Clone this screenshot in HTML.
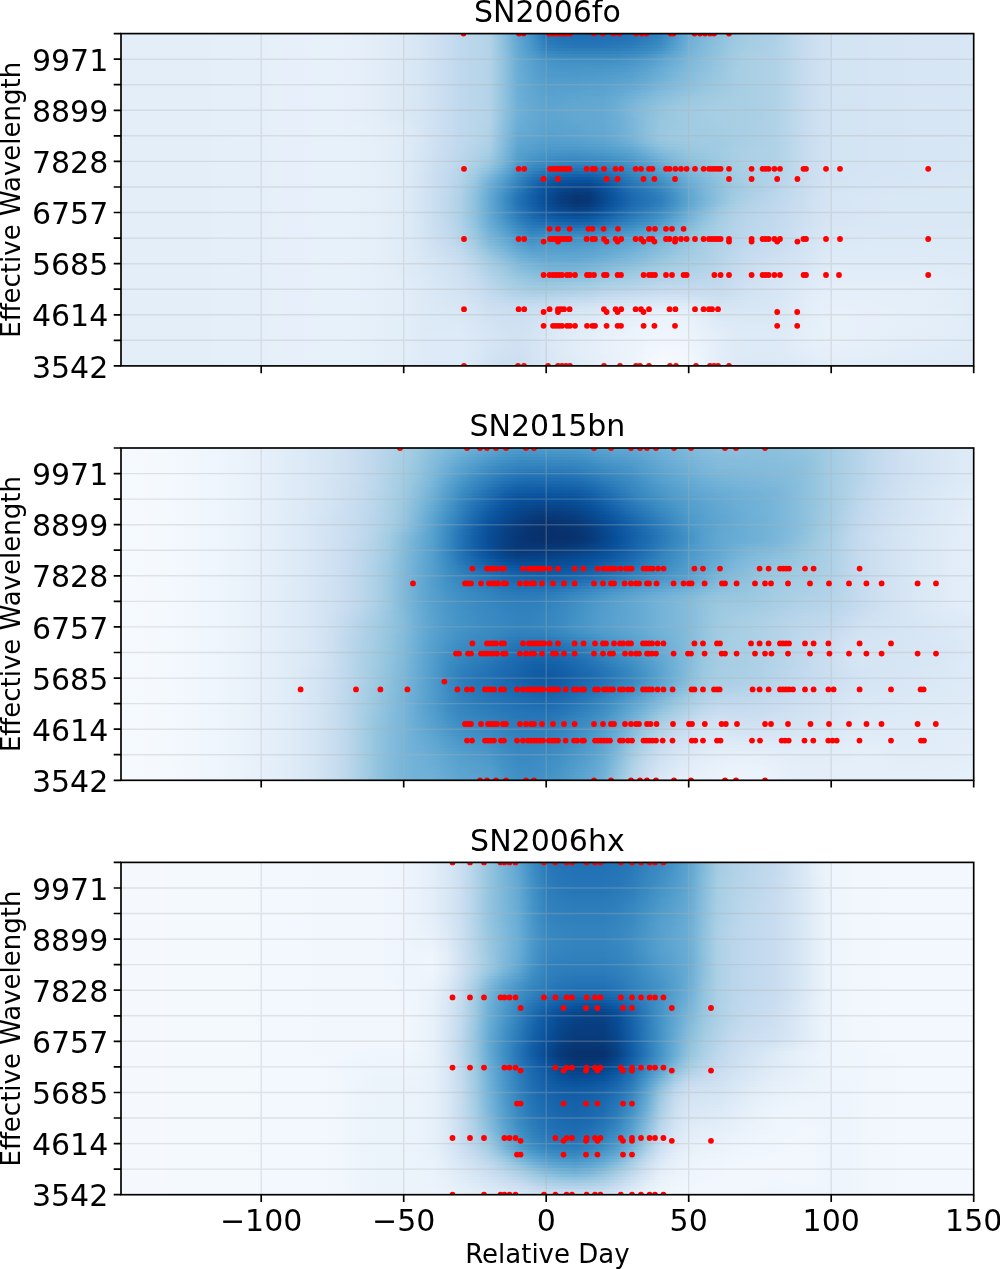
<!DOCTYPE html>
<html><head><meta charset="utf-8"><title>Light curve surfaces</title>
<style>
html,body{margin:0;padding:0;background:#fff}
body{width:1000px;height:1269px;position:relative;overflow:hidden;font-family:"DejaVu Sans","Liberation Sans",sans-serif}
.hm{position:absolute;left:121.0px;width:852.7px;overflow:hidden}
.hm i{display:block;height:3px;width:855.0px;margin-left:-2.3px}
svg{position:absolute;left:0;top:0}
text{font-family:"DejaVu Sans","Liberation Sans",sans-serif;fill:#000}
.t{font-size:30px}
.l{font-size:26px}
.g{stroke:#b0b0b0;stroke-opacity:.3;stroke-width:1.4;fill:none}
.s{stroke:#000;stroke-width:1.67;fill:none}
.d{fill:#f00}
</style></head><body>

<div class="hm" style="top:33px;height:333px">
<i style="background:linear-gradient(90deg,#e3eef9,#e3eef9,#e3eef9,#e3eef9,#e3eef9,#e3eef9,#e3eef9,#e4eff9,#e4eff9,#e5eff9,#e5eff9,#e6f0f9,#e7f0fa,#e7f0fa,#e7f1fa,#e7f1fa,#e7f0fa,#e5eff9,#e2edf8,#dfebf7,#dce9f6,#d6e6f4,#d0e1f2,#c9ddf0,#bfd8ed,#bad6eb,#b3d3e8,#8cc0dd,#61a7d2,#4493c7,#2676b8,#2070b4,#1f6eb3,#1f6eb3,#1f6eb3,#2070b4,#2373b6,#2a7ab9,#3484bf,#4d99ca,#6caed6,#7db8da,#8cc0dd,#9ac8e0,#a3cce3,#a8cee4,#add0e6,#b8d5ea,#c6dbef,#cde0f1,#d2e3f3,#d3e4f3,#d4e4f4,#d5e5f4,#d5e5f4,#d6e5f4,#d6e6f4,#d6e6f4,#d7e6f5,#d7e6f5,#d8e7f5)"></i>
<i style="background:linear-gradient(90deg,#e3eef9,#e3eef9,#e3eef9,#e3eef9,#e3eef9,#e3eef9,#e3eef9,#e4eff9,#e4eff9,#e5eff9,#e5eff9,#e6f0f9,#e7f0fa,#e7f0fa,#e7f1fa,#e7f1fa,#e7f0fa,#e5eff9,#e2edf8,#dfebf7,#dce9f6,#d6e6f4,#d0e1f2,#c9ddf0,#bfd8ed,#bad6eb,#b3d3e8,#8cc0dd,#61a7d2,#4493c7,#2777b8,#2272b6,#2070b4,#2070b4,#2070b4,#2171b5,#2575b7,#2c7cba,#3585bf,#4e9acb,#6caed6,#7db8da,#8cc0dd,#9ac8e0,#a4cce3,#a8cee4,#add0e6,#b9d6ea,#c6dbef,#cde0f1,#d2e3f3,#d3e4f3,#d4e4f4,#d5e5f4,#d5e5f4,#d6e5f4,#d6e6f4,#d6e6f4,#d7e6f5,#d7e6f5,#d8e7f5)"></i>
<i style="background:linear-gradient(90deg,#e3eef9,#e3eef9,#e3eef9,#e3eef9,#e3eef9,#e3eef9,#e3eef9,#e4eff9,#e4eff9,#e5eff9,#e5eff9,#e6f0f9,#e7f0fa,#e7f0fa,#e7f1fa,#e7f1fa,#e7f0fa,#e5eff9,#e2edf8,#dfebf7,#dce9f6,#d6e6f4,#d0e1f2,#c9ddf0,#bfd8ed,#bad6eb,#b3d3e8,#8cc0dd,#61a7d2,#4594c7,#2a7ab9,#2474b7,#2272b6,#2272b6,#2272b6,#2373b6,#2777b8,#2e7ebc,#3888c1,#519ccc,#6dafd7,#7fb9da,#8dc1dd,#9ac8e0,#a4cce3,#a9cfe5,#add0e6,#b9d6ea,#c6dbef,#cde0f1,#d2e3f3,#d3e4f3,#d4e4f4,#d5e5f4,#d5e5f4,#d6e5f4,#d6e6f4,#d6e6f4,#d7e6f5,#d7e6f5,#d8e7f5)"></i>
<i style="background:linear-gradient(90deg,#e3eef9,#e3eef9,#e3eef9,#e3eef9,#e3eef9,#e3eef9,#e3eef9,#e4eff9,#e4eff9,#e5eff9,#e5eff9,#e6f0f9,#e7f0fa,#e7f0fa,#e7f1fa,#e7f1fa,#e7f0fa,#e5eff9,#e2edf8,#dfebf7,#dce9f6,#d6e6f4,#d0e1f2,#c9ddf0,#bfd8ed,#bad6eb,#b3d3e8,#8dc1dd,#63a8d3,#4695c8,#2c7cba,#2676b8,#2474b7,#2474b7,#2474b7,#2676b8,#2a7ab9,#3181bd,#3a8ac2,#539ecd,#6fb0d7,#7fb9da,#8dc1dd,#9cc9e1,#a4cce3,#a9cfe5,#aed1e7,#b9d6ea,#c6dbef,#cde0f1,#d2e3f3,#d3e4f3,#d4e4f4,#d5e5f4,#d5e5f4,#d6e5f4,#d6e6f4,#d6e6f4,#d7e6f5,#d7e6f5,#d8e7f5)"></i>
<i style="background:linear-gradient(90deg,#e3eef9,#e3eef9,#e3eef9,#e3eef9,#e3eef9,#e3eef9,#e3eef9,#e4eff9,#e4eff9,#e5eff9,#e5eff9,#e6f0f9,#e7f0fa,#e7f0fa,#e7f1fa,#e7f1fa,#e7f0fa,#e5eff9,#e2edf8,#dfebf7,#dce9f6,#d6e6f4,#d0e1f2,#c9ddf0,#bfd8ed,#bad6eb,#b3d3e8,#8dc1dd,#63a8d3,#4997c9,#2f7fbc,#2a7ab9,#2777b8,#2777b8,#2777b8,#2a7ab9,#2d7dbb,#3484bf,#3e8ec4,#56a0ce,#71b1d7,#81badb,#8fc2de,#9cc9e1,#a5cde3,#a9cfe5,#aed1e7,#b9d6ea,#c6dbef,#cde0f1,#d2e3f3,#d3e4f3,#d4e4f4,#d5e5f4,#d5e5f4,#d6e5f4,#d6e6f4,#d6e6f4,#d7e6f5,#d7e6f5,#d8e7f5)"></i>
<i style="background:linear-gradient(90deg,#e3eef9,#e3eef9,#e3eef9,#e3eef9,#e3eef9,#e3eef9,#e3eef9,#e4eff9,#e4eff9,#e5eff9,#e5eff9,#e6f0f9,#e7f0fa,#e7f0fa,#e7f1fa,#e7f1fa,#e7f0fa,#e5eff9,#e2edf8,#dfebf7,#dce9f6,#d6e6f4,#d0e1f2,#c9ddf0,#bfd8ed,#bad6eb,#b3d3e8,#8dc1dd,#64a9d3,#4a98c9,#3383be,#2e7ebc,#2d7dbb,#2d7dbb,#2d7dbb,#2e7ebc,#3282be,#3888c1,#4292c6,#5aa2cf,#72b2d8,#82bbdb,#8fc2de,#9dcae1,#a6cee4,#aacfe5,#aed1e7,#b9d6ea,#c6dbef,#cde0f1,#d2e3f3,#d3e4f3,#d4e4f4,#d5e5f4,#d5e5f4,#d6e5f4,#d6e6f4,#d6e6f4,#d7e6f5,#d7e6f5,#d8e7f5)"></i>
<i style="background:linear-gradient(90deg,#e3eef9,#e3eef9,#e3eef9,#e3eef9,#e3eef9,#e3eef9,#e3eef9,#e4eff9,#e4eff9,#e5eff9,#e5eff9,#e6f0f9,#e7f0fa,#e7f0fa,#e7f1fa,#e7f1fa,#e7f0fa,#e5eff9,#e2edf8,#dfebf7,#dce9f6,#d6e6f4,#d0e1f2,#c9ddf0,#bfd8ed,#bad6eb,#b3d3e8,#8fc2de,#65aad4,#4e9acb,#3989c1,#3484bf,#3282be,#3282be,#3282be,#3484bf,#3787c0,#3e8ec4,#4a98c9,#5fa6d1,#75b4d8,#84bcdb,#91c3de,#9fcae1,#a8cee4,#abd0e6,#afd1e7,#b9d6ea,#c6dbef,#cde0f1,#d2e3f3,#d3e4f3,#d4e4f4,#d5e5f4,#d5e5f4,#d6e5f4,#d6e6f4,#d6e6f4,#d7e6f5,#d7e6f5,#d8e7f5)"></i>
<i style="background:linear-gradient(90deg,#e3eef9,#e3eef9,#e3eef9,#e3eef9,#e3eef9,#e3eef9,#e3eef9,#e4eff9,#e4eff9,#e5eff9,#e5eff9,#e6f0f9,#e7f0fa,#e7f0fa,#e7f1fa,#e7f1fa,#e7f0fa,#e5eff9,#e2edf8,#dfebf7,#dce9f6,#d6e6f4,#d0e1f2,#c9ddf0,#bfd8ed,#bad6eb,#b3d3e8,#8fc2de,#66abd4,#519ccc,#3e8ec4,#3a8ac2,#3888c1,#3888c1,#3888c1,#3a8ac2,#3d8dc4,#4594c7,#539ecd,#64a9d3,#79b5d9,#85bcdc,#92c4de,#a0cbe2,#a9cfe5,#add0e6,#afd1e7,#b9d6ea,#c6dbef,#cde0f1,#d2e3f3,#d3e4f3,#d4e4f4,#d5e5f4,#d5e5f4,#d6e5f4,#d6e6f4,#d6e6f4,#d7e6f5,#d7e6f5,#d8e7f5)"></i>
<i style="background:linear-gradient(90deg,#e3eef9,#e3eef9,#e3eef9,#e3eef9,#e3eef9,#e3eef9,#e3eef9,#e4eff9,#e4eff9,#e5eff9,#e5eff9,#e6f0f9,#e7f0fa,#e7f0fa,#e7f1fa,#e7f1fa,#e7f0fa,#e5eff9,#e2edf8,#dfebf7,#dce9f6,#d6e6f4,#d0e1f2,#c9ddf0,#bfd8ed,#bad6eb,#b3d3e8,#91c3de,#68acd5,#539ecd,#4292c6,#3e8ec4,#3d8dc4,#3d8dc4,#3d8dc4,#3e8ec4,#4292c6,#4b98ca,#5aa2cf,#69add5,#7ab6d9,#89bedc,#94c4df,#a1cbe2,#a9cfe5,#add0e6,#b0d2e7,#b9d6ea,#c6dbef,#cde0f1,#d2e3f3,#d3e4f3,#d4e4f4,#d5e5f4,#d5e5f4,#d6e5f4,#d6e6f4,#d6e6f4,#d7e6f5,#d7e6f5,#d8e7f5)"></i>
<i style="background:linear-gradient(90deg,#e3eef9,#e3eef9,#e3eef9,#e3eef9,#e3eef9,#e3eef9,#e3eef9,#e4eff9,#e4eff9,#e5eff9,#e5eff9,#e6f0f9,#e7f0fa,#e7f0fa,#e7f1fa,#e7f1fa,#e7f0fa,#e5eff9,#e2edf8,#dfebf7,#dce9f6,#d6e6f4,#d0e1f2,#c9ddf0,#bfd8ed,#bad6eb,#b3d3e8,#91c3de,#68acd5,#56a0ce,#4695c8,#4191c6,#4090c5,#4090c5,#4090c5,#4292c6,#4896c8,#519ccc,#5da5d1,#6caed6,#7db8da,#8abfdd,#95c5df,#a1cbe2,#a9cfe5,#add0e6,#b0d2e7,#b9d6ea,#c6dbef,#cde0f1,#d2e3f3,#d3e4f3,#d4e4f4,#d5e5f4,#d5e5f4,#d6e5f4,#d6e6f4,#d6e6f4,#d7e6f5,#d7e6f5,#d8e7f5)"></i>
<i style="background:linear-gradient(90deg,#e3eef9,#e3eef9,#e3eef9,#e3eef9,#e3eef9,#e3eef9,#e3eef9,#e4eff9,#e4eff9,#e5eff9,#e5eff9,#e6f0f9,#e7f0fa,#e7f0fa,#e7f1fa,#e7f1fa,#e7f0fa,#e5eff9,#e2edf8,#dfebf7,#dce9f6,#d6e6f4,#d0e1f2,#c9ddf0,#bfd8ed,#bad6eb,#b3d3e8,#91c3de,#69add5,#57a0ce,#4997c9,#4594c7,#4493c7,#4493c7,#4493c7,#4695c8,#4b98ca,#549fcd,#61a7d2,#6fb0d7,#7fb9da,#8abfdd,#95c5df,#a1cbe2,#a9cfe5,#add0e6,#b0d2e7,#b9d6ea,#c6dbef,#cde0f1,#d2e3f3,#d3e4f3,#d4e4f4,#d5e5f4,#d5e5f4,#d6e5f4,#d6e6f4,#d6e6f4,#d7e6f5,#d7e6f5,#d8e7f5)"></i>
<i style="background:linear-gradient(90deg,#e3eef9,#e3eef9,#e3eef9,#e3eef9,#e3eef9,#e3eef9,#e3eef9,#e4eff9,#e4eff9,#e5eff9,#e5eff9,#e6f0f9,#e7f0fa,#e7f0fa,#e7f1fa,#e7f1fa,#e7f0fa,#e5eff9,#e2edf8,#dfebf7,#dce9f6,#d6e6f4,#d0e1f2,#c9ddf0,#bfd8ed,#bad6eb,#b3d3e8,#91c3de,#69add5,#58a1cf,#4a98c9,#4896c8,#4695c8,#4896c8,#4896c8,#4a98c9,#4f9bcb,#58a1cf,#65aad4,#72b2d8,#81badb,#8cc0dd,#97c6df,#a1cbe2,#a9cfe5,#add0e6,#b0d2e7,#b9d6ea,#c6dbef,#cde0f1,#d2e3f3,#d3e4f3,#d4e4f4,#d5e5f4,#d5e5f4,#d6e5f4,#d6e6f4,#d6e6f4,#d7e6f5,#d7e6f5,#d8e7f5)"></i>
<i style="background:linear-gradient(90deg,#e3eef9,#e3eef9,#e3eef9,#e3eef9,#e3eef9,#e3eef9,#e3eef9,#e4eff9,#e4eff9,#e5eff9,#e5eff9,#e6f0f9,#e7f0fa,#e7f0fa,#e7f1fa,#e7f1fa,#e7f0fa,#e5eff9,#e2edf8,#dfebf7,#dce9f6,#d6e6f4,#d0e1f2,#c9ddf0,#bfd8ed,#bad6eb,#b3d3e8,#91c3de,#69add5,#5aa2cf,#4d99ca,#4a98c9,#4997c9,#4a98c9,#4b98ca,#4e9acb,#529dcc,#5ca4d0,#68acd5,#75b4d8,#82bbdb,#8dc1dd,#97c6df,#a3cce3,#a9cfe5,#add0e6,#b0d2e7,#b9d6ea,#c6dbef,#cde0f1,#d2e3f3,#d3e4f3,#d4e4f4,#d5e5f4,#d5e5f4,#d6e5f4,#d6e6f4,#d6e6f4,#d7e6f5,#d7e6f5,#d8e7f5)"></i>
<i style="background:linear-gradient(90deg,#e3eef9,#e3eef9,#e3eef9,#e3eef9,#e3eef9,#e3eef9,#e3eef9,#e4eff9,#e4eff9,#e5eff9,#e5eff9,#e6f0f9,#e7f0fa,#e7f0fa,#e7f1fa,#e7f1fa,#e7f0fa,#e5eff9,#e2edf8,#dfebf7,#dce9f6,#d6e6f4,#d0e1f2,#c9ddf0,#bfd8ed,#bad6eb,#b3d3e8,#91c3de,#6aaed6,#5aa2cf,#4e9acb,#4d99ca,#4b98ca,#4d99ca,#4e9acb,#519ccc,#56a0ce,#5fa6d1,#6aaed6,#79b5d9,#85bcdc,#8fc2de,#99c7e0,#a3cce3,#a9cfe5,#add0e6,#b0d2e7,#b9d6ea,#c6dbef,#cde0f1,#d2e3f3,#d3e4f3,#d4e4f4,#d5e5f4,#d5e5f4,#d6e5f4,#d6e6f4,#d6e6f4,#d7e6f5,#d7e6f5,#d8e7f5)"></i>
<i style="background:linear-gradient(90deg,#e3eef9,#e3eef9,#e3eef9,#e3eef9,#e3eef9,#e3eef9,#e3eef9,#e4eff9,#e4eff9,#e5eff9,#e5eff9,#e6f0f9,#e7f0fa,#e7f0fa,#e7f1fa,#e7f1fa,#e7f0fa,#e5eff9,#e2edf8,#dfebf7,#dce9f6,#d6e6f4,#d0e1f2,#c9ddf0,#bfd8ed,#bad6eb,#b3d3e8,#91c3de,#6aaed6,#5ba3d0,#4f9bcb,#4e9acb,#4e9acb,#4f9bcb,#519ccc,#549fcd,#58a1cf,#63a8d3,#6dafd7,#7ab6d9,#87bddc,#91c3de,#99c7e0,#a3cce3,#a9cfe5,#add0e6,#b0d2e7,#b9d6ea,#c6dbef,#cde0f1,#d2e3f3,#d3e4f3,#d4e4f4,#d5e5f4,#d5e5f4,#d6e5f4,#d6e6f4,#d6e6f4,#d7e6f5,#d7e6f5,#d8e7f5)"></i>
<i style="background:linear-gradient(90deg,#e3eef9,#e3eef9,#e3eef9,#e3eef9,#e3eef9,#e3eef9,#e3eef9,#e4eff9,#e4eff9,#e5eff9,#e5eff9,#e6f0f9,#e7f0fa,#e7f0fa,#e7f1fa,#e7f1fa,#e7f0fa,#e5eff9,#e2edf8,#dfebf7,#dce9f6,#d6e6f4,#d0e1f2,#c9ddf0,#bfd8ed,#bad6eb,#b3d3e8,#91c3de,#6aaed6,#5ca4d0,#529dcc,#519ccc,#519ccc,#529dcc,#539ecd,#57a0ce,#5ca4d0,#65aad4,#71b1d7,#7db8da,#89bedc,#92c4de,#9ac8e0,#a3cce3,#a9cfe5,#add0e6,#b0d2e7,#b9d6ea,#c6dbef,#cde0f1,#d2e3f3,#d3e4f3,#d4e4f4,#d5e5f4,#d5e5f4,#d6e5f4,#d6e6f4,#d6e6f4,#d7e6f5,#d7e6f5,#d8e7f5)"></i>
<i style="background:linear-gradient(90deg,#e3eef9,#e3eef9,#e3eef9,#e3eef9,#e3eef9,#e3eef9,#e3eef9,#e4eff9,#e4eff9,#e5eff9,#e5eff9,#e6f0f9,#e7f0fa,#e7f0fa,#e7f1fa,#e7f1fa,#e7f0fa,#e5eff9,#e2edf8,#dfebf7,#dce9f6,#d6e6f4,#d0e1f2,#c9ddf0,#bfd8ed,#bad6eb,#b3d3e8,#91c3de,#6aaed6,#5da5d1,#539ecd,#539ecd,#529dcc,#549fcd,#56a0ce,#5aa2cf,#5fa6d1,#68acd5,#75b4d8,#81badb,#8abfdd,#94c4df,#9cc9e1,#a4cce3,#a9cfe5,#add0e6,#b0d2e7,#b9d6ea,#c6dbef,#cde0f1,#d2e3f3,#d3e4f3,#d4e4f4,#d5e5f4,#d5e5f4,#d6e5f4,#d6e6f4,#d6e6f4,#d7e6f5,#d7e6f5,#d8e7f5)"></i>
<i style="background:linear-gradient(90deg,#e3eef9,#e3eef9,#e3eef9,#e3eef9,#e3eef9,#e3eef9,#e3eef9,#e4eff9,#e4eff9,#e5eff9,#e5eff9,#e6f0f9,#e7f0fa,#e7f0fa,#e7f1fa,#e7f1fa,#e7f0fa,#e5eff9,#e2edf8,#dfebf7,#dce9f6,#d6e6f4,#d0e1f2,#c9ddf0,#bfd8ed,#bad6eb,#b3d3e8,#91c3de,#6caed6,#5da5d1,#549fcd,#549fcd,#549fcd,#56a0ce,#58a1cf,#5ca4d0,#61a7d2,#6caed6,#79b5d9,#82bbdb,#8cc0dd,#95c5df,#9cc9e1,#a4cce3,#a9cfe5,#add0e6,#b0d2e7,#b9d6ea,#c6dbef,#cde0f1,#d2e3f3,#d3e4f3,#d4e4f4,#d5e5f4,#d5e5f4,#d6e5f4,#d6e6f4,#d6e6f4,#d7e6f5,#d7e6f5,#d8e7f5)"></i>
<i style="background:linear-gradient(90deg,#e3eef9,#e3eef9,#e3eef9,#e3eef9,#e3eef9,#e3eef9,#e3eef9,#e4eff9,#e4eff9,#e5eff9,#e5eff9,#e6f0f9,#e7f0fa,#e7f0fa,#e7f1fa,#e7f1fa,#e7f0fa,#e5eff9,#e2edf8,#dfebf7,#dce9f6,#d6e6f4,#d0e1f2,#c9ddf0,#bfd8ed,#bad6eb,#b3d3e8,#91c3de,#6caed6,#5fa6d1,#56a0ce,#56a0ce,#57a0ce,#58a1cf,#5aa2cf,#5fa6d1,#65aad4,#6fb0d7,#7cb7da,#85bcdc,#8fc2de,#97c6df,#9dcae1,#a4cce3,#a9cfe5,#add0e6,#b0d2e7,#b9d6ea,#c6dbef,#cde0f1,#d2e3f3,#d3e4f3,#d4e4f4,#d5e5f4,#d5e5f4,#d6e5f4,#d6e6f4,#d6e6f4,#d7e6f5,#d7e6f5,#d8e7f5)"></i>
<i style="background:linear-gradient(90deg,#e3eef9,#e3eef9,#e3eef9,#e3eef9,#e3eef9,#e3eef9,#e3eef9,#e4eff9,#e4eff9,#e5eff9,#e5eff9,#e6f0f9,#e7f0fa,#e7f0fa,#e7f1fa,#e7f1fa,#e7f0fa,#e5eff9,#e2edf8,#dfebf7,#dce9f6,#d6e6f4,#d0e1f2,#c9ddf0,#bfd8ed,#bad6eb,#b3d3e8,#91c3de,#6caed6,#60a7d2,#57a0ce,#58a1cf,#58a1cf,#5ba3d0,#5ca4d0,#61a7d2,#69add5,#74b3d8,#81badb,#8abfdd,#92c4de,#99c7e0,#9fcae1,#a5cde3,#a9cfe5,#add0e6,#b0d2e7,#b9d6ea,#c6dbef,#cde0f1,#d2e3f3,#d3e4f3,#d4e4f4,#d5e5f4,#d5e5f4,#d6e5f4,#d6e6f4,#d6e6f4,#d7e6f5,#d7e6f5,#d8e7f5)"></i>
<i style="background:linear-gradient(90deg,#e3eef9,#e3eef9,#e3eef9,#e3eef9,#e3eef9,#e3eef9,#e3eef9,#e4eff9,#e4eff9,#e5eff9,#e5eff9,#e6f0f9,#e7f0fa,#e7f0fa,#e7f1fa,#e7f1fa,#e7f0fa,#e5eff9,#e2edf8,#dfebf7,#dce9f6,#d6e6f4,#d0e1f2,#c9ddf0,#bfd8ed,#bad6eb,#b3d3e8,#91c3de,#6dafd7,#61a7d2,#58a1cf,#5aa2cf,#5ba3d0,#5ca4d0,#5da5d1,#64a9d3,#6dafd7,#79b5d9,#84bcdb,#8dc1dd,#95c5df,#9cc9e1,#a1cbe2,#a5cde3,#a9cfe5,#add0e6,#b0d2e7,#b9d6ea,#c6dbef,#cde0f1,#d2e3f3,#d3e4f3,#d4e4f4,#d5e5f4,#d5e5f4,#d6e5f4,#d6e6f4,#d6e6f4,#d7e6f5,#d7e6f5,#d8e7f5)"></i>
<i style="background:linear-gradient(90deg,#e3eef9,#e3eef9,#e3eef9,#e3eef9,#e3eef9,#e3eef9,#e3eef9,#e4eff9,#e4eff9,#e5eff9,#e5eff9,#e6f0f9,#e7f0fa,#e7f0fa,#e7f1fa,#e7f1fa,#e7f0fa,#e5eff9,#e2edf8,#dfebf7,#dce9f6,#d6e6f4,#d0e1f2,#c9ddf0,#bfd8ed,#bad6eb,#b3d3e8,#91c3de,#6dafd7,#63a8d3,#5ba3d0,#5ba3d0,#5ca4d0,#5fa6d1,#60a7d2,#66abd4,#71b1d7,#7db8da,#89bedc,#91c3de,#99c7e0,#9fcae1,#a3cce3,#a6cee4,#a9cfe5,#add0e6,#b0d2e7,#b9d6ea,#c6dbef,#cde0f1,#d2e3f3,#d3e4f3,#d4e4f4,#d5e5f4,#d5e5f4,#d6e5f4,#d6e6f4,#d6e6f4,#d7e6f5,#d7e6f5,#d8e7f5)"></i>
<i style="background:linear-gradient(90deg,#e3eef9,#e3eef9,#e3eef9,#e3eef9,#e3eef9,#e3eef9,#e3eef9,#e4eff9,#e4eff9,#e5eff9,#e5eff9,#e6f0f9,#e7f0fa,#e7f0fa,#e7f1fa,#e7f1fa,#e7f0fa,#e5eff9,#e2edf8,#dfebf7,#dce9f6,#d6e6f4,#d0e1f2,#c9ddf0,#bfd8ed,#bad6eb,#b3d3e8,#91c3de,#6dafd7,#63a8d3,#5ca4d0,#5ca4d0,#5fa6d1,#60a7d2,#61a7d2,#69add5,#75b4d8,#81badb,#8cc0dd,#94c4df,#9cc9e1,#a0cbe2,#a4cce3,#a6cee4,#a9cfe5,#add0e6,#b0d2e7,#b9d6ea,#c6dbef,#cde0f1,#d2e3f3,#d3e4f3,#d4e4f4,#d5e5f4,#d5e5f4,#d6e5f4,#d6e6f4,#d6e6f4,#d7e6f5,#d7e6f5,#d8e7f5)"></i>
<i style="background:linear-gradient(90deg,#e3eef9,#e3eef9,#e3eef9,#e3eef9,#e3eef9,#e3eef9,#e3eef9,#e4eff9,#e4eff9,#e5eff9,#e5eff9,#e6f0f9,#e7f0fa,#e7f0fa,#e7f1fa,#e7f1fa,#e7f0fa,#e5eff9,#e2edf8,#dfebf7,#dce9f6,#d6e6f4,#d0e1f2,#c9ddf0,#bfd8ed,#bad6eb,#b3d3e8,#91c3de,#6fb0d7,#64a9d3,#5ca4d0,#5da5d1,#60a7d2,#61a7d2,#63a8d3,#6aaed6,#79b5d9,#84bcdb,#8fc2de,#97c6df,#9dcae1,#a1cbe2,#a5cde3,#a8cee4,#a9cfe5,#add0e6,#b0d2e7,#b9d6ea,#c6dbef,#cde0f1,#d2e3f3,#d3e4f3,#d4e4f4,#d5e5f4,#d5e5f4,#d6e5f4,#d6e6f4,#d6e6f4,#d7e6f5,#d7e6f5,#d8e7f5)"></i>
<i style="background:linear-gradient(90deg,#e3eef9,#e3eef9,#e3eef9,#e3eef9,#e3eef9,#e3eef9,#e3eef9,#e4eff9,#e4eff9,#e5eff9,#e5eff9,#e6f0f9,#e7f0fa,#e7f0fa,#e7f1fa,#e7f1fa,#e7f0fa,#e5eff9,#e2edf8,#dfebf7,#dce9f6,#d6e6f4,#d0e1f2,#c9ddf0,#bfd8ed,#bad6eb,#b3d3e8,#91c3de,#6fb0d7,#64a9d3,#5da5d1,#5fa6d1,#60a7d2,#63a8d3,#64a9d3,#6caed6,#7ab6d9,#87bddc,#92c4de,#9ac8e0,#9fcae1,#a3cce3,#a6cee4,#a8cee4,#a9cfe5,#abd0e6,#b0d2e7,#b9d6ea,#c6dbef,#cde0f1,#d2e3f3,#d3e4f3,#d4e4f4,#d5e5f4,#d5e5f4,#d6e5f4,#d6e6f4,#d6e6f4,#d7e6f5,#d7e6f5,#d8e7f5)"></i>
<i style="background:linear-gradient(90deg,#e3eef9,#e3eef9,#e3eef9,#e3eef9,#e3eef9,#e3eef9,#e3eef9,#e4eff9,#e4eff9,#e5eff9,#e5eff9,#e6f0f9,#e7f0fa,#e7f0fa,#e7f1fa,#e7f1fa,#e7f0fa,#e5eff9,#e2edf8,#dfebf7,#dce9f6,#d6e6f4,#d0e1f2,#c9ddf0,#bfd8ed,#bad6eb,#b3d3e8,#91c3de,#6fb0d7,#64a9d3,#5da5d1,#5fa6d1,#61a7d2,#63a8d3,#64a9d3,#6dafd7,#7cb7da,#89bedc,#94c4df,#9ac8e0,#a0cbe2,#a4cce3,#a6cee4,#a8cee4,#a9cfe5,#abd0e6,#b0d2e7,#b9d6ea,#c6dbef,#cde0f1,#d2e3f3,#d3e4f3,#d4e4f4,#d5e5f4,#d5e5f4,#d6e5f4,#d6e6f4,#d6e6f4,#d7e6f5,#d7e6f5,#d8e7f5)"></i>
<i style="background:linear-gradient(90deg,#e3eef9,#e3eef9,#e3eef9,#e3eef9,#e3eef9,#e3eef9,#e3eef9,#e4eff9,#e4eff9,#e5eff9,#e5eff9,#e6f0f9,#e7f0fa,#e7f0fa,#e7f1fa,#e7f1fa,#e7f0fa,#e5eff9,#e2edf8,#dfebf7,#dce9f6,#d6e6f4,#d0e1f2,#c9ddf0,#bfd8ed,#bad6eb,#b3d3e8,#8fc2de,#6fb0d7,#64a9d3,#5da5d1,#5fa6d1,#61a7d2,#63a8d3,#64a9d3,#6dafd7,#7cb7da,#89bedc,#94c4df,#9cc9e1,#a0cbe2,#a4cce3,#a6cee4,#a8cee4,#a9cfe5,#abd0e6,#b0d2e7,#b9d6ea,#c6dbef,#cde0f1,#d2e3f3,#d3e4f3,#d4e4f4,#d5e5f4,#d5e5f4,#d6e5f4,#d6e6f4,#d6e6f4,#d7e6f5,#d7e6f5,#d8e7f5)"></i>
<i style="background:linear-gradient(90deg,#e3eef9,#e3eef9,#e3eef9,#e3eef9,#e3eef9,#e3eef9,#e3eef9,#e4eff9,#e4eff9,#e5eff9,#e5eff9,#e6f0f9,#e7f0fa,#e7f0fa,#e7f1fa,#e7f1fa,#e7f0fa,#e5eff9,#e3eef8,#dfecf7,#dce9f6,#d6e6f4,#d0e1f2,#c9ddf0,#bfd8ed,#bad6eb,#b3d3e8,#8fc2de,#6fb0d7,#64a9d3,#5da5d1,#5fa6d1,#61a7d2,#63a8d3,#64a9d3,#6caed6,#7cb7da,#8abfdd,#95c5df,#9cc9e1,#a0cbe2,#a4cce3,#a6cee4,#a8cee4,#a9cfe5,#abd0e6,#b0d2e7,#b9d6ea,#c6dbef,#cde0f1,#d2e3f3,#d3e4f3,#d4e4f4,#d5e5f4,#d5e5f4,#d6e5f4,#d6e6f4,#d6e6f4,#d7e6f5,#d7e6f5,#d8e7f5)"></i>
<i style="background:linear-gradient(90deg,#e3eef9,#e3eef9,#e3eef9,#e3eef9,#e3eef9,#e3eef9,#e3eef9,#e4eff9,#e4eff9,#e5eff9,#e5eff9,#e6f0f9,#e7f0fa,#e7f0fa,#e7f1fa,#e7f1fa,#e7f0fa,#e5eff9,#e3eef8,#dfecf7,#dceaf6,#d7e6f5,#d0e1f2,#c9ddf0,#bfd8ed,#bad6eb,#b3d3e8,#8fc2de,#6dafd7,#64a9d3,#5da5d1,#5fa6d1,#60a7d2,#63a8d3,#64a9d3,#6caed6,#7ab6d9,#8abfdd,#95c5df,#9cc9e1,#a0cbe2,#a3cce3,#a6cee4,#a8cee4,#a9cfe5,#abd0e6,#b0d2e7,#b9d6ea,#c6dbef,#cde0f1,#d2e3f3,#d3e4f3,#d4e4f4,#d5e5f4,#d5e5f4,#d6e5f4,#d6e6f4,#d6e6f4,#d7e6f5,#d7e6f5,#d8e7f5)"></i>
<i style="background:linear-gradient(90deg,#e3eef9,#e3eef9,#e3eef9,#e3eef9,#e3eef9,#e3eef9,#e3eef9,#e4eff9,#e4eff9,#e5eff9,#e5eff9,#e6f0f9,#e7f0fa,#e7f0fa,#e7f1fa,#e7f1fa,#e7f0fa,#e5eff9,#e3eef9,#e0ecf8,#ddeaf7,#d7e6f5,#d0e1f2,#c9ddf0,#bfd8ed,#bad6eb,#b3d3e8,#8dc1dd,#6caed6,#63a8d3,#5ca4d0,#5da5d1,#60a7d2,#61a7d2,#64a9d3,#6caed6,#7ab6d9,#8abfdd,#97c6df,#9cc9e1,#a0cbe2,#a3cce3,#a5cde3,#a8cee4,#a9cfe5,#add0e6,#b0d2e7,#b9d6ea,#c6dbef,#cde0f1,#d2e3f3,#d3e4f3,#d4e4f4,#d5e5f4,#d5e5f4,#d6e5f4,#d6e6f4,#d6e6f4,#d7e6f5,#d7e6f5,#d8e7f5)"></i>
<i style="background:linear-gradient(90deg,#e3eef9,#e3eef9,#e3eef9,#e3eef9,#e3eef9,#e3eef9,#e3eef9,#e4eff9,#e4eff9,#e5eff9,#e5eff9,#e6f0f9,#e7f0fa,#e7f0fa,#e7f1fa,#e7f1fa,#e7f0fa,#e6f0f9,#e3eef9,#e1edf8,#deebf7,#d8e7f5,#d0e1f2,#c9ddf0,#bfd8ed,#bad6eb,#b2d2e8,#8cc0dd,#6aaed6,#63a8d3,#5ba3d0,#5ca4d0,#5fa6d1,#61a7d2,#64a9d3,#6caed6,#7ab6d9,#8abfdd,#97c6df,#9cc9e1,#a0cbe2,#a3cce3,#a5cde3,#a8cee4,#a9cfe5,#add0e6,#b0d2e7,#b9d6ea,#c6dbef,#cde0f1,#d2e3f3,#d3e4f3,#d4e4f4,#d5e5f4,#d5e5f4,#d6e5f4,#d6e6f4,#d6e6f4,#d7e6f5,#d7e6f5,#d8e7f5)"></i>
<i style="background:linear-gradient(90deg,#e3eef9,#e3eef9,#e3eef9,#e3eef9,#e3eef9,#e3eef9,#e3eef9,#e4eff9,#e4eff9,#e5eff9,#e5eff9,#e6f0f9,#e7f0fa,#e7f0fa,#e7f1fa,#e7f1fa,#e7f0fa,#e6f0f9,#e3eef9,#e1edf8,#deebf7,#d8e7f5,#d0e1f2,#c9ddf0,#bfd8ed,#b9d6ea,#b2d2e8,#8cc0dd,#69add5,#61a7d2,#5ba3d0,#5ca4d0,#5da5d1,#60a7d2,#63a8d3,#6aaed6,#7ab6d9,#8abfdd,#97c6df,#9dcae1,#a0cbe2,#a3cce3,#a4cce3,#a6cee4,#a9cfe5,#add0e6,#b0d2e7,#b9d6ea,#c6dbef,#cde0f1,#d2e3f3,#d3e4f3,#d4e4f4,#d5e5f4,#d5e5f4,#d6e5f4,#d6e6f4,#d6e6f4,#d7e6f5,#d7e6f5,#d8e7f5)"></i>
<i style="background:linear-gradient(90deg,#e3eef9,#e3eef9,#e3eef9,#e3eef9,#e3eef9,#e3eef9,#e3eef9,#e4eff9,#e4eff9,#e5eff9,#e5eff9,#e6f0f9,#e7f0fa,#e7f0fa,#e7f1fa,#e7f1fa,#e7f1fa,#e6f0f9,#e4eff9,#e2edf8,#dfebf7,#d9e7f5,#d0e1f2,#c9ddf0,#bfd8ed,#b9d6ea,#b0d2e7,#8abfdd,#68acd5,#60a7d2,#5aa2cf,#5ba3d0,#5ca4d0,#60a7d2,#63a8d3,#6aaed6,#79b5d9,#8abfdd,#99c7e0,#9dcae1,#a0cbe2,#a1cbe2,#a4cce3,#a6cee4,#a9cfe5,#add0e6,#b0d2e7,#b9d6ea,#c6dbef,#cde0f1,#d2e3f3,#d3e4f3,#d4e4f4,#d5e5f4,#d5e5f4,#d6e5f4,#d6e6f4,#d6e6f4,#d7e6f5,#d7e6f5,#d8e7f5)"></i>
<i style="background:linear-gradient(90deg,#e3eef9,#e3eef9,#e3eef9,#e3eef9,#e3eef9,#e3eef9,#e3eef9,#e4eff9,#e4eff9,#e5eff9,#e5eff9,#e6f0f9,#e7f0fa,#e7f0fa,#e7f1fa,#e7f1fa,#e7f1fa,#e6f0f9,#e4eff9,#e2edf8,#dfecf7,#d9e7f5,#d0e1f2,#c9ddf0,#bfd8ed,#b9d6ea,#b0d2e7,#89bedc,#65aad4,#5fa6d1,#58a1cf,#5aa2cf,#5ba3d0,#5fa6d1,#61a7d2,#6aaed6,#79b5d9,#8abfdd,#99c7e0,#9dcae1,#a0cbe2,#a1cbe2,#a4cce3,#a6cee4,#a9cfe5,#add0e6,#b0d2e7,#b9d6ea,#c6dbef,#cde0f1,#d2e3f3,#d3e4f3,#d4e4f4,#d5e5f4,#d5e5f4,#d6e5f4,#d6e6f4,#d6e6f4,#d7e6f5,#d7e6f5,#d8e7f5)"></i>
<i style="background:linear-gradient(90deg,#e3eef9,#e3eef9,#e3eef9,#e3eef9,#e3eef9,#e3eef9,#e3eef9,#e4eff9,#e4eff9,#e5eff9,#e5eff9,#e6f0f9,#e7f0fa,#e7f0fa,#e7f1fa,#e7f1fa,#e7f1fa,#e6f0f9,#e4eff9,#e2edf8,#dfecf7,#d9e7f5,#d0e1f2,#c9ddf0,#bfd8ed,#b9d6ea,#afd1e7,#87bddc,#64a9d3,#5da5d1,#57a0ce,#58a1cf,#5aa2cf,#5da5d1,#61a7d2,#69add5,#77b5d9,#89bedc,#99c7e0,#9dcae1,#a0cbe2,#a1cbe2,#a3cce3,#a6cee4,#a9cfe5,#add0e6,#b0d2e7,#b9d6ea,#c6dbef,#cde0f1,#d2e3f3,#d3e4f3,#d4e4f4,#d5e5f4,#d5e5f4,#d6e5f4,#d6e6f4,#d6e6f4,#d7e6f5,#d7e6f5,#d8e7f5)"></i>
<i style="background:linear-gradient(90deg,#e3eef9,#e3eef9,#e3eef9,#e3eef9,#e3eef9,#e3eef9,#e3eef9,#e4eff9,#e4eff9,#e5eff9,#e5eff9,#e6f0f9,#e7f0fa,#e7f0fa,#e7f1fa,#e7f1fa,#e7f1fa,#e6f0f9,#e4eff9,#e2edf8,#dfecf7,#d9e7f5,#d0e1f2,#c9ddf0,#bfd8ed,#b8d5ea,#afd1e7,#85bcdc,#63a8d3,#5ca4d0,#56a0ce,#56a0ce,#58a1cf,#5ca4d0,#5fa6d1,#68acd5,#74b3d8,#87bddc,#97c6df,#9cc9e1,#9fcae1,#a1cbe2,#a3cce3,#a5cde3,#aacfe5,#add0e6,#b0d2e7,#b9d6ea,#c6dbef,#cde0f1,#d2e3f3,#d3e4f3,#d4e4f4,#d5e5f4,#d5e5f4,#d6e5f4,#d6e6f4,#d6e6f4,#d7e6f5,#d7e6f5,#d8e7f5)"></i>
<i style="background:linear-gradient(90deg,#e3eef9,#e3eef9,#e3eef9,#e3eef9,#e3eef9,#e3eef9,#e3eef9,#e4eff9,#e4eff9,#e5eff9,#e5eff9,#e6f0f9,#e7f0fa,#e7f0fa,#e7f1fa,#e7f1fa,#e7f1fa,#e6f0f9,#e4eff9,#e2edf8,#dfecf7,#d9e7f5,#d0e1f2,#c8dcf0,#bfd8ed,#b8d5ea,#add0e6,#85bcdc,#60a7d2,#5aa2cf,#539ecd,#539ecd,#549fcd,#58a1cf,#5ca4d0,#64a9d3,#71b1d7,#84bcdb,#94c4df,#9ac8e0,#9dcae1,#a0cbe2,#a1cbe2,#a5cde3,#aacfe5,#add0e6,#b0d2e7,#b9d6ea,#c6dbef,#cde0f1,#d2e3f3,#d3e4f3,#d4e4f4,#d5e5f4,#d5e5f4,#d6e5f4,#d6e6f4,#d6e6f4,#d7e6f5,#d7e6f5,#d8e7f5)"></i>
<i style="background:linear-gradient(90deg,#e3eef9,#e3eef9,#e3eef9,#e3eef9,#e3eef9,#e3eef9,#e3eef9,#e4eff9,#e4eff9,#e5eff9,#e5eff9,#e6f0f9,#e7f0fa,#e7f0fa,#e7f1fa,#e7f1fa,#e7f1fa,#e6f0f9,#e4eff9,#e2edf8,#dfecf7,#d9e7f5,#d0e1f2,#c8dcf0,#bed8ec,#b7d4ea,#abd0e6,#84bcdb,#5fa6d1,#57a0ce,#4f9bcb,#519ccc,#519ccc,#549fcd,#58a1cf,#60a7d2,#6aaed6,#7db8da,#8fc2de,#97c6df,#9cc9e1,#9fcae1,#a1cbe2,#a5cde3,#aacfe5,#add0e6,#b0d2e7,#b9d6ea,#c6dbef,#cde0f1,#d2e3f3,#d3e4f3,#d4e4f4,#d5e5f4,#d5e5f4,#d6e5f4,#d6e6f4,#d6e6f4,#d7e6f5,#d7e6f5,#d8e7f5)"></i>
<i style="background:linear-gradient(90deg,#e3eef9,#e3eef9,#e3eef9,#e3eef9,#e3eef9,#e3eef9,#e3eef9,#e4eff9,#e4eff9,#e5eff9,#e5eff9,#e6f0f9,#e7f0fa,#e7f0fa,#e7f1fa,#e7f1fa,#e7f1fa,#e6f0f9,#e4eff9,#e2edf8,#dfecf7,#d9e7f5,#cfe1f2,#c8dcf0,#bed8ec,#b4d3e9,#a9cfe5,#81badb,#5ca4d0,#549fcd,#4d99ca,#4d99ca,#4d99ca,#4f9bcb,#539ecd,#5aa2cf,#64a9d3,#75b4d8,#89bedc,#92c4de,#9ac8e0,#9dcae1,#a0cbe2,#a6cee4,#abd0e6,#aed1e7,#b0d2e7,#b9d6ea,#c6dbef,#cde0f1,#d2e3f3,#d3e4f3,#d4e4f4,#d5e5f4,#d5e5f4,#d6e5f4,#d6e6f4,#d6e6f4,#d7e6f5,#d7e6f5,#d8e7f5)"></i>
<i style="background:linear-gradient(90deg,#e3eef9,#e3eef9,#e3eef9,#e3eef9,#e3eef9,#e3eef9,#e3eef9,#e4eff9,#e4eff9,#e5eff9,#e5eff9,#e6f0f9,#e7f0fa,#e7f0fa,#e7f1fa,#e7f1fa,#e7f1fa,#e6f0f9,#e4eff9,#e2edf8,#dfecf7,#d8e7f5,#cfe1f2,#c7dcef,#bdd7ec,#b3d3e8,#a6cee4,#7fb9da,#5aa2cf,#519ccc,#4997c9,#4896c8,#4695c8,#4a98c9,#4e9acb,#549fcd,#5fa6d1,#6fb0d7,#82bbdb,#8dc1dd,#97c6df,#9cc9e1,#a0cbe2,#a6cee4,#abd0e6,#aed1e7,#b0d2e7,#b9d6ea,#c6dbef,#cde0f1,#d2e3f3,#d3e4f3,#d4e4f4,#d5e5f4,#d5e5f4,#d6e5f4,#d6e6f4,#d6e6f4,#d7e6f5,#d7e6f5,#d8e7f5)"></i>
<i style="background:linear-gradient(90deg,#e3eef9,#e3eef9,#e3eef9,#e3eef9,#e3eef9,#e3eef9,#e3eef9,#e4eff9,#e4eff9,#e5eff9,#e5eff9,#e6f0f9,#e7f0fa,#e7f0fa,#e7f1fa,#e7f1fa,#e7f1fa,#e6f0f9,#e4eff9,#e2edf8,#dfecf7,#d8e7f5,#cfe1f2,#c7dcef,#bcd7eb,#b2d2e8,#a4cce3,#7db8da,#57a0ce,#4d99ca,#4493c7,#4292c6,#4191c6,#4594c7,#4896c8,#4e9acb,#58a1cf,#68acd5,#7ab6d9,#89bedc,#94c4df,#99c7e0,#9fcae1,#a6cee4,#add0e6,#aed1e7,#b0d2e7,#b9d6ea,#c6dbef,#cde0f1,#d2e3f3,#d3e4f3,#d4e4f4,#d5e5f4,#d5e5f4,#d6e5f4,#d6e6f4,#d6e6f4,#d7e6f5,#d7e6f5,#d8e7f5)"></i>
<i style="background:linear-gradient(90deg,#e3eef9,#e3eef9,#e3eef9,#e3eef9,#e3eef9,#e3eef9,#e3eef9,#e4eff9,#e4eff9,#e5eff9,#e5eff9,#e6f0f9,#e7f0fa,#e7f0fa,#e7f1fa,#e7f1fa,#e7f1fa,#e6f0f9,#e4eff9,#e2edf8,#dfecf7,#d8e7f5,#cee0f2,#c7dbef,#bad6eb,#afd1e7,#a0cbe2,#7ab6d9,#549fcd,#4997c9,#4090c5,#3d8dc4,#3c8cc3,#3f8fc5,#4191c6,#4896c8,#529dcc,#61a7d2,#74b3d8,#84bcdb,#91c3de,#97c6df,#9dcae1,#a6cee4,#add0e6,#aed1e7,#b0d2e7,#b9d6ea,#c6dbef,#cde0f1,#d2e3f3,#d3e4f3,#d4e4f4,#d5e5f4,#d5e5f4,#d6e5f4,#d6e6f4,#d6e6f4,#d7e6f5,#d7e6f5,#d8e7f5)"></i>
<i style="background:linear-gradient(90deg,#e3eef9,#e3eef9,#e3eef9,#e3eef9,#e3eef9,#e3eef9,#e3eef9,#e4eff9,#e4eff9,#e5eff9,#e5eff9,#e6f0f9,#e7f0fa,#e7f0fa,#e7f1fa,#e7f1fa,#e7f1fa,#e6f0f9,#e4eff9,#e2edf8,#dfecf7,#d8e7f5,#cee0f2,#c7dbef,#b9d6ea,#add0e6,#9dcae1,#79b5d9,#529dcc,#4594c7,#3c8cc3,#3989c1,#3787c0,#3a8ac2,#3d8dc4,#4292c6,#4b98ca,#5ba3d0,#6dafd7,#7fb9da,#8dc1dd,#95c5df,#9cc9e1,#a6cee4,#add0e6,#aed1e7,#b0d2e7,#b9d6ea,#c6dbef,#cde0f1,#d2e3f3,#d3e4f3,#d4e4f4,#d5e5f4,#d5e5f4,#d6e5f4,#d6e6f4,#d6e6f4,#d7e6f5,#d7e6f5,#d8e7f5)"></i>
<i style="background:linear-gradient(90deg,#e3eef9,#e3eef9,#e3eef9,#e3eef9,#e3eef9,#e3eef9,#e3eef9,#e4eff9,#e4eff9,#e5eff9,#e5eff9,#e6f0f9,#e7f0fa,#e7f0fa,#e7f1fa,#e7f1fa,#e7f1fa,#e6f0f9,#e4eff9,#e2edf8,#dfecf7,#d8e7f5,#cee0f2,#c6dbef,#b9d6ea,#abd0e6,#99c7e0,#75b4d8,#4e9acb,#4090c5,#3888c1,#3484bf,#3282be,#3585bf,#3787c0,#3d8dc4,#4695c8,#56a0ce,#68acd5,#7ab6d9,#89bedc,#92c4de,#9cc9e1,#a5cde3,#add0e6,#aed1e7,#b0d2e7,#b9d6ea,#c7dbef,#cde0f1,#d2e3f3,#d3e4f3,#d4e4f4,#d5e5f4,#d5e5f4,#d6e5f4,#d6e6f4,#d6e6f4,#d7e6f5,#d7e6f5,#d8e7f5)"></i>
<i style="background:linear-gradient(90deg,#e3eef9,#e3eef9,#e3eef9,#e3eef9,#e3eef9,#e3eef9,#e3eef9,#e4eff9,#e4eff9,#e5eff9,#e5eff9,#e6f0f9,#e7f0fa,#e7f0fa,#e7f1fa,#e7f1fa,#e7f1fa,#e6f0f9,#e4eff9,#e2edf8,#dfecf7,#d8e7f5,#cde0f1,#c6dbef,#b8d5ea,#a9cfe5,#94c4df,#6fb0d7,#4a98c9,#3b8bc2,#3282be,#2d7dbb,#2b7bba,#2d7dbb,#3181bd,#3888c1,#4191c6,#519ccc,#61a7d2,#74b3d8,#85bcdc,#8fc2de,#99c7e0,#a4cce3,#abd0e6,#aed1e7,#b0d2e7,#b9d6ea,#c7dbef,#cde0f1,#d2e3f3,#d3e4f3,#d4e4f4,#d5e5f4,#d5e5f4,#d6e5f4,#d6e6f4,#d6e6f4,#d7e6f5,#d7e6f5,#d8e7f5)"></i>
<i style="background:linear-gradient(90deg,#e3eef9,#e3eef9,#e3eef9,#e3eef9,#e3eef9,#e3eef9,#e3eef9,#e4eff9,#e4eff9,#e5eff9,#e5eff9,#e6f0f9,#e7f0fa,#e7f0fa,#e7f1fa,#e7f1fa,#e7f1fa,#e6f0f9,#e4eff9,#e2edf8,#dfecf7,#d8e7f5,#cde0f1,#c4daee,#b7d4ea,#a5cde3,#8dc1dd,#69add5,#4594c7,#3686c0,#2b7bba,#2575b7,#2272b6,#2474b7,#2a7ab9,#3282be,#3c8cc3,#4a98c9,#5ba3d0,#6caed6,#7fb9da,#8cc0dd,#97c6df,#a3cce3,#abd0e6,#aed1e7,#b0d2e7,#bad6eb,#c7dbef,#cde0f1,#d2e3f3,#d3e4f3,#d4e4f4,#d5e5f4,#d6e5f4,#d6e5f4,#d6e6f4,#d7e6f5,#d7e6f5,#d8e7f5,#d8e7f5)"></i>
<i style="background:linear-gradient(90deg,#e3eef9,#e3eef9,#e3eef9,#e3eef9,#e3eef9,#e3eef9,#e3eef9,#e4eff9,#e4eff9,#e5eff9,#e5eff9,#e6f0f9,#e7f0fa,#e7f0fa,#e7f1fa,#e7f1fa,#e7f1fa,#e6f0f9,#e4eff9,#e2edf8,#dfecf7,#d8e7f5,#cddff1,#c4daee,#b5d4e9,#a3cce3,#87bddc,#64a9d3,#4090c5,#3080bd,#2272b6,#1d6cb1,#1c6ab0,#1c6bb0,#2171b5,#2c7cba,#3787c0,#4493c7,#539ecd,#66abd4,#7ab6d9,#89bedc,#94c4df,#a1cbe2,#aacfe5,#aed1e7,#b2d2e8,#bcd7eb,#c7dbef,#cde0f1,#d3e3f3,#d3e4f3,#d4e4f4,#d5e5f4,#d6e5f4,#d6e6f4,#d6e6f4,#d7e6f5,#d8e7f5,#d8e7f5,#d9e7f5)"></i>
<i style="background:linear-gradient(90deg,#e3eef9,#e3eef9,#e3eef9,#e3eef9,#e3eef9,#e3eef9,#e3eef9,#e4eff9,#e4eff9,#e5eff9,#e5eff9,#e6f0f9,#e7f0fa,#e7f0fa,#e7f1fa,#e7f1fa,#e7f1fa,#e6f0f9,#e4eff9,#e2edf8,#dfecf7,#d7e6f5,#cddff1,#c3daee,#b4d3e9,#9fcae1,#7fb9da,#5da5d1,#3c8cc3,#2a7ab9,#1c6bb0,#1764ab,#1561a9,#1561a9,#1b69af,#2575b7,#3383be,#3e8ec4,#4d99ca,#60a7d2,#74b3d8,#84bcdb,#92c4de,#a0cbe2,#a9cfe5,#aed1e7,#b3d3e8,#bcd7eb,#c7dbef,#cee0f2,#d3e3f3,#d4e4f4,#d5e5f4,#d6e5f4,#d6e5f4,#d6e6f4,#d7e6f5,#d7e6f5,#d8e7f5,#d9e7f5,#d9e7f5)"></i>
<i style="background:linear-gradient(90deg,#e3eef9,#e3eef9,#e3eef9,#e3eef9,#e3eef9,#e3eef9,#e3eef9,#e4eff9,#e4eff9,#e5eff9,#e5eff9,#e6f0f9,#e7f0fa,#e7f0fa,#e7f1fa,#e7f1fa,#e7f1fa,#e6f0f9,#e4eff9,#e2edf8,#dfecf7,#d7e6f5,#cddff1,#c2d9ee,#b3d3e8,#9cc9e1,#79b5d9,#57a0ce,#3888c1,#2373b6,#1663aa,#115ca5,#0e58a2,#0e58a2,#1562a9,#206fb4,#2e7ebc,#3989c1,#4695c8,#5aa2cf,#6fb0d7,#81badb,#8fc2de,#9dcae1,#a8cee4,#aed1e7,#b3d3e8,#bdd7ec,#c7dcef,#cee0f2,#d3e3f3,#d4e4f4,#d5e5f4,#d6e5f4,#d6e6f4,#d6e6f4,#d7e6f5,#d8e7f5,#d8e7f5,#d9e7f5,#d9e7f5)"></i>
<i style="background:linear-gradient(90deg,#e3eef9,#e3eef9,#e3eef9,#e3eef9,#e3eef9,#e3eef9,#e3eef9,#e4eff9,#e4eff9,#e5eff9,#e5eff9,#e6f0f9,#e7f0fa,#e7f0fa,#e7f1fa,#e7f1fa,#e7f1fa,#e6f0f9,#e4eff9,#e2edf8,#dfecf7,#d7e6f5,#ccdff1,#c2d9ee,#b2d2e8,#99c7e0,#72b2d8,#529dcc,#3484bf,#1e6db2,#115ca5,#0a549e,#08509b,#08509b,#105ba4,#1c6ab0,#2a7ab9,#3585bf,#4090c5,#549fcd,#6aaed6,#7db8da,#8dc1dd,#9dcae1,#a8cee4,#aed1e7,#b4d3e9,#bed8ec,#c7dcef,#cee0f2,#d3e4f3,#d4e4f4,#d6e5f4,#d6e5f4,#d6e6f4,#d7e6f5,#d8e7f5,#d8e7f5,#d9e7f5,#d9e7f5,#d9e8f5)"></i>
<i style="background:linear-gradient(90deg,#e3eef9,#e3eef9,#e3eef9,#e3eef9,#e3eef9,#e3eef9,#e3eef9,#e4eff9,#e4eff9,#e5eff9,#e5eff9,#e6f0f9,#e7f0fa,#e7f0fa,#e7f1fa,#e7f1fa,#e7f1fa,#e6f0f9,#e4eff9,#e2edf8,#dfecf7,#d7e6f5,#ccdff1,#c2d9ee,#b0d2e7,#95c5df,#6dafd7,#4d99ca,#3181bd,#1b69af,#0d57a1,#084e98,#084990,#084990,#0b559f,#1966ad,#2676b8,#3181bd,#3b8bc2,#4f9bcb,#66abd4,#7ab6d9,#8cc0dd,#9cc9e1,#a6cee4,#aed1e7,#b5d4e9,#bfd8ed,#c8dcf0,#cfe1f2,#d3e4f3,#d5e5f4,#d6e5f4,#d6e6f4,#d7e6f5,#d7e6f5,#d8e7f5,#d9e7f5,#d9e7f5,#d9e8f5,#d9e8f5)"></i>
<i style="background:linear-gradient(90deg,#e3eef9,#e3eef9,#e3eef9,#e3eef9,#e3eef9,#e3eef9,#e3eef9,#e4eff9,#e4eff9,#e5eff9,#e5eff9,#e6f0f9,#e7f0fa,#e7f0fa,#e7f1fa,#e7f1fa,#e7f1fa,#e6f0f9,#e4eff9,#e2edf8,#dfecf7,#d7e6f5,#ccdff1,#c1d9ed,#afd1e7,#92c4de,#6aaed6,#4997c9,#2e7ebc,#1966ad,#0a549e,#084990,#084488,#084488,#08519c,#1562a9,#2373b6,#2e7ebc,#3888c1,#4d99ca,#64a9d3,#79b5d9,#8cc0dd,#9cc9e1,#a6cee4,#afd1e7,#b7d4ea,#bfd8ed,#c8dcf0,#cfe1f2,#d4e4f4,#d5e5f4,#d6e5f4,#d6e6f4,#d7e6f5,#d8e7f5,#d8e7f5,#d9e7f5,#d9e7f5,#d9e8f5,#d9e8f5)"></i>
<i style="background:linear-gradient(90deg,#e3eef9,#e3eef9,#e3eef9,#e3eef9,#e3eef9,#e3eef9,#e3eef9,#e4eff9,#e4eff9,#e5eff9,#e5eff9,#e6f0f9,#e7f0fa,#e7f0fa,#e7f1fa,#e7f1fa,#e7f1fa,#e6f0f9,#e4eff9,#e2edf8,#dfecf7,#d7e6f5,#ccdff1,#c1d9ed,#afd1e7,#91c3de,#68acd5,#4695c8,#2b7bba,#1663aa,#08519c,#08458a,#083e81,#084082,#084e98,#135fa7,#206fb4,#2a7ab9,#3585bf,#4997c9,#61a7d2,#77b5d9,#8cc0dd,#9cc9e1,#a8cee4,#afd1e7,#b8d5ea,#c1d9ed,#c9ddf0,#d0e1f2,#d4e4f4,#d6e5f4,#d6e6f4,#d7e6f5,#d8e7f5,#d8e7f5,#d9e7f5,#d9e7f5,#d9e8f5,#d9e8f5,#d9e8f5)"></i>
<i style="background:linear-gradient(90deg,#e3eef9,#e3eef9,#e3eef9,#e3eef9,#e3eef9,#e3eef9,#e3eef9,#e4eff9,#e4eff9,#e5eff9,#e5eff9,#e6f0f9,#e7f0fa,#e7f0fa,#e7f1fa,#e7f1fa,#e7f1fa,#e6f0f9,#e4eff9,#e2edf8,#dfecf7,#d7e6f5,#ccdff1,#c1d9ed,#aed1e7,#8fc2de,#66abd4,#4493c7,#2777b8,#1561a9,#084f99,#084184,#083a7a,#083b7c,#084b93,#115ca5,#1d6cb1,#2676b8,#3282be,#4594c7,#60a7d2,#77b5d9,#8cc0dd,#9dcae1,#a9cfe5,#b2d2e8,#b9d6ea,#c2d9ee,#c9ddf0,#d0e1f2,#d5e5f4,#d6e6f4,#d7e6f5,#d8e7f5,#d9e7f5,#d9e7f5,#d9e7f5,#d9e8f5,#d9e8f5,#d9e8f5,#d9e8f5)"></i>
<i style="background:linear-gradient(90deg,#e3eef9,#e3eef9,#e3eef9,#e3eef9,#e3eef9,#e3eef9,#e3eef9,#e4eff9,#e4eff9,#e5eff9,#e5eff9,#e6f0f9,#e7f0fa,#e7f0fa,#e7f1fa,#e7f1fa,#e7f1fa,#e6f0f9,#e4eff9,#e2edf8,#dfecf7,#d7e6f5,#ccdff1,#bfd8ed,#add0e6,#8dc1dd,#65aad4,#4191c6,#2474b7,#135fa7,#084d96,#083e81,#083674,#083877,#084990,#0f5aa3,#1c6ab0,#2474b7,#2f7fbc,#4493c7,#5fa6d1,#75b4d8,#8cc0dd,#9fcae1,#aacfe5,#b3d3e8,#bcd7eb,#c3daee,#caddf0,#d0e2f2,#d6e5f4,#d6e6f4,#d8e7f5,#d9e7f5,#d9e7f5,#d9e8f5,#d9e8f5,#d9e8f5,#d9e8f5,#d9e8f5,#d9e8f5)"></i>
<i style="background:linear-gradient(90deg,#e3eef9,#e3eef9,#e3eef9,#e3eef9,#e3eef9,#e3eef9,#e3eef9,#e4eff9,#e4eff9,#e5eff9,#e5eff9,#e6f0f9,#e7f0fa,#e7f0fa,#e7f1fa,#e7f1fa,#e7f1fa,#e6f0f9,#e4eff9,#e2edf8,#dfecf7,#d7e6f5,#ccdff1,#bfd8ed,#add0e6,#8dc1dd,#64a9d3,#4090c5,#2373b6,#135fa7,#084d96,#083d7f,#083573,#083776,#08488e,#0e59a2,#1b69af,#2373b6,#2e7ebc,#4292c6,#5da5d1,#75b4d8,#8cc0dd,#a0cbe2,#add0e6,#b5d4e9,#bdd7ec,#c4daee,#cadef0,#d1e2f3,#d6e5f4,#d7e6f5,#d8e7f5,#d9e7f5,#d9e8f5,#d9e8f5,#d9e8f5,#d9e8f5,#d9e8f5,#d9e8f5,#d9e8f5)"></i>
<i style="background:linear-gradient(90deg,#e3eef9,#e3eef9,#e3eef9,#e3eef9,#e3eef9,#e3eef9,#e3eef9,#e4eff9,#e4eff9,#e5eff9,#e5eff9,#e6f0f9,#e7f0fa,#e7f0fa,#e7f1fa,#e7f1fa,#e7f1fa,#e6f0f9,#e4eff9,#e2edf8,#dfecf7,#d7e6f5,#ccdff1,#bfd8ed,#add0e6,#8dc1dd,#64a9d3,#4090c5,#2373b6,#135fa7,#084d96,#083e81,#083674,#083877,#084990,#0f5aa3,#1c6ab0,#2474b7,#2f7fbc,#4493c7,#5fa6d1,#77b5d9,#8dc1dd,#a1cbe2,#afd1e7,#b7d4ea,#bdd7ec,#c6dbef,#cadef0,#d1e2f3,#d6e5f4,#d7e6f5,#d8e7f5,#d9e7f5,#d9e8f5,#d9e8f5,#d9e8f5,#d9e8f5,#d9e8f5,#d9e8f5,#d9e8f5)"></i>
<i style="background:linear-gradient(90deg,#e3eef9,#e3eef9,#e3eef9,#e3eef9,#e3eef9,#e3eef9,#e3eef9,#e4eff9,#e4eff9,#e5eff9,#e5eff9,#e6f0f9,#e7f0fa,#e7f0fa,#e7f1fa,#e7f1fa,#e7f1fa,#e6f0f9,#e4eff9,#e2edf8,#dfecf7,#d7e6f5,#ccdff1,#bfd8ed,#add0e6,#8dc1dd,#64a9d3,#4191c6,#2474b7,#1561a9,#084f99,#084285,#083a7a,#083c7d,#084c95,#115ca5,#1d6cb1,#2676b8,#3282be,#4695c8,#61a7d2,#7ab6d9,#91c3de,#a5cde3,#b2d2e8,#b8d5ea,#bed8ec,#c6dbef,#cbdef1,#d1e2f3,#d6e5f4,#d7e6f5,#d8e7f5,#d9e7f5,#d9e8f5,#d9e8f5,#d9e8f5,#d9e8f5,#d9e8f5,#d9e8f5,#d9e8f5)"></i>
<i style="background:linear-gradient(90deg,#e3eef9,#e3eef9,#e3eef9,#e3eef9,#e3eef9,#e3eef9,#e3eef9,#e4eff9,#e4eff9,#e5eff9,#e5eff9,#e6f0f9,#e7f0fa,#e7f0fa,#e7f1fa,#e7f1fa,#e7f1fa,#e6f0f9,#e4eff9,#e2edf8,#dfecf7,#d7e6f5,#ccdff1,#bfd8ed,#add0e6,#8dc1dd,#64a9d3,#4292c6,#2676b8,#1663aa,#09529d,#08468b,#084082,#084285,#08509b,#1460a8,#206fb4,#2a7ab9,#3686c0,#4b98ca,#65aad4,#7fb9da,#97c6df,#a8cee4,#b4d3e9,#b9d6ea,#bfd8ed,#c7dbef,#cbdef1,#d1e2f3,#d6e5f4,#d7e6f5,#d8e7f5,#d9e7f5,#d9e8f5,#d9e8f5,#d9e8f5,#d9e8f5,#d9e8f5,#d9e8f5,#d9e8f5)"></i>
<i style="background:linear-gradient(90deg,#e3eef9,#e3eef9,#e3eef9,#e3eef9,#e3eef9,#e3eef9,#e3eef9,#e4eff9,#e4eff9,#e5eff9,#e5eff9,#e6f0f9,#e7f0fa,#e7f0fa,#e7f1fa,#e7f1fa,#e7f1fa,#e6f0f9,#e4eff9,#e2edf8,#dfecf7,#d7e6f5,#ccdff1,#bfd8ed,#add0e6,#8dc1dd,#64a9d3,#4292c6,#2979b9,#1865ac,#0c56a0,#084b93,#08468b,#08488e,#0b559f,#1764ab,#2272b6,#2e7ebc,#3a8ac2,#4f9bcb,#6aaed6,#84bcdb,#9ac8e0,#abd0e6,#b5d4e9,#bad6eb,#bfd8ed,#c7dbef,#ccdff1,#d2e3f3,#d6e5f4,#d7e6f5,#d8e7f5,#d9e7f5,#d9e8f5,#d9e8f5,#d9e8f5,#d9e8f5,#d9e8f5,#d9e8f5,#d9e8f5)"></i>
<i style="background:linear-gradient(90deg,#e3eef9,#e3eef9,#e3eef9,#e3eef9,#e3eef9,#e3eef9,#e3eef9,#e4eff9,#e4eff9,#e5eff9,#e5eff9,#e6f0f9,#e7f0fa,#e7f0fa,#e7f1fa,#e7f1fa,#e7f1fa,#e6f0f9,#e4eff9,#e2edf8,#dfecf7,#d7e6f5,#ccdff1,#bfd8ed,#add0e6,#8dc1dd,#65aad4,#4594c7,#2b7bba,#1a68ae,#0f5aa3,#08509b,#084c95,#084e98,#0f5aa3,#1a68ae,#2575b7,#3282be,#3e8ec4,#549fcd,#6dafd7,#89bedc,#9dcae1,#add0e6,#b7d4ea,#bcd7eb,#c1d9ed,#c7dcef,#cddff1,#d2e3f3,#d6e5f4,#d7e6f5,#d8e7f5,#d9e7f5,#d9e8f5,#d9e8f5,#d9e8f5,#d9e8f5,#d9e8f5,#d9e8f5,#d9e8f5)"></i>
<i style="background:linear-gradient(90deg,#e3eef9,#e3eef9,#e3eef9,#e3eef9,#e3eef9,#e3eef9,#e3eef9,#e4eff9,#e4eff9,#e5eff9,#e5eff9,#e6f0f9,#e7f0fa,#e7f0fa,#e7f1fa,#e7f1fa,#e7f1fa,#e6f0f9,#e4eff9,#e2edf8,#dfecf7,#d7e6f5,#ccdff1,#bfd8ed,#add0e6,#8dc1dd,#65aad4,#4695c8,#2d7dbb,#1c6bb0,#135fa7,#0d57a1,#0a539e,#0c56a0,#1561a9,#1f6eb3,#2b7bba,#3686c0,#4292c6,#5aa2cf,#72b2d8,#8cc0dd,#a0cbe2,#aed1e7,#b8d5ea,#bdd7ec,#c1d9ed,#c7dcef,#cddff1,#d2e3f3,#d6e5f4,#d7e6f5,#d8e7f5,#d9e7f5,#d9e8f5,#d9e8f5,#d9e8f5,#d9e8f5,#d9e8f5,#d9e8f5,#d9e8f5)"></i>
<i style="background:linear-gradient(90deg,#e3eef9,#e3eef9,#e3eef9,#e3eef9,#e3eef9,#e3eef9,#e3eef9,#e4eff9,#e4eff9,#e5eff9,#e5eff9,#e6f0f9,#e7f0fa,#e7f0fa,#e7f1fa,#e7f1fa,#e7f1fa,#e6f0f9,#e4eff9,#e2edf8,#dfecf7,#d7e6f5,#ccdff1,#c1d9ed,#aed1e7,#8fc2de,#68acd5,#4a98c9,#3181bd,#2070b4,#1966ad,#135fa7,#115ca5,#125ea6,#1b69af,#2474b7,#3181bd,#3c8cc3,#4a98c9,#5fa6d1,#77b5d9,#8fc2de,#a3cce3,#afd1e7,#b9d6ea,#bdd7ec,#c2d9ee,#c8dcf0,#cde0f1,#d3e3f3,#d6e6f4,#d7e6f5,#d9e7f5,#d9e8f5,#d9e8f5,#d9e8f5,#d9e8f5,#d9e8f5,#dae8f6,#dae8f6,#dae8f6)"></i>
<i style="background:linear-gradient(90deg,#e3eef9,#e3eef9,#e3eef9,#e3eef9,#e3eef9,#e3eef9,#e3eef9,#e4eff9,#e4eff9,#e5eff9,#e5eff9,#e6f0f9,#e7f0fa,#e7f0fa,#e7f1fa,#e7f1fa,#e7f1fa,#e6f0f9,#e4eff9,#e2edf8,#dfecf7,#d8e7f5,#cddff1,#c1d9ed,#afd1e7,#91c3de,#69add5,#4e9acb,#3585bf,#2474b7,#1f6eb3,#1a68ae,#1865ac,#1a68ae,#2171b5,#2c7cba,#3787c0,#4292c6,#519ccc,#65aad4,#7db8da,#94c4df,#a5cde3,#b0d2e7,#b9d6ea,#bed8ec,#c2d9ee,#c8dcf0,#cde0f1,#d3e3f3,#d6e6f4,#d8e7f5,#d9e7f5,#d9e8f5,#dae8f6,#dae8f6,#dae8f6,#dae8f6,#dae8f6,#dae8f6,#dae8f6)"></i>
<i style="background:linear-gradient(90deg,#e3eef9,#e3eef9,#e3eef9,#e3eef9,#e3eef9,#e3eef9,#e3eef9,#e4eff9,#e4eff9,#e5eff9,#e5eff9,#e6f0f9,#e7f0fa,#e7f0fa,#e7f1fa,#e7f1fa,#e7f1fa,#e6f0f9,#e4eff9,#e2edf8,#dfecf7,#d8e7f5,#cddff1,#c2d9ee,#b0d2e7,#92c4de,#6caed6,#529dcc,#3989c1,#2a7ab9,#2676b8,#2272b6,#206fb4,#2272b6,#2b7bba,#3484bf,#3e8ec4,#4a98c9,#58a1cf,#6aaed6,#82bbdb,#97c6df,#a6cee4,#b2d2e8,#bad6eb,#bed8ec,#c3daee,#c9ddf0,#cee0f2,#d3e4f3,#d7e6f5,#d9e7f5,#d9e8f5,#d9e8f5,#dae8f6,#dae8f6,#dae8f6,#dae8f6,#dae8f6,#dae8f6,#dae8f6)"></i>
<i style="background:linear-gradient(90deg,#e3eef9,#e3eef9,#e3eef9,#e3eef9,#e3eef9,#e3eef9,#e3eef9,#e4eff9,#e4eff9,#e5eff9,#e5eff9,#e6f0f9,#e7f0fa,#e7f0fa,#e7f1fa,#e7f1fa,#e7f1fa,#e6f0f9,#e4eff9,#e2edf8,#dfecf7,#d8e7f5,#cddff1,#c3daee,#b2d2e8,#95c5df,#71b1d7,#57a0ce,#3e8ec4,#2f7fbc,#2f7fbc,#2d7dbb,#2a7ab9,#2d7dbb,#3484bf,#3c8cc3,#4594c7,#529dcc,#60a7d2,#72b2d8,#87bddc,#9ac8e0,#a8cee4,#b3d3e8,#bad6eb,#bfd8ed,#c3daee,#caddf0,#cee0f2,#d4e4f4,#d8e7f5,#d9e7f5,#d9e8f5,#dae8f6,#dae8f6,#dae8f6,#dbe9f6,#dbe9f6,#dbe9f6,#dbe9f6,#dbe9f6)"></i>
<i style="background:linear-gradient(90deg,#e3eef9,#e3eef9,#e3eef9,#e3eef9,#e3eef9,#e3eef9,#e3eef9,#e4eff9,#e4eff9,#e5eff9,#e5eff9,#e6f0f9,#e7f0fa,#e7f0fa,#e7f1fa,#e7f1fa,#e7f1fa,#e6f0f9,#e4eff9,#e2edf8,#dfecf7,#d8e7f5,#cde0f1,#c3daee,#b3d3e8,#99c7e0,#74b3d8,#5ca4d0,#4292c6,#3484bf,#3787c0,#3585bf,#3383be,#3686c0,#3c8cc3,#4493c7,#4e9acb,#5aa2cf,#66abd4,#79b5d9,#8cc0dd,#9dcae1,#aacfe5,#b4d3e9,#bcd7eb,#bfd8ed,#c4daee,#caddf0,#cfe1f2,#d5e5f4,#d9e7f5,#d9e8f5,#dae8f6,#dae8f6,#dbe9f6,#dbe9f6,#dbe9f6,#dbe9f6,#dbe9f6,#dbe9f6,#dbe9f6)"></i>
<i style="background:linear-gradient(90deg,#e3eef9,#e3eef9,#e3eef9,#e3eef9,#e3eef9,#e3eef9,#e3eef9,#e4eff9,#e4eff9,#e5eff9,#e5eff9,#e6f0f9,#e7f0fa,#e7f0fa,#e7f1fa,#e7f1fa,#e7f1fa,#e6f0f9,#e4eff9,#e2edf8,#dfecf7,#d8e7f5,#cde0f1,#c4daee,#b5d4e9,#9ac8e0,#79b5d9,#60a7d2,#4997c9,#3a8ac2,#3e8ec4,#3c8cc3,#3b8bc2,#3d8dc4,#4493c7,#4b98ca,#549fcd,#60a7d2,#6dafd7,#7fb9da,#91c3de,#a0cbe2,#abd0e6,#b4d3e9,#bcd7eb,#c1d9ed,#c6dbef,#cadef0,#d0e1f2,#d5e5f4,#d9e7f5,#dae8f6,#dae8f6,#dbe9f6,#dbe9f6,#dbe9f6,#dbe9f6,#dbe9f6,#dbe9f6,#dbe9f6,#dbe9f6)"></i>
<i style="background:linear-gradient(90deg,#e3eef9,#e3eef9,#e3eef9,#e3eef9,#e3eef9,#e3eef9,#e3eef9,#e4eff9,#e4eff9,#e5eff9,#e5eff9,#e6f0f9,#e7f0fa,#e7f0fa,#e7f1fa,#e7f1fa,#e7f1fa,#e6f0f9,#e4eff9,#e2edf8,#dfecf7,#d8e7f5,#cee0f2,#c6dbef,#b7d4ea,#9dcae1,#7cb7da,#65aad4,#4e9acb,#3e8ec4,#4493c7,#4292c6,#4191c6,#4493c7,#4b98ca,#529dcc,#5ba3d0,#66abd4,#74b3d8,#84bcdb,#94c4df,#a3cce3,#add0e6,#b5d4e9,#bdd7ec,#c2d9ee,#c7dbef,#cbdef1,#d0e1f2,#d6e5f4,#d9e8f5,#dae8f6,#dbe9f6,#dbe9f6,#dce9f6,#dce9f6,#dce9f6,#dce9f6,#dce9f6,#dce9f6,#dce9f6)"></i>
<i style="background:linear-gradient(90deg,#e3eef9,#e3eef9,#e3eef9,#e3eef9,#e3eef9,#e3eef9,#e3eef9,#e4eff9,#e4eff9,#e5eff9,#e5eff9,#e6f0f9,#e7f0fa,#e7f0fa,#e7f1fa,#e7f1fa,#e7f1fa,#e6f0f9,#e4eff9,#e2edf8,#dfecf7,#d8e7f5,#cfe1f2,#c7dbef,#b8d5ea,#a0cbe2,#81badb,#69add5,#539ecd,#4493c7,#4a98c9,#4997c9,#4896c8,#4a98c9,#519ccc,#58a1cf,#60a7d2,#6caed6,#7ab6d9,#89bedc,#97c6df,#a4cce3,#aed1e7,#b7d4ea,#bed8ec,#c3daee,#c7dcef,#ccdff1,#d0e2f2,#d6e6f4,#dae8f6,#dbe9f6,#dbe9f6,#dce9f6,#dce9f6,#dce9f6,#dce9f6,#dce9f6,#dce9f6,#dce9f6,#dce9f6)"></i>
<i style="background:linear-gradient(90deg,#e3eef9,#e3eef9,#e3eef9,#e3eef9,#e3eef9,#e3eef9,#e3eef9,#e4eff9,#e4eff9,#e5eff9,#e5eff9,#e6f0f9,#e7f0fa,#e7f0fa,#e7f1fa,#e7f1fa,#e7f1fa,#e6f0f9,#e4eff9,#e2edf8,#dfecf7,#d9e7f5,#d0e1f2,#c8dcf0,#bad6eb,#a4cce3,#85bcdc,#6fb0d7,#58a1cf,#4a98c9,#4f9bcb,#4e9acb,#4d99ca,#519ccc,#57a0ce,#5da5d1,#65aad4,#71b1d7,#7fb9da,#8dc1dd,#9ac8e0,#a6cee4,#afd1e7,#b8d5ea,#bfd8ed,#c4daee,#c8dcf0,#cddff1,#d1e2f3,#d7e6f5,#dbe9f6,#dce9f6,#dce9f6,#dce9f6,#dceaf6,#dceaf6,#dceaf6,#dceaf6,#dceaf6,#dce9f6,#dce9f6)"></i>
<i style="background:linear-gradient(90deg,#e3eef9,#e3eef9,#e3eef9,#e3eef9,#e3eef9,#e3eef9,#e3eef9,#e4eff9,#e4eff9,#e5eff9,#e5eff9,#e6f0f9,#e7f0fa,#e7f0fa,#e7f1fa,#e7f1fa,#e7f1fa,#e6f0f9,#e4eff9,#e2edf8,#dfecf7,#d9e7f5,#d0e2f2,#caddf0,#bed8ec,#a8cee4,#8abfdd,#75b4d8,#5fa6d1,#519ccc,#539ecd,#539ecd,#529dcc,#56a0ce,#5ba3d0,#63a8d3,#6aaed6,#75b4d8,#84bcdb,#91c3de,#9dcae1,#a8cee4,#b0d2e7,#b9d6ea,#c1d9ed,#c6dbef,#caddf0,#cde0f1,#d2e3f3,#d8e7f5,#dce9f6,#dce9f6,#dceaf6,#dceaf6,#dceaf6,#dceaf6,#dceaf6,#dceaf6,#dceaf6,#dceaf6,#dceaf6)"></i>
<i style="background:linear-gradient(90deg,#e3eef9,#e3eef9,#e3eef9,#e3eef9,#e3eef9,#e3eef9,#e3eef9,#e4eff9,#e4eff9,#e5eff9,#e5eff9,#e6f0f9,#e7f0fa,#e7f0fa,#e7f1fa,#e7f1fa,#e7f1fa,#e6f0f9,#e4eff9,#e2edf8,#dfecf7,#d9e8f5,#d1e2f3,#cadef0,#c1d9ed,#abd0e6,#91c3de,#7ab6d9,#64a9d3,#57a0ce,#58a1cf,#57a0ce,#57a0ce,#5aa2cf,#60a7d2,#66abd4,#6fb0d7,#7cb7da,#89bedc,#94c4df,#a0cbe2,#a9cfe5,#b2d2e8,#bad6eb,#c2d9ee,#c7dcef,#cadef0,#cee0f2,#d3e3f3,#d9e7f5,#dceaf6,#dceaf6,#ddeaf7,#ddeaf7,#ddeaf7,#ddeaf7,#ddeaf7,#ddeaf7,#ddeaf7,#dceaf6,#dceaf6)"></i>
<i style="background:linear-gradient(90deg,#e3eef9,#e3eef9,#e3eef9,#e3eef9,#e3eef9,#e3eef9,#e3eef9,#e4eff9,#e4eff9,#e5eff9,#e5eff9,#e6f0f9,#e7f0fa,#e7f0fa,#e7f1fa,#e7f1fa,#e7f1fa,#e6f0f9,#e4eff9,#e2edf8,#dfecf7,#dae8f6,#d3e3f3,#ccdff1,#c4daee,#afd1e7,#97c6df,#81badb,#6aaed6,#5da5d1,#5ca4d0,#5ba3d0,#5ba3d0,#5fa6d1,#64a9d3,#6caed6,#75b4d8,#81badb,#8cc0dd,#97c6df,#a1cbe2,#aacfe5,#b3d3e8,#bcd7eb,#c4daee,#c9ddf0,#ccdff1,#d0e1f2,#d3e4f3,#d9e8f5,#ddeaf7,#ddeaf7,#ddeaf7,#ddeaf7,#deebf7,#deebf7,#deebf7,#ddeaf7,#ddeaf7,#ddeaf7,#dceaf6)"></i>
<i style="background:linear-gradient(90deg,#e3eef9,#e3eef9,#e3eef9,#e3eef9,#e3eef9,#e3eef9,#e3eef9,#e4eff9,#e4eff9,#e5eff9,#e5eff9,#e6f0f9,#e7f0fa,#e7f0fa,#e7f1fa,#e7f1fa,#e7f1fa,#e6f0f9,#e4eff9,#e2edf8,#dfecf7,#dae8f6,#d3e4f3,#cde0f1,#c7dbef,#b3d3e8,#9cc9e1,#87bddc,#71b1d7,#64a9d3,#60a7d2,#60a7d2,#5fa6d1,#63a8d3,#69add5,#71b1d7,#7ab6d9,#85bcdc,#91c3de,#9cc9e1,#a4cce3,#abd0e6,#b3d3e8,#bdd7ec,#c6dbef,#caddf0,#cde0f1,#d0e2f2,#d4e4f4,#d9e8f5,#deebf7,#deebf7,#deebf7,#deebf7,#deebf7,#deebf7,#deebf7,#deebf7,#deebf7,#ddeaf7,#ddeaf7)"></i>
<i style="background:linear-gradient(90deg,#e3eef9,#e3eef9,#e3eef9,#e3eef9,#e3eef9,#e3eef9,#e3eef9,#e4eff9,#e4eff9,#e5eff9,#e5eff9,#e6f0f9,#e7f0fa,#e7f0fa,#e7f1fa,#e7f1fa,#e7f1fa,#e6f0f9,#e4eff9,#e2edf8,#dfecf7,#dbe9f6,#d5e5f4,#cfe1f2,#c8dcf0,#b7d4ea,#a1cbe2,#8dc1dd,#77b5d9,#6aaed6,#64a9d3,#64a9d3,#64a9d3,#68acd5,#6fb0d7,#77b5d9,#7fb9da,#8abfdd,#95c5df,#9fcae1,#a6cee4,#add0e6,#b4d3e9,#bed8ec,#c7dbef,#cbdef1,#cee0f2,#d1e2f3,#d5e5f4,#dae8f6,#dfebf7,#dfebf7,#dfebf7,#dfebf7,#dfebf7,#dfebf7,#dfebf7,#deebf7,#deebf7,#ddeaf7,#ddeaf7)"></i>
<i style="background:linear-gradient(90deg,#e3eef9,#e3eef9,#e3eef9,#e3eef9,#e3eef9,#e3eef9,#e3eef9,#e4eff9,#e4eff9,#e5eff9,#e5eff9,#e6f0f9,#e7f0fa,#e7f0fa,#e7f1fa,#e7f1fa,#e7f0fa,#e6f0f9,#e4eff9,#e2edf8,#dfecf7,#dbe9f6,#d6e5f4,#d0e2f2,#caddf0,#b9d6ea,#a5cde3,#92c4de,#7db8da,#71b1d7,#69add5,#69add5,#69add5,#6caed6,#75b4d8,#7db8da,#85bcdc,#8fc2de,#9ac8e0,#a1cbe2,#a9cfe5,#afd1e7,#b5d4e9,#bfd8ed,#c8dcf0,#ccdff1,#d0e1f2,#d3e3f3,#d6e5f4,#dbe9f6,#dfebf7,#dfecf7,#dfecf7,#dfecf7,#dfecf7,#dfecf7,#dfebf7,#dfebf7,#deebf7,#deebf7,#ddeaf7)"></i>
<i style="background:linear-gradient(90deg,#e3eef9,#e3eef9,#e3eef9,#e3eef9,#e3eef9,#e3eef9,#e3eef9,#e4eff9,#e4eff9,#e5eff9,#e5eff9,#e6f0f9,#e7f0fa,#e7f0fa,#e7f1fa,#e7f1fa,#e7f0fa,#e6f0f9,#e4eff9,#e2edf8,#dfecf7,#dce9f6,#d6e5f4,#d1e2f3,#cbdef1,#bcd7eb,#a9cfe5,#97c6df,#84bcdb,#77b5d9,#6fb0d7,#6fb0d7,#6fb0d7,#74b3d8,#7cb7da,#84bcdb,#8cc0dd,#95c5df,#9fcae1,#a5cde3,#abd0e6,#b0d2e7,#b7d4ea,#c1d9ed,#c9ddf0,#cddff1,#d0e2f2,#d3e4f3,#d6e6f4,#dce9f6,#dfecf7,#dfecf7,#dfecf7,#dfecf7,#dfecf7,#dfecf7,#dfecf7,#dfecf7,#dfebf7,#deebf7,#ddeaf7)"></i>
<i style="background:linear-gradient(90deg,#e3eef9,#e3eef9,#e3eef9,#e3eef9,#e3eef9,#e3eef9,#e3eef9,#e4eff9,#e4eff9,#e5eff9,#e5eff9,#e6f0f9,#e7f0fa,#e7f0fa,#e7f1fa,#e7f1fa,#e7f0fa,#e6f0f9,#e4eff9,#e2edf8,#dfecf7,#dce9f6,#d6e6f4,#d2e3f3,#ccdff1,#bed8ec,#abd0e6,#9cc9e1,#89bedc,#7db8da,#75b4d8,#75b4d8,#75b4d8,#7ab6d9,#82bbdb,#8abfdd,#92c4de,#9cc9e1,#a3cce3,#a9cfe5,#aed1e7,#b3d3e8,#b9d6ea,#c2d9ee,#caddf0,#cde0f1,#d1e2f3,#d4e4f4,#d7e6f5,#dceaf6,#e0ecf8,#e0ecf8,#e0ecf8,#e0ecf8,#e0ecf8,#e0ecf8,#e0ecf8,#dfecf7,#dfebf7,#dfebf7,#deebf7)"></i>
<i style="background:linear-gradient(90deg,#e3eef9,#e3eef9,#e3eef9,#e3eef9,#e3eef9,#e3eef9,#e3eef9,#e4eff9,#e4eff9,#e5eff9,#e5eff9,#e6f0f9,#e7f0fa,#e7f0fa,#e7f1fa,#e7f1fa,#e7f1fa,#e6f0f9,#e4eff9,#e2edf8,#dfecf7,#dce9f6,#d7e6f5,#d3e3f3,#cddff1,#c1d9ed,#afd1e7,#a0cbe2,#8dc1dd,#84bcdb,#7cb7da,#7cb7da,#7db8da,#81badb,#8abfdd,#91c3de,#99c7e0,#a0cbe2,#a8cee4,#add0e6,#b0d2e7,#b5d4e9,#bad6eb,#c3daee,#cadef0,#cee0f2,#d2e3f3,#d5e5f4,#d8e7f5,#ddeaf7,#e1edf8,#e1edf8,#e0ecf8,#e0ecf8,#e0ecf8,#e0ecf8,#e0ecf8,#e0ecf8,#dfecf7,#dfebf7,#deebf7)"></i>
<i style="background:linear-gradient(90deg,#e3eef9,#e3eef9,#e3eef9,#e3eef9,#e3eef9,#e3eef9,#e3eef9,#e4eff9,#e4eff9,#e5eff9,#e5eff9,#e6f0f9,#e7f0fa,#e7f0fa,#e7f1fa,#e7f1fa,#e7f1fa,#e6f0f9,#e4eff9,#e3eef8,#e0ecf8,#dceaf6,#d8e7f5,#d3e4f3,#cde0f1,#c3daee,#b2d2e8,#a3cce3,#94c4df,#8abfdd,#82bbdb,#82bbdb,#84bcdb,#89bedc,#92c4de,#99c7e0,#9fcae1,#a5cde3,#abd0e6,#b0d2e7,#b4d3e9,#b8d5ea,#bcd7eb,#c4daee,#cbdef1,#cfe1f2,#d3e3f3,#d6e5f4,#d9e7f5,#deebf7,#e1edf8,#e1edf8,#e1edf8,#e1edf8,#e1edf8,#e1edf8,#e1edf8,#e0ecf8,#e0ecf8,#dfecf7,#dfebf7)"></i>
<i style="background:linear-gradient(90deg,#e3eef9,#e3eef9,#e3eef9,#e3eef9,#e3eef9,#e3eef9,#e3eef9,#e4eff9,#e4eff9,#e5eff9,#e5eff9,#e6f0f9,#e7f0fa,#e7f0fa,#e7f1fa,#e7f1fa,#e7f1fa,#e6f0f9,#e4eff9,#e3eef8,#e0ecf8,#dceaf6,#d8e7f5,#d3e4f3,#cee0f2,#c6dbef,#b5d4e9,#a6cee4,#99c7e0,#8fc2de,#89bedc,#8abfdd,#8cc0dd,#91c3de,#9ac8e0,#9fcae1,#a4cce3,#aacfe5,#b0d2e7,#b4d3e9,#b7d4ea,#bad6eb,#bed8ec,#c7dbef,#ccdff1,#d0e1f2,#d3e4f3,#d6e6f4,#dae8f6,#dfebf7,#e2edf8,#e2edf8,#e2edf8,#e2edf8,#e2edf8,#e2edf8,#e2edf8,#e1edf8,#e0ecf8,#dfecf7,#dfebf7)"></i>
<i style="background:linear-gradient(90deg,#e3eef9,#e3eef9,#e3eef9,#e3eef9,#e3eef9,#e3eef9,#e3eef9,#e4eff9,#e4eff9,#e5eff9,#e5eff9,#e6f0f9,#e7f0fa,#e7f0fa,#e7f1fa,#e7f1fa,#e7f1fa,#e6f0f9,#e5eff9,#e3eef8,#e1edf8,#ddeaf7,#d9e7f5,#d4e4f4,#d0e1f2,#c7dcef,#b8d5ea,#a9cfe5,#9dcae1,#95c5df,#8fc2de,#91c3de,#94c4df,#97c6df,#a0cbe2,#a5cde3,#a9cfe5,#afd1e7,#b4d3e9,#b8d5ea,#bad6eb,#bdd7ec,#bfd8ed,#c7dcef,#cde0f1,#d0e2f2,#d4e4f4,#d7e6f5,#dbe9f6,#dfecf7,#e2edf8,#e2edf8,#e2edf8,#e2edf8,#e2edf8,#e2edf8,#e2edf8,#e2edf8,#e1edf8,#e0ecf8,#dfebf7)"></i>
<i style="background:linear-gradient(90deg,#e3eef9,#e3eef9,#e3eef9,#e3eef9,#e3eef9,#e3eef9,#e3eef9,#e4eff9,#e4eff9,#e5eff9,#e5eff9,#e6f0f9,#e7f0fa,#e7f0fa,#e7f1fa,#e7f1fa,#e7f1fa,#e6f0f9,#e5eff9,#e3eef9,#e1edf8,#ddeaf7,#d9e7f5,#d5e5f4,#d0e2f2,#c8dcf0,#bad6eb,#add0e6,#a1cbe2,#9ac8e0,#97c6df,#99c7e0,#9cc9e1,#9fcae1,#a6cee4,#abd0e6,#aed1e7,#b4d3e9,#b9d6ea,#bcd7eb,#bed8ec,#bfd8ed,#c2d9ee,#c8dcf0,#cee0f2,#d1e2f3,#d5e5f4,#d8e7f5,#dce9f6,#e0ecf8,#e3eef8,#e3eef8,#e3eef8,#e3eef8,#e3eef8,#e3eef8,#e3eef8,#e2edf8,#e1edf8,#e0ecf8,#dfecf7)"></i>
<i style="background:linear-gradient(90deg,#e3eef9,#e3eef9,#e3eef9,#e3eef9,#e3eef9,#e3eef9,#e3eef9,#e4eff9,#e4eff9,#e5eff9,#e5eff9,#e6f0f9,#e7f0fa,#e7f0fa,#e7f1fa,#e7f1fa,#e7f1fa,#e7f0fa,#e5eff9,#e3eef9,#e1edf8,#deebf7,#d9e8f5,#d6e5f4,#d1e2f3,#caddf0,#bdd7ec,#b0d2e7,#a5cde3,#a0cbe2,#9dcae1,#9fcae1,#a3cce3,#a5cde3,#aed1e7,#b0d2e7,#b4d3e9,#b9d6ea,#bed8ec,#c1d9ed,#c2d9ee,#c3daee,#c4daee,#c9ddf0,#cfe1f2,#d2e3f3,#d5e5f4,#d9e7f5,#dceaf6,#e0ecf8,#e3eef8,#e3eef8,#e3eef8,#e3eef8,#e3eef8,#e3eef9,#e3eef8,#e3eef8,#e1edf8,#e0ecf8,#dfecf7)"></i>
<i style="background:linear-gradient(90deg,#e3eef9,#e3eef9,#e3eef9,#e3eef9,#e3eef9,#e3eef9,#e3eef9,#e4eff9,#e4eff9,#e5eff9,#e5eff9,#e6f0f9,#e7f0fa,#e7f0fa,#e7f1fa,#e7f1fa,#e7f1fa,#e7f0fa,#e5eff9,#e3eef9,#e1edf8,#deebf7,#d9e8f5,#d6e5f4,#d2e3f3,#cbdef1,#c1d9ed,#b3d3e8,#aacfe5,#a5cde3,#a4cce3,#a5cde3,#a9cfe5,#abd0e6,#b4d3e9,#b7d4ea,#bad6eb,#bfd8ed,#c3daee,#c6dbef,#c7dbef,#c7dbef,#c7dbef,#cadef0,#d0e1f2,#d3e3f3,#d6e5f4,#d9e8f5,#ddeaf7,#e1edf8,#e3eef9,#e3eef9,#e3eef9,#e3eef9,#e3eef9,#e3eef9,#e3eef9,#e3eef8,#e2edf8,#e0ecf8,#dfecf7)"></i>
<i style="background:linear-gradient(90deg,#e3eef9,#e3eef9,#e3eef9,#e3eef9,#e3eef9,#e3eef9,#e3eef9,#e4eff9,#e4eff9,#e5eff9,#e5eff9,#e6f0f9,#e7f0fa,#e7f0fa,#e7f1fa,#e7f1fa,#e7f1fa,#e7f0fa,#e5eff9,#e3eef9,#e1edf8,#deebf7,#dae8f6,#d6e6f4,#d3e3f3,#ccdff1,#c3daee,#b8d5ea,#afd1e7,#aacfe5,#aacfe5,#add0e6,#afd1e7,#b3d3e8,#bad6eb,#bed8ec,#c1d9ed,#c6dbef,#c9ddf0,#caddf0,#caddf0,#c9ddf0,#c8dcf0,#ccdff1,#d1e2f3,#d3e4f3,#d6e6f4,#dae8f6,#deebf7,#e2edf8,#e4eff9,#e4eff9,#e4eff9,#e4eff9,#e3eef9,#e3eef9,#e3eef9,#e3eef8,#e2edf8,#e0ecf8,#dfecf7)"></i>
<i style="background:linear-gradient(90deg,#e3eef9,#e3eef9,#e3eef9,#e3eef9,#e3eef9,#e3eef9,#e3eef9,#e4eff9,#e4eff9,#e5eff9,#e5eff9,#e6f0f9,#e7f0fa,#e7f0fa,#e7f1fa,#e7f1fa,#e7f1fa,#e7f0fa,#e5eff9,#e3eef9,#e1edf8,#deebf7,#dae8f6,#d7e6f5,#d4e4f4,#cde0f1,#c6dbef,#bcd7eb,#b4d3e9,#b0d2e7,#b2d2e8,#b4d3e9,#b8d5ea,#bad6eb,#c2d9ee,#c6dbef,#c8dcf0,#cbdef1,#cde0f1,#cee0f2,#cee0f2,#ccdff1,#cadef0,#cde0f1,#d2e3f3,#d4e4f4,#d6e6f4,#dae8f6,#dfebf7,#e3eef8,#e4eff9,#e4eff9,#e4eff9,#e4eff9,#e4eff9,#e4eff9,#e3eef9,#e3eef8,#e2edf8,#e0ecf8,#dfecf7)"></i>
<i style="background:linear-gradient(90deg,#e3eef9,#e3eef9,#e3eef9,#e3eef9,#e3eef9,#e3eef9,#e3eef9,#e4eff9,#e4eff9,#e5eff9,#e5eff9,#e6f0f9,#e7f0fa,#e7f0fa,#e7f1fa,#e7f1fa,#e7f1fa,#e7f0fa,#e5eff9,#e3eef9,#e1edf8,#deebf7,#dae8f6,#d8e7f5,#d5e5f4,#cfe1f2,#c8dcf0,#c1d9ed,#b9d6ea,#b8d5ea,#b9d6ea,#bcd7eb,#c1d9ed,#c3daee,#c9ddf0,#cbdef1,#cde0f1,#d0e2f2,#d3e3f3,#d3e3f3,#d3e3f3,#d0e1f2,#cddff1,#d0e1f2,#d3e4f3,#d6e5f4,#d7e6f5,#dbe9f6,#dfebf7,#e3eef8,#e5eff9,#e5eff9,#e5eff9,#e5eff9,#e5eff9,#e4eff9,#e4eff9,#e3eef9,#e2edf8,#e1edf8,#dfecf7)"></i>
<i style="background:linear-gradient(90deg,#e3eef9,#e3eef9,#e3eef9,#e3eef9,#e3eef9,#e3eef9,#e3eef9,#e4eff9,#e4eff9,#e5eff9,#e5eff9,#e6f0f9,#e7f0fa,#e7f0fa,#e7f1fa,#e7f1fa,#e7f1fa,#e6f0f9,#e5eff9,#e3eef9,#e1edf8,#deebf7,#dae8f6,#d9e7f5,#d6e5f4,#d0e2f2,#caddf0,#c4daee,#bfd8ed,#bed8ec,#c1d9ed,#c4daee,#c8dcf0,#caddf0,#cde0f1,#d0e1f2,#d2e3f3,#d6e5f4,#d8e7f5,#d8e7f5,#d7e6f5,#d3e4f3,#d0e1f2,#d2e3f3,#d5e5f4,#d6e6f4,#d8e7f5,#dbe9f6,#dfecf7,#e3eef9,#e6f0f9,#e6f0f9,#e6f0f9,#e5eff9,#e5eff9,#e5eff9,#e4eff9,#e3eef9,#e2edf8,#e1edf8,#dfecf7)"></i>
<i style="background:linear-gradient(90deg,#e3eef9,#e3eef9,#e3eef9,#e3eef9,#e3eef9,#e3eef9,#e3eef9,#e4eff9,#e4eff9,#e5eff9,#e5eff9,#e6f0f9,#e7f0fa,#e7f0fa,#e7f1fa,#e7f1fa,#e7f1fa,#e6f0f9,#e5eff9,#e3eef9,#e1edf8,#deebf7,#dbe9f6,#d9e7f5,#d6e6f4,#d1e2f3,#cbdef1,#c8dcf0,#c4daee,#c4daee,#c7dcef,#cadef0,#cddff1,#cfe1f2,#d2e3f3,#d5e5f4,#d7e6f5,#dbe9f6,#ddeaf7,#ddeaf7,#dceaf6,#d7e6f5,#d2e3f3,#d3e4f3,#d6e6f4,#d7e6f5,#d8e7f5,#dce9f6,#e0ecf8,#e4eff9,#e7f0fa,#e7f0fa,#e6f0f9,#e6f0f9,#e5eff9,#e5eff9,#e4eff9,#e3eef9,#e2edf8,#e1edf8,#dfecf7)"></i>
<i style="background:linear-gradient(90deg,#e3eef9,#e3eef9,#e3eef9,#e3eef9,#e3eef9,#e3eef9,#e3eef9,#e4eff9,#e4eff9,#e5eff9,#e5eff9,#e6f0f9,#e7f0fa,#e7f0fa,#e7f1fa,#e7f1fa,#e7f1fa,#e6f0f9,#e5eff9,#e3eef9,#e1edf8,#deebf7,#dbe9f6,#d9e8f5,#d8e7f5,#d3e3f3,#cddff1,#cadef0,#c8dcf0,#c9ddf0,#cbdef1,#cee0f2,#d1e2f3,#d3e4f3,#d6e6f4,#d9e8f5,#dce9f6,#dfecf7,#e2edf8,#e2edf8,#e0ecf8,#dae8f6,#d5e5f4,#d6e5f4,#d7e6f5,#d8e7f5,#d9e7f5,#dce9f6,#e0ecf8,#e4eff9,#e7f0fa,#e7f0fa,#e7f0fa,#e6f0f9,#e6f0f9,#e5eff9,#e4eff9,#e3eef9,#e2edf8,#e1edf8,#dfecf7)"></i>
<i style="background:linear-gradient(90deg,#e3eef9,#e3eef9,#e3eef9,#e3eef9,#e3eef9,#e3eef9,#e3eef9,#e4eff9,#e4eff9,#e5eff9,#e5eff9,#e6f0f9,#e7f0fa,#e7f0fa,#e7f1fa,#e7f1fa,#e7f1fa,#e6f0f9,#e5eff9,#e3eef9,#e1edf8,#deebf7,#dbe9f6,#dae8f6,#d9e7f5,#d3e4f3,#cee0f2,#ccdff1,#cadef0,#cbdef1,#cfe1f2,#d2e3f3,#d5e5f4,#d7e6f5,#d9e8f5,#dceaf6,#dfecf7,#e3eef9,#e6f0f9,#e6f0f9,#e4eff9,#ddeaf7,#d7e6f5,#d7e6f5,#d9e7f5,#d9e7f5,#d9e7f5,#dceaf6,#e1edf8,#e5eff9,#e7f1fa,#e7f1fa,#e7f0fa,#e7f0fa,#e6f0f9,#e5eff9,#e4eff9,#e3eef9,#e3eef8,#e1edf8,#dfecf7)"></i>
<i style="background:linear-gradient(90deg,#e3eef9,#e3eef9,#e3eef9,#e3eef9,#e3eef9,#e3eef9,#e3eef9,#e4eff9,#e4eff9,#e5eff9,#e5eff9,#e6f0f9,#e7f0fa,#e7f0fa,#e7f1fa,#e7f1fa,#e7f1fa,#e6f0f9,#e5eff9,#e3eef9,#e1edf8,#deebf7,#dce9f6,#dae8f6,#d9e8f5,#d5e5f4,#d0e1f2,#cde0f1,#ccdff1,#cde0f1,#d1e2f3,#d5e5f4,#d8e7f5,#d9e8f5,#dceaf6,#dfecf7,#e3eef8,#e7f0fa,#e9f2fa,#e8f1fa,#e7f0fa,#dfecf7,#d9e7f5,#d9e7f5,#d9e8f5,#d9e8f5,#d9e8f5,#dceaf6,#e1edf8,#e5eff9,#e7f1fa,#e7f1fa,#e7f0fa,#e7f0fa,#e6f0f9,#e5eff9,#e4eff9,#e3eef9,#e3eef8,#e1edf8,#dfecf7)"></i>
<i style="background:linear-gradient(90deg,#e3eef9,#e3eef9,#e3eef9,#e3eef9,#e3eef9,#e3eef9,#e3eef9,#e4eff9,#e4eff9,#e5eff9,#e5eff9,#e6f0f9,#e7f0fa,#e7f0fa,#e7f1fa,#e7f1fa,#e7f1fa,#e6f0f9,#e5eff9,#e3eef9,#e1edf8,#deebf7,#dce9f6,#dbe9f6,#dae8f6,#d6e5f4,#d0e2f2,#cee0f2,#cddff1,#cfe1f2,#d3e3f3,#d6e6f4,#d9e8f5,#dce9f6,#dfebf7,#e1edf8,#e4eff9,#e8f1fa,#eaf2fb,#eaf2fb,#e8f1fa,#e1edf8,#dae8f6,#dae8f6,#dae8f6,#dae8f6,#d9e8f5,#dceaf6,#e2edf8,#e5eff9,#e7f1fa,#e7f1fa,#e7f0fa,#e7f0fa,#e6f0f9,#e5eff9,#e4eff9,#e3eef9,#e3eef8,#e1edf8,#dfecf7)"></i>
<i style="background:linear-gradient(90deg,#e3eef9,#e3eef9,#e3eef9,#e3eef9,#e3eef9,#e3eef9,#e3eef9,#e4eff9,#e4eff9,#e5eff9,#e5eff9,#e6f0f9,#e7f0fa,#e7f0fa,#e7f1fa,#e7f1fa,#e7f1fa,#e6f0f9,#e5eff9,#e3eef9,#e1edf8,#dfebf7,#dce9f6,#dbe9f6,#dae8f6,#d6e6f4,#d1e2f3,#cfe1f2,#cde0f1,#d0e1f2,#d4e4f4,#d8e7f5,#dbe9f6,#ddeaf7,#e0ecf8,#e3eef8,#e6f0f9,#e9f2fa,#ebf3fb,#eaf3fb,#e9f2fa,#e3eef8,#dce9f6,#dbe9f6,#dae8f6,#dae8f6,#dae8f6,#ddeaf7,#e2edf8,#e6f0f9,#e7f1fa,#e7f1fa,#e7f0fa,#e7f0fa,#e6f0f9,#e5eff9,#e4eff9,#e3eef9,#e2edf8,#e1edf8,#dfecf7)"></i>
<i style="background:linear-gradient(90deg,#e3eef9,#e3eef9,#e3eef9,#e3eef9,#e3eef9,#e3eef9,#e3eef9,#e4eff9,#e4eff9,#e5eff9,#e5eff9,#e6f0f9,#e7f0fa,#e7f0fa,#e7f1fa,#e7f1fa,#e7f1fa,#e6f0f9,#e5eff9,#e3eef9,#e1edf8,#dfebf7,#dceaf6,#dce9f6,#dbe9f6,#d7e6f5,#d3e3f3,#d0e1f2,#cee0f2,#d0e2f2,#d6e5f4,#d9e8f5,#dceaf6,#dfebf7,#e2edf8,#e4eff9,#e7f1fa,#eaf2fb,#ecf4fb,#ebf3fb,#eaf2fb,#e3eef9,#ddeaf7,#dce9f6,#dbe9f6,#dbe9f6,#dbe9f6,#deebf7,#e2edf8,#e6f0f9,#e7f1fa,#e7f1fa,#e7f0fa,#e7f0fa,#e6f0f9,#e5eff9,#e4eff9,#e3eef9,#e2edf8,#e1edf8,#dfecf7)"></i>
<i style="background:linear-gradient(90deg,#e3eef9,#e3eef9,#e3eef9,#e3eef9,#e3eef9,#e3eef9,#e3eef9,#e4eff9,#e4eff9,#e5eff9,#e5eff9,#e6f0f9,#e7f0fa,#e7f0fa,#e7f1fa,#e7f1fa,#e7f1fa,#e6f0f9,#e5eff9,#e3eef9,#e1edf8,#dfebf7,#dceaf6,#dceaf6,#dce9f6,#d8e7f5,#d3e4f3,#d0e2f2,#cee0f2,#d1e2f3,#d6e6f4,#dbe9f6,#deebf7,#dfecf7,#e3eef9,#e6f0f9,#e8f1fa,#ebf3fb,#ecf4fb,#ecf4fb,#eaf3fb,#e5eff9,#dfebf7,#dceaf6,#dce9f6,#dce9f6,#dce9f6,#deebf7,#e3eef8,#e6f0f9,#e7f1fa,#e7f1fa,#e7f0fa,#e7f0fa,#e6f0f9,#e5eff9,#e4eff9,#e3eef9,#e2edf8,#e1edf8,#dfecf7)"></i>
<i style="background:linear-gradient(90deg,#e3eef9,#e3eef9,#e3eef9,#e3eef9,#e3eef9,#e3eef9,#e3eef9,#e4eff9,#e4eff9,#e5eff9,#e5eff9,#e6f0f9,#e7f0fa,#e7f0fa,#e7f1fa,#e7f1fa,#e7f1fa,#e6f0f9,#e5eff9,#e3eef8,#e1edf8,#dfebf7,#dceaf6,#dceaf6,#dceaf6,#d9e7f5,#d4e4f4,#d1e2f3,#cfe1f2,#d2e3f3,#d7e6f5,#dce9f6,#dfebf7,#e1edf8,#e5eff9,#e7f1fa,#eaf2fb,#ecf4fb,#edf4fc,#ecf4fb,#ebf3fb,#e6f0f9,#e0ecf8,#deebf7,#dceaf6,#dceaf6,#dceaf6,#dfebf7,#e3eef8,#e6f0f9,#e7f1fa,#e7f1fa,#e7f0fa,#e6f0f9,#e5eff9,#e4eff9,#e3eef9,#e3eef8,#e2edf8,#e0ecf8,#dfecf7)"></i>
<i style="background:linear-gradient(90deg,#e3eef9,#e3eef9,#e3eef9,#e3eef9,#e3eef9,#e3eef9,#e3eef9,#e4eff9,#e4eff9,#e5eff9,#e5eff9,#e6f0f9,#e7f0fa,#e7f0fa,#e7f1fa,#e7f1fa,#e7f1fa,#e6f0f9,#e5eff9,#e3eef8,#e1edf8,#dfebf7,#ddeaf7,#ddeaf7,#dceaf6,#d9e8f5,#d5e5f4,#d1e2f3,#d0e1f2,#d3e3f3,#d9e7f5,#dceaf6,#e0ecf8,#e2edf8,#e6f0f9,#e8f1fa,#eaf3fb,#ecf4fb,#eef5fc,#edf4fc,#ebf3fb,#e7f1fa,#e2edf8,#dfebf7,#dceaf6,#dceaf6,#dceaf6,#dfecf7,#e3eef8,#e6f0f9,#e7f1fa,#e7f1fa,#e7f0fa,#e6f0f9,#e5eff9,#e4eff9,#e3eef9,#e3eef8,#e2edf8,#e0ecf8,#dfecf7)"></i>
<i style="background:linear-gradient(90deg,#e3eef9,#e3eef9,#e3eef9,#e3eef9,#e3eef9,#e3eef9,#e3eef9,#e4eff9,#e4eff9,#e5eff9,#e5eff9,#e6f0f9,#e7f0fa,#e7f0fa,#e7f1fa,#e7f1fa,#e7f1fa,#e6f0f9,#e5eff9,#e3eef8,#e1edf8,#dfebf7,#ddeaf7,#ddeaf7,#ddeaf7,#dae8f6,#d5e5f4,#d2e3f3,#d0e1f2,#d3e4f3,#d9e7f5,#ddeaf7,#e1edf8,#e3eef8,#e7f0fa,#e9f2fa,#eaf3fb,#edf4fc,#eef5fc,#eef5fc,#ecf4fb,#e8f1fa,#e3eef8,#dfebf7,#ddeaf7,#ddeaf7,#ddeaf7,#dfecf7,#e3eef9,#e6f0f9,#e7f1fa,#e7f1fa,#e7f0fa,#e6f0f9,#e5eff9,#e4eff9,#e3eef9,#e3eef8,#e1edf8,#e0ecf8,#dfecf7)"></i>
<i style="background:linear-gradient(90deg,#e3eef9,#e3eef9,#e3eef9,#e3eef9,#e3eef9,#e3eef9,#e3eef9,#e4eff9,#e4eff9,#e5eff9,#e5eff9,#e6f0f9,#e7f0fa,#e7f0fa,#e7f1fa,#e7f1fa,#e7f1fa,#e6f0f9,#e4eff9,#e3eef8,#e1edf8,#dfebf7,#ddeaf7,#ddeaf7,#ddeaf7,#dae8f6,#d6e5f4,#d2e3f3,#d0e1f2,#d3e4f3,#d9e8f5,#deebf7,#e1edf8,#e3eef9,#e7f1fa,#eaf2fb,#ebf3fb,#eef5fc,#eef5fc,#eef5fc,#edf4fc,#e8f1fa,#e3eef9,#dfecf7,#ddeaf7,#ddeaf7,#ddeaf7,#dfecf7,#e3eef9,#e6f0f9,#e7f1fa,#e7f1fa,#e7f0fa,#e6f0f9,#e4eff9,#e3eef9,#e3eef8,#e2edf8,#e1edf8,#e0ecf8,#dfecf7)"></i>
<i style="background:linear-gradient(90deg,#e3eef9,#e3eef9,#e3eef9,#e3eef9,#e3eef9,#e3eef9,#e3eef9,#e4eff9,#e4eff9,#e5eff9,#e5eff9,#e6f0f9,#e7f0fa,#e7f0fa,#e7f1fa,#e7f1fa,#e7f1fa,#e6f0f9,#e4eff9,#e3eef8,#e1edf8,#dfebf7,#ddeaf7,#ddeaf7,#ddeaf7,#dae8f6,#d6e5f4,#d2e3f3,#d0e1f2,#d3e4f3,#d9e8f5,#deebf7,#e1edf8,#e3eef9,#e7f1fa,#eaf2fb,#ebf3fb,#eef5fc,#eff6fc,#eff6fc,#eef5fc,#e9f2fa,#e3eef9,#dfecf7,#ddeaf7,#ddeaf7,#ddeaf7,#dfecf7,#e3eef9,#e6f0f9,#e7f1fa,#e7f1fa,#e7f0fa,#e5eff9,#e4eff9,#e3eef9,#e3eef8,#e2edf8,#e1edf8,#e0ecf8,#dfecf7)"></i>
<i style="background:linear-gradient(90deg,#e3eef9,#e3eef9,#e3eef9,#e3eef9,#e3eef9,#e3eef9,#e3eef9,#e4eff9,#e4eff9,#e5eff9,#e5eff9,#e6f0f9,#e7f0fa,#e7f0fa,#e7f1fa,#e7f1fa,#e7f1fa,#e6f0f9,#e4eff9,#e3eef8,#e1edf8,#dfebf7,#ddeaf7,#ddeaf7,#ddeaf7,#dae8f6,#d6e5f4,#d2e3f3,#d0e1f2,#d3e4f3,#d9e8f5,#deebf7,#e1edf8,#e3eef9,#e7f1fa,#eaf2fb,#ebf3fb,#eef5fc,#f0f6fd,#f0f6fd,#eef5fc,#e9f2fa,#e3eef9,#dfecf7,#ddeaf7,#ddeaf7,#ddeaf7,#dfecf7,#e3eef9,#e6f0f9,#e7f1fa,#e7f0fa,#e6f0f9,#e5eff9,#e4eff9,#e3eef8,#e2edf8,#e1edf8,#e1edf8,#e0ecf8,#dfecf7)"></i>
<i style="background:linear-gradient(90deg,#e3eef9,#e3eef9,#e3eef9,#e3eef9,#e3eef9,#e3eef9,#e3eef9,#e4eff9,#e4eff9,#e5eff9,#e5eff9,#e6f0f9,#e7f0fa,#e7f0fa,#e7f1fa,#e7f1fa,#e7f1fa,#e6f0f9,#e4eff9,#e3eef8,#e1edf8,#dfebf7,#ddeaf7,#ddeaf7,#ddeaf7,#dae8f6,#d6e5f4,#d1e2f3,#d0e1f2,#d3e4f3,#d9e8f5,#deebf7,#e1edf8,#e3eef9,#e7f1fa,#eaf2fb,#ebf3fb,#eff6fc,#f1f7fd,#f1f7fd,#eff6fc,#eaf2fb,#e3eef9,#dfecf7,#ddeaf7,#ddeaf7,#ddeaf7,#dfecf7,#e3eef8,#e6f0f9,#e7f0fa,#e7f0fa,#e6f0f9,#e5eff9,#e3eef9,#e3eef8,#e2edf8,#e1edf8,#e0ecf8,#dfecf7,#dfecf7)"></i>
<i style="background:linear-gradient(90deg,#e3eef9,#e3eef9,#e3eef9,#e3eef9,#e3eef9,#e3eef9,#e3eef9,#e4eff9,#e4eff9,#e5eff9,#e5eff9,#e6f0f9,#e7f0fa,#e7f0fa,#e7f1fa,#e7f1fa,#e7f1fa,#e6f0f9,#e4eff9,#e3eef8,#e1edf8,#dfebf7,#ddeaf7,#ddeaf7,#ddeaf7,#dae8f6,#d5e5f4,#d1e2f3,#cfe1f2,#d3e4f3,#d9e8f5,#ddeaf7,#e1edf8,#e3eef9,#e7f1fa,#eaf2fb,#ebf3fb,#eff6fc,#f2f8fd,#f2f7fd,#eff6fc,#eaf2fb,#e3eef9,#dfecf7,#ddeaf7,#ddeaf7,#ddeaf7,#dfebf7,#e3eef8,#e5eff9,#e7f0fa,#e6f0f9,#e5eff9,#e4eff9,#e3eef9,#e2edf8,#e2edf8,#e1edf8,#e0ecf8,#dfecf7,#dfebf7)"></i>
<i style="background:linear-gradient(90deg,#e3eef9,#e3eef9,#e3eef9,#e3eef9,#e3eef9,#e3eef9,#e3eef9,#e4eff9,#e4eff9,#e5eff9,#e5eff9,#e6f0f9,#e7f0fa,#e7f0fa,#e7f1fa,#e7f1fa,#e7f1fa,#e6f0f9,#e4eff9,#e3eef8,#e1edf8,#dfebf7,#ddeaf7,#ddeaf7,#ddeaf7,#dae8f6,#d4e4f4,#d0e2f2,#cee0f2,#d3e3f3,#d9e7f5,#ddeaf7,#e1edf8,#e3eef9,#e7f1fa,#e9f2fa,#ebf3fb,#f0f6fd,#f3f8fe,#f2f8fd,#f0f6fd,#eaf3fb,#e3eef9,#dfecf7,#ddeaf7,#dceaf6,#dceaf6,#dfebf7,#e2edf8,#e4eff9,#e6f0f9,#e5eff9,#e4eff9,#e3eef9,#e3eef8,#e2edf8,#e1edf8,#e0ecf8,#dfecf7,#dfecf7,#dfebf7)"></i>
<i style="background:linear-gradient(90deg,#e3eef9,#e3eef9,#e3eef9,#e3eef9,#e3eef9,#e3eef9,#e3eef9,#e4eff9,#e4eff9,#e5eff9,#e5eff9,#e6f0f9,#e7f0fa,#e7f0fa,#e7f1fa,#e7f1fa,#e7f1fa,#e6f0f9,#e4eff9,#e3eef8,#e1edf8,#dfebf7,#ddeaf7,#ddeaf7,#ddeaf7,#d9e8f5,#d3e4f3,#d0e1f2,#cde0f1,#d3e3f3,#d9e7f5,#dceaf6,#e0ecf8,#e3eef8,#e7f0fa,#e9f2fa,#ebf3fb,#f1f7fd,#f4f9fe,#f3f8fe,#f1f7fd,#eaf3fb,#e3eef9,#dfecf7,#ddeaf7,#dceaf6,#dce9f6,#deebf7,#e1edf8,#e3eef9,#e5eff9,#e4eff9,#e4eff9,#e3eef8,#e2edf8,#e1edf8,#e0ecf8,#e0ecf8,#dfecf7,#dfebf7,#dfebf7)"></i>
<i style="background:linear-gradient(90deg,#e3eef9,#e3eef9,#e3eef9,#e3eef9,#e3eef9,#e3eef9,#e3eef9,#e4eff9,#e4eff9,#e5eff9,#e5eff9,#e6f0f9,#e7f0fa,#e7f0fa,#e7f1fa,#e7f1fa,#e7f1fa,#e6f0f9,#e4eff9,#e3eef8,#e1edf8,#dfebf7,#ddeaf7,#ddeaf7,#ddeaf7,#d9e8f5,#d3e3f3,#cfe1f2,#cddff1,#d2e3f3,#d8e7f5,#dceaf6,#dfecf7,#e3eef8,#e7f0fa,#e9f2fa,#ebf3fb,#f1f7fd,#f5f9fe,#f4f9fe,#f2f7fd,#ebf3fb,#e3eef9,#dfebf7,#dceaf6,#dce9f6,#dce9f6,#ddeaf7,#e0ecf8,#e3eef8,#e4eff9,#e3eef9,#e3eef9,#e2edf8,#e1edf8,#e1edf8,#e0ecf8,#dfecf7,#dfecf7,#dfebf7,#deebf7)"></i>
<i style="background:linear-gradient(90deg,#e3eef9,#e3eef9,#e3eef9,#e3eef9,#e3eef9,#e3eef9,#e3eef9,#e4eff9,#e4eff9,#e5eff9,#e5eff9,#e6f0f9,#e7f0fa,#e7f0fa,#e7f1fa,#e7f1fa,#e7f1fa,#e6f0f9,#e4eff9,#e3eef8,#e1edf8,#dfebf7,#ddeaf7,#ddeaf7,#ddeaf7,#d9e7f5,#d2e3f3,#cde0f1,#ccdff1,#d1e2f3,#d7e6f5,#dbe9f6,#dfebf7,#e2edf8,#e7f0fa,#e9f2fa,#ebf3fb,#f2f7fd,#f6faff,#f5f9fe,#f2f8fd,#ebf3fb,#e3eef9,#dfebf7,#dceaf6,#dbe9f6,#dbe9f6,#dceaf6,#dfebf7,#e1edf8,#e3eef8,#e3eef8,#e2edf8,#e2edf8,#e1edf8,#e0ecf8,#dfecf7,#dfecf7,#dfebf7,#deebf7,#deebf7)"></i>
<i style="background:linear-gradient(90deg,#e3eef9,#e3eef9,#e3eef9,#e3eef9,#e3eef9,#e3eef9,#e3eef9,#e4eff9,#e4eff9,#e5eff9,#e5eff9,#e6f0f9,#e7f0fa,#e7f0fa,#e7f1fa,#e7f1fa,#e7f1fa,#e6f0f9,#e4eff9,#e3eef8,#e1edf8,#dfebf7,#ddeaf7,#ddeaf7,#ddeaf7,#d8e7f5,#d0e2f2,#cddff1,#cadef0,#d0e2f2,#d6e6f4,#dae8f6,#deebf7,#e2edf8,#e6f0f9,#e8f1fa,#ebf3fb,#f2f8fd,#f7fbff,#f5fafe,#f3f8fe,#ecf4fb,#e3eef9,#dfebf7,#dce9f6,#dae8f6,#dae8f6,#dce9f6,#deebf7,#e0ecf8,#e2edf8,#e2edf8,#e1edf8,#e1edf8,#e0ecf8,#dfecf7,#dfecf7,#dfebf7,#deebf7,#deebf7,#ddeaf7)"></i>
</div>
<div class="hm" style="top:448px;height:333px">
<i style="background:linear-gradient(90deg,#f5fafe,#f5fafe,#f5f9fe,#f4f9fe,#f2f8fd,#f2f7fd,#f0f6fd,#eef5fc,#ecf4fb,#e9f2fa,#e7f0fa,#e3eef9,#dfecf7,#dce9f6,#d8e7f5,#d3e4f3,#cee0f2,#c7dcef,#bdd7ec,#b3d3e8,#a9cfe5,#9cc9e1,#8cc0dd,#7fb9da,#75b4d8,#69add5,#5fa6d1,#549fcd,#4e9acb,#4e9acb,#4e9acb,#4e9acb,#4e9acb,#539ecd,#5ba3d0,#5fa6d1,#63a8d3,#69add5,#72b2d8,#79b5d9,#7fb9da,#87bddc,#8cc0dd,#8cc0dd,#8cc0dd,#8cc0dd,#8cc0dd,#8dc1dd,#94c4df,#9ac8e0,#a3cce3,#add0e6,#b7d4ea,#c1d9ed,#c9ddf0,#cee0f2,#d2e3f3,#d6e5f4,#d9e7f5,#dce9f6,#ddeaf7)"></i>
<i style="background:linear-gradient(90deg,#f5fafe,#f5fafe,#f5f9fe,#f4f9fe,#f2f8fd,#f2f7fd,#f0f6fd,#eef5fc,#ecf4fb,#e9f2fa,#e7f0fa,#e3eef9,#dfecf7,#dce9f6,#d8e7f5,#d3e4f3,#cee0f2,#c7dcef,#bdd7ec,#b3d3e8,#a9cfe5,#9ac8e0,#8abfdd,#7db8da,#6fb0d7,#64a9d3,#5aa2cf,#4f9bcb,#4997c9,#4896c8,#4896c8,#4896c8,#4997c9,#4e9acb,#56a0ce,#5aa2cf,#5da5d1,#65aad4,#6dafd7,#75b4d8,#7cb7da,#84bcdb,#8abfdd,#8abfdd,#8abfdd,#8abfdd,#8abfdd,#8dc1dd,#92c4de,#9ac8e0,#a3cce3,#add0e6,#b7d4ea,#c1d9ed,#c9ddf0,#cee0f2,#d2e3f3,#d6e5f4,#d9e7f5,#dce9f6,#ddeaf7)"></i>
<i style="background:linear-gradient(90deg,#f5fafe,#f5fafe,#f5f9fe,#f4f9fe,#f2f8fd,#f2f7fd,#f0f6fd,#eef5fc,#ecf4fb,#e9f2fa,#e7f0fa,#e3eef9,#dfecf7,#dce9f6,#d8e7f5,#d3e4f3,#cee0f2,#c7dcef,#bdd7ec,#b3d3e8,#a8cee4,#9ac8e0,#89bedc,#7ab6d9,#6aaed6,#5fa6d1,#549fcd,#4a98c9,#4493c7,#4292c6,#4292c6,#4292c6,#4493c7,#4997c9,#519ccc,#56a0ce,#5aa2cf,#63a8d3,#6aaed6,#72b2d8,#7ab6d9,#82bbdb,#87bddc,#89bedc,#89bedc,#89bedc,#8abfdd,#8cc0dd,#91c3de,#99c7e0,#a3cce3,#add0e6,#b7d4ea,#c1d9ed,#c9ddf0,#cee0f2,#d2e3f3,#d6e5f4,#d9e7f5,#dce9f6,#ddeaf7)"></i>
<i style="background:linear-gradient(90deg,#f5fafe,#f5fafe,#f5f9fe,#f4f9fe,#f2f8fd,#f2f7fd,#f0f6fd,#eef5fc,#ecf4fb,#e9f2fa,#e7f0fa,#e3eef9,#dfecf7,#dce9f6,#d8e7f5,#d3e4f3,#cee0f2,#c7dcef,#bdd7ec,#b2d2e8,#a6cee4,#99c7e0,#87bddc,#77b5d9,#66abd4,#5ba3d0,#4f9bcb,#4594c7,#3f8fc5,#3e8ec4,#3d8dc4,#3e8ec4,#3f8fc5,#4493c7,#4d99ca,#519ccc,#56a0ce,#5fa6d1,#68acd5,#71b1d7,#77b5d9,#81badb,#85bcdc,#87bddc,#87bddc,#89bedc,#89bedc,#8cc0dd,#8fc2de,#99c7e0,#a3cce3,#add0e6,#b7d4ea,#c1d9ed,#c9ddf0,#cee0f2,#d2e3f3,#d6e5f4,#d9e7f5,#dce9f6,#ddeaf7)"></i>
<i style="background:linear-gradient(90deg,#f5fafe,#f5fafe,#f5f9fe,#f4f9fe,#f2f8fd,#f2f7fd,#f0f6fd,#eef5fc,#ecf4fb,#e9f2fa,#e7f0fa,#e3eef9,#dfecf7,#dce9f6,#d8e7f5,#d3e4f3,#cee0f2,#c7dcef,#bdd7ec,#b2d2e8,#a6cee4,#97c6df,#85bcdc,#74b3d8,#63a8d3,#56a0ce,#4a98c9,#4090c5,#3a8ac2,#3989c1,#3989c1,#3989c1,#3a8ac2,#3f8fc5,#4896c8,#4d99ca,#529dcc,#5ba3d0,#65aad4,#6dafd7,#75b4d8,#7db8da,#84bcdb,#85bcdc,#85bcdc,#87bddc,#89bedc,#8abfdd,#8dc1dd,#97c6df,#a3cce3,#add0e6,#b7d4ea,#c1d9ed,#c9ddf0,#cee0f2,#d2e3f3,#d6e5f4,#d9e7f5,#dce9f6,#ddeaf7)"></i>
<i style="background:linear-gradient(90deg,#f5fafe,#f5fafe,#f5f9fe,#f4f9fe,#f2f8fd,#f2f7fd,#f0f6fd,#eef5fc,#ecf4fb,#e9f2fa,#e7f0fa,#e3eef9,#dfecf7,#dce9f6,#d8e7f5,#d3e4f3,#cee0f2,#c7dcef,#bdd7ec,#b2d2e8,#a5cde3,#97c6df,#85bcdc,#71b1d7,#5fa6d1,#519ccc,#4594c7,#3b8bc2,#3686c0,#3585bf,#3484bf,#3585bf,#3686c0,#3b8bc2,#4292c6,#4896c8,#4e9acb,#58a1cf,#63a8d3,#6aaed6,#72b2d8,#7cb7da,#82bbdb,#84bcdb,#84bcdb,#85bcdc,#87bddc,#89bedc,#8dc1dd,#97c6df,#a3cce3,#add0e6,#b7d4ea,#c1d9ed,#c9ddf0,#cee0f2,#d2e3f3,#d6e5f4,#d9e7f5,#dce9f6,#ddeaf7)"></i>
<i style="background:linear-gradient(90deg,#f5fafe,#f5fafe,#f5f9fe,#f4f9fe,#f2f8fd,#f2f7fd,#f0f6fd,#eef5fc,#ecf4fb,#e9f2fa,#e7f0fa,#e3eef9,#dfecf7,#dce9f6,#d8e7f5,#d3e4f3,#cee0f2,#c7dcef,#bdd7ec,#b0d2e7,#a5cde3,#95c5df,#82bbdb,#6dafd7,#5ba3d0,#4d99ca,#4090c5,#3787c0,#3282be,#3080bd,#3080bd,#3080bd,#3282be,#3787c0,#3e8ec4,#4493c7,#4a98c9,#56a0ce,#60a7d2,#68acd5,#71b1d7,#7ab6d9,#81badb,#82bbdb,#82bbdb,#84bcdb,#85bcdc,#89bedc,#8cc0dd,#97c6df,#a3cce3,#add0e6,#b7d4ea,#c1d9ed,#c9ddf0,#cee0f2,#d2e3f3,#d6e5f4,#d9e7f5,#dce9f6,#ddeaf7)"></i>
<i style="background:linear-gradient(90deg,#f5fafe,#f5fafe,#f5f9fe,#f4f9fe,#f2f8fd,#f2f7fd,#f0f6fd,#eef5fc,#ecf4fb,#e9f2fa,#e7f0fa,#e3eef9,#dfecf7,#dce9f6,#d8e7f5,#d3e4f3,#cee0f2,#c7dcef,#bdd7ec,#b0d2e7,#a4cce3,#94c4df,#81badb,#6aaed6,#58a1cf,#4997c9,#3c8cc3,#3383be,#2e7ebc,#2c7cba,#2b7bba,#2c7cba,#2e7ebc,#3383be,#3a8ac2,#4090c5,#4896c8,#529dcc,#5da5d1,#65aad4,#6dafd7,#77b5d9,#7db8da,#7fb9da,#81badb,#82bbdb,#85bcdc,#87bddc,#8cc0dd,#97c6df,#a3cce3,#add0e6,#b7d4ea,#c1d9ed,#c9ddf0,#cee0f2,#d2e3f3,#d6e5f4,#d9e7f5,#dce9f6,#ddeaf7)"></i>
<i style="background:linear-gradient(90deg,#f5fafe,#f5fafe,#f5f9fe,#f4f9fe,#f2f8fd,#f2f7fd,#f0f6fd,#eef5fc,#ecf4fb,#e9f2fa,#e7f0fa,#e3eef9,#dfecf7,#dce9f6,#d8e7f5,#d3e4f3,#cee0f2,#c7dcef,#bdd7ec,#b0d2e7,#a3cce3,#92c4de,#7fb9da,#68acd5,#549fcd,#4493c7,#3989c1,#2f7fbc,#2979b9,#2676b8,#2676b8,#2676b8,#2979b9,#2f7fbc,#3686c0,#3c8cc3,#4493c7,#4f9bcb,#5ba3d0,#64a9d3,#6caed6,#75b4d8,#7cb7da,#7db8da,#7fb9da,#81badb,#84bcdb,#87bddc,#8cc0dd,#97c6df,#a3cce3,#add0e6,#b7d4ea,#c1d9ed,#c9ddf0,#cee0f2,#d2e3f3,#d6e5f4,#d9e7f5,#dce9f6,#ddeaf7)"></i>
<i style="background:linear-gradient(90deg,#f5fafe,#f5fafe,#f5f9fe,#f4f9fe,#f2f8fd,#f2f7fd,#f0f6fd,#eef5fc,#ecf4fb,#e9f2fa,#e7f0fa,#e3eef9,#dfecf7,#dce9f6,#d8e7f5,#d3e4f3,#cee0f2,#c7dcef,#bdd7ec,#b0d2e7,#a3cce3,#92c4de,#7db8da,#65aad4,#519ccc,#4090c5,#3585bf,#2b7bba,#2474b7,#2272b6,#2171b5,#2272b6,#2474b7,#2a7ab9,#3282be,#3989c1,#4090c5,#4d99ca,#58a1cf,#61a7d2,#69add5,#72b2d8,#79b5d9,#7cb7da,#7db8da,#7fb9da,#82bbdb,#85bcdc,#8cc0dd,#97c6df,#a3cce3,#add0e6,#b7d4ea,#c1d9ed,#c9ddf0,#cee0f2,#d2e3f3,#d6e5f4,#d9e7f5,#dce9f6,#ddeaf7)"></i>
<i style="background:linear-gradient(90deg,#f5fafe,#f5fafe,#f5f9fe,#f4f9fe,#f2f8fd,#f2f7fd,#f0f6fd,#eef5fc,#ecf4fb,#e9f2fa,#e7f0fa,#e3eef9,#dfecf7,#dce9f6,#d8e7f5,#d3e3f3,#cde0f1,#c7dcef,#bdd7ec,#afd1e7,#a1cbe2,#91c3de,#7cb7da,#63a8d3,#4d99ca,#3c8cc3,#3181bd,#2676b8,#206fb4,#1e6db2,#1d6cb1,#1e6db2,#206fb4,#2575b7,#2e7ebc,#3686c0,#3e8ec4,#4997c9,#56a0ce,#5fa6d1,#66abd4,#6fb0d7,#75b4d8,#79b5d9,#7cb7da,#7db8da,#81badb,#85bcdc,#8cc0dd,#97c6df,#a3cce3,#add0e6,#b7d4ea,#c1d9ed,#caddf0,#cee0f2,#d3e3f3,#d6e6f4,#d9e8f5,#dce9f6,#deebf7)"></i>
<i style="background:linear-gradient(90deg,#f5fafe,#f5fafe,#f5f9fe,#f4f9fe,#f2f8fd,#f2f7fd,#f0f6fd,#eef5fc,#ecf4fb,#e9f2fa,#e7f0fa,#e3eef9,#dfecf7,#dce9f6,#d8e7f5,#d3e3f3,#cde0f1,#c7dcef,#bcd7eb,#afd1e7,#a1cbe2,#8fc2de,#79b5d9,#60a7d2,#4997c9,#3989c1,#2d7dbb,#2171b5,#1c6ab0,#1a68ae,#1a68ae,#1a68ae,#1c6ab0,#2070b4,#2a7ab9,#3282be,#3b8bc2,#4695c8,#539ecd,#5ca4d0,#64a9d3,#6caed6,#72b2d8,#77b5d9,#79b5d9,#7cb7da,#7fb9da,#84bcdb,#8cc0dd,#97c6df,#a3cce3,#aed1e7,#b8d5ea,#c2d9ee,#caddf0,#cfe1f2,#d3e3f3,#d6e6f4,#dae8f6,#dceaf6,#deebf7)"></i>
<i style="background:linear-gradient(90deg,#f5fafe,#f5fafe,#f5f9fe,#f4f9fe,#f2f8fd,#f2f7fd,#f0f6fd,#eef5fc,#ecf4fb,#e9f2fa,#e7f0fa,#e3eef9,#dfecf7,#dce9f6,#d8e7f5,#d3e3f3,#cde0f1,#c7dbef,#bcd7eb,#aed1e7,#a0cbe2,#8dc1dd,#77b5d9,#5ca4d0,#4594c7,#3686c0,#2a7ab9,#1d6cb1,#1865ac,#1764ab,#1663aa,#1764ab,#1966ad,#1d6cb1,#2575b7,#2f7fbc,#3989c1,#4493c7,#4f9bcb,#5aa2cf,#61a7d2,#69add5,#6fb0d7,#74b3d8,#77b5d9,#7ab6d9,#7db8da,#82bbdb,#8cc0dd,#97c6df,#a3cce3,#aed1e7,#b8d5ea,#c3daee,#cadef0,#d0e1f2,#d3e4f3,#d7e6f5,#dae8f6,#ddeaf7,#dfebf7)"></i>
<i style="background:linear-gradient(90deg,#f5fafe,#f5fafe,#f5f9fe,#f4f9fe,#f2f8fd,#f2f7fd,#f0f6fd,#eef5fc,#ecf4fb,#e9f2fa,#e7f0fa,#e3eef9,#dfecf7,#dce9f6,#d8e7f5,#d3e3f3,#cde0f1,#c7dbef,#bcd7eb,#aed1e7,#9fcae1,#8cc0dd,#74b3d8,#5aa2cf,#4191c6,#3383be,#2575b7,#1a68ae,#1460a8,#135fa7,#125ea6,#135fa7,#1561a9,#1967ad,#2171b5,#2c7cba,#3787c0,#4191c6,#4d99ca,#57a0ce,#5fa6d1,#66abd4,#6caed6,#71b1d7,#75b4d8,#77b5d9,#7ab6d9,#82bbdb,#8cc0dd,#97c6df,#a3cce3,#aed1e7,#b9d6ea,#c4daee,#cbdef1,#d0e1f2,#d4e4f4,#d8e7f5,#dbe9f6,#deebf7,#dfecf7)"></i>
<i style="background:linear-gradient(90deg,#f5fafe,#f5fafe,#f5f9fe,#f4f9fe,#f2f8fd,#f2f7fd,#f0f6fd,#eef5fc,#ecf4fb,#e9f2fa,#e7f0fa,#e3eef9,#dfecf7,#dce9f6,#d8e7f5,#d3e3f3,#cddff1,#c7dbef,#bad6eb,#aed1e7,#9fcae1,#8abfdd,#72b2d8,#57a0ce,#3f8fc5,#2f7fbc,#2171b5,#1764ab,#115ca5,#0f5aa3,#0f5aa3,#0f5aa3,#115ca5,#1663aa,#1e6db2,#2979b9,#3585bf,#3f8fc5,#4a98c9,#549fcd,#5ca4d0,#64a9d3,#69add5,#6dafd7,#72b2d8,#75b4d8,#79b5d9,#81badb,#8cc0dd,#97c6df,#a3cce3,#afd1e7,#bad6eb,#c6dbef,#ccdff1,#d0e2f2,#d5e5f4,#d9e7f5,#dce9f6,#deebf7,#e0ecf8)"></i>
<i style="background:linear-gradient(90deg,#f5fafe,#f5fafe,#f5f9fe,#f4f9fe,#f2f8fd,#f2f7fd,#f0f6fd,#eef5fc,#ecf4fb,#e9f2fa,#e7f0fa,#e3eef9,#dfecf7,#dce9f6,#d8e7f5,#d3e3f3,#cddff1,#c6dbef,#bad6eb,#add0e6,#9dcae1,#89bedc,#6fb0d7,#549fcd,#3c8cc3,#2c7cba,#1f6eb3,#1460a8,#0d57a1,#0c56a0,#0b559f,#0c56a0,#0e58a2,#135fa7,#1b69af,#2575b7,#3282be,#3d8dc4,#4896c8,#529dcc,#5ba3d0,#61a7d2,#66abd4,#6caed6,#71b1d7,#74b3d8,#79b5d9,#81badb,#8cc0dd,#97c6df,#a3cce3,#afd1e7,#bcd7eb,#c6dbef,#ccdff1,#d1e2f3,#d5e5f4,#d9e7f5,#dceaf6,#dfebf7,#e0ecf8)"></i>
<i style="background:linear-gradient(90deg,#f5fafe,#f5fafe,#f5f9fe,#f4f9fe,#f2f8fd,#f2f7fd,#f0f6fd,#eef5fc,#ecf4fb,#e9f2fa,#e7f0fa,#e3eef9,#dfecf7,#dce9f6,#d8e7f5,#d2e3f3,#ccdff1,#c6dbef,#b9d6ea,#add0e6,#9dcae1,#87bddc,#6caed6,#529dcc,#3a8ac2,#2a7ab9,#1c6bb0,#115ca5,#0a549e,#09529d,#08519c,#09529d,#0a549e,#105ba4,#1966ad,#2272b6,#3080bd,#3b8bc2,#4594c7,#4f9bcb,#58a1cf,#5fa6d1,#65aad4,#6aaed6,#6fb0d7,#74b3d8,#77b5d9,#81badb,#8cc0dd,#97c6df,#a3cce3,#afd1e7,#bcd7eb,#c7dbef,#cddff1,#d2e3f3,#d6e5f4,#d9e8f5,#dceaf6,#dfecf7,#e1edf8)"></i>
<i style="background:linear-gradient(90deg,#f5fafe,#f5fafe,#f5f9fe,#f4f9fe,#f2f8fd,#f2f7fd,#f0f6fd,#eef5fc,#ecf4fb,#e9f2fa,#e7f0fa,#e3eef9,#dfecf7,#dce9f6,#d8e7f5,#d2e3f3,#ccdff1,#c6dbef,#b9d6ea,#abd0e6,#9cc9e1,#84bcdb,#6aaed6,#4f9bcb,#3888c1,#2676b8,#1967ad,#0e59a2,#08509b,#084e98,#084d96,#084e98,#08509b,#0d57a1,#1562a9,#206fb4,#2d7dbb,#3888c1,#4292c6,#4d99ca,#56a0ce,#5da5d1,#64a9d3,#69add5,#6fb0d7,#72b2d8,#77b5d9,#81badb,#8cc0dd,#97c6df,#a3cce3,#b0d2e7,#bdd7ec,#c7dcef,#cde0f1,#d2e3f3,#d6e5f4,#d9e8f5,#ddeaf7,#dfecf7,#e2edf8)"></i>
<i style="background:linear-gradient(90deg,#f5fafe,#f5fafe,#f5f9fe,#f4f9fe,#f2f8fd,#f2f7fd,#f0f6fd,#eef5fc,#ecf4fb,#e9f2fa,#e7f0fa,#e3eef9,#dfecf7,#dce9f6,#d7e6f5,#d2e3f3,#ccdff1,#c4daee,#b9d6ea,#abd0e6,#9ac8e0,#82bbdb,#68acd5,#4d99ca,#3585bf,#2373b6,#1764ab,#0c56a0,#084d96,#084b93,#084990,#084a91,#084d96,#0a549e,#135fa7,#1d6cb1,#2a7ab9,#3585bf,#3f8fc5,#4a98c9,#549fcd,#5ca4d0,#63a8d3,#69add5,#6dafd7,#72b2d8,#77b5d9,#81badb,#8cc0dd,#97c6df,#a3cce3,#b0d2e7,#bed8ec,#c7dcef,#cde0f1,#d2e3f3,#d6e6f4,#dae8f6,#ddeaf7,#dfecf7,#e2edf8)"></i>
<i style="background:linear-gradient(90deg,#f5fafe,#f5fafe,#f5f9fe,#f4f9fe,#f2f8fd,#f2f7fd,#f0f6fd,#eef5fc,#ecf4fb,#e9f2fa,#e7f0fa,#e3eef9,#dfecf7,#dce9f6,#d7e6f5,#d2e3f3,#cbdef1,#c4daee,#b9d6ea,#abd0e6,#9ac8e0,#81badb,#65aad4,#4a98c9,#3383be,#2171b5,#1561a9,#0a549e,#084b93,#08478d,#08458a,#08468b,#084990,#08509b,#105ba4,#1a68ae,#2676b8,#3282be,#3d8dc4,#4997c9,#539ecd,#5ba3d0,#61a7d2,#68acd5,#6dafd7,#72b2d8,#77b5d9,#81badb,#8cc0dd,#97c6df,#a4cce3,#b2d2e8,#bed8ec,#c8dcf0,#cde0f1,#d3e3f3,#d6e6f4,#dae8f6,#ddeaf7,#e0ecf8,#e2edf8)"></i>
<i style="background:linear-gradient(90deg,#f5fafe,#f5fafe,#f5f9fe,#f4f9fe,#f2f8fd,#f2f7fd,#f0f6fd,#eef5fc,#ecf4fb,#e9f2fa,#e7f0fa,#e3eef9,#dfecf7,#dce9f6,#d7e6f5,#d1e2f3,#cbdef1,#c4daee,#b8d5ea,#aacfe5,#99c7e0,#7fb9da,#64a9d3,#4997c9,#3282be,#1f6eb3,#125ea6,#08519c,#08488e,#084387,#084184,#084285,#08468b,#084d96,#0e58a2,#1865ac,#2272b6,#2f7fbc,#3a8ac2,#4695c8,#529dcc,#5aa2cf,#60a7d2,#66abd4,#6dafd7,#72b2d8,#77b5d9,#81badb,#8cc0dd,#97c6df,#a4cce3,#b2d2e8,#bfd8ed,#c8dcf0,#cee0f2,#d3e3f3,#d6e6f4,#dae8f6,#ddeaf7,#e0ecf8,#e3eef8)"></i>
<i style="background:linear-gradient(90deg,#f5fafe,#f5fafe,#f5f9fe,#f4f9fe,#f2f8fd,#f2f7fd,#f0f6fd,#eef5fc,#ecf4fb,#e9f2fa,#e7f0fa,#e3eef9,#dfecf7,#dbe9f6,#d6e6f4,#d1e2f3,#cbdef1,#c3daee,#b8d5ea,#aacfe5,#99c7e0,#7db8da,#61a7d2,#4695c8,#3080bd,#1c6bb0,#105ba4,#084e98,#08458a,#084082,#083c7d,#083e81,#084285,#084a91,#0a549e,#1561a9,#206fb4,#2c7cba,#3787c0,#4493c7,#519ccc,#58a1cf,#60a7d2,#66abd4,#6caed6,#72b2d8,#77b5d9,#81badb,#8cc0dd,#99c7e0,#a4cce3,#b3d3e8,#bfd8ed,#c9ddf0,#cee0f2,#d3e3f3,#d6e6f4,#dae8f6,#deebf7,#e0ecf8,#e3eef8)"></i>
<i style="background:linear-gradient(90deg,#f5fafe,#f5fafe,#f5f9fe,#f4f9fe,#f2f8fd,#f2f7fd,#f0f6fd,#eef5fc,#ecf4fb,#e9f2fa,#e7f0fa,#e3eef9,#dfecf7,#dbe9f6,#d6e6f4,#d0e2f2,#cadef0,#c3daee,#b8d5ea,#aacfe5,#97c6df,#7cb7da,#5fa6d1,#4493c7,#2e7ebc,#1b69af,#0e58a2,#084c95,#084387,#083c7d,#083979,#083b7c,#083e81,#08478d,#08519c,#125ea6,#1c6bb0,#2979b9,#3585bf,#4191c6,#4e9acb,#57a0ce,#5fa6d1,#65aad4,#6caed6,#71b1d7,#77b5d9,#81badb,#8cc0dd,#99c7e0,#a5cde3,#b3d3e8,#c1d9ed,#c9ddf0,#cee0f2,#d3e3f3,#d7e6f5,#dbe9f6,#deebf7,#e1edf8,#e3eef8)"></i>
<i style="background:linear-gradient(90deg,#f5fafe,#f5fafe,#f5f9fe,#f4f9fe,#f2f8fd,#f2f7fd,#f0f6fd,#eef5fc,#ecf4fb,#e9f2fa,#e7f0fa,#e3eef9,#dfecf7,#dbe9f6,#d6e5f4,#d0e2f2,#cadef0,#c3daee,#b7d4ea,#a9cfe5,#97c6df,#7ab6d9,#5da5d1,#4292c6,#2c7cba,#1967ad,#0c56a0,#084a91,#084184,#083979,#083674,#083877,#083c7d,#084488,#084f99,#105ba4,#1a68ae,#2575b7,#3282be,#3f8fc5,#4d99ca,#57a0ce,#5fa6d1,#65aad4,#6caed6,#71b1d7,#77b5d9,#81badb,#8cc0dd,#99c7e0,#a5cde3,#b4d3e9,#c2d9ee,#caddf0,#cfe1f2,#d3e4f3,#d7e6f5,#dbe9f6,#deebf7,#e1edf8,#e3eef9)"></i>
<i style="background:linear-gradient(90deg,#f5fafe,#f5fafe,#f5f9fe,#f4f9fe,#f2f8fd,#f2f7fd,#f0f6fd,#eef5fc,#ecf4fb,#e9f2fa,#e7f0fa,#e3eef9,#dfecf7,#dbe9f6,#d6e5f4,#d0e2f2,#cadef0,#c2d9ee,#b7d4ea,#a9cfe5,#95c5df,#79b5d9,#5ca4d0,#4090c5,#2b7bba,#1865ac,#0a549e,#08488e,#083e81,#083776,#083471,#083573,#083979,#084285,#084c95,#0e58a2,#1966ad,#2373b6,#3080bd,#3e8ec4,#4b98ca,#56a0ce,#5da5d1,#65aad4,#6caed6,#71b1d7,#77b5d9,#81badb,#8cc0dd,#99c7e0,#a5cde3,#b4d3e9,#c2d9ee,#caddf0,#cfe1f2,#d3e4f3,#d7e6f5,#dbe9f6,#deebf7,#e1edf8,#e3eef9)"></i>
<i style="background:linear-gradient(90deg,#f5fafe,#f5fafe,#f5f9fe,#f4f9fe,#f2f8fd,#f2f7fd,#f0f6fd,#eef5fc,#ecf4fb,#e9f2fa,#e7f0fa,#e3eef9,#dfecf7,#dbe9f6,#d6e5f4,#d0e2f2,#cadef0,#c2d9ee,#b7d4ea,#a8cee4,#94c4df,#77b5d9,#5ba3d0,#3f8fc5,#2979b9,#1663aa,#09529d,#08468b,#083c7d,#083674,#08326e,#083471,#083776,#084082,#084a91,#0c56a0,#1764ab,#2171b5,#2e7ebc,#3c8cc3,#4a98c9,#549fcd,#5da5d1,#65aad4,#6caed6,#71b1d7,#77b5d9,#81badb,#8cc0dd,#99c7e0,#a6cee4,#b5d4e9,#c3daee,#cadef0,#d0e1f2,#d3e4f3,#d7e6f5,#dbe9f6,#deebf7,#e1edf8,#e3eef9)"></i>
<i style="background:linear-gradient(90deg,#f5fafe,#f5fafe,#f5f9fe,#f4f9fe,#f2f8fd,#f2f7fd,#f0f6fd,#eef5fc,#ecf4fb,#e9f2fa,#e7f0fa,#e3eef9,#dfecf7,#dbe9f6,#d6e5f4,#d0e2f2,#cadef0,#c2d9ee,#b5d4e9,#a6cee4,#92c4de,#75b4d8,#5aa2cf,#3e8ec4,#2777b8,#1562a9,#08509b,#084488,#083b7c,#083471,#08316d,#083370,#083674,#083d7f,#084990,#0b559f,#1562a9,#206fb4,#2d7dbb,#3a8ac2,#4997c9,#549fcd,#5fa6d1,#65aad4,#6aaed6,#71b1d7,#77b5d9,#81badb,#8cc0dd,#9ac8e0,#a6cee4,#b5d4e9,#c4daee,#cbdef1,#d0e1f2,#d4e4f4,#d8e7f5,#dce9f6,#dfebf7,#e1edf8,#e3eef9)"></i>
<i style="background:linear-gradient(90deg,#f5fafe,#f5fafe,#f5f9fe,#f4f9fe,#f2f8fd,#f2f7fd,#f0f6fd,#eef5fc,#ecf4fb,#e9f2fa,#e7f0fa,#e3eef9,#dfecf7,#dbe9f6,#d6e5f4,#d0e2f2,#cadef0,#c2d9ee,#b5d4e9,#a5cde3,#8fc2de,#74b3d8,#58a1cf,#3d8dc4,#2575b7,#1460a8,#084f99,#084387,#083979,#083370,#08306b,#08316d,#083471,#083b7c,#08478d,#0a539e,#1561a9,#1e6db2,#2b7bba,#3989c1,#4695c8,#549fcd,#5fa6d1,#65aad4,#6aaed6,#71b1d7,#77b5d9,#81badb,#8dc1dd,#9ac8e0,#a8cee4,#b7d4ea,#c4daee,#cbdef1,#d0e2f2,#d5e5f4,#d9e7f5,#dce9f6,#dfebf7,#e1edf8,#e3eef9)"></i>
<i style="background:linear-gradient(90deg,#f5fafe,#f5fafe,#f5f9fe,#f4f9fe,#f2f8fd,#f2f7fd,#f0f6fd,#eef5fc,#ecf4fb,#e9f2fa,#e7f0fa,#e3eef9,#dfecf7,#dbe9f6,#d6e5f4,#d0e2f2,#cadef0,#c2d9ee,#b4d3e9,#a3cce3,#8abfdd,#71b1d7,#58a1cf,#3c8cc3,#2474b7,#135fa7,#084d96,#084184,#083877,#08326e,#08306b,#08316d,#083370,#083a7a,#08468b,#09529d,#135fa7,#1d6cb1,#2a7ab9,#3787c0,#4594c7,#549fcd,#60a7d2,#66abd4,#6aaed6,#71b1d7,#77b5d9,#82bbdb,#8dc1dd,#9cc9e1,#a9cfe5,#b8d5ea,#c6dbef,#ccdff1,#d1e2f3,#d6e5f4,#d9e7f5,#dceaf6,#dfecf7,#e2edf8,#e3eef9)"></i>
<i style="background:linear-gradient(90deg,#f5fafe,#f5fafe,#f5f9fe,#f4f9fe,#f2f8fd,#f2f7fd,#f0f6fd,#eef5fc,#ecf4fb,#e9f2fa,#e7f0fa,#e3eef9,#dfecf7,#dbe9f6,#d6e5f4,#d0e2f2,#cadef0,#c1d9ed,#b3d3e8,#a1cbe2,#89bedc,#6fb0d7,#57a0ce,#3c8cc3,#2373b6,#125ea6,#084d96,#084184,#083776,#08326e,#08306b,#08306b,#08326e,#083979,#08458a,#08519c,#135fa7,#1c6bb0,#2979b9,#3686c0,#4493c7,#549fcd,#61a7d2,#66abd4,#6aaed6,#71b1d7,#77b5d9,#82bbdb,#8fc2de,#9dcae1,#a9cfe5,#b8d5ea,#c6dbef,#cddff1,#d1e2f3,#d6e5f4,#d9e8f5,#dceaf6,#dfecf7,#e2edf8,#e3eef9)"></i>
<i style="background:linear-gradient(90deg,#f5fafe,#f5fafe,#f5f9fe,#f4f9fe,#f2f8fd,#f2f7fd,#f0f6fd,#eef5fc,#ecf4fb,#e9f2fa,#e7f0fa,#e3eef9,#dfecf7,#dbe9f6,#d6e5f4,#d0e2f2,#caddf0,#c1d9ed,#b3d3e8,#a0cbe2,#87bddc,#6dafd7,#57a0ce,#3b8bc2,#2373b6,#125ea6,#084d96,#084184,#083776,#08326e,#08306b,#08316d,#083370,#083979,#08458a,#08519c,#135fa7,#1d6cb1,#2979b9,#3686c0,#4493c7,#549fcd,#61a7d2,#66abd4,#6caed6,#71b1d7,#79b5d9,#84bcdb,#91c3de,#9fcae1,#aacfe5,#b9d6ea,#c6dbef,#cddff1,#d1e2f3,#d6e5f4,#d9e8f5,#dceaf6,#dfecf7,#e2edf8,#e3eef9)"></i>
<i style="background:linear-gradient(90deg,#f5fafe,#f5fafe,#f5f9fe,#f4f9fe,#f2f8fd,#f2f7fd,#f0f6fd,#eef5fc,#ecf4fb,#e9f2fa,#e7f0fa,#e3eef9,#dfecf7,#dbe9f6,#d6e5f4,#d0e1f2,#caddf0,#bfd8ed,#b2d2e8,#a0cbe2,#85bcdc,#6caed6,#56a0ce,#3b8bc2,#2373b6,#125ea6,#084d96,#084184,#083877,#083471,#08326e,#083370,#083573,#083c7d,#08478d,#09529d,#1460a8,#1d6cb1,#2a7ab9,#3787c0,#4594c7,#549fcd,#61a7d2,#68acd5,#6dafd7,#74b3d8,#7ab6d9,#85bcdc,#92c4de,#a0cbe2,#abd0e6,#b9d6ea,#c6dbef,#cddff1,#d1e2f3,#d6e5f4,#d9e8f5,#dceaf6,#dfecf7,#e2edf8,#e3eef9)"></i>
<i style="background:linear-gradient(90deg,#f5fafe,#f5fafe,#f5f9fe,#f4f9fe,#f2f8fd,#f2f7fd,#f0f6fd,#eef5fc,#ecf4fb,#e9f2fa,#e7f0fa,#e3eef9,#dfecf7,#dbe9f6,#d6e5f4,#d0e1f2,#c9ddf0,#bed8ec,#b0d2e7,#9fcae1,#85bcdc,#6caed6,#549fcd,#3a8ac2,#2373b6,#135fa7,#084e98,#084184,#083877,#083674,#083573,#083674,#083979,#084082,#084990,#0a549e,#1561a9,#1f6eb3,#2c7cba,#3989c1,#4896c8,#56a0ce,#61a7d2,#6aaed6,#72b2d8,#77b5d9,#7db8da,#89bedc,#95c5df,#a1cbe2,#abd0e6,#b9d6ea,#c6dbef,#ccdff1,#d1e2f3,#d6e5f4,#d9e8f5,#dceaf6,#dfecf7,#e2edf8,#e3eef9)"></i>
<i style="background:linear-gradient(90deg,#f5fafe,#f5fafe,#f5f9fe,#f4f9fe,#f2f8fd,#f2f7fd,#f0f6fd,#eef5fc,#ecf4fb,#e9f2fa,#e7f0fa,#e3eef9,#dfecf7,#dbe9f6,#d6e5f4,#d0e1f2,#c8dcf0,#bed8ec,#b0d2e7,#9dcae1,#84bcdb,#6aaed6,#549fcd,#3a8ac2,#2373b6,#135fa7,#084f99,#084184,#083979,#083877,#083877,#083979,#083d7f,#084387,#084b93,#0c56a0,#1663aa,#206fb4,#2d7dbb,#3b8bc2,#4997c9,#56a0ce,#61a7d2,#6caed6,#75b4d8,#7cb7da,#82bbdb,#8cc0dd,#97c6df,#a1cbe2,#add0e6,#b9d6ea,#c6dbef,#ccdff1,#d1e2f3,#d6e5f4,#d9e8f5,#dceaf6,#dfecf7,#e2edf8,#e3eef9)"></i>
<i style="background:linear-gradient(90deg,#f5fafe,#f5fafe,#f5f9fe,#f4f9fe,#f2f8fd,#f2f7fd,#f0f6fd,#eef5fc,#ecf4fb,#e9f2fa,#e7f0fa,#e3eef9,#dfecf7,#dbe9f6,#d6e5f4,#d0e1f2,#c8dcf0,#bdd7ec,#afd1e7,#9dcae1,#84bcdb,#6aaed6,#549fcd,#3a8ac2,#2373b6,#1460a8,#08509b,#084285,#083a7a,#083b7c,#083b7c,#083d7f,#084184,#08468b,#084e98,#0e58a2,#1764ab,#2171b5,#2f7fbc,#3c8cc3,#4a98c9,#57a0ce,#61a7d2,#6dafd7,#79b5d9,#7fb9da,#85bcdc,#8dc1dd,#99c7e0,#a3cce3,#add0e6,#b9d6ea,#c6dbef,#ccdff1,#d1e2f3,#d6e5f4,#d9e8f5,#dceaf6,#dfecf7,#e2edf8,#e3eef9)"></i>
<i style="background:linear-gradient(90deg,#f5fafe,#f5fafe,#f5f9fe,#f4f9fe,#f2f8fd,#f2f7fd,#f0f6fd,#eef5fc,#ecf4fb,#e9f2fa,#e7f0fa,#e3eef9,#dfecf7,#dbe9f6,#d6e5f4,#d0e1f2,#c8dcf0,#bdd7ec,#afd1e7,#9cc9e1,#82bbdb,#6aaed6,#549fcd,#3a8ac2,#2474b7,#1561a9,#09529d,#08458a,#083d7f,#083d7f,#084082,#084285,#08458a,#084a91,#08519c,#105ba4,#1967ad,#2373b6,#3181bd,#3e8ec4,#4b98ca,#57a0ce,#63a8d3,#6fb0d7,#7ab6d9,#82bbdb,#89bedc,#91c3de,#9ac8e0,#a4cce3,#aed1e7,#bad6eb,#c6dbef,#ccdff1,#d1e2f3,#d6e5f4,#d9e8f5,#dceaf6,#dfecf7,#e2edf8,#e3eef9)"></i>
<i style="background:linear-gradient(90deg,#f5fafe,#f5fafe,#f5f9fe,#f4f9fe,#f2f8fd,#f2f7fd,#f0f6fd,#eef5fc,#ecf4fb,#e9f2fa,#e7f0fa,#e3eef9,#dfecf7,#dbe9f6,#d6e5f4,#d0e1f2,#c8dcf0,#bdd7ec,#afd1e7,#9cc9e1,#82bbdb,#69add5,#549fcd,#3b8bc2,#2575b7,#1764ab,#0b559f,#084990,#084285,#084387,#084387,#08468b,#084990,#084e98,#0a549e,#125ea6,#1b69af,#2575b7,#3383be,#3f8fc5,#4e9acb,#5aa2cf,#64a9d3,#71b1d7,#7db8da,#85bcdc,#8cc0dd,#92c4de,#9cc9e1,#a4cce3,#aed1e7,#bad6eb,#c6dbef,#ccdff1,#d1e2f3,#d6e5f4,#d9e8f5,#dceaf6,#dfecf7,#e2edf8,#e3eef9)"></i>
<i style="background:linear-gradient(90deg,#f5fafe,#f5fafe,#f5f9fe,#f4f9fe,#f2f8fd,#f2f7fd,#f0f6fd,#eef5fc,#ecf4fb,#e9f2fa,#e7f0fa,#e3eef9,#dfecf7,#dbe9f6,#d6e5f4,#d0e1f2,#c8dcf0,#bdd7ec,#aed1e7,#9cc9e1,#81badb,#69add5,#549fcd,#3c8cc3,#2777b8,#1967ad,#0f5aa3,#084e98,#08478d,#08478d,#08488e,#084a91,#084d96,#09529d,#0e59a2,#1562a9,#1d6cb1,#2979b9,#3585bf,#4191c6,#4f9bcb,#5ba3d0,#66abd4,#74b3d8,#81badb,#87bddc,#8fc2de,#95c5df,#9dcae1,#a5cde3,#aed1e7,#bad6eb,#c6dbef,#ccdff1,#d1e2f3,#d6e5f4,#d9e8f5,#dceaf6,#dfecf7,#e2edf8,#e3eef9)"></i>
<i style="background:linear-gradient(90deg,#f5fafe,#f5fafe,#f5f9fe,#f4f9fe,#f2f8fd,#f2f7fd,#f0f6fd,#eef5fc,#ecf4fb,#e9f2fa,#e7f0fa,#e3eef9,#dfecf7,#dbe9f6,#d6e5f4,#d0e1f2,#c8dcf0,#bdd7ec,#aed1e7,#9ac8e0,#81badb,#69add5,#549fcd,#3d8dc4,#2a7ab9,#1c6bb0,#125ea6,#0a549e,#084d96,#084d96,#084c95,#084e98,#08519c,#0c56a0,#125da6,#1966ad,#2070b4,#2c7cba,#3787c0,#4292c6,#519ccc,#5ca4d0,#69add5,#77b5d9,#82bbdb,#8abfdd,#91c3de,#97c6df,#9fcae1,#a5cde3,#aed1e7,#bad6eb,#c6dbef,#ccdff1,#d1e2f3,#d6e5f4,#d9e8f5,#dceaf6,#dfecf7,#e2edf8,#e3eef9)"></i>
<i style="background:linear-gradient(90deg,#f5fafe,#f5fafe,#f5f9fe,#f4f9fe,#f2f8fd,#f2f7fd,#f0f6fd,#eef5fc,#ecf4fb,#e9f2fa,#e7f0fa,#e3eef9,#dfecf7,#dbe9f6,#d6e5f4,#d0e1f2,#c8dcf0,#bdd7ec,#add0e6,#9ac8e0,#81badb,#68acd5,#549fcd,#3e8ec4,#2d7dbb,#1f6eb3,#1663aa,#0f5aa3,#0a539e,#09529d,#08519c,#09529d,#0c56a0,#105ba4,#1562a9,#1c6ab0,#2474b7,#2f7fbc,#3a8ac2,#4594c7,#529dcc,#5fa6d1,#6caed6,#7ab6d9,#85bcdc,#8dc1dd,#94c4df,#9ac8e0,#9fcae1,#a6cee4,#afd1e7,#bad6eb,#c6dbef,#ccdff1,#d1e2f3,#d6e5f4,#d9e8f5,#dceaf6,#dfecf7,#e2edf8,#e3eef9)"></i>
<i style="background:linear-gradient(90deg,#f5fafe,#f5fafe,#f5f9fe,#f4f9fe,#f2f8fd,#f2f7fd,#f0f6fd,#eef5fc,#ecf4fb,#e9f2fa,#e7f0fa,#e3eef9,#dfecf7,#dbe9f6,#d6e5f4,#d0e1f2,#c8dcf0,#bcd7eb,#add0e6,#99c7e0,#81badb,#68acd5,#549fcd,#3f8fc5,#2f7fbc,#2272b6,#1a68ae,#135fa7,#0e59a2,#0d57a1,#0b559f,#0d57a1,#0f5aa3,#135fa7,#1966ad,#1f6eb3,#2979b9,#3282be,#3d8dc4,#4896c8,#539ecd,#61a7d2,#6fb0d7,#7cb7da,#87bddc,#91c3de,#97c6df,#9cc9e1,#a0cbe2,#a6cee4,#afd1e7,#bad6eb,#c6dbef,#ccdff1,#d1e2f3,#d6e5f4,#d9e8f5,#dceaf6,#dfecf7,#e2edf8,#e3eef9)"></i>
<i style="background:linear-gradient(90deg,#f5fafe,#f5fafe,#f5f9fe,#f4f9fe,#f2f8fd,#f2f7fd,#f0f6fd,#eef5fc,#ecf4fb,#e9f2fa,#e7f0fa,#e3eef9,#dfecf7,#dbe9f6,#d6e5f4,#d0e1f2,#c8dcf0,#bcd7eb,#add0e6,#99c7e0,#7fb9da,#68acd5,#549fcd,#4090c5,#3181bd,#2676b8,#1e6db2,#1865ac,#135fa7,#105ba4,#0f5aa3,#105ba4,#135fa7,#1764ab,#1c6bb0,#2373b6,#2d7dbb,#3686c0,#3f8fc5,#4a98c9,#549fcd,#64a9d3,#74b3d8,#7fb9da,#89bedc,#92c4de,#9ac8e0,#9dcae1,#a1cbe2,#a8cee4,#afd1e7,#bad6eb,#c6dbef,#ccdff1,#d1e2f3,#d6e5f4,#d9e8f5,#dceaf6,#dfecf7,#e2edf8,#e3eef9)"></i>
<i style="background:linear-gradient(90deg,#f5fafe,#f5fafe,#f5f9fe,#f4f9fe,#f2f8fd,#f2f7fd,#f0f6fd,#eef5fc,#ecf4fb,#e9f2fa,#e7f0fa,#e3eef9,#dfecf7,#dbe9f6,#d6e5f4,#d0e1f2,#c8dcf0,#bcd7eb,#add0e6,#99c7e0,#7fb9da,#68acd5,#549fcd,#4090c5,#3383be,#2979b9,#2070b4,#1b69af,#1663aa,#1460a8,#125ea6,#1460a8,#1663aa,#1b69af,#2070b4,#2777b8,#3080bd,#3989c1,#4292c6,#4d99ca,#57a0ce,#66abd4,#77b5d9,#82bbdb,#8cc0dd,#95c5df,#9cc9e1,#a0cbe2,#a3cce3,#a9cfe5,#b0d2e7,#bad6eb,#c6dbef,#ccdff1,#d1e2f3,#d6e5f4,#d9e8f5,#dceaf6,#dfecf7,#e2edf8,#e3eef9)"></i>
<i style="background:linear-gradient(90deg,#f5fafe,#f5fafe,#f5f9fe,#f4f9fe,#f2f8fd,#f2f7fd,#f0f6fd,#eef5fc,#ecf4fb,#e9f2fa,#e7f0fa,#e3eef9,#dfecf7,#dbe9f6,#d6e5f4,#d0e1f2,#c8dcf0,#bcd7eb,#add0e6,#99c7e0,#7fb9da,#68acd5,#549fcd,#4191c6,#3585bf,#2c7cba,#2373b6,#1d6cb1,#1967ad,#1764ab,#1562a9,#1764ab,#1a68ae,#1f6eb3,#2575b7,#2d7dbb,#3585bf,#3e8ec4,#4896c8,#519ccc,#5aa2cf,#69add5,#7ab6d9,#85bcdc,#8dc1dd,#97c6df,#9dcae1,#a1cbe2,#a4cce3,#a9cfe5,#b0d2e7,#bad6eb,#c6dbef,#ccdff1,#d1e2f3,#d6e5f4,#d9e8f5,#dceaf6,#dfecf7,#e2edf8,#e3eef9)"></i>
<i style="background:linear-gradient(90deg,#f5fafe,#f5fafe,#f5f9fe,#f4f9fe,#f2f8fd,#f2f7fd,#f0f6fd,#eef5fc,#ecf4fb,#e9f2fa,#e7f0fa,#e3eef9,#dfecf7,#dbe9f6,#d6e5f4,#d0e1f2,#c8dcf0,#bcd7eb,#add0e6,#99c7e0,#7fb9da,#68acd5,#549fcd,#4292c6,#3787c0,#2e7ebc,#2676b8,#2070b4,#1c6bb0,#1a68ae,#1967ad,#1b69af,#1f6eb3,#2474b7,#2c7cba,#3383be,#3b8bc2,#4493c7,#4e9acb,#56a0ce,#5fa6d1,#6dafd7,#7fb9da,#89bedc,#8fc2de,#99c7e0,#9fcae1,#a3cce3,#a5cde3,#aacfe5,#b0d2e7,#bcd7eb,#c6dbef,#ccdff1,#d1e2f3,#d6e5f4,#d9e8f5,#dceaf6,#dfecf7,#e2edf8,#e3eef9)"></i>
<i style="background:linear-gradient(90deg,#f5fafe,#f5fafe,#f5f9fe,#f4f9fe,#f2f8fd,#f2f7fd,#f0f6fd,#eef5fc,#ecf4fb,#e9f2fa,#e7f0fa,#e3eef9,#dfecf7,#dbe9f6,#d6e5f4,#d0e1f2,#c8dcf0,#bcd7eb,#add0e6,#99c7e0,#7fb9da,#68acd5,#549fcd,#4493c7,#3989c1,#3181bd,#2a7ab9,#2373b6,#206fb4,#1e6db2,#1d6cb1,#206fb4,#2474b7,#2b7bba,#3383be,#3a8ac2,#4191c6,#4b98ca,#549fcd,#5ca4d0,#65aad4,#74b3d8,#84bcdb,#8cc0dd,#92c4de,#9ac8e0,#a0cbe2,#a4cce3,#a8cee4,#abd0e6,#b2d2e8,#bcd7eb,#c6dbef,#ccdff1,#d1e2f3,#d6e5f4,#d9e8f5,#dceaf6,#dfecf7,#e2edf8,#e3eef9)"></i>
<i style="background:linear-gradient(90deg,#f5fafe,#f5fafe,#f5f9fe,#f4f9fe,#f2f8fd,#f2f7fd,#f0f6fd,#eef5fc,#ecf4fb,#e9f2fa,#e7f0fa,#e3eef9,#dfecf7,#dbe9f6,#d6e5f4,#d0e1f2,#c8dcf0,#bcd7eb,#add0e6,#99c7e0,#7fb9da,#68acd5,#549fcd,#4594c7,#3a8ac2,#3383be,#2d7dbb,#2676b8,#2272b6,#2171b5,#2171b5,#2474b7,#2b7bba,#3282be,#3989c1,#4090c5,#4997c9,#539ecd,#5ca4d0,#64a9d3,#6caed6,#7ab6d9,#89bedc,#8dc1dd,#94c4df,#9cc9e1,#a1cbe2,#a5cde3,#a9cfe5,#add0e6,#b2d2e8,#bcd7eb,#c6dbef,#ccdff1,#d1e2f3,#d6e5f4,#d9e8f5,#dceaf6,#dfecf7,#e2edf8,#e3eef9)"></i>
<i style="background:linear-gradient(90deg,#f5fafe,#f5fafe,#f5f9fe,#f4f9fe,#f2f8fd,#f2f7fd,#f0f6fd,#eef5fc,#ecf4fb,#e9f2fa,#e7f0fa,#e3eef9,#dfecf7,#dbe9f6,#d6e5f4,#d0e1f2,#c8dcf0,#bcd7eb,#add0e6,#99c7e0,#7fb9da,#68acd5,#56a0ce,#4695c8,#3c8cc3,#3585bf,#3080bd,#2a7ab9,#2575b7,#2575b7,#2575b7,#2a7ab9,#3080bd,#3888c1,#4090c5,#4997c9,#519ccc,#5ba3d0,#63a8d3,#6aaed6,#74b3d8,#81badb,#8cc0dd,#91c3de,#95c5df,#9cc9e1,#a3cce3,#a6cee4,#aacfe5,#aed1e7,#b3d3e8,#bcd7eb,#c6dbef,#ccdff1,#d1e2f3,#d6e5f4,#d9e8f5,#dceaf6,#dfecf7,#e2edf8,#e3eef9)"></i>
<i style="background:linear-gradient(90deg,#f5fafe,#f5fafe,#f5f9fe,#f4f9fe,#f2f8fd,#f2f7fd,#f0f6fd,#eef5fc,#ecf4fb,#e9f2fa,#e7f0fa,#e3eef9,#dfecf7,#dbe9f6,#d6e5f4,#d0e1f2,#c8dcf0,#bcd7eb,#add0e6,#99c7e0,#7fb9da,#68acd5,#56a0ce,#4896c8,#3e8ec4,#3787c0,#3282be,#2c7cba,#2979b9,#2a7ab9,#2a7ab9,#2f7fbc,#3686c0,#3d8dc4,#4695c8,#4f9bcb,#58a1cf,#61a7d2,#69add5,#72b2d8,#7ab6d9,#87bddc,#91c3de,#94c4df,#97c6df,#9dcae1,#a4cce3,#a8cee4,#abd0e6,#afd1e7,#b4d3e9,#bcd7eb,#c6dbef,#ccdff1,#d1e2f3,#d6e5f4,#d9e8f5,#dceaf6,#dfecf7,#e2edf8,#e3eef9)"></i>
<i style="background:linear-gradient(90deg,#f5fafe,#f5fafe,#f5f9fe,#f4f9fe,#f2f8fd,#f2f7fd,#f0f6fd,#eef5fc,#ecf4fb,#e9f2fa,#e7f0fa,#e3eef9,#dfecf7,#dbe9f6,#d6e5f4,#d0e1f2,#c8dcf0,#bcd7eb,#add0e6,#99c7e0,#7fb9da,#68acd5,#57a0ce,#4997c9,#3f8fc5,#3989c1,#3484bf,#2f7fbc,#2c7cba,#2c7cba,#2e7ebc,#3282be,#3a8ac2,#4191c6,#4b98ca,#549fcd,#5da5d1,#66abd4,#6fb0d7,#77b5d9,#7fb9da,#8cc0dd,#94c4df,#97c6df,#99c7e0,#9fcae1,#a4cce3,#a9cfe5,#aed1e7,#b0d2e7,#b4d3e9,#bdd7ec,#c6dbef,#ccdff1,#d1e2f3,#d6e5f4,#d9e8f5,#dceaf6,#dfecf7,#e2edf8,#e3eef9)"></i>
<i style="background:linear-gradient(90deg,#f5fafe,#f5fafe,#f5f9fe,#f4f9fe,#f2f8fd,#f2f7fd,#f0f6fd,#eef5fc,#ecf4fb,#e9f2fa,#e7f0fa,#e3eef9,#dfecf7,#dbe9f6,#d6e5f4,#d0e1f2,#c8dcf0,#bcd7eb,#add0e6,#99c7e0,#7fb9da,#68acd5,#57a0ce,#4a98c9,#4090c5,#3a8ac2,#3585bf,#3080bd,#2e7ebc,#2e7ebc,#3080bd,#3585bf,#3d8dc4,#4594c7,#4f9bcb,#58a1cf,#60a7d2,#69add5,#72b2d8,#7ab6d9,#82bbdb,#8fc2de,#97c6df,#99c7e0,#9ac8e0,#a0cbe2,#a5cde3,#aacfe5,#afd1e7,#b2d2e8,#b5d4e9,#bdd7ec,#c6dbef,#ccdff1,#d1e2f3,#d6e5f4,#d9e8f5,#dceaf6,#dfecf7,#e2edf8,#e3eef9)"></i>
<i style="background:linear-gradient(90deg,#f5fafe,#f5fafe,#f5f9fe,#f4f9fe,#f2f8fd,#f2f7fd,#f0f6fd,#eef5fc,#ecf4fb,#e9f2fa,#e7f0fa,#e3eef9,#dfecf7,#dbe9f6,#d6e5f4,#d0e1f2,#c8dcf0,#bcd7eb,#add0e6,#99c7e0,#7fb9da,#68acd5,#57a0ce,#4a98c9,#4090c5,#3b8bc2,#3686c0,#3181bd,#2f7fbc,#2f7fbc,#3181bd,#3686c0,#3e8ec4,#4896c8,#519ccc,#5aa2cf,#61a7d2,#69add5,#74b3d8,#7cb7da,#84bcdb,#8fc2de,#99c7e0,#9ac8e0,#9dcae1,#a1cbe2,#a6cee4,#abd0e6,#b0d2e7,#b3d3e8,#b7d4ea,#bed8ec,#c7dbef,#ccdff1,#d1e2f3,#d6e5f4,#d9e8f5,#dceaf6,#dfecf7,#e2edf8,#e3eef9)"></i>
<i style="background:linear-gradient(90deg,#f5fafe,#f5fafe,#f5f9fe,#f4f9fe,#f2f8fd,#f2f7fd,#f0f6fd,#eef5fc,#ecf4fb,#e9f2fa,#e7f0fa,#e3eef9,#dfecf7,#dbe9f6,#d6e5f4,#d0e1f2,#c8dcf0,#bcd7eb,#add0e6,#99c7e0,#7fb9da,#69add5,#58a1cf,#4b98ca,#4191c6,#3c8cc3,#3787c0,#3282be,#3080bd,#3080bd,#3282be,#3787c0,#3f8fc5,#4896c8,#529dcc,#5aa2cf,#61a7d2,#69add5,#74b3d8,#7cb7da,#84bcdb,#91c3de,#9ac8e0,#9dcae1,#9fcae1,#a3cce3,#a9cfe5,#aed1e7,#b2d2e8,#b5d4e9,#b8d5ea,#bed8ec,#c7dbef,#ccdff1,#d1e2f3,#d6e5f4,#d9e8f5,#dceaf6,#dfebf7,#e1edf8,#e3eef8)"></i>
<i style="background:linear-gradient(90deg,#f5fafe,#f5fafe,#f5f9fe,#f4f9fe,#f2f8fd,#f2f7fd,#f0f6fd,#eef5fc,#ecf4fb,#e9f2fa,#e7f0fa,#e3eef9,#dfecf7,#dbe9f6,#d6e5f4,#cfe1f2,#c7dcef,#bad6eb,#abd0e6,#99c7e0,#81badb,#69add5,#58a1cf,#4b98ca,#4191c6,#3c8cc3,#3888c1,#3383be,#3181bd,#3181bd,#3383be,#3888c1,#4090c5,#4997c9,#529dcc,#5aa2cf,#61a7d2,#69add5,#74b3d8,#7cb7da,#84bcdb,#91c3de,#9cc9e1,#9fcae1,#a1cbe2,#a5cde3,#aacfe5,#afd1e7,#b4d3e9,#b7d4ea,#b9d6ea,#bfd8ed,#c7dcef,#cddff1,#d2e3f3,#d6e5f4,#d9e7f5,#dce9f6,#dfebf7,#e0ecf8,#e2edf8)"></i>
<i style="background:linear-gradient(90deg,#f5fafe,#f5fafe,#f5f9fe,#f4f9fe,#f2f8fd,#f2f7fd,#f0f6fd,#eef5fc,#ecf4fb,#e9f2fa,#e7f0fa,#e3eef9,#dfecf7,#dbe9f6,#d6e5f4,#cfe1f2,#c7dbef,#b9d6ea,#aacfe5,#97c6df,#81badb,#6aaed6,#58a1cf,#4b98ca,#4292c6,#3d8dc4,#3989c1,#3484bf,#3181bd,#3282be,#3484bf,#3989c1,#4191c6,#4a98c9,#539ecd,#5aa2cf,#61a7d2,#69add5,#74b3d8,#7cb7da,#84bcdb,#91c3de,#9cc9e1,#a0cbe2,#a3cce3,#a8cee4,#add0e6,#b2d2e8,#b5d4e9,#b8d5ea,#bad6eb,#c2d9ee,#c9ddf0,#cde0f1,#d2e3f3,#d6e5f4,#d9e7f5,#dce9f6,#deebf7,#dfecf7,#e1edf8)"></i>
<i style="background:linear-gradient(90deg,#f5fafe,#f5fafe,#f5f9fe,#f4f9fe,#f2f8fd,#f2f7fd,#f0f6fd,#eef5fc,#ecf4fb,#e9f2fa,#e7f0fa,#e3eef9,#dfecf7,#dbe9f6,#d6e5f4,#cee0f2,#c6dbef,#b8d5ea,#a9cfe5,#97c6df,#82bbdb,#6aaed6,#5aa2cf,#4d99ca,#4292c6,#3d8dc4,#3a8ac2,#3585bf,#3282be,#3383be,#3585bf,#3a8ac2,#4191c6,#4a98c9,#539ecd,#5aa2cf,#61a7d2,#69add5,#74b3d8,#7cb7da,#84bcdb,#91c3de,#9dcae1,#a1cbe2,#a5cde3,#a9cfe5,#aed1e7,#b3d3e8,#b8d5ea,#b9d6ea,#bdd7ec,#c4daee,#cadef0,#cfe1f2,#d3e3f3,#d6e5f4,#d9e7f5,#dbe9f6,#ddeaf7,#dfebf7,#e0ecf8)"></i>
<i style="background:linear-gradient(90deg,#f5fafe,#f5fafe,#f5f9fe,#f4f9fe,#f2f8fd,#f2f7fd,#f0f6fd,#eef5fc,#ecf4fb,#e9f2fa,#e7f0fa,#e3eef9,#dfecf7,#dbe9f6,#d6e5f4,#cee0f2,#c4daee,#b7d4ea,#a8cee4,#97c6df,#82bbdb,#6caed6,#5aa2cf,#4d99ca,#4292c6,#3e8ec4,#3a8ac2,#3585bf,#3383be,#3383be,#3585bf,#3a8ac2,#4292c6,#4b98ca,#539ecd,#5ba3d0,#61a7d2,#69add5,#74b3d8,#7cb7da,#84bcdb,#92c4de,#9dcae1,#a3cce3,#a6cee4,#abd0e6,#b0d2e7,#b5d4e9,#b9d6ea,#bcd7eb,#bed8ec,#c6dbef,#ccdff1,#d0e1f2,#d3e3f3,#d6e5f4,#d8e7f5,#dae8f6,#dceaf6,#deebf7,#dfecf7)"></i>
<i style="background:linear-gradient(90deg,#f5fafe,#f5fafe,#f5f9fe,#f4f9fe,#f2f8fd,#f2f7fd,#f0f6fd,#eef5fc,#ecf4fb,#e9f2fa,#e7f0fa,#e3eef9,#dfecf7,#dbe9f6,#d6e5f4,#cde0f1,#c3daee,#b5d4e9,#a6cee4,#97c6df,#82bbdb,#6caed6,#5aa2cf,#4d99ca,#4493c7,#3e8ec4,#3b8bc2,#3686c0,#3383be,#3484bf,#3686c0,#3b8bc2,#4292c6,#4b98ca,#539ecd,#5ba3d0,#61a7d2,#69add5,#74b3d8,#7cb7da,#84bcdb,#92c4de,#9fcae1,#a4cce3,#a8cee4,#add0e6,#b2d2e8,#b7d4ea,#bad6eb,#bdd7ec,#bfd8ed,#c7dcef,#cde0f1,#d0e2f2,#d3e4f3,#d6e5f4,#d8e7f5,#d9e8f5,#dce9f6,#ddeaf7,#deebf7)"></i>
<i style="background:linear-gradient(90deg,#f5fafe,#f5fafe,#f5f9fe,#f4f9fe,#f2f8fd,#f2f7fd,#f0f6fd,#eef5fc,#ecf4fb,#e9f2fa,#e7f0fa,#e3eef9,#dfecf7,#dbe9f6,#d6e5f4,#cde0f1,#c2d9ee,#b4d3e9,#a5cde3,#95c5df,#84bcdb,#6caed6,#5ba3d0,#4d99ca,#4493c7,#3e8ec4,#3b8bc2,#3686c0,#3383be,#3484bf,#3686c0,#3b8bc2,#4493c7,#4b98ca,#549fcd,#5ba3d0,#61a7d2,#69add5,#74b3d8,#7cb7da,#84bcdb,#92c4de,#9fcae1,#a5cde3,#a9cfe5,#aed1e7,#b3d3e8,#b8d5ea,#bcd7eb,#bed8ec,#c2d9ee,#c9ddf0,#cfe1f2,#d2e3f3,#d3e4f3,#d6e5f4,#d7e6f5,#d9e8f5,#dbe9f6,#dceaf6,#deebf7)"></i>
<i style="background:linear-gradient(90deg,#f5fafe,#f5fafe,#f5f9fe,#f4f9fe,#f2f8fd,#f2f7fd,#f0f6fd,#eef5fc,#ecf4fb,#e9f2fa,#e7f0fa,#e3eef9,#dfecf7,#dbe9f6,#d6e5f4,#cde0f1,#c2d9ee,#b3d3e8,#a5cde3,#95c5df,#84bcdb,#6caed6,#5ba3d0,#4d99ca,#4493c7,#3f8fc5,#3b8bc2,#3686c0,#3383be,#3484bf,#3686c0,#3b8bc2,#4493c7,#4b98ca,#549fcd,#5ba3d0,#61a7d2,#69add5,#74b3d8,#7cb7da,#84bcdb,#92c4de,#a0cbe2,#a5cde3,#a9cfe5,#aed1e7,#b3d3e8,#b8d5ea,#bdd7ec,#bfd8ed,#c3daee,#caddf0,#d0e1f2,#d2e3f3,#d4e4f4,#d6e5f4,#d7e6f5,#d9e7f5,#dbe9f6,#dce9f6,#ddeaf7)"></i>
<i style="background:linear-gradient(90deg,#f5fafe,#f5fafe,#f5f9fe,#f4f9fe,#f2f8fd,#f2f7fd,#f0f6fd,#eef5fc,#ecf4fb,#e9f2fa,#e7f0fa,#e3eef9,#dfecf7,#dbe9f6,#d6e5f4,#cde0f1,#c1d9ed,#b3d3e8,#a4cce3,#95c5df,#84bcdb,#6caed6,#5ba3d0,#4d99ca,#4493c7,#3e8ec4,#3b8bc2,#3686c0,#3383be,#3484bf,#3585bf,#3b8bc2,#4292c6,#4b98ca,#539ecd,#5aa2cf,#60a7d2,#69add5,#72b2d8,#7ab6d9,#84bcdb,#92c4de,#a0cbe2,#a5cde3,#a9cfe5,#aed1e7,#b3d3e8,#b8d5ea,#bdd7ec,#c1d9ed,#c4daee,#cbdef1,#d0e2f2,#d3e3f3,#d4e4f4,#d6e5f4,#d7e6f5,#d9e7f5,#dae8f6,#dce9f6,#ddeaf7)"></i>
<i style="background:linear-gradient(90deg,#f5fafe,#f5fafe,#f5f9fe,#f4f9fe,#f2f8fd,#f2f7fd,#f0f6fd,#eef5fc,#ecf4fb,#e9f2fa,#e7f0fa,#e3eef9,#dfecf7,#dbe9f6,#d6e5f4,#cddff1,#c1d9ed,#b2d2e8,#a4cce3,#95c5df,#84bcdb,#6caed6,#5aa2cf,#4d99ca,#4292c6,#3e8ec4,#3a8ac2,#3585bf,#3181bd,#3282be,#3383be,#3888c1,#4090c5,#4997c9,#519ccc,#58a1cf,#5fa6d1,#68acd5,#72b2d8,#7ab6d9,#84bcdb,#94c4df,#a0cbe2,#a5cde3,#a9cfe5,#aed1e7,#b3d3e8,#b8d5ea,#bed8ec,#c2d9ee,#c7dbef,#ccdff1,#d2e3f3,#d3e4f3,#d4e4f4,#d6e5f4,#d7e6f5,#d9e7f5,#dae8f6,#dce9f6,#ddeaf7)"></i>
<i style="background:linear-gradient(90deg,#f5fafe,#f5fafe,#f5f9fe,#f4f9fe,#f2f8fd,#f2f7fd,#f0f6fd,#eef5fc,#ecf4fb,#e9f2fa,#e7f0fa,#e3eef9,#dfecf7,#dbe9f6,#d6e5f4,#cddff1,#bfd8ed,#b2d2e8,#a4cce3,#94c4df,#82bbdb,#6caed6,#5aa2cf,#4b98ca,#4191c6,#3c8cc3,#3989c1,#3383be,#2f7fbc,#2f7fbc,#3080bd,#3585bf,#3c8cc3,#4493c7,#4d99ca,#549fcd,#5ca4d0,#65aad4,#71b1d7,#7ab6d9,#84bcdb,#94c4df,#a1cbe2,#a5cde3,#a9cfe5,#aed1e7,#b3d3e8,#b8d5ea,#bed8ec,#c3daee,#c7dcef,#cde0f1,#d3e3f3,#d4e4f4,#d5e5f4,#d6e5f4,#d7e6f5,#d9e7f5,#dae8f6,#dce9f6,#ddeaf7)"></i>
<i style="background:linear-gradient(90deg,#f5fafe,#f5fafe,#f5f9fe,#f4f9fe,#f2f8fd,#f2f7fd,#f0f6fd,#eef5fc,#ecf4fb,#e9f2fa,#e7f0fa,#e3eef9,#dfecf7,#dbe9f6,#d6e5f4,#cddff1,#bfd8ed,#b0d2e7,#a3cce3,#94c4df,#82bbdb,#6aaed6,#58a1cf,#4a98c9,#4090c5,#3b8bc2,#3787c0,#3080bd,#2c7cba,#2c7cba,#2c7cba,#3080bd,#3888c1,#3f8fc5,#4997c9,#519ccc,#5aa2cf,#64a9d3,#6dafd7,#79b5d9,#84bcdb,#94c4df,#a1cbe2,#a6cee4,#a9cfe5,#aed1e7,#b3d3e8,#b9d6ea,#bed8ec,#c4daee,#c9ddf0,#cfe1f2,#d3e4f3,#d4e4f4,#d5e5f4,#d6e5f4,#d6e6f4,#d8e7f5,#d9e8f5,#dce9f6,#ddeaf7)"></i>
<i style="background:linear-gradient(90deg,#f5fafe,#f5fafe,#f5f9fe,#f4f9fe,#f2f8fd,#f2f7fd,#f0f6fd,#eef5fc,#ecf4fb,#e9f2fa,#e7f0fa,#e3eef9,#dfecf7,#dbe9f6,#d6e5f4,#cddff1,#bfd8ed,#b0d2e7,#a3cce3,#94c4df,#82bbdb,#6aaed6,#57a0ce,#4997c9,#3e8ec4,#3989c1,#3585bf,#2e7ebc,#2979b9,#2777b8,#2777b8,#2c7cba,#3383be,#3b8bc2,#4493c7,#4d99ca,#56a0ce,#60a7d2,#6caed6,#77b5d9,#84bcdb,#95c5df,#a1cbe2,#a6cee4,#a9cfe5,#aed1e7,#b3d3e8,#b9d6ea,#bed8ec,#c6dbef,#caddf0,#d0e1f2,#d4e4f4,#d5e5f4,#d5e5f4,#d6e5f4,#d6e6f4,#d8e7f5,#d9e8f5,#dbe9f6,#ddeaf7)"></i>
<i style="background:linear-gradient(90deg,#f5fafe,#f5fafe,#f5f9fe,#f4f9fe,#f2f8fd,#f2f7fd,#f0f6fd,#eef5fc,#ecf4fb,#e9f2fa,#e7f0fa,#e3eef9,#dfecf7,#dbe9f6,#d6e5f4,#cddff1,#bed8ec,#b0d2e7,#a3cce3,#92c4de,#81badb,#69add5,#56a0ce,#4695c8,#3c8cc3,#3888c1,#3383be,#2c7cba,#2575b7,#2373b6,#2272b6,#2676b8,#2e7ebc,#3686c0,#3f8fc5,#4997c9,#539ecd,#5da5d1,#69add5,#75b4d8,#84bcdb,#95c5df,#a3cce3,#a6cee4,#a9cfe5,#aed1e7,#b3d3e8,#b9d6ea,#bfd8ed,#c6dbef,#cadef0,#d1e2f3,#d5e5f4,#d5e5f4,#d6e5f4,#d6e5f4,#d6e6f4,#d8e7f5,#d9e8f5,#dbe9f6,#ddeaf7)"></i>
<i style="background:linear-gradient(90deg,#f5fafe,#f5fafe,#f5f9fe,#f4f9fe,#f2f8fd,#f2f7fd,#f0f6fd,#eef5fc,#ecf4fb,#e9f2fa,#e7f0fa,#e3eef9,#dfecf7,#dbe9f6,#d6e5f4,#cddff1,#bed8ec,#b0d2e7,#a3cce3,#92c4de,#81badb,#69add5,#56a0ce,#4594c7,#3b8bc2,#3686c0,#3181bd,#2979b9,#2272b6,#206fb4,#1f6eb3,#2272b6,#2a7ab9,#3282be,#3b8bc2,#4493c7,#4f9bcb,#5ba3d0,#68acd5,#75b4d8,#84bcdb,#95c5df,#a3cce3,#a6cee4,#a9cfe5,#aed1e7,#b3d3e8,#b9d6ea,#bfd8ed,#c7dbef,#cbdef1,#d2e3f3,#d6e5f4,#d6e5f4,#d6e5f4,#d6e5f4,#d6e6f4,#d7e6f5,#d9e7f5,#dbe9f6,#ddeaf7)"></i>
<i style="background:linear-gradient(90deg,#f5fafe,#f5fafe,#f5f9fe,#f4f9fe,#f2f8fd,#f2f7fd,#f0f6fd,#eef5fc,#ecf4fb,#e9f2fa,#e7f0fa,#e3eef9,#dfecf7,#dbe9f6,#d6e5f4,#ccdff1,#bed8ec,#afd1e7,#a1cbe2,#92c4de,#81badb,#68acd5,#549fcd,#4493c7,#3989c1,#3484bf,#2f7fbc,#2676b8,#206fb4,#1d6cb1,#1c6bb0,#1f6eb3,#2575b7,#2e7ebc,#3888c1,#4090c5,#4b98ca,#58a1cf,#65aad4,#74b3d8,#84bcdb,#95c5df,#a3cce3,#a6cee4,#a9cfe5,#aed1e7,#b3d3e8,#b9d6ea,#bfd8ed,#c7dbef,#ccdff1,#d2e3f3,#d6e5f4,#d6e5f4,#d6e5f4,#d6e5f4,#d6e6f4,#d7e6f5,#d9e7f5,#dbe9f6,#ddeaf7)"></i>
<i style="background:linear-gradient(90deg,#f5fafe,#f5fafe,#f5f9fe,#f4f9fe,#f2f8fd,#f2f7fd,#f0f6fd,#eef5fc,#ecf4fb,#e9f2fa,#e7f0fa,#e3eef9,#dfecf7,#dbe9f6,#d6e5f4,#ccdff1,#bed8ec,#afd1e7,#a1cbe2,#91c3de,#7fb9da,#68acd5,#539ecd,#4292c6,#3888c1,#3383be,#2e7ebc,#2575b7,#1e6db2,#1c6ab0,#1a68ae,#1d6cb1,#2272b6,#2c7cba,#3585bf,#3e8ec4,#4997c9,#56a0ce,#64a9d3,#72b2d8,#84bcdb,#97c6df,#a3cce3,#a6cee4,#a9cfe5,#aed1e7,#b3d3e8,#b9d6ea,#bfd8ed,#c7dcef,#ccdff1,#d2e3f3,#d6e5f4,#d6e5f4,#d6e5f4,#d6e5f4,#d6e6f4,#d7e6f5,#d9e7f5,#dbe9f6,#ddeaf7)"></i>
<i style="background:linear-gradient(90deg,#f5fafe,#f5fafe,#f5f9fe,#f4f9fe,#f2f8fd,#f2f7fd,#f0f6fd,#eef5fc,#ecf4fb,#e9f2fa,#e7f0fa,#e3eef9,#dfecf7,#dbe9f6,#d6e5f4,#ccdff1,#bed8ec,#afd1e7,#a1cbe2,#91c3de,#7fb9da,#68acd5,#539ecd,#4191c6,#3787c0,#3181bd,#2c7cba,#2373b6,#1d6cb1,#1a68ae,#1966ad,#1b69af,#2070b4,#2979b9,#3282be,#3b8bc2,#4695c8,#549fcd,#63a8d3,#72b2d8,#84bcdb,#97c6df,#a4cce3,#a6cee4,#aacfe5,#aed1e7,#b3d3e8,#b9d6ea,#c1d9ed,#c7dcef,#ccdff1,#d2e3f3,#d6e5f4,#d6e5f4,#d6e5f4,#d6e5f4,#d6e6f4,#d7e6f5,#d9e7f5,#dbe9f6,#ddeaf7)"></i>
<i style="background:linear-gradient(90deg,#f5fafe,#f5fafe,#f5f9fe,#f4f9fe,#f2f8fd,#f2f7fd,#f0f6fd,#eef5fc,#ecf4fb,#e9f2fa,#e7f0fa,#e3eef9,#dfecf7,#dbe9f6,#d6e5f4,#ccdff1,#bed8ec,#afd1e7,#a0cbe2,#91c3de,#7fb9da,#66abd4,#539ecd,#4090c5,#3585bf,#2f7fbc,#2a7ab9,#2171b5,#1c6ab0,#1865ac,#1663aa,#1967ad,#1e6db2,#2575b7,#3080bd,#3989c1,#4493c7,#529dcc,#61a7d2,#72b2d8,#84bcdb,#97c6df,#a4cce3,#a8cee4,#aacfe5,#aed1e7,#b3d3e8,#b9d6ea,#c1d9ed,#c7dcef,#ccdff1,#d2e3f3,#d6e5f4,#d6e5f4,#d6e5f4,#d6e5f4,#d6e6f4,#d8e7f5,#d9e8f5,#dbe9f6,#ddeaf7)"></i>
<i style="background:linear-gradient(90deg,#f5fafe,#f5fafe,#f5f9fe,#f4f9fe,#f2f8fd,#f2f7fd,#f0f6fd,#eef5fc,#ecf4fb,#e9f2fa,#e7f0fa,#e3eef9,#dfecf7,#dbe9f6,#d5e5f4,#ccdff1,#bed8ec,#afd1e7,#a0cbe2,#91c3de,#7db8da,#66abd4,#529dcc,#3f8fc5,#3484bf,#2d7dbb,#2777b8,#206fb4,#1a68ae,#1663aa,#1561a9,#1764ab,#1c6bb0,#2373b6,#2d7dbb,#3686c0,#4090c5,#4f9bcb,#5fa6d1,#71b1d7,#84bcdb,#99c7e0,#a4cce3,#a8cee4,#aacfe5,#aed1e7,#b4d3e9,#bad6eb,#c1d9ed,#c7dcef,#ccdff1,#d1e2f3,#d5e5f4,#d6e5f4,#d6e5f4,#d6e6f4,#d7e6f5,#d8e7f5,#d9e8f5,#dce9f6,#ddeaf7)"></i>
<i style="background:linear-gradient(90deg,#f5fafe,#f5fafe,#f5f9fe,#f4f9fe,#f2f8fd,#f2f7fd,#f0f6fd,#eef5fc,#ecf4fb,#e9f2fa,#e7f0fa,#e3eef9,#dfecf7,#dbe9f6,#d5e5f4,#ccdff1,#bed8ec,#afd1e7,#a0cbe2,#8fc2de,#7db8da,#66abd4,#529dcc,#3e8ec4,#3282be,#2c7cba,#2575b7,#1f6eb3,#1967ad,#1561a9,#125ea6,#1562a9,#1b69af,#2070b4,#2a7ab9,#3484bf,#3e8ec4,#4d99ca,#5da5d1,#71b1d7,#85bcdc,#99c7e0,#a4cce3,#a8cee4,#aacfe5,#afd1e7,#b4d3e9,#bad6eb,#c1d9ed,#c7dcef,#ccdff1,#d1e2f3,#d5e5f4,#d6e5f4,#d6e5f4,#d6e6f4,#d7e6f5,#d9e7f5,#dae8f6,#dce9f6,#ddeaf7)"></i>
<i style="background:linear-gradient(90deg,#f5fafe,#f5fafe,#f5f9fe,#f4f9fe,#f2f8fd,#f2f7fd,#f0f6fd,#eef5fc,#ecf4fb,#e9f2fa,#e7f0fa,#e3eef9,#dfecf7,#dae8f6,#d4e4f4,#cbdef1,#bed8ec,#afd1e7,#9fcae1,#8fc2de,#7db8da,#66abd4,#529dcc,#3d8dc4,#3181bd,#2a7ab9,#2373b6,#1d6cb1,#1966ad,#1460a8,#125da6,#1460a8,#1967ad,#1f6eb3,#2777b8,#3181bd,#3c8cc3,#4b98ca,#5ca4d0,#71b1d7,#85bcdc,#99c7e0,#a5cde3,#a8cee4,#abd0e6,#afd1e7,#b4d3e9,#bad6eb,#c2d9ee,#c7dcef,#ccdff1,#d1e2f3,#d4e4f4,#d6e5f4,#d6e5f4,#d6e6f4,#d8e7f5,#d9e7f5,#dae8f6,#dce9f6,#ddeaf7)"></i>
<i style="background:linear-gradient(90deg,#f5fafe,#f5fafe,#f5f9fe,#f4f9fe,#f2f8fd,#f2f7fd,#f0f6fd,#eef5fc,#ecf4fb,#e9f2fa,#e7f0fa,#e3eef9,#dfecf7,#dae8f6,#d4e4f4,#cbdef1,#bed8ec,#aed1e7,#9fcae1,#8fc2de,#7cb7da,#65aad4,#519ccc,#3d8dc4,#2f7fbc,#2979b9,#2272b6,#1c6bb0,#1865ac,#125ea6,#105ba4,#135fa7,#1865ac,#1d6cb1,#2575b7,#2f7fbc,#3a8ac2,#4997c9,#5ca4d0,#6fb0d7,#85bcdc,#9ac8e0,#a5cde3,#a9cfe5,#abd0e6,#afd1e7,#b5d4e9,#bcd7eb,#c2d9ee,#c8dcf0,#ccdff1,#d0e2f2,#d4e4f4,#d5e5f4,#d6e5f4,#d7e6f5,#d8e7f5,#d9e8f5,#dae8f6,#dce9f6,#ddeaf7)"></i>
<i style="background:linear-gradient(90deg,#f5fafe,#f5fafe,#f5f9fe,#f4f9fe,#f2f8fd,#f2f7fd,#f0f6fd,#eef5fc,#ecf4fb,#e9f2fa,#e7f0fa,#e3eef9,#dfecf7,#dae8f6,#d4e4f4,#cbdef1,#bed8ec,#aed1e7,#9fcae1,#8dc1dd,#7cb7da,#65aad4,#519ccc,#3c8cc3,#2f7fbc,#2777b8,#2171b5,#1c6ab0,#1764ab,#125ea6,#0f5aa3,#125ea6,#1764ab,#1c6bb0,#2474b7,#2e7ebc,#3989c1,#4896c8,#5ba3d0,#6fb0d7,#87bddc,#9ac8e0,#a5cde3,#a9cfe5,#abd0e6,#b0d2e7,#b5d4e9,#bcd7eb,#c2d9ee,#c8dcf0,#ccdff1,#d0e2f2,#d4e4f4,#d5e5f4,#d6e6f4,#d7e6f5,#d9e7f5,#d9e8f5,#dbe9f6,#dceaf6,#ddeaf7)"></i>
<i style="background:linear-gradient(90deg,#f5fafe,#f5fafe,#f5f9fe,#f4f9fe,#f2f8fd,#f2f7fd,#f0f6fd,#eef5fc,#ecf4fb,#e9f2fa,#e7f0fa,#e3eef9,#dfecf7,#dae8f6,#d3e4f3,#cbdef1,#bed8ec,#aed1e7,#9fcae1,#8dc1dd,#7cb7da,#65aad4,#519ccc,#3c8cc3,#2e7ebc,#2676b8,#2171b5,#1c6ab0,#1764ab,#125da6,#0e59a2,#125da6,#1764ab,#1c6bb0,#2373b6,#2e7ebc,#3989c1,#4896c8,#5ba3d0,#71b1d7,#87bddc,#9cc9e1,#a6cee4,#aacfe5,#add0e6,#b0d2e7,#b7d4ea,#bdd7ec,#c3daee,#c8dcf0,#ccdff1,#d0e2f2,#d3e4f3,#d6e5f4,#d6e6f4,#d7e6f5,#d9e7f5,#dae8f6,#dbe9f6,#dceaf6,#ddeaf7)"></i>
<i style="background:linear-gradient(90deg,#f5fafe,#f5fafe,#f5f9fe,#f4f9fe,#f2f8fd,#f2f7fd,#f0f6fd,#eef5fc,#ecf4fb,#e9f2fa,#e7f0fa,#e3eef9,#dfecf7,#dae8f6,#d3e4f3,#cbdef1,#bed8ec,#aed1e7,#9dcae1,#8dc1dd,#7ab6d9,#65aad4,#519ccc,#3c8cc3,#2e7ebc,#2676b8,#2171b5,#1c6ab0,#1764ab,#125da6,#0f5aa3,#125da6,#1764ab,#1c6bb0,#2373b6,#2e7ebc,#3989c1,#4896c8,#5ba3d0,#71b1d7,#89bedc,#9cc9e1,#a8cee4,#aacfe5,#aed1e7,#b2d2e8,#b7d4ea,#bdd7ec,#c4daee,#c8dcf0,#ccdff1,#d0e2f2,#d4e4f4,#d6e5f4,#d6e6f4,#d8e7f5,#d9e7f5,#dae8f6,#dce9f6,#dceaf6,#ddeaf7)"></i>
<i style="background:linear-gradient(90deg,#f5fafe,#f5fafe,#f5f9fe,#f4f9fe,#f2f8fd,#f2f7fd,#f0f6fd,#eef5fc,#ecf4fb,#e9f2fa,#e7f0fa,#e3eef9,#dfecf7,#dae8f6,#d3e4f3,#cbdef1,#bed8ec,#aed1e7,#9dcae1,#8cc0dd,#7ab6d9,#65aad4,#519ccc,#3c8cc3,#2f7fbc,#2777b8,#2171b5,#1c6bb0,#1865ac,#125ea6,#105ba4,#125ea6,#1865ac,#1d6cb1,#2575b7,#3080bd,#3b8bc2,#4a98c9,#5da5d1,#74b3d8,#8cc0dd,#9fcae1,#a9cfe5,#add0e6,#afd1e7,#b3d3e8,#b9d6ea,#bed8ec,#c6dbef,#c9ddf0,#cddff1,#d1e2f3,#d4e4f4,#d6e5f4,#d7e6f5,#d8e7f5,#d9e8f5,#dae8f6,#dce9f6,#dceaf6,#ddeaf7)"></i>
<i style="background:linear-gradient(90deg,#f5fafe,#f5fafe,#f5f9fe,#f4f9fe,#f2f8fd,#f2f7fd,#f0f6fd,#eef5fc,#ecf4fb,#e9f2fa,#e7f0fa,#e3eef9,#dfecf7,#dae8f6,#d3e4f3,#cbdef1,#bdd7ec,#add0e6,#9dcae1,#8cc0dd,#7ab6d9,#64a9d3,#519ccc,#3d8dc4,#2f7fbc,#2777b8,#2272b6,#1d6cb1,#1966ad,#1460a8,#125da6,#1460a8,#1967ad,#1f6eb3,#2777b8,#3282be,#3e8ec4,#4e9acb,#61a7d2,#79b5d9,#8fc2de,#a1cbe2,#abd0e6,#afd1e7,#b2d2e8,#b5d4e9,#bad6eb,#c1d9ed,#c7dbef,#cadef0,#cde0f1,#d2e3f3,#d5e5f4,#d6e6f4,#d8e7f5,#d9e7f5,#d9e8f5,#dbe9f6,#dce9f6,#ddeaf7,#deebf7)"></i>
<i style="background:linear-gradient(90deg,#f5fafe,#f5fafe,#f5f9fe,#f4f9fe,#f2f8fd,#f2f7fd,#f0f6fd,#eef5fc,#ecf4fb,#e9f2fa,#e7f0fa,#e3eef9,#dfecf7,#dae8f6,#d3e4f3,#cbdef1,#bdd7ec,#add0e6,#9cc9e1,#8cc0dd,#79b5d9,#64a9d3,#519ccc,#3d8dc4,#3080bd,#2979b9,#2373b6,#1e6db2,#1a68ae,#1562a9,#135fa7,#1663aa,#1b69af,#2070b4,#2a7ab9,#3585bf,#4191c6,#539ecd,#65aad4,#7db8da,#94c4df,#a5cde3,#afd1e7,#b2d2e8,#b4d3e9,#b8d5ea,#bdd7ec,#c3daee,#c8dcf0,#cbdef1,#cfe1f2,#d3e3f3,#d6e5f4,#d7e6f5,#d8e7f5,#d9e8f5,#dae8f6,#dbe9f6,#dceaf6,#ddeaf7,#deebf7)"></i>
<i style="background:linear-gradient(90deg,#f5fafe,#f5fafe,#f5f9fe,#f4f9fe,#f2f8fd,#f2f7fd,#f0f6fd,#eef5fc,#ecf4fb,#e9f2fa,#e7f0fa,#e3eef9,#dfecf7,#dae8f6,#d3e4f3,#cadef0,#bdd7ec,#add0e6,#9cc9e1,#8abfdd,#79b5d9,#64a9d3,#519ccc,#3d8dc4,#3080bd,#2a7ab9,#2474b7,#1f6eb3,#1c6ab0,#1865ac,#1562a9,#1865ac,#1d6cb1,#2373b6,#2d7dbb,#3989c1,#4896c8,#58a1cf,#6aaed6,#82bbdb,#99c7e0,#a9cfe5,#b2d2e8,#b5d4e9,#b8d5ea,#bcd7eb,#bfd8ed,#c6dbef,#c9ddf0,#cddff1,#d0e1f2,#d3e4f3,#d6e6f4,#d8e7f5,#d9e7f5,#d9e8f5,#dbe9f6,#dce9f6,#dceaf6,#ddeaf7,#deebf7)"></i>
<i style="background:linear-gradient(90deg,#f5fafe,#f5fafe,#f5f9fe,#f4f9fe,#f2f8fd,#f2f7fd,#f0f6fd,#eef5fc,#ecf4fb,#e9f2fa,#e7f0fa,#e3eef9,#dfecf7,#dae8f6,#d3e4f3,#cadef0,#bcd7eb,#abd0e6,#9cc9e1,#8abfdd,#79b5d9,#64a9d3,#519ccc,#3e8ec4,#3181bd,#2b7bba,#2575b7,#2070b4,#1d6cb1,#1967ad,#1764ab,#1a68ae,#206fb4,#2676b8,#3181bd,#3d8dc4,#4d99ca,#5fa6d1,#72b2d8,#89bedc,#9fcae1,#add0e6,#b5d4e9,#b9d6ea,#bad6eb,#bed8ec,#c2d9ee,#c7dcef,#cadef0,#cee0f2,#d1e2f3,#d5e5f4,#d7e6f5,#d9e7f5,#d9e8f5,#dae8f6,#dbe9f6,#dce9f6,#dceaf6,#deebf7,#dfebf7)"></i>
<i style="background:linear-gradient(90deg,#f5fafe,#f5fafe,#f5f9fe,#f4f9fe,#f2f8fd,#f2f7fd,#f0f6fd,#eef5fc,#ecf4fb,#e9f2fa,#e7f0fa,#e3eef9,#dfecf7,#dae8f6,#d3e4f3,#cadef0,#bcd7eb,#abd0e6,#9ac8e0,#8abfdd,#77b5d9,#64a9d3,#519ccc,#3e8ec4,#3282be,#2c7cba,#2676b8,#2272b6,#1f6eb3,#1b69af,#1967ad,#1c6bb0,#2171b5,#2a7ab9,#3484bf,#4090c5,#529dcc,#64a9d3,#79b5d9,#8fc2de,#a3cce3,#b0d2e7,#b9d6ea,#bcd7eb,#bed8ec,#c1d9ed,#c6dbef,#c9ddf0,#ccdff1,#cfe1f2,#d2e3f3,#d6e5f4,#d9e7f5,#d9e8f5,#dae8f6,#dbe9f6,#dce9f6,#dceaf6,#ddeaf7,#deebf7,#dfebf7)"></i>
<i style="background:linear-gradient(90deg,#f5fafe,#f5fafe,#f5f9fe,#f4f9fe,#f2f8fd,#f2f7fd,#f0f6fd,#eef5fc,#ecf4fb,#e9f2fa,#e7f0fa,#e3eef9,#dfecf7,#dae8f6,#d3e4f3,#cadef0,#bcd7eb,#abd0e6,#9ac8e0,#89bedc,#77b5d9,#63a8d3,#519ccc,#3e8ec4,#3383be,#2d7dbb,#2777b8,#2373b6,#206fb4,#1d6cb1,#1c6ab0,#1e6db2,#2474b7,#2d7dbb,#3787c0,#4594c7,#57a0ce,#69add5,#7fb9da,#95c5df,#a6cee4,#b4d3e9,#bdd7ec,#bfd8ed,#c1d9ed,#c4daee,#c7dcef,#cadef0,#cde0f1,#d0e2f2,#d3e4f3,#d6e6f4,#d9e8f5,#dae8f6,#dae8f6,#dbe9f6,#dce9f6,#dceaf6,#ddeaf7,#deebf7,#dfecf7)"></i>
<i style="background:linear-gradient(90deg,#f5fafe,#f5fafe,#f5f9fe,#f4f9fe,#f2f8fd,#f2f7fd,#f0f6fd,#eef5fc,#ecf4fb,#e9f2fa,#e7f0fa,#e3eef9,#dfecf7,#dae8f6,#d3e4f3,#cadef0,#bcd7eb,#aacfe5,#9ac8e0,#89bedc,#77b5d9,#63a8d3,#519ccc,#3f8fc5,#3484bf,#2e7ebc,#2a7ab9,#2474b7,#2171b5,#1f6eb3,#1d6cb1,#2070b4,#2676b8,#2f7fbc,#3989c1,#4997c9,#5ca4d0,#6fb0d7,#85bcdc,#9ac8e0,#aacfe5,#b8d5ea,#c1d9ed,#c2d9ee,#c4daee,#c7dbef,#c9ddf0,#cbdef1,#cee0f2,#d1e2f3,#d4e4f4,#d7e6f5,#d9e8f5,#dae8f6,#dbe9f6,#dce9f6,#dceaf6,#ddeaf7,#deebf7,#dfebf7,#dfecf7)"></i>
<i style="background:linear-gradient(90deg,#f5fafe,#f5fafe,#f5f9fe,#f4f9fe,#f2f8fd,#f2f7fd,#f0f6fd,#eef5fc,#ecf4fb,#e9f2fa,#e7f0fa,#e3eef9,#dfecf7,#dae8f6,#d3e4f3,#cadef0,#bcd7eb,#aacfe5,#9ac8e0,#89bedc,#77b5d9,#63a8d3,#519ccc,#4090c5,#3585bf,#2f7fbc,#2b7bba,#2676b8,#2272b6,#2070b4,#1f6eb3,#2272b6,#2a7ab9,#3282be,#3c8cc3,#4b98ca,#60a7d2,#74b3d8,#8abfdd,#a0cbe2,#aed1e7,#bcd7eb,#c4daee,#c6dbef,#c7dbef,#c8dcf0,#caddf0,#cddff1,#cfe1f2,#d2e3f3,#d5e5f4,#d8e7f5,#dae8f6,#dbe9f6,#dce9f6,#dce9f6,#dceaf6,#ddeaf7,#deebf7,#dfebf7,#dfecf7)"></i>
<i style="background:linear-gradient(90deg,#f5fafe,#f5fafe,#f5f9fe,#f4f9fe,#f2f8fd,#f2f7fd,#f0f6fd,#eef5fc,#ecf4fb,#e9f2fa,#e7f0fa,#e3eef9,#dfecf7,#dae8f6,#d3e4f3,#cadef0,#bcd7eb,#aacfe5,#99c7e0,#89bedc,#77b5d9,#64a9d3,#529dcc,#4090c5,#3686c0,#3181bd,#2d7dbb,#2777b8,#2474b7,#2272b6,#2070b4,#2474b7,#2c7cba,#3484bf,#3e8ec4,#4f9bcb,#64a9d3,#7ab6d9,#91c3de,#a4cce3,#b3d3e8,#c1d9ed,#c7dcef,#c7dcef,#c8dcf0,#c9ddf0,#cbdef1,#cde0f1,#d0e2f2,#d3e3f3,#d6e5f4,#d9e7f5,#dbe9f6,#dce9f6,#dce9f6,#dceaf6,#ddeaf7,#deebf7,#dfebf7,#dfecf7,#dfecf7)"></i>
<i style="background:linear-gradient(90deg,#f5fafe,#f5fafe,#f5f9fe,#f4f9fe,#f2f8fd,#f2f7fd,#f0f6fd,#eef5fc,#ecf4fb,#e9f2fa,#e7f0fa,#e3eef9,#dfecf7,#dae8f6,#d3e4f3,#cadef0,#bcd7eb,#aacfe5,#99c7e0,#87bddc,#77b5d9,#64a9d3,#539ecd,#4292c6,#3787c0,#3282be,#2e7ebc,#2a7ab9,#2676b8,#2474b7,#2373b6,#2676b8,#2f7fbc,#3787c0,#4191c6,#539ecd,#68acd5,#7fb9da,#97c6df,#a9cfe5,#b7d4ea,#c4daee,#caddf0,#caddf0,#caddf0,#cadef0,#cddff1,#cfe1f2,#d1e2f3,#d3e4f3,#d6e5f4,#d9e7f5,#dbe9f6,#dce9f6,#dceaf6,#ddeaf7,#deebf7,#deebf7,#dfebf7,#dfecf7,#e0ecf8)"></i>
<i style="background:linear-gradient(90deg,#f5fafe,#f5fafe,#f5f9fe,#f4f9fe,#f2f8fd,#f2f7fd,#f0f6fd,#eef5fc,#ecf4fb,#e9f2fa,#e7f0fa,#e3eef9,#dfecf7,#dae8f6,#d3e4f3,#cadef0,#bcd7eb,#a9cfe5,#97c6df,#87bddc,#77b5d9,#65aad4,#549fcd,#4493c7,#3989c1,#3484bf,#3080bd,#2c7cba,#2777b8,#2676b8,#2575b7,#2a7ab9,#3181bd,#3989c1,#4493c7,#57a0ce,#6caed6,#85bcdc,#9dcae1,#add0e6,#bcd7eb,#c8dcf0,#cddff1,#ccdff1,#cbdef1,#ccdff1,#cee0f2,#d0e1f2,#d2e3f3,#d4e4f4,#d6e6f4,#d9e8f5,#dce9f6,#dceaf6,#ddeaf7,#ddeaf7,#deebf7,#dfebf7,#dfecf7,#dfecf7,#e0ecf8)"></i>
<i style="background:linear-gradient(90deg,#f5fafe,#f5fafe,#f5f9fe,#f4f9fe,#f2f8fd,#f2f7fd,#f0f6fd,#eef5fc,#ecf4fb,#e9f2fa,#e7f0fa,#e3eef9,#dfecf7,#dae8f6,#d3e4f3,#cadef0,#bcd7eb,#a9cfe5,#97c6df,#87bddc,#77b5d9,#65aad4,#56a0ce,#4594c7,#3b8bc2,#3686c0,#3282be,#2d7dbb,#2a7ab9,#2777b8,#2777b8,#2c7cba,#3484bf,#3c8cc3,#4896c8,#5aa2cf,#71b1d7,#8abfdd,#a1cbe2,#b2d2e8,#bfd8ed,#cadef0,#cfe1f2,#cde0f1,#cddff1,#cde0f1,#cfe1f2,#d0e2f2,#d3e3f3,#d5e5f4,#d7e6f5,#dae8f6,#dce9f6,#dceaf6,#ddeaf7,#deebf7,#dfebf7,#dfecf7,#dfecf7,#e0ecf8,#e0ecf8)"></i>
<i style="background:linear-gradient(90deg,#f5fafe,#f5fafe,#f5f9fe,#f4f9fe,#f2f8fd,#f2f7fd,#f0f6fd,#eef5fc,#ecf4fb,#e9f2fa,#e7f0fa,#e3eef9,#dfecf7,#dae8f6,#d3e4f3,#cadef0,#bcd7eb,#a9cfe5,#97c6df,#87bddc,#77b5d9,#66abd4,#57a0ce,#4896c8,#3c8cc3,#3888c1,#3484bf,#2f7fbc,#2b7bba,#2a7ab9,#2a7ab9,#2e7ebc,#3686c0,#3e8ec4,#4a98c9,#5da5d1,#75b4d8,#8fc2de,#a6cee4,#b7d4ea,#c4daee,#cddff1,#d1e2f3,#d0e1f2,#cee0f2,#cfe1f2,#d0e2f2,#d2e3f3,#d3e4f3,#d6e5f4,#d8e7f5,#dae8f6,#dceaf6,#ddeaf7,#deebf7,#dfebf7,#dfebf7,#dfecf7,#e0ecf8,#e0ecf8,#e1edf8)"></i>
<i style="background:linear-gradient(90deg,#f5fafe,#f5fafe,#f5f9fe,#f4f9fe,#f2f8fd,#f2f7fd,#f0f6fd,#eef5fc,#ecf4fb,#e9f2fa,#e7f0fa,#e3eef9,#dfecf7,#dae8f6,#d3e4f3,#cadef0,#bcd7eb,#a9cfe5,#95c5df,#87bddc,#77b5d9,#66abd4,#58a1cf,#4a98c9,#3e8ec4,#3a8ac2,#3686c0,#3080bd,#2d7dbb,#2c7cba,#2c7cba,#3080bd,#3989c1,#4090c5,#4d99ca,#60a7d2,#7ab6d9,#95c5df,#aacfe5,#bad6eb,#c7dcef,#cfe1f2,#d3e4f3,#d1e2f3,#d0e1f2,#d0e2f2,#d2e3f3,#d3e4f3,#d4e4f4,#d6e6f4,#d9e7f5,#dbe9f6,#dceaf6,#deebf7,#deebf7,#dfebf7,#dfecf7,#e0ecf8,#e0ecf8,#e1edf8,#e1edf8)"></i>
<i style="background:linear-gradient(90deg,#f5fafe,#f5fafe,#f5f9fe,#f4f9fe,#f2f8fd,#f2f7fd,#f0f6fd,#eef5fc,#ecf4fb,#e9f2fa,#e7f0fa,#e3eef9,#dfecf7,#dae8f6,#d3e4f3,#cadef0,#bcd7eb,#a9cfe5,#95c5df,#85bcdc,#77b5d9,#68acd5,#5aa2cf,#4b98ca,#4090c5,#3c8cc3,#3888c1,#3282be,#2e7ebc,#2e7ebc,#2e7ebc,#3282be,#3b8bc2,#4493c7,#519ccc,#64a9d3,#7fb9da,#9ac8e0,#afd1e7,#bed8ec,#caddf0,#d1e2f3,#d5e5f4,#d3e4f3,#d1e2f3,#d2e3f3,#d3e4f3,#d4e4f4,#d6e5f4,#d7e6f5,#d9e8f5,#dce9f6,#ddeaf7,#deebf7,#dfebf7,#dfecf7,#dfecf7,#e0ecf8,#e0ecf8,#e1edf8,#e1edf8)"></i>
<i style="background:linear-gradient(90deg,#f5fafe,#f5fafe,#f5f9fe,#f4f9fe,#f2f8fd,#f2f7fd,#f0f6fd,#eef5fc,#ecf4fb,#e9f2fa,#e7f0fa,#e3eef9,#dfecf7,#dae8f6,#d3e4f3,#cadef0,#bcd7eb,#a9cfe5,#95c5df,#85bcdc,#77b5d9,#68acd5,#5ca4d0,#4d99ca,#4292c6,#3d8dc4,#3a8ac2,#3484bf,#2f7fbc,#2f7fbc,#3080bd,#3484bf,#3c8cc3,#4594c7,#539ecd,#66abd4,#84bcdb,#9fcae1,#b3d3e8,#c3daee,#ccdff1,#d3e4f3,#d7e6f5,#d5e5f4,#d3e4f3,#d4e4f4,#d5e5f4,#d6e5f4,#d6e6f4,#d8e7f5,#dae8f6,#dceaf6,#deebf7,#dfebf7,#dfecf7,#dfecf7,#e0ecf8,#e0ecf8,#e1edf8,#e1edf8,#e2edf8)"></i>
<i style="background:linear-gradient(90deg,#f5fafe,#f5fafe,#f5f9fe,#f4f9fe,#f2f8fd,#f2f7fd,#f0f6fd,#eef5fc,#ecf4fb,#e9f2fa,#e7f0fa,#e3eef9,#dfecf7,#dae8f6,#d3e4f3,#cadef0,#bcd7eb,#a9cfe5,#95c5df,#85bcdc,#77b5d9,#69add5,#5da5d1,#4f9bcb,#4493c7,#3f8fc5,#3c8cc3,#3585bf,#3181bd,#3181bd,#3181bd,#3686c0,#3e8ec4,#4896c8,#56a0ce,#6aaed6,#87bddc,#a3cce3,#b7d4ea,#c7dbef,#cee0f2,#d5e5f4,#d9e7f5,#d7e6f5,#d6e5f4,#d6e6f4,#d7e6f5,#d7e6f5,#d8e7f5,#d9e8f5,#dbe9f6,#ddeaf7,#dfebf7,#dfecf7,#dfecf7,#dfecf7,#e0ecf8,#e0ecf8,#e1edf8,#e1edf8,#e2edf8)"></i>
<i style="background:linear-gradient(90deg,#f5fafe,#f5fafe,#f5f9fe,#f4f9fe,#f2f8fd,#f2f7fd,#f0f6fd,#eef5fc,#ecf4fb,#e9f2fa,#e7f0fa,#e3eef9,#dfecf7,#dae8f6,#d3e4f3,#cadef0,#bcd7eb,#a9cfe5,#95c5df,#85bcdc,#77b5d9,#6aaed6,#5fa6d1,#529dcc,#4695c8,#4191c6,#3e8ec4,#3787c0,#3282be,#3282be,#3383be,#3888c1,#4090c5,#4a98c9,#58a1cf,#6dafd7,#8cc0dd,#a6cee4,#bcd7eb,#c9ddf0,#d0e2f2,#d7e6f5,#dbe9f6,#d9e8f5,#d8e7f5,#d9e7f5,#d9e7f5,#d9e8f5,#d9e8f5,#dbe9f6,#dceaf6,#dfebf7,#e0ecf8,#e0ecf8,#e0ecf8,#e0ecf8,#e0ecf8,#e0ecf8,#e1edf8,#e1edf8,#e2edf8)"></i>
<i style="background:linear-gradient(90deg,#f5fafe,#f5fafe,#f5f9fe,#f4f9fe,#f2f8fd,#f2f7fd,#f0f6fd,#eef5fc,#ecf4fb,#e9f2fa,#e7f0fa,#e3eef9,#dfecf7,#dae8f6,#d3e4f3,#cadef0,#bcd7eb,#a9cfe5,#95c5df,#85bcdc,#77b5d9,#6aaed6,#60a7d2,#549fcd,#4997c9,#4493c7,#4090c5,#3888c1,#3383be,#3484bf,#3585bf,#3989c1,#4191c6,#4d99ca,#5aa2cf,#72b2d8,#91c3de,#abd0e6,#bfd8ed,#cbdef1,#d3e3f3,#d9e7f5,#dceaf6,#dce9f6,#dbe9f6,#dbe9f6,#dbe9f6,#dbe9f6,#dce9f6,#dceaf6,#ddeaf7,#dfecf7,#e1edf8,#e1edf8,#e0ecf8,#e0ecf8,#e0ecf8,#e0ecf8,#e1edf8,#e1edf8,#e2edf8)"></i>
<i style="background:linear-gradient(90deg,#f5fafe,#f5fafe,#f5f9fe,#f4f9fe,#f2f8fd,#f2f7fd,#f0f6fd,#eef5fc,#ecf4fb,#e9f2fa,#e7f0fa,#e3eef9,#dfecf7,#dae8f6,#d3e4f3,#cadef0,#bcd7eb,#a9cfe5,#95c5df,#85bcdc,#77b5d9,#6caed6,#63a8d3,#56a0ce,#4b98ca,#4695c8,#4292c6,#3a8ac2,#3484bf,#3585bf,#3686c0,#3b8bc2,#4493c7,#4e9acb,#5ca4d0,#75b4d8,#95c5df,#afd1e7,#c3daee,#cde0f1,#d4e4f4,#dbe9f6,#deebf7,#deebf7,#ddeaf7,#ddeaf7,#ddeaf7,#ddeaf7,#ddeaf7,#ddeaf7,#dfebf7,#e1edf8,#e3eef8,#e2edf8,#e1edf8,#e0ecf8,#e0ecf8,#e0ecf8,#e1edf8,#e2edf8,#e3eef8)"></i>
<i style="background:linear-gradient(90deg,#f5fafe,#f5fafe,#f5f9fe,#f4f9fe,#f2f8fd,#f2f7fd,#f0f6fd,#eef5fc,#ecf4fb,#e9f2fa,#e7f0fa,#e3eef9,#dfecf7,#dae8f6,#d3e4f3,#cadef0,#bcd7eb,#a9cfe5,#95c5df,#85bcdc,#77b5d9,#6dafd7,#64a9d3,#58a1cf,#4e9acb,#4997c9,#4493c7,#3b8bc2,#3686c0,#3686c0,#3888c1,#3c8cc3,#4594c7,#519ccc,#5fa6d1,#79b5d9,#9ac8e0,#b3d3e8,#c7dbef,#d0e1f2,#d6e6f4,#dceaf6,#dfecf7,#dfecf7,#e0ecf8,#dfecf7,#dfebf7,#dfebf7,#dfebf7,#dfebf7,#dfecf7,#e2edf8,#e3eef9,#e3eef8,#e1edf8,#e0ecf8,#e0ecf8,#e1edf8,#e1edf8,#e2edf8,#e3eef8)"></i>
<i style="background:linear-gradient(90deg,#f5fafe,#f5fafe,#f5f9fe,#f4f9fe,#f2f8fd,#f2f7fd,#f0f6fd,#eef5fc,#ecf4fb,#e9f2fa,#e7f0fa,#e3eef9,#dfecf7,#dae8f6,#d3e4f3,#cadef0,#bcd7eb,#a9cfe5,#95c5df,#85bcdc,#77b5d9,#6dafd7,#65aad4,#5ba3d0,#519ccc,#4b98ca,#4695c8,#3d8dc4,#3787c0,#3787c0,#3989c1,#3e8ec4,#4896c8,#529dcc,#61a7d2,#7cb7da,#9dcae1,#b5d4e9,#c9ddf0,#d2e3f3,#d9e7f5,#deebf7,#e1edf8,#e2edf8,#e2edf8,#e2edf8,#e1edf8,#e0ecf8,#e0ecf8,#e0ecf8,#e0ecf8,#e3eef8,#e5eff9,#e3eef9,#e2edf8,#e1edf8,#e1edf8,#e1edf8,#e1edf8,#e2edf8,#e3eef8)"></i>
<i style="background:linear-gradient(90deg,#f5fafe,#f5fafe,#f5f9fe,#f4f9fe,#f2f8fd,#f2f7fd,#f0f6fd,#eef5fc,#ecf4fb,#e9f2fa,#e7f0fa,#e3eef9,#dfecf7,#dae8f6,#d3e4f3,#cadef0,#bcd7eb,#a9cfe5,#95c5df,#85bcdc,#77b5d9,#6fb0d7,#66abd4,#5ca4d0,#539ecd,#4e9acb,#4997c9,#3e8ec4,#3888c1,#3888c1,#3a8ac2,#3f8fc5,#4997c9,#549fcd,#63a8d3,#7fb9da,#a1cbe2,#b9d6ea,#cadef0,#d3e4f3,#dae8f6,#dfecf7,#e3eef8,#e3eef9,#e4eff9,#e3eef9,#e3eef8,#e2edf8,#e1edf8,#e1edf8,#e1edf8,#e3eef9,#e5eff9,#e4eff9,#e2edf8,#e1edf8,#e1edf8,#e1edf8,#e2edf8,#e2edf8,#e3eef9)"></i>
<i style="background:linear-gradient(90deg,#f5fafe,#f5fafe,#f5f9fe,#f4f9fe,#f2f8fd,#f2f7fd,#f0f6fd,#eef5fc,#ecf4fb,#e9f2fa,#e7f0fa,#e3eef9,#dfecf7,#dae8f6,#d3e4f3,#cadef0,#bcd7eb,#a9cfe5,#95c5df,#85bcdc,#77b5d9,#6fb0d7,#68acd5,#5da5d1,#549fcd,#4f9bcb,#4a98c9,#3f8fc5,#3989c1,#3a8ac2,#3b8bc2,#4090c5,#4a98c9,#56a0ce,#65aad4,#82bbdb,#a4cce3,#bcd7eb,#cddff1,#d6e5f4,#dce9f6,#e0ecf8,#e3eef9,#e5eff9,#e6f0f9,#e5eff9,#e3eef9,#e3eef8,#e1edf8,#e1edf8,#e1edf8,#e3eef9,#e5eff9,#e4eff9,#e3eef8,#e1edf8,#e1edf8,#e2edf8,#e2edf8,#e3eef8,#e3eef9)"></i>
<i style="background:linear-gradient(90deg,#f5fafe,#f5fafe,#f5f9fe,#f4f9fe,#f2f8fd,#f2f7fd,#f0f6fd,#eef5fc,#ecf4fb,#e9f2fa,#e7f0fa,#e3eef9,#dfecf7,#dae8f6,#d3e4f3,#cadef0,#bcd7eb,#a9cfe5,#95c5df,#84bcdb,#77b5d9,#6fb0d7,#69add5,#5fa6d1,#56a0ce,#519ccc,#4d99ca,#4090c5,#3a8ac2,#3b8bc2,#3c8cc3,#4292c6,#4d99ca,#57a0ce,#66abd4,#85bcdc,#a6cee4,#bfd8ed,#cee0f2,#d7e6f5,#ddeaf7,#e2edf8,#e5eff9,#e7f0fa,#e7f1fa,#e6f0f9,#e5eff9,#e3eef8,#e2edf8,#e2edf8,#e2edf8,#e3eef9,#e5eff9,#e4eff9,#e3eef8,#e2edf8,#e2edf8,#e2edf8,#e2edf8,#e3eef8,#e3eef9)"></i>
<i style="background:linear-gradient(90deg,#f5fafe,#f5fafe,#f5f9fe,#f4f9fe,#f2f8fd,#f2f7fd,#f0f6fd,#eef5fc,#ecf4fb,#e9f2fa,#e7f0fa,#e3eef9,#dfecf7,#dae8f6,#d3e4f3,#cadef0,#bcd7eb,#a9cfe5,#95c5df,#84bcdb,#77b5d9,#71b1d7,#6aaed6,#60a7d2,#57a0ce,#539ecd,#4e9acb,#4292c6,#3b8bc2,#3c8cc3,#3e8ec4,#4493c7,#4e9acb,#5aa2cf,#69add5,#87bddc,#a9cfe5,#c2d9ee,#d0e2f2,#d9e7f5,#dfebf7,#e3eef9,#e6f0f9,#e7f1fa,#e8f1fa,#e7f1fa,#e6f0f9,#e3eef9,#e2edf8,#e2edf8,#e2edf8,#e3eef9,#e5eff9,#e4eff9,#e3eef8,#e2edf8,#e2edf8,#e3eef8,#e3eef8,#e3eef9,#e4eff9)"></i>
<i style="background:linear-gradient(90deg,#f5fafe,#f5fafe,#f5f9fe,#f4f9fe,#f2f8fd,#f2f7fd,#f0f6fd,#eef5fc,#ecf4fb,#e9f2fa,#e7f0fa,#e3eef9,#dfecf7,#dae8f6,#d3e4f3,#cadef0,#bcd7eb,#a9cfe5,#95c5df,#84bcdb,#77b5d9,#71b1d7,#6aaed6,#61a7d2,#58a1cf,#549fcd,#4f9bcb,#4493c7,#3c8cc3,#3d8dc4,#3f8fc5,#4594c7,#4f9bcb,#5ba3d0,#6aaed6,#8abfdd,#abd0e6,#c4daee,#d2e3f3,#dae8f6,#e0ecf8,#e4eff9,#e7f1fa,#e9f2fa,#eaf2fb,#e8f1fa,#e7f0fa,#e4eff9,#e3eef8,#e3eef8,#e3eef8,#e4eff9,#e5eff9,#e5eff9,#e3eef9,#e3eef8,#e3eef8,#e3eef8,#e3eef8,#e3eef9,#e4eff9)"></i>
<i style="background:linear-gradient(90deg,#f5fafe,#f5fafe,#f5f9fe,#f4f9fe,#f2f8fd,#f2f7fd,#f0f6fd,#eef5fc,#ecf4fb,#e9f2fa,#e7f0fa,#e3eef9,#dfecf7,#dae8f6,#d3e4f3,#cadef0,#bcd7eb,#a9cfe5,#95c5df,#84bcdb,#77b5d9,#71b1d7,#6caed6,#63a8d3,#5aa2cf,#56a0ce,#529dcc,#4594c7,#3d8dc4,#3d8dc4,#3f8fc5,#4695c8,#519ccc,#5ca4d0,#6caed6,#8cc0dd,#aed1e7,#c7dbef,#d3e4f3,#dce9f6,#e2edf8,#e6f0f9,#e8f1fa,#eaf2fb,#eaf3fb,#eaf2fb,#e7f1fa,#e4eff9,#e3eef8,#e3eef8,#e3eef8,#e4eff9,#e5eff9,#e5eff9,#e3eef9,#e3eef9,#e3eef9,#e3eef9,#e3eef9,#e4eff9,#e5eff9)"></i>
<i style="background:linear-gradient(90deg,#f5fafe,#f5fafe,#f5f9fe,#f4f9fe,#f2f8fd,#f2f7fd,#f0f6fd,#eef5fc,#ecf4fb,#e9f2fa,#e7f0fa,#e3eef9,#dfecf7,#dae8f6,#d3e4f3,#cadef0,#bcd7eb,#a9cfe5,#95c5df,#84bcdb,#77b5d9,#72b2d8,#6dafd7,#64a9d3,#5ba3d0,#57a0ce,#539ecd,#4695c8,#3e8ec4,#3e8ec4,#4090c5,#4896c8,#539ecd,#5da5d1,#6dafd7,#8fc2de,#b0d2e7,#c8dcf0,#d5e5f4,#ddeaf7,#e3eef9,#e7f0fa,#e9f2fa,#eaf3fb,#ebf3fb,#eaf3fb,#e8f1fa,#e5eff9,#e3eef8,#e3eef8,#e3eef8,#e4eff9,#e5eff9,#e5eff9,#e4eff9,#e3eef9,#e3eef9,#e3eef9,#e4eff9,#e5eff9,#e6f0f9)"></i>
<i style="background:linear-gradient(90deg,#f5fafe,#f5fafe,#f5f9fe,#f4f9fe,#f2f8fd,#f2f7fd,#f0f6fd,#eef5fc,#ecf4fb,#e9f2fa,#e7f0fa,#e3eef9,#dfecf7,#dae8f6,#d3e4f3,#cadef0,#bcd7eb,#a9cfe5,#95c5df,#84bcdb,#77b5d9,#72b2d8,#6dafd7,#65aad4,#5ca4d0,#58a1cf,#549fcd,#4896c8,#3e8ec4,#3f8fc5,#4191c6,#4997c9,#549fcd,#60a7d2,#6fb0d7,#91c3de,#b2d2e8,#caddf0,#d6e6f4,#dfebf7,#e5eff9,#e8f1fa,#eaf2fb,#ebf3fb,#ecf4fb,#ebf3fb,#e9f2fa,#e5eff9,#e3eef9,#e3eef9,#e3eef9,#e4eff9,#e5eff9,#e5eff9,#e4eff9,#e4eff9,#e4eff9,#e4eff9,#e5eff9,#e5eff9,#e6f0f9)"></i>
<i style="background:linear-gradient(90deg,#f5fafe,#f5fafe,#f5f9fe,#f4f9fe,#f2f8fd,#f2f7fd,#f0f6fd,#eef5fc,#ecf4fb,#e9f2fa,#e7f0fa,#e3eef9,#dfecf7,#dae8f6,#d3e4f3,#cadef0,#bcd7eb,#a9cfe5,#95c5df,#84bcdb,#77b5d9,#72b2d8,#6fb0d7,#65aad4,#5da5d1,#5aa2cf,#56a0ce,#4997c9,#3f8fc5,#4090c5,#4292c6,#4a98c9,#56a0ce,#61a7d2,#71b1d7,#94c4df,#b4d3e9,#cbdef1,#d8e7f5,#e0ecf8,#e6f0f9,#e9f2fa,#eaf3fb,#ecf4fb,#edf4fc,#ebf3fb,#e9f2fa,#e6f0f9,#e3eef9,#e3eef9,#e3eef9,#e4eff9,#e5eff9,#e5eff9,#e5eff9,#e5eff9,#e5eff9,#e5eff9,#e5eff9,#e6f0f9,#e7f0fa)"></i>
<i style="background:linear-gradient(90deg,#f5fafe,#f5fafe,#f5f9fe,#f4f9fe,#f2f8fd,#f2f7fd,#f0f6fd,#eef5fc,#ecf4fb,#e9f2fa,#e7f0fa,#e3eef9,#dfecf7,#dae8f6,#d3e4f3,#cadef0,#bcd7eb,#a9cfe5,#95c5df,#84bcdb,#77b5d9,#72b2d8,#6fb0d7,#66abd4,#5da5d1,#5ba3d0,#57a0ce,#4a98c9,#4090c5,#4191c6,#4493c7,#4b98ca,#57a0ce,#63a8d3,#72b2d8,#95c5df,#b5d4e9,#cddff1,#d9e8f5,#e2edf8,#e7f1fa,#eaf2fb,#ebf3fb,#edf4fc,#eef5fc,#ecf4fb,#eaf2fb,#e6f0f9,#e3eef9,#e3eef9,#e3eef9,#e4eff9,#e5eff9,#e5eff9,#e5eff9,#e5eff9,#e5eff9,#e6f0f9,#e6f0f9,#e7f0fa,#e7f1fa)"></i>
</div>
<div class="hm" style="top:862px;height:333px">
<i style="background:linear-gradient(90deg,#f5f9fe,#f5f9fe,#f5f9fe,#f5f9fe,#f4f9fe,#f4f9fe,#f4f9fe,#f4f9fe,#f4f9fe,#f4f9fe,#f3f8fe,#f3f8fe,#f2f8fd,#f2f8fd,#f2f7fd,#f2f7fd,#f2f7fd,#f2f7fd,#f2f7fd,#f0f6fd,#eef5fc,#eaf2fb,#e3eef9,#d9e8f5,#ccdff1,#b4d3e9,#94c4df,#77b5d9,#5fa6d1,#3d8dc4,#2979b9,#2373b6,#2171b5,#2171b5,#2171b5,#2373b6,#2979b9,#3181bd,#3989c1,#4695c8,#5ba3d0,#81badb,#a3cce3,#afd1e7,#b7d4ea,#bdd7ec,#c3daee,#cee0f2,#d9e8f5,#e6f0f9,#eef5fc,#eff6fc,#f1f7fd,#f2f7fd,#f2f8fd,#f2f8fd,#f3f8fe,#f3f8fe,#f3f8fe,#f3f8fe,#f3f8fe)"></i>
<i style="background:linear-gradient(90deg,#f5f9fe,#f5f9fe,#f5f9fe,#f5f9fe,#f4f9fe,#f4f9fe,#f4f9fe,#f4f9fe,#f4f9fe,#f4f9fe,#f3f8fe,#f3f8fe,#f2f8fd,#f2f8fd,#f2f7fd,#f2f7fd,#f2f7fd,#f2f7fd,#f2f7fd,#f0f6fd,#eef5fc,#eaf2fb,#e3eef9,#d9e8f5,#ccdff1,#b3d3e8,#94c4df,#79b5d9,#5fa6d1,#3e8ec4,#2a7ab9,#2373b6,#2171b5,#2171b5,#2171b5,#2474b7,#2a7ab9,#3282be,#3a8ac2,#4896c8,#5ca4d0,#81badb,#a4cce3,#afd1e7,#b7d4ea,#bdd7ec,#c3daee,#cee0f2,#d9e8f5,#e6f0f9,#eef5fc,#eff6fc,#f1f7fd,#f2f7fd,#f2f8fd,#f2f8fd,#f3f8fe,#f3f8fe,#f3f8fe,#f3f8fe,#f3f8fe)"></i>
<i style="background:linear-gradient(90deg,#f5f9fe,#f5f9fe,#f5f9fe,#f5f9fe,#f4f9fe,#f4f9fe,#f4f9fe,#f4f9fe,#f4f9fe,#f4f9fe,#f3f8fe,#f3f8fe,#f2f8fd,#f2f8fd,#f2f7fd,#f2f7fd,#f2f7fd,#f2f7fd,#f2f7fd,#f0f6fd,#eef5fc,#eaf2fb,#e3eef9,#d9e8f5,#ccdff1,#b3d3e8,#94c4df,#79b5d9,#60a7d2,#3f8fc5,#2b7bba,#2474b7,#2272b6,#2272b6,#2272b6,#2474b7,#2a7ab9,#3383be,#3b8bc2,#4997c9,#5ca4d0,#81badb,#a4cce3,#afd1e7,#b7d4ea,#bdd7ec,#c4daee,#cee0f2,#d9e8f5,#e6f0f9,#eef5fc,#eff6fc,#f1f7fd,#f2f7fd,#f2f8fd,#f2f8fd,#f3f8fe,#f3f8fe,#f3f8fe,#f3f8fe,#f3f8fe)"></i>
<i style="background:linear-gradient(90deg,#f5f9fe,#f5f9fe,#f5f9fe,#f5f9fe,#f4f9fe,#f4f9fe,#f4f9fe,#f4f9fe,#f4f9fe,#f4f9fe,#f3f8fe,#f3f8fe,#f2f8fd,#f2f8fd,#f2f7fd,#f2f7fd,#f2f7fd,#f2f7fd,#f2f7fd,#f0f6fd,#eef5fc,#eaf2fb,#e3eef9,#d9e8f5,#ccdff1,#b3d3e8,#94c4df,#79b5d9,#61a7d2,#3f8fc5,#2b7bba,#2575b7,#2272b6,#2272b6,#2272b6,#2575b7,#2b7bba,#3484bf,#3d8dc4,#4a98c9,#5da5d1,#82bbdb,#a4cce3,#afd1e7,#b8d5ea,#bed8ec,#c4daee,#cee0f2,#d9e8f5,#e6f0f9,#eef5fc,#eff6fc,#f1f7fd,#f2f7fd,#f2f8fd,#f2f8fd,#f3f8fe,#f3f8fe,#f3f8fe,#f3f8fe,#f3f8fe)"></i>
<i style="background:linear-gradient(90deg,#f5f9fe,#f5f9fe,#f5f9fe,#f5f9fe,#f4f9fe,#f4f9fe,#f4f9fe,#f4f9fe,#f4f9fe,#f4f9fe,#f3f8fe,#f3f8fe,#f2f8fd,#f2f8fd,#f2f7fd,#f2f7fd,#f2f7fd,#f2f7fd,#f2f7fd,#f0f6fd,#eef5fc,#eaf2fb,#e3eef9,#d9e8f5,#ccdff1,#b3d3e8,#94c4df,#7ab6d9,#61a7d2,#4090c5,#2c7cba,#2575b7,#2373b6,#2373b6,#2373b6,#2575b7,#2b7bba,#3484bf,#3e8ec4,#4b98ca,#5da5d1,#82bbdb,#a5cde3,#b0d2e7,#b8d5ea,#bed8ec,#c4daee,#cee0f2,#d9e8f5,#e6f0f9,#eef5fc,#eff6fc,#f1f7fd,#f2f7fd,#f2f8fd,#f2f8fd,#f3f8fe,#f3f8fe,#f3f8fe,#f3f8fe,#f3f8fe)"></i>
<i style="background:linear-gradient(90deg,#f5f9fe,#f5f9fe,#f5f9fe,#f5f9fe,#f4f9fe,#f4f9fe,#f4f9fe,#f4f9fe,#f4f9fe,#f4f9fe,#f3f8fe,#f3f8fe,#f2f8fd,#f2f8fd,#f2f7fd,#f2f7fd,#f2f7fd,#f2f7fd,#f2f7fd,#f0f6fd,#eef5fc,#eaf2fb,#e3eef9,#d9e8f5,#ccdff1,#b3d3e8,#94c4df,#7ab6d9,#63a8d3,#4191c6,#2c7cba,#2676b8,#2373b6,#2373b6,#2373b6,#2676b8,#2c7cba,#3585bf,#3f8fc5,#4d99ca,#5fa6d1,#84bcdb,#a5cde3,#b0d2e7,#b8d5ea,#bed8ec,#c6dbef,#cee0f2,#d9e8f5,#e5eff9,#eef5fc,#eff6fc,#f1f7fd,#f2f7fd,#f2f8fd,#f2f8fd,#f3f8fe,#f3f8fe,#f3f8fe,#f3f8fe,#f3f8fe)"></i>
<i style="background:linear-gradient(90deg,#f5f9fe,#f5f9fe,#f5f9fe,#f5f9fe,#f4f9fe,#f4f9fe,#f4f9fe,#f4f9fe,#f4f9fe,#f4f9fe,#f3f8fe,#f3f8fe,#f2f8fd,#f2f8fd,#f2f7fd,#f2f7fd,#f2f7fd,#f2f7fd,#f2f7fd,#f0f6fd,#eef5fc,#eaf2fb,#e3eef9,#d9e8f5,#ccdff1,#b3d3e8,#94c4df,#7ab6d9,#63a8d3,#4191c6,#2d7dbb,#2676b8,#2474b7,#2474b7,#2474b7,#2676b8,#2d7dbb,#3686c0,#4090c5,#4e9acb,#60a7d2,#84bcdb,#a5cde3,#b0d2e7,#b9d6ea,#bed8ec,#c6dbef,#cfe1f2,#d9e8f5,#e5eff9,#eef5fc,#eff6fc,#f1f7fd,#f2f7fd,#f2f8fd,#f2f8fd,#f3f8fe,#f3f8fe,#f3f8fe,#f3f8fe,#f3f8fe)"></i>
<i style="background:linear-gradient(90deg,#f5f9fe,#f5f9fe,#f5f9fe,#f5f9fe,#f4f9fe,#f4f9fe,#f4f9fe,#f4f9fe,#f4f9fe,#f4f9fe,#f3f8fe,#f3f8fe,#f2f8fd,#f2f8fd,#f2f7fd,#f2f7fd,#f2f7fd,#f2f7fd,#f2f7fd,#f0f6fd,#eef5fc,#eaf2fb,#e3eef9,#d9e8f5,#ccdff1,#b3d3e8,#94c4df,#7ab6d9,#64a9d3,#4292c6,#2e7ebc,#2777b8,#2575b7,#2575b7,#2575b7,#2777b8,#2d7dbb,#3787c0,#4191c6,#4f9bcb,#60a7d2,#84bcdb,#a6cee4,#b2d2e8,#b9d6ea,#bfd8ed,#c6dbef,#cfe1f2,#d9e8f5,#e5eff9,#eef5fc,#eff6fc,#f1f7fd,#f2f7fd,#f2f8fd,#f2f8fd,#f3f8fe,#f3f8fe,#f3f8fe,#f3f8fe,#f3f8fe)"></i>
<i style="background:linear-gradient(90deg,#f5f9fe,#f5f9fe,#f5f9fe,#f5f9fe,#f4f9fe,#f4f9fe,#f4f9fe,#f4f9fe,#f4f9fe,#f4f9fe,#f3f8fe,#f3f8fe,#f2f8fd,#f2f8fd,#f2f7fd,#f2f7fd,#f2f7fd,#f2f7fd,#f2f7fd,#f0f6fd,#eef5fc,#eaf2fb,#e3eef9,#d9e8f5,#ccdff1,#b3d3e8,#94c4df,#7cb7da,#64a9d3,#4292c6,#2e7ebc,#2979b9,#2676b8,#2676b8,#2676b8,#2979b9,#2e7ebc,#3888c1,#4493c7,#519ccc,#61a7d2,#85bcdc,#a6cee4,#b2d2e8,#b9d6ea,#bfd8ed,#c6dbef,#cfe1f2,#d9e8f5,#e5eff9,#eef5fc,#eff6fc,#f1f7fd,#f2f7fd,#f2f8fd,#f2f8fd,#f3f8fe,#f3f8fe,#f3f8fe,#f3f8fe,#f3f8fe)"></i>
<i style="background:linear-gradient(90deg,#f5f9fe,#f5f9fe,#f5f9fe,#f5f9fe,#f4f9fe,#f4f9fe,#f4f9fe,#f4f9fe,#f4f9fe,#f4f9fe,#f3f8fe,#f3f8fe,#f2f8fd,#f2f8fd,#f2f7fd,#f2f7fd,#f2f7fd,#f2f7fd,#f2f7fd,#f0f6fd,#eef5fc,#eaf2fb,#e3eef9,#d9e8f5,#ccdff1,#b3d3e8,#94c4df,#7cb7da,#65aad4,#4493c7,#2f7fbc,#2979b9,#2676b8,#2676b8,#2676b8,#2a7ab9,#2f7fbc,#3989c1,#4594c7,#529dcc,#61a7d2,#85bcdc,#a6cee4,#b2d2e8,#bad6eb,#bfd8ed,#c7dbef,#cfe1f2,#d9e8f5,#e5eff9,#eef5fc,#eff6fc,#f1f7fd,#f2f7fd,#f2f8fd,#f2f8fd,#f3f8fe,#f3f8fe,#f3f8fe,#f3f8fe,#f3f8fe)"></i>
<i style="background:linear-gradient(90deg,#f5f9fe,#f5f9fe,#f5f9fe,#f5f9fe,#f4f9fe,#f4f9fe,#f4f9fe,#f4f9fe,#f4f9fe,#f4f9fe,#f3f8fe,#f3f8fe,#f2f8fd,#f2f8fd,#f2f7fd,#f2f7fd,#f2f7fd,#f2f7fd,#f2f7fd,#f0f6fd,#eef5fc,#eaf2fb,#e3eef9,#d9e8f5,#ccdff1,#b3d3e8,#94c4df,#7cb7da,#65aad4,#4493c7,#2f7fbc,#2a7ab9,#2777b8,#2777b8,#2777b8,#2b7bba,#3080bd,#3b8bc2,#4695c8,#539ecd,#63a8d3,#87bddc,#a6cee4,#b2d2e8,#bad6eb,#c1d9ed,#c7dbef,#cfe1f2,#d9e8f5,#e5eff9,#eef5fc,#eff6fc,#f1f7fd,#f2f7fd,#f2f8fd,#f2f8fd,#f3f8fe,#f3f8fe,#f3f8fe,#f3f8fe,#f3f8fe)"></i>
<i style="background:linear-gradient(90deg,#f5f9fe,#f5f9fe,#f5f9fe,#f5f9fe,#f4f9fe,#f4f9fe,#f4f9fe,#f4f9fe,#f4f9fe,#f4f9fe,#f3f8fe,#f3f8fe,#f2f8fd,#f2f8fd,#f2f7fd,#f2f7fd,#f2f7fd,#f2f7fd,#f2f7fd,#f0f6fd,#eef5fc,#eaf2fb,#e3eef9,#d9e8f5,#ccdff1,#b3d3e8,#94c4df,#7cb7da,#65aad4,#4594c7,#3080bd,#2b7bba,#2979b9,#2979b9,#2979b9,#2c7cba,#3181bd,#3c8cc3,#4896c8,#549fcd,#64a9d3,#87bddc,#a8cee4,#b3d3e8,#bad6eb,#c1d9ed,#c7dcef,#d0e1f2,#d9e8f5,#e5eff9,#eef5fc,#eff6fc,#f1f7fd,#f2f7fd,#f2f8fd,#f2f8fd,#f3f8fe,#f3f8fe,#f3f8fe,#f3f8fe,#f3f8fe)"></i>
<i style="background:linear-gradient(90deg,#f5f9fe,#f5f9fe,#f5f9fe,#f5f9fe,#f4f9fe,#f4f9fe,#f4f9fe,#f4f9fe,#f4f9fe,#f4f9fe,#f3f8fe,#f3f8fe,#f2f8fd,#f2f8fd,#f2f7fd,#f2f7fd,#f2f7fd,#f2f7fd,#f2f7fd,#f0f6fd,#eef5fc,#eaf2fb,#e3eef9,#d9e8f5,#ccdff1,#b3d3e8,#94c4df,#7cb7da,#66abd4,#4594c7,#3181bd,#2c7cba,#2a7ab9,#2a7ab9,#2a7ab9,#2d7dbb,#3383be,#3d8dc4,#4a98c9,#56a0ce,#64a9d3,#87bddc,#a8cee4,#b3d3e8,#bad6eb,#c1d9ed,#c7dcef,#d0e1f2,#d9e8f5,#e5eff9,#eef5fc,#eff6fc,#f1f7fd,#f2f7fd,#f2f8fd,#f2f8fd,#f3f8fe,#f3f8fe,#f3f8fe,#f3f8fe,#f3f8fe)"></i>
<i style="background:linear-gradient(90deg,#f5f9fe,#f5f9fe,#f5f9fe,#f5f9fe,#f4f9fe,#f4f9fe,#f4f9fe,#f4f9fe,#f4f9fe,#f4f9fe,#f3f8fe,#f3f8fe,#f2f8fd,#f2f8fd,#f2f7fd,#f2f7fd,#f2f7fd,#f2f7fd,#f2f7fd,#f0f6fd,#eef5fc,#eaf2fb,#e3eef9,#d9e8f5,#ccdff1,#b3d3e8,#94c4df,#7cb7da,#66abd4,#4695c8,#3181bd,#2d7dbb,#2b7bba,#2b7bba,#2b7bba,#2e7ebc,#3484bf,#3f8fc5,#4b98ca,#57a0ce,#65aad4,#89bedc,#a8cee4,#b3d3e8,#bcd7eb,#c2d9ee,#c7dcef,#d0e1f2,#d9e8f5,#e5eff9,#eef5fc,#eff6fc,#f1f7fd,#f2f7fd,#f2f8fd,#f2f8fd,#f3f8fe,#f3f8fe,#f3f8fe,#f3f8fe,#f3f8fe)"></i>
<i style="background:linear-gradient(90deg,#f5f9fe,#f5f9fe,#f5f9fe,#f5f9fe,#f4f9fe,#f4f9fe,#f4f9fe,#f4f9fe,#f4f9fe,#f4f9fe,#f3f8fe,#f3f8fe,#f2f8fd,#f2f8fd,#f2f7fd,#f2f7fd,#f2f7fd,#f2f7fd,#f2f7fd,#f0f6fd,#eef5fc,#eaf2fb,#e3eef9,#d9e8f5,#ccdff1,#b3d3e8,#94c4df,#7db8da,#66abd4,#4695c8,#3282be,#2e7ebc,#2c7cba,#2c7cba,#2c7cba,#2f7fbc,#3686c0,#4090c5,#4d99ca,#58a1cf,#66abd4,#89bedc,#a9cfe5,#b4d3e9,#bcd7eb,#c2d9ee,#c8dcf0,#d0e1f2,#d9e8f5,#e5eff9,#eef5fc,#eff6fc,#f1f7fd,#f2f7fd,#f2f8fd,#f2f8fd,#f3f8fe,#f3f8fe,#f3f8fe,#f3f8fe,#f3f8fe)"></i>
<i style="background:linear-gradient(90deg,#f5f9fe,#f5f9fe,#f5f9fe,#f5f9fe,#f4f9fe,#f4f9fe,#f4f9fe,#f4f9fe,#f4f9fe,#f4f9fe,#f3f8fe,#f3f8fe,#f2f8fd,#f2f8fd,#f2f7fd,#f2f7fd,#f2f7fd,#f2f7fd,#f2f7fd,#f0f6fd,#eef5fc,#eaf2fb,#e3eef9,#d9e8f5,#ccdff1,#b3d3e8,#94c4df,#7db8da,#66abd4,#4695c8,#3282be,#2e7ebc,#2d7dbb,#2d7dbb,#2d7dbb,#3080bd,#3787c0,#4191c6,#4e9acb,#5aa2cf,#66abd4,#89bedc,#a9cfe5,#b4d3e9,#bcd7eb,#c2d9ee,#c8dcf0,#d0e1f2,#d9e8f5,#e5eff9,#eef5fc,#eff6fc,#f1f7fd,#f2f7fd,#f2f8fd,#f2f8fd,#f3f8fe,#f3f8fe,#f3f8fe,#f3f8fe,#f3f8fe)"></i>
<i style="background:linear-gradient(90deg,#f5f9fe,#f5f9fe,#f5f9fe,#f5f9fe,#f4f9fe,#f4f9fe,#f4f9fe,#f4f9fe,#f4f9fe,#f4f9fe,#f3f8fe,#f3f8fe,#f2f8fd,#f2f8fd,#f2f7fd,#f2f7fd,#f2f7fd,#f2f7fd,#f2f7fd,#f0f6fd,#eef5fc,#eaf2fb,#e3eef9,#d9e8f5,#ccdff1,#b3d3e8,#94c4df,#7db8da,#68acd5,#4896c8,#3383be,#2f7fbc,#2e7ebc,#2e7ebc,#2e7ebc,#3181bd,#3888c1,#4292c6,#4f9bcb,#5ba3d0,#68acd5,#8abfdd,#a9cfe5,#b4d3e9,#bdd7ec,#c3daee,#c8dcf0,#d0e1f2,#d9e8f5,#e5eff9,#eef5fc,#eff6fc,#f1f7fd,#f2f7fd,#f2f8fd,#f2f8fd,#f3f8fe,#f3f8fe,#f3f8fe,#f3f8fe,#f3f8fe)"></i>
<i style="background:linear-gradient(90deg,#f5f9fe,#f5f9fe,#f5f9fe,#f5f9fe,#f4f9fe,#f4f9fe,#f4f9fe,#f4f9fe,#f4f9fe,#f4f9fe,#f3f8fe,#f3f8fe,#f2f8fd,#f2f8fd,#f2f7fd,#f2f7fd,#f2f7fd,#f2f7fd,#f2f7fd,#f0f6fd,#eef5fc,#eaf2fb,#e3eef9,#d9e8f5,#ccdff1,#b3d3e8,#94c4df,#7db8da,#68acd5,#4896c8,#3484bf,#3080bd,#2f7fbc,#2f7fbc,#2f7fbc,#3282be,#3989c1,#4493c7,#519ccc,#5ba3d0,#68acd5,#8abfdd,#aacfe5,#b5d4e9,#bdd7ec,#c3daee,#c8dcf0,#d0e1f2,#d9e8f5,#e5eff9,#eef5fc,#eff6fc,#f1f7fd,#f2f7fd,#f2f8fd,#f2f8fd,#f3f8fe,#f3f8fe,#f3f8fe,#f3f8fe,#f3f8fe)"></i>
<i style="background:linear-gradient(90deg,#f5f9fe,#f5f9fe,#f5f9fe,#f5f9fe,#f4f9fe,#f4f9fe,#f4f9fe,#f4f9fe,#f4f9fe,#f4f9fe,#f3f8fe,#f3f8fe,#f2f8fd,#f2f8fd,#f2f7fd,#f2f7fd,#f2f7fd,#f2f7fd,#f2f7fd,#f0f6fd,#eef5fc,#eaf2fb,#e3eef9,#d9e8f5,#ccdff1,#b3d3e8,#94c4df,#7db8da,#68acd5,#4997c9,#3484bf,#3181bd,#2f7fbc,#2f7fbc,#2f7fbc,#3383be,#3a8ac2,#4594c7,#529dcc,#5ca4d0,#68acd5,#8abfdd,#aacfe5,#b5d4e9,#bdd7ec,#c3daee,#c8dcf0,#d0e1f2,#d9e8f5,#e5eff9,#eef5fc,#eff6fc,#f1f7fd,#f2f7fd,#f2f8fd,#f2f8fd,#f3f8fe,#f3f8fe,#f3f8fe,#f3f8fe,#f3f8fe)"></i>
<i style="background:linear-gradient(90deg,#f5f9fe,#f5f9fe,#f5f9fe,#f5f9fe,#f4f9fe,#f4f9fe,#f4f9fe,#f4f9fe,#f4f9fe,#f4f9fe,#f3f8fe,#f3f8fe,#f2f8fd,#f2f8fd,#f2f7fd,#f2f7fd,#f2f7fd,#f2f7fd,#f2f7fd,#f0f6fd,#eef5fc,#eaf2fb,#e4eff9,#dae8f6,#cddff1,#b3d3e8,#94c4df,#7db8da,#69add5,#4997c9,#3585bf,#3181bd,#3080bd,#3080bd,#3080bd,#3484bf,#3a8ac2,#4695c8,#539ecd,#5da5d1,#69add5,#8cc0dd,#aacfe5,#b5d4e9,#bed8ec,#c3daee,#c8dcf0,#d0e1f2,#d9e8f5,#e5eff9,#eef5fc,#eff6fc,#f1f7fd,#f2f7fd,#f2f8fd,#f2f8fd,#f3f8fe,#f3f8fe,#f3f8fe,#f3f8fe,#f3f8fe)"></i>
<i style="background:linear-gradient(90deg,#f5f9fe,#f5f9fe,#f5f9fe,#f5f9fe,#f4f9fe,#f4f9fe,#f4f9fe,#f4f9fe,#f4f9fe,#f4f9fe,#f3f8fe,#f3f8fe,#f2f8fd,#f2f8fd,#f2f7fd,#f2f7fd,#f2f7fd,#f2f7fd,#f2f7fd,#f0f6fd,#eef5fc,#eaf2fb,#e5eff9,#dae8f6,#cddff1,#b3d3e8,#95c5df,#7fb9da,#69add5,#4a98c9,#3686c0,#3282be,#3181bd,#3181bd,#3181bd,#3484bf,#3b8bc2,#4896c8,#549fcd,#5da5d1,#69add5,#8cc0dd,#abd0e6,#b7d4ea,#bed8ec,#c3daee,#c8dcf0,#d0e1f2,#d9e8f5,#e5eff9,#eef5fc,#eff6fc,#f1f7fd,#f2f7fd,#f2f8fd,#f2f8fd,#f3f8fe,#f3f8fe,#f3f8fe,#f3f8fe,#f3f8fe)"></i>
<i style="background:linear-gradient(90deg,#f5f9fe,#f5f9fe,#f5f9fe,#f5f9fe,#f4f9fe,#f4f9fe,#f4f9fe,#f4f9fe,#f4f9fe,#f4f9fe,#f3f8fe,#f3f8fe,#f2f8fd,#f2f8fd,#f2f7fd,#f2f7fd,#f2f7fd,#f2f7fd,#f2f7fd,#f0f6fd,#eef5fc,#eaf3fb,#e6f0f9,#dbe9f6,#cddff1,#b4d3e9,#95c5df,#7fb9da,#6aaed6,#4b98ca,#3787c0,#3383be,#3282be,#3282be,#3282be,#3585bf,#3c8cc3,#4896c8,#549fcd,#5fa6d1,#6aaed6,#8cc0dd,#abd0e6,#b7d4ea,#bed8ec,#c4daee,#c8dcf0,#d0e1f2,#d9e8f5,#e5eff9,#eef5fc,#eff6fc,#f1f7fd,#f2f7fd,#f2f8fd,#f2f8fd,#f3f8fe,#f3f8fe,#f3f8fe,#f3f8fe,#f3f8fe)"></i>
<i style="background:linear-gradient(90deg,#f5f9fe,#f5f9fe,#f5f9fe,#f5f9fe,#f4f9fe,#f4f9fe,#f4f9fe,#f4f9fe,#f4f9fe,#f4f9fe,#f3f8fe,#f3f8fe,#f2f8fd,#f2f8fd,#f2f7fd,#f2f7fd,#f2f7fd,#f2f7fd,#f2f7fd,#f0f6fd,#eef5fc,#eaf3fb,#e7f0fa,#dce9f6,#cde0f1,#b4d3e9,#95c5df,#81badb,#6aaed6,#4b98ca,#3787c0,#3484bf,#3282be,#3282be,#3282be,#3686c0,#3d8dc4,#4997c9,#56a0ce,#5fa6d1,#6aaed6,#8dc1dd,#abd0e6,#b8d5ea,#bfd8ed,#c4daee,#c8dcf0,#d0e1f2,#d9e8f5,#e5eff9,#eef5fc,#eff6fc,#f1f7fd,#f2f7fd,#f2f8fd,#f2f8fd,#f3f8fe,#f3f8fe,#f3f8fe,#f3f8fe,#f3f8fe)"></i>
<i style="background:linear-gradient(90deg,#f5f9fe,#f5f9fe,#f5f9fe,#f5f9fe,#f4f9fe,#f4f9fe,#f4f9fe,#f4f9fe,#f4f9fe,#f4f9fe,#f3f8fe,#f3f8fe,#f2f8fd,#f2f8fd,#f2f7fd,#f2f7fd,#f2f7fd,#f2f7fd,#f2f7fd,#f0f6fd,#eef5fc,#ebf3fb,#e7f1fa,#dceaf6,#cde0f1,#b4d3e9,#97c6df,#81badb,#6aaed6,#4d99ca,#3888c1,#3484bf,#3383be,#3383be,#3383be,#3686c0,#3d8dc4,#4997c9,#57a0ce,#60a7d2,#6aaed6,#8dc1dd,#add0e6,#b8d5ea,#bfd8ed,#c4daee,#c8dcf0,#d0e1f2,#d9e8f5,#e5eff9,#eef5fc,#eff6fc,#f1f7fd,#f2f7fd,#f2f8fd,#f2f8fd,#f3f8fe,#f3f8fe,#f3f8fe,#f3f8fe,#f3f8fe)"></i>
<i style="background:linear-gradient(90deg,#f5f9fe,#f5f9fe,#f5f9fe,#f5f9fe,#f4f9fe,#f4f9fe,#f4f9fe,#f4f9fe,#f4f9fe,#f4f9fe,#f3f8fe,#f3f8fe,#f2f8fd,#f2f8fd,#f2f7fd,#f2f7fd,#f2f7fd,#f2f7fd,#f2f7fd,#f0f6fd,#eef5fc,#ebf3fb,#e8f1fa,#ddeaf7,#cde0f1,#b5d4e9,#97c6df,#81badb,#6aaed6,#4d99ca,#3888c1,#3585bf,#3383be,#3383be,#3383be,#3787c0,#3e8ec4,#4a98c9,#57a0ce,#60a7d2,#6aaed6,#8dc1dd,#add0e6,#b8d5ea,#bfd8ed,#c4daee,#c8dcf0,#d0e1f2,#d9e8f5,#e5eff9,#eef5fc,#eff6fc,#f1f7fd,#f2f7fd,#f2f8fd,#f2f8fd,#f3f8fe,#f3f8fe,#f3f8fe,#f3f8fe,#f3f8fe)"></i>
<i style="background:linear-gradient(90deg,#f5f9fe,#f5f9fe,#f5f9fe,#f5f9fe,#f4f9fe,#f4f9fe,#f4f9fe,#f4f9fe,#f4f9fe,#f4f9fe,#f3f8fe,#f3f8fe,#f2f8fd,#f2f8fd,#f2f7fd,#f2f7fd,#f2f7fd,#f2f7fd,#f2f7fd,#f0f6fd,#eef5fc,#ecf4fb,#e9f2fa,#deebf7,#cee0f2,#b5d4e9,#99c7e0,#81badb,#6aaed6,#4d99ca,#3989c1,#3585bf,#3383be,#3383be,#3383be,#3787c0,#3e8ec4,#4a98c9,#57a0ce,#60a7d2,#6aaed6,#8dc1dd,#add0e6,#b8d5ea,#bfd8ed,#c4daee,#c8dcf0,#d0e1f2,#d9e8f5,#e5eff9,#eef5fc,#eff6fc,#f1f7fd,#f2f7fd,#f2f8fd,#f2f8fd,#f3f8fe,#f3f8fe,#f3f8fe,#f3f8fe,#f3f8fe)"></i>
<i style="background:linear-gradient(90deg,#f5f9fe,#f5f9fe,#f5f9fe,#f5f9fe,#f4f9fe,#f4f9fe,#f4f9fe,#f4f9fe,#f4f9fe,#f4f9fe,#f3f8fe,#f3f8fe,#f2f8fd,#f2f8fd,#f2f7fd,#f2f7fd,#f2f7fd,#f2f7fd,#f2f7fd,#f0f6fd,#eef5fc,#ecf4fb,#eaf2fb,#dfebf7,#cee0f2,#b5d4e9,#99c7e0,#81badb,#6aaed6,#4d99ca,#3888c1,#3585bf,#3383be,#3383be,#3383be,#3787c0,#3e8ec4,#4a98c9,#57a0ce,#60a7d2,#6aaed6,#8dc1dd,#add0e6,#b8d5ea,#bfd8ed,#c4daee,#c8dcf0,#d0e1f2,#d9e8f5,#e5eff9,#eef5fc,#eff6fc,#f1f7fd,#f2f7fd,#f2f8fd,#f2f8fd,#f3f8fe,#f3f8fe,#f3f8fe,#f3f8fe,#f3f8fe)"></i>
<i style="background:linear-gradient(90deg,#f5f9fe,#f5f9fe,#f5f9fe,#f5f9fe,#f4f9fe,#f4f9fe,#f4f9fe,#f4f9fe,#f4f9fe,#f4f9fe,#f3f8fe,#f3f8fe,#f2f8fd,#f2f8fd,#f2f7fd,#f2f7fd,#f2f7fd,#f2f7fd,#f2f7fd,#f0f6fd,#eef5fc,#ecf4fb,#eaf3fb,#dfecf7,#cee0f2,#b7d4ea,#99c7e0,#82bbdb,#6aaed6,#4d99ca,#3888c1,#3585bf,#3383be,#3383be,#3383be,#3686c0,#3d8dc4,#4a98c9,#57a0ce,#60a7d2,#6aaed6,#8dc1dd,#add0e6,#b8d5ea,#bfd8ed,#c4daee,#c8dcf0,#d0e1f2,#d9e8f5,#e5eff9,#eef5fc,#eff6fc,#f1f7fd,#f2f7fd,#f2f8fd,#f2f8fd,#f3f8fe,#f3f8fe,#f3f8fe,#f3f8fe,#f3f8fe)"></i>
<i style="background:linear-gradient(90deg,#f5f9fe,#f5f9fe,#f5f9fe,#f5f9fe,#f4f9fe,#f4f9fe,#f4f9fe,#f4f9fe,#f4f9fe,#f4f9fe,#f3f8fe,#f3f8fe,#f2f8fd,#f2f8fd,#f2f7fd,#f2f7fd,#f2f7fd,#f2f7fd,#f2f7fd,#f0f6fd,#eef5fc,#edf4fc,#ecf4fb,#e0ecf8,#cfe1f2,#b7d4ea,#9ac8e0,#82bbdb,#6aaed6,#4b98ca,#3888c1,#3484bf,#3383be,#3383be,#3383be,#3686c0,#3d8dc4,#4997c9,#56a0ce,#5fa6d1,#6aaed6,#8dc1dd,#add0e6,#b8d5ea,#bfd8ed,#c4daee,#c8dcf0,#d0e1f2,#d9e8f5,#e5eff9,#eef5fc,#eff6fc,#f1f7fd,#f2f7fd,#f2f8fd,#f2f8fd,#f3f8fe,#f3f8fe,#f3f8fe,#f3f8fe,#f3f8fe)"></i>
<i style="background:linear-gradient(90deg,#f5f9fe,#f5f9fe,#f5f9fe,#f5f9fe,#f4f9fe,#f4f9fe,#f4f9fe,#f4f9fe,#f4f9fe,#f4f9fe,#f3f8fe,#f3f8fe,#f2f8fd,#f2f8fd,#f2f7fd,#f2f7fd,#f2f7fd,#f2f7fd,#f2f7fd,#eff6fc,#eef5fc,#edf4fc,#edf4fc,#e2edf8,#cfe1f2,#b7d4ea,#9ac8e0,#81badb,#69add5,#4a98c9,#3787c0,#3484bf,#3282be,#3282be,#3282be,#3585bf,#3c8cc3,#4997c9,#56a0ce,#5fa6d1,#69add5,#8dc1dd,#add0e6,#b8d5ea,#bfd8ed,#c4daee,#c8dcf0,#d0e1f2,#d9e8f5,#e5eff9,#eef5fc,#eff6fc,#f1f7fd,#f2f7fd,#f2f8fd,#f2f8fd,#f3f8fe,#f3f8fe,#f3f8fe,#f3f8fe,#f3f8fe)"></i>
<i style="background:linear-gradient(90deg,#f5f9fe,#f5f9fe,#f5f9fe,#f5f9fe,#f4f9fe,#f4f9fe,#f4f9fe,#f4f9fe,#f4f9fe,#f4f9fe,#f3f8fe,#f3f8fe,#f2f8fd,#f2f8fd,#f2f7fd,#f2f7fd,#f2f7fd,#f2f7fd,#f2f7fd,#eff6fc,#eef5fc,#eef5fc,#eef5fc,#e3eef8,#d0e1f2,#b8d5ea,#9ac8e0,#81badb,#69add5,#4a98c9,#3686c0,#3383be,#3181bd,#3181bd,#3181bd,#3585bf,#3c8cc3,#4896c8,#549fcd,#5da5d1,#69add5,#8dc1dd,#add0e6,#b8d5ea,#bfd8ed,#c4daee,#c8dcf0,#d0e1f2,#d9e8f5,#e5eff9,#eef5fc,#eff6fc,#f1f7fd,#f2f7fd,#f2f8fd,#f2f8fd,#f3f8fe,#f3f8fe,#f3f8fe,#f3f8fe,#f3f8fe)"></i>
<i style="background:linear-gradient(90deg,#f5f9fe,#f5f9fe,#f5f9fe,#f5f9fe,#f4f9fe,#f4f9fe,#f4f9fe,#f4f9fe,#f4f9fe,#f4f9fe,#f3f8fe,#f3f8fe,#f2f8fd,#f2f8fd,#f2f7fd,#f2f7fd,#f2f7fd,#f2f7fd,#f2f7fd,#eff6fc,#eef5fc,#eef5fc,#eef5fc,#e3eef8,#d0e1f2,#b8d5ea,#9cc9e1,#81badb,#68acd5,#4997c9,#3686c0,#3282be,#3181bd,#3181bd,#3181bd,#3484bf,#3b8bc2,#4695c8,#539ecd,#5da5d1,#69add5,#8cc0dd,#add0e6,#b8d5ea,#bfd8ed,#c4daee,#c8dcf0,#d0e1f2,#d9e8f5,#e5eff9,#eef5fc,#eff6fc,#f1f7fd,#f2f7fd,#f2f8fd,#f2f8fd,#f3f8fe,#f3f8fe,#f3f8fe,#f3f8fe,#f3f8fe)"></i>
<i style="background:linear-gradient(90deg,#f5f9fe,#f5f9fe,#f5f9fe,#f5f9fe,#f4f9fe,#f4f9fe,#f4f9fe,#f4f9fe,#f4f9fe,#f4f9fe,#f3f8fe,#f3f8fe,#f2f8fd,#f2f8fd,#f2f7fd,#f2f7fd,#f2f7fd,#f2f7fd,#f2f7fd,#eff6fc,#eef5fc,#eef5fc,#eff6fc,#e3eef9,#d0e1f2,#b9d6ea,#9cc9e1,#81badb,#66abd4,#4896c8,#3585bf,#3181bd,#3080bd,#3080bd,#3080bd,#3383be,#3a8ac2,#4594c7,#529dcc,#5ca4d0,#68acd5,#8cc0dd,#add0e6,#b8d5ea,#bfd8ed,#c4daee,#c8dcf0,#d0e1f2,#d9e8f5,#e5eff9,#eef5fc,#eff6fc,#f1f7fd,#f2f7fd,#f2f8fd,#f2f8fd,#f3f8fe,#f3f8fe,#f3f8fe,#f3f8fe,#f3f8fe)"></i>
<i style="background:linear-gradient(90deg,#f5f9fe,#f5f9fe,#f5f9fe,#f5f9fe,#f4f9fe,#f4f9fe,#f4f9fe,#f4f9fe,#f4f9fe,#f4f9fe,#f3f8fe,#f3f8fe,#f2f8fd,#f2f8fd,#f2f7fd,#f2f7fd,#f2f7fd,#f2f7fd,#f2f7fd,#eff6fc,#eef5fc,#eef5fc,#eff6fc,#e3eef9,#d0e1f2,#b9d6ea,#9cc9e1,#7fb9da,#65aad4,#4695c8,#3484bf,#3080bd,#2f7fbc,#2f7fbc,#2f7fbc,#3282be,#3989c1,#4493c7,#529dcc,#5ca4d0,#68acd5,#8cc0dd,#add0e6,#b8d5ea,#bfd8ed,#c4daee,#c8dcf0,#d0e1f2,#d9e8f5,#e5eff9,#eef5fc,#eff6fc,#f1f7fd,#f2f7fd,#f2f8fd,#f2f8fd,#f3f8fe,#f3f8fe,#f3f8fe,#f3f8fe,#f3f8fe)"></i>
<i style="background:linear-gradient(90deg,#f5f9fe,#f5f9fe,#f5f9fe,#f5f9fe,#f4f9fe,#f4f9fe,#f4f9fe,#f4f9fe,#f4f9fe,#f4f9fe,#f3f8fe,#f3f8fe,#f2f8fd,#f2f8fd,#f2f7fd,#f2f7fd,#f2f7fd,#f2f7fd,#f2f7fd,#eff6fc,#eef5fc,#eef5fc,#eff6fc,#e3eef9,#d0e1f2,#b9d6ea,#9cc9e1,#7fb9da,#64a9d3,#4594c7,#3383be,#2f7fbc,#2e7ebc,#2e7ebc,#2e7ebc,#3181bd,#3888c1,#4493c7,#519ccc,#5ba3d0,#68acd5,#8cc0dd,#add0e6,#b8d5ea,#bfd8ed,#c4daee,#c8dcf0,#d0e1f2,#d9e8f5,#e5eff9,#eef5fc,#eff6fc,#f1f7fd,#f2f7fd,#f2f8fd,#f2f8fd,#f3f8fe,#f3f8fe,#f3f8fe,#f3f8fe,#f3f8fe)"></i>
<i style="background:linear-gradient(90deg,#f5f9fe,#f5f9fe,#f5f9fe,#f5f9fe,#f4f9fe,#f4f9fe,#f4f9fe,#f4f9fe,#f4f9fe,#f4f9fe,#f3f8fe,#f3f8fe,#f2f8fd,#f2f8fd,#f2f7fd,#f2f7fd,#f2f7fd,#f2f7fd,#f2f7fd,#eff6fc,#eef5fc,#eef5fc,#eff6fc,#e3eef9,#d0e1f2,#b8d5ea,#9ac8e0,#7cb7da,#61a7d2,#4493c7,#3282be,#2e7ebc,#2d7dbb,#2d7dbb,#2d7dbb,#3080bd,#3787c0,#4292c6,#4f9bcb,#5aa2cf,#68acd5,#8dc1dd,#add0e6,#b8d5ea,#bfd8ed,#c4daee,#c8dcf0,#d0e1f2,#d9e8f5,#e5eff9,#eef5fc,#eff6fc,#f1f7fd,#f2f7fd,#f2f8fd,#f2f8fd,#f3f8fe,#f3f8fe,#f3f8fe,#f3f8fe,#f3f8fe)"></i>
<i style="background:linear-gradient(90deg,#f5f9fe,#f5f9fe,#f5f9fe,#f5f9fe,#f4f9fe,#f4f9fe,#f4f9fe,#f4f9fe,#f4f9fe,#f4f9fe,#f3f8fe,#f3f8fe,#f2f8fd,#f2f8fd,#f2f7fd,#f2f7fd,#f2f7fd,#f2f7fd,#f2f7fd,#eff6fc,#eef5fc,#eef5fc,#eef5fc,#e3eef8,#cfe1f2,#b5d4e9,#97c6df,#79b5d9,#5fa6d1,#4191c6,#3181bd,#2d7dbb,#2c7cba,#2c7cba,#2c7cba,#2f7fbc,#3787c0,#4191c6,#4d99ca,#5aa2cf,#68acd5,#8dc1dd,#add0e6,#b8d5ea,#bfd8ed,#c4daee,#c8dcf0,#d0e1f2,#d9e8f5,#e5eff9,#eef5fc,#eff6fc,#f1f7fd,#f2f7fd,#f2f8fd,#f2f8fd,#f3f8fe,#f3f8fe,#f3f8fe,#f3f8fe,#f3f8fe)"></i>
<i style="background:linear-gradient(90deg,#f5f9fe,#f5f9fe,#f5f9fe,#f5f9fe,#f4f9fe,#f4f9fe,#f4f9fe,#f4f9fe,#f4f9fe,#f4f9fe,#f3f8fe,#f3f8fe,#f2f8fd,#f2f8fd,#f2f7fd,#f2f7fd,#f2f7fd,#f2f7fd,#f2f7fd,#f0f6fd,#eef5fc,#eef5fc,#eef5fc,#e2edf8,#cee0f2,#b3d3e8,#92c4de,#72b2d8,#5aa2cf,#3f8fc5,#3080bd,#2c7cba,#2a7ab9,#2a7ab9,#2a7ab9,#2e7ebc,#3585bf,#3f8fc5,#4b98ca,#58a1cf,#68acd5,#8dc1dd,#add0e6,#b8d5ea,#bfd8ed,#c4daee,#c8dcf0,#d0e1f2,#d9e8f5,#e5eff9,#eef5fc,#eff6fc,#f1f7fd,#f2f7fd,#f2f8fd,#f2f8fd,#f3f8fe,#f3f8fe,#f3f8fe,#f3f8fe,#f3f8fe)"></i>
<i style="background:linear-gradient(90deg,#f5f9fe,#f5f9fe,#f5f9fe,#f5f9fe,#f4f9fe,#f4f9fe,#f4f9fe,#f4f9fe,#f4f9fe,#f4f9fe,#f3f8fe,#f3f8fe,#f2f8fd,#f2f8fd,#f2f7fd,#f2f7fd,#f2f7fd,#f2f7fd,#f2f7fd,#f0f6fd,#eef5fc,#eef5fc,#edf4fc,#e0ecf8,#cddff1,#b0d2e7,#8cc0dd,#6caed6,#56a0ce,#3d8dc4,#2f7fbc,#2a7ab9,#2777b8,#2777b8,#2777b8,#2d7dbb,#3484bf,#3e8ec4,#4997c9,#57a0ce,#69add5,#8dc1dd,#add0e6,#b8d5ea,#bfd8ed,#c4daee,#c8dcf0,#d0e1f2,#d9e8f5,#e5eff9,#eef5fc,#eff6fc,#f1f7fd,#f2f7fd,#f2f8fd,#f2f8fd,#f3f8fe,#f3f8fe,#f3f8fe,#f3f8fe,#f3f8fe)"></i>
<i style="background:linear-gradient(90deg,#f5f9fe,#f5f9fe,#f5f9fe,#f5f9fe,#f4f9fe,#f4f9fe,#f4f9fe,#f4f9fe,#f4f9fe,#f4f9fe,#f3f8fe,#f3f8fe,#f2f8fd,#f2f8fd,#f2f7fd,#f2f7fd,#f2f7fd,#f2f7fd,#f2f7fd,#f0f6fd,#eef5fc,#eef5fc,#ecf4fb,#dfecf7,#cbdef1,#add0e6,#85bcdc,#66abd4,#519ccc,#3b8bc2,#2e7ebc,#2979b9,#2575b7,#2575b7,#2676b8,#2b7bba,#3383be,#3d8dc4,#4695c8,#56a0ce,#69add5,#8fc2de,#add0e6,#b8d5ea,#bfd8ed,#c4daee,#c8dcf0,#d0e1f2,#d9e8f5,#e5eff9,#eef5fc,#eff6fc,#f1f7fd,#f2f7fd,#f2f8fd,#f2f8fd,#f3f8fe,#f3f8fe,#f3f8fe,#f3f8fe,#f3f8fe)"></i>
<i style="background:linear-gradient(90deg,#f5f9fe,#f5f9fe,#f5f9fe,#f5f9fe,#f4f9fe,#f4f9fe,#f4f9fe,#f4f9fe,#f4f9fe,#f4f9fe,#f3f8fe,#f3f8fe,#f2f8fd,#f2f8fd,#f2f7fd,#f2f7fd,#f2f7fd,#f2f7fd,#f2f7fd,#f1f7fd,#eef5fc,#eef5fc,#eaf3fb,#deebf7,#cadef0,#a9cfe5,#81badb,#63a8d3,#4b98ca,#3989c1,#2d7dbb,#2676b8,#2373b6,#2373b6,#2373b6,#2979b9,#3282be,#3c8cc3,#4594c7,#56a0ce,#69add5,#8fc2de,#add0e6,#b8d5ea,#bfd8ed,#c4daee,#c8dcf0,#d0e1f2,#d9e8f5,#e5eff9,#eef5fc,#eff6fc,#f1f7fd,#f2f7fd,#f2f8fd,#f2f8fd,#f3f8fe,#f3f8fe,#f3f8fe,#f3f8fe,#f3f8fe)"></i>
<i style="background:linear-gradient(90deg,#f5f9fe,#f5f9fe,#f5f9fe,#f5f9fe,#f4f9fe,#f4f9fe,#f4f9fe,#f4f9fe,#f4f9fe,#f4f9fe,#f3f8fe,#f3f8fe,#f2f8fd,#f2f8fd,#f2f7fd,#f2f7fd,#f2f7fd,#f2f7fd,#f2f7fd,#f1f7fd,#eff6fc,#eef5fc,#eaf2fb,#ddeaf7,#c9ddf0,#a6cee4,#7cb7da,#5da5d1,#4896c8,#3686c0,#2b7bba,#2474b7,#2171b5,#2171b5,#2171b5,#2676b8,#3080bd,#3a8ac2,#4493c7,#549fcd,#6aaed6,#91c3de,#add0e6,#b8d5ea,#bfd8ed,#c4daee,#c8dcf0,#d0e1f2,#d9e8f5,#e5eff9,#eef5fc,#eff6fc,#f1f7fd,#f2f7fd,#f2f8fd,#f2f8fd,#f3f8fe,#f3f8fe,#f3f8fe,#f3f8fe,#f3f8fe)"></i>
<i style="background:linear-gradient(90deg,#f5f9fe,#f5f9fe,#f5f9fe,#f5f9fe,#f4f9fe,#f4f9fe,#f4f9fe,#f4f9fe,#f4f9fe,#f4f9fe,#f3f8fe,#f3f8fe,#f2f8fd,#f2f8fd,#f2f7fd,#f2f7fd,#f2f7fd,#f2f7fd,#f2f7fd,#f1f7fd,#eff6fc,#eef5fc,#eaf2fb,#dceaf6,#c8dcf0,#a4cce3,#79b5d9,#5aa2cf,#4493c7,#3484bf,#2a7ab9,#2272b6,#206fb4,#206fb4,#206fb4,#2474b7,#2f7fbc,#3989c1,#4493c7,#56a0ce,#6aaed6,#91c3de,#add0e6,#b8d5ea,#bfd8ed,#c4daee,#c8dcf0,#d0e1f2,#d9e8f5,#e5eff9,#eef5fc,#eff6fc,#f1f7fd,#f2f7fd,#f2f8fd,#f2f8fd,#f3f8fe,#f3f8fe,#f3f8fe,#f3f8fe,#f3f8fe)"></i>
<i style="background:linear-gradient(90deg,#f5f9fe,#f5f9fe,#f5f9fe,#f5f9fe,#f4f9fe,#f4f9fe,#f4f9fe,#f4f9fe,#f4f9fe,#f4f9fe,#f3f8fe,#f3f8fe,#f2f8fd,#f2f8fd,#f2f7fd,#f2f7fd,#f2f7fd,#f2f7fd,#f2f7fd,#f1f7fd,#f0f6fd,#eef5fc,#e9f2fa,#dce9f6,#c7dcef,#a3cce3,#75b4d8,#58a1cf,#4191c6,#3282be,#2676b8,#206fb4,#1c6bb0,#1c6bb0,#1c6bb0,#2171b5,#2d7dbb,#3787c0,#4493c7,#56a0ce,#6caed6,#91c3de,#add0e6,#b8d5ea,#bfd8ed,#c4daee,#c8dcf0,#d0e1f2,#d9e8f5,#e5eff9,#eef5fc,#eff6fc,#f1f7fd,#f2f7fd,#f2f8fd,#f2f8fd,#f3f8fe,#f3f8fe,#f3f8fe,#f3f8fe,#f3f8fe)"></i>
<i style="background:linear-gradient(90deg,#f5f9fe,#f5f9fe,#f5f9fe,#f5f9fe,#f4f9fe,#f4f9fe,#f4f9fe,#f4f9fe,#f4f9fe,#f4f9fe,#f3f8fe,#f3f8fe,#f2f8fd,#f2f8fd,#f2f7fd,#f2f7fd,#f2f7fd,#f2f7fd,#f2f7fd,#f1f7fd,#f0f6fd,#eef5fc,#e9f2fa,#dbe9f6,#c7dcef,#a3cce3,#74b3d8,#56a0ce,#3f8fc5,#3080bd,#2373b6,#1c6bb0,#1967ad,#1967ad,#1967ad,#1e6db2,#2a7ab9,#3686c0,#4493c7,#57a0ce,#6dafd7,#92c4de,#add0e6,#b8d5ea,#c1d9ed,#c4daee,#c8dcf0,#d0e1f2,#dae8f6,#e5eff9,#eef5fc,#eff6fc,#f1f7fd,#f2f7fd,#f2f8fd,#f2f8fd,#f3f8fe,#f3f8fe,#f3f8fe,#f3f8fe,#f3f8fe)"></i>
<i style="background:linear-gradient(90deg,#f5f9fe,#f5f9fe,#f5f9fe,#f5f9fe,#f4f9fe,#f4f9fe,#f4f9fe,#f4f9fe,#f4f9fe,#f4f9fe,#f3f8fe,#f3f8fe,#f2f8fd,#f2f8fd,#f2f7fd,#f2f7fd,#f2f7fd,#f2f7fd,#f2f7fd,#f1f7fd,#f0f6fd,#eef5fc,#e8f1fa,#dbe9f6,#c7dbef,#a1cbe2,#72b2d8,#549fcd,#3d8dc4,#2d7dbb,#206fb4,#1966ad,#1562a9,#1561a9,#1561a9,#1a68ae,#2575b7,#3484bf,#4493c7,#58a1cf,#6fb0d7,#92c4de,#add0e6,#b8d5ea,#c1d9ed,#c6dbef,#c9ddf0,#d0e2f2,#dae8f6,#e6f0f9,#eef5fc,#eff6fc,#f1f7fd,#f2f7fd,#f2f8fd,#f2f8fd,#f3f8fe,#f3f8fe,#f3f8fe,#f3f8fe,#f3f8fe)"></i>
<i style="background:linear-gradient(90deg,#f5f9fe,#f5f9fe,#f5f9fe,#f5f9fe,#f4f9fe,#f4f9fe,#f4f9fe,#f4f9fe,#f4f9fe,#f4f9fe,#f3f8fe,#f3f8fe,#f2f8fd,#f2f8fd,#f2f7fd,#f2f7fd,#f2f7fd,#f2f7fd,#f2f7fd,#f2f7fd,#f1f7fd,#eef5fc,#e8f1fa,#dae8f6,#c6dbef,#a0cbe2,#71b1d7,#529dcc,#3b8bc2,#2a7ab9,#1c6bb0,#1561a9,#115ca5,#105ba4,#0f5aa3,#1663aa,#2272b6,#3282be,#4493c7,#5aa2cf,#71b1d7,#94c4df,#add0e6,#b8d5ea,#c1d9ed,#c6dbef,#caddf0,#d1e2f3,#dbe9f6,#e6f0f9,#eef5fc,#eff6fc,#f1f7fd,#f2f7fd,#f2f8fd,#f2f8fd,#f3f8fe,#f3f8fe,#f3f8fe,#f3f8fe,#f3f8fe)"></i>
<i style="background:linear-gradient(90deg,#f5f9fe,#f5f9fe,#f5f9fe,#f5f9fe,#f4f9fe,#f4f9fe,#f4f9fe,#f4f9fe,#f4f9fe,#f4f9fe,#f3f8fe,#f3f8fe,#f2f8fd,#f2f8fd,#f2f7fd,#f2f7fd,#f2f7fd,#f2f7fd,#f2f7fd,#f2f7fd,#f1f7fd,#eef5fc,#e8f1fa,#d9e8f5,#c6dbef,#9fcae1,#6fb0d7,#519ccc,#3989c1,#2676b8,#1967ad,#115ca5,#0c56a0,#0a549e,#0a549e,#125da6,#1f6eb3,#3080bd,#4493c7,#5ba3d0,#74b3d8,#95c5df,#add0e6,#b9d6ea,#c1d9ed,#c7dbef,#caddf0,#d2e3f3,#dce9f6,#e6f0f9,#eef5fc,#eff6fc,#f1f7fd,#f2f7fd,#f2f8fd,#f2f8fd,#f3f8fe,#f3f8fe,#f3f8fe,#f3f8fe,#f3f8fe)"></i>
<i style="background:linear-gradient(90deg,#f5f9fe,#f5f9fe,#f5f9fe,#f5f9fe,#f4f9fe,#f4f9fe,#f4f9fe,#f4f9fe,#f4f9fe,#f4f9fe,#f3f8fe,#f3f8fe,#f2f8fd,#f2f8fd,#f2f7fd,#f2f7fd,#f2f7fd,#f2f7fd,#f2f7fd,#f2f7fd,#f1f7fd,#eef5fc,#e7f1fa,#d9e8f5,#c4daee,#9fcae1,#6dafd7,#4f9bcb,#3888c1,#2373b6,#1562a9,#0d57a1,#08509b,#084e98,#084d96,#0e58a2,#1c6ab0,#2f7fbc,#4493c7,#5ca4d0,#75b4d8,#95c5df,#add0e6,#b9d6ea,#c2d9ee,#c7dbef,#cadef0,#d3e3f3,#dce9f6,#e7f0fa,#eef5fc,#eff6fc,#f1f7fd,#f2f7fd,#f2f8fd,#f2f8fd,#f3f8fe,#f3f8fe,#f3f8fe,#f3f8fe,#f3f8fe)"></i>
<i style="background:linear-gradient(90deg,#f5f9fe,#f5f9fe,#f5f9fe,#f5f9fe,#f4f9fe,#f4f9fe,#f4f9fe,#f4f9fe,#f4f9fe,#f4f9fe,#f3f8fe,#f3f8fe,#f2f8fd,#f2f8fd,#f2f7fd,#f2f7fd,#f2f7fd,#f2f7fd,#f2f7fd,#f2f7fd,#f2f7fd,#eef5fc,#e7f1fa,#d9e8f5,#c4daee,#9dcae1,#6dafd7,#4e9acb,#3686c0,#2070b4,#125ea6,#09529d,#084b93,#084990,#08488e,#0a539e,#1967ad,#2d7dbb,#4493c7,#5da5d1,#77b5d9,#97c6df,#add0e6,#b9d6ea,#c2d9ee,#c7dcef,#cbdef1,#d3e3f3,#dceaf6,#e7f0fa,#eef5fc,#eff6fc,#f1f7fd,#f2f7fd,#f2f8fd,#f2f8fd,#f3f8fe,#f3f8fe,#f3f8fe,#f3f8fe,#f3f8fe)"></i>
<i style="background:linear-gradient(90deg,#f5f9fe,#f5f9fe,#f5f9fe,#f5f9fe,#f4f9fe,#f4f9fe,#f4f9fe,#f4f9fe,#f4f9fe,#f4f9fe,#f3f8fe,#f3f8fe,#f2f8fd,#f2f8fd,#f2f7fd,#f2f7fd,#f2f7fd,#f2f7fd,#f2f7fd,#f2f7fd,#f2f7fd,#eef5fc,#e7f1fa,#d9e7f5,#c3daee,#9dcae1,#6caed6,#4d99ca,#3585bf,#1e6db2,#105ba4,#084e98,#08478d,#08458a,#084488,#08509b,#1865ac,#2c7cba,#4493c7,#5fa6d1,#7ab6d9,#99c7e0,#add0e6,#b9d6ea,#c3daee,#c7dcef,#ccdff1,#d3e4f3,#ddeaf7,#e7f0fa,#eef5fc,#eff6fc,#f1f7fd,#f2f7fd,#f2f8fd,#f2f8fd,#f3f8fe,#f3f8fe,#f3f8fe,#f3f8fe,#f3f8fe)"></i>
<i style="background:linear-gradient(90deg,#f5f9fe,#f5f9fe,#f5f9fe,#f5f9fe,#f4f9fe,#f4f9fe,#f4f9fe,#f4f9fe,#f4f9fe,#f4f9fe,#f3f8fe,#f3f8fe,#f2f8fd,#f2f8fd,#f2f7fd,#f2f7fd,#f2f7fd,#f2f7fd,#f2f7fd,#f2f7fd,#f2f7fd,#eef5fc,#e7f1fa,#d9e7f5,#c3daee,#9cc9e1,#6aaed6,#4b98ca,#3383be,#1d6cb1,#0e59a2,#084c95,#08458a,#084387,#084285,#084e98,#1663aa,#2c7cba,#4493c7,#5fa6d1,#7cb7da,#99c7e0,#add0e6,#b9d6ea,#c3daee,#c8dcf0,#ccdff1,#d4e4f4,#ddeaf7,#e7f1fa,#eef5fc,#eff6fc,#f1f7fd,#f2f7fd,#f2f8fd,#f2f8fd,#f3f8fe,#f3f8fe,#f3f8fe,#f3f8fe,#f3f8fe)"></i>
<i style="background:linear-gradient(90deg,#f5f9fe,#f5f9fe,#f5f9fe,#f5f9fe,#f4f9fe,#f4f9fe,#f4f9fe,#f4f9fe,#f4f9fe,#f4f9fe,#f3f8fe,#f3f8fe,#f2f8fd,#f2f8fd,#f2f7fd,#f2f7fd,#f2f7fd,#f2f7fd,#f2f7fd,#f2f7fd,#f2f7fd,#eef5fc,#e7f1fa,#d9e7f5,#c2d9ee,#9cc9e1,#6aaed6,#4a98c9,#3282be,#1c6ab0,#0d57a1,#084a91,#084387,#084184,#084184,#084d96,#1663aa,#2b7bba,#4493c7,#60a7d2,#7db8da,#9ac8e0,#add0e6,#bad6eb,#c4daee,#c9ddf0,#cddff1,#d4e4f4,#deebf7,#e7f1fa,#eef5fc,#eff6fc,#f1f7fd,#f2f7fd,#f2f8fd,#f2f8fd,#f3f8fe,#f3f8fe,#f3f8fe,#f3f8fe,#f3f8fe)"></i>
<i style="background:linear-gradient(90deg,#f5f9fe,#f5f9fe,#f5f9fe,#f5f9fe,#f4f9fe,#f4f9fe,#f4f9fe,#f4f9fe,#f4f9fe,#f4f9fe,#f3f8fe,#f3f8fe,#f2f8fd,#f2f8fd,#f2f7fd,#f2f7fd,#f2f7fd,#f2f7fd,#f2f7fd,#f2f7fd,#f2f7fd,#eef5fc,#e7f1fa,#d9e7f5,#c2d9ee,#9ac8e0,#69add5,#4997c9,#3080bd,#1b69af,#0c56a0,#084990,#084285,#084082,#084082,#084c95,#1562a9,#2b7bba,#4493c7,#61a7d2,#7fb9da,#9cc9e1,#aed1e7,#bcd7eb,#c6dbef,#caddf0,#cde0f1,#d5e5f4,#deebf7,#e7f1fa,#eef5fc,#eff6fc,#f1f7fd,#f2f7fd,#f2f8fd,#f2f8fd,#f3f8fe,#f3f8fe,#f3f8fe,#f3f8fe,#f3f8fe)"></i>
<i style="background:linear-gradient(90deg,#f5f9fe,#f5f9fe,#f5f9fe,#f5f9fe,#f4f9fe,#f4f9fe,#f4f9fe,#f4f9fe,#f4f9fe,#f4f9fe,#f3f8fe,#f3f8fe,#f2f8fd,#f2f8fd,#f2f7fd,#f2f7fd,#f2f7fd,#f2f7fd,#f2f7fd,#f2f7fd,#f2f7fd,#eef5fc,#e7f1fa,#d9e7f5,#c2d9ee,#99c7e0,#68acd5,#4896c8,#2f7fbc,#1967ad,#0b559f,#08488e,#084082,#083e81,#083e81,#084b93,#1561a9,#2b7bba,#4493c7,#61a7d2,#82bbdb,#9dcae1,#afd1e7,#bdd7ec,#c7dbef,#cadef0,#cde0f1,#d5e5f4,#deebf7,#e7f1fa,#eef5fc,#eff6fc,#f1f7fd,#f2f7fd,#f2f8fd,#f2f8fd,#f3f8fe,#f3f8fe,#f3f8fe,#f3f8fe,#f3f8fe)"></i>
<i style="background:linear-gradient(90deg,#f5f9fe,#f5f9fe,#f5f9fe,#f5f9fe,#f4f9fe,#f4f9fe,#f4f9fe,#f4f9fe,#f4f9fe,#f4f9fe,#f3f8fe,#f3f8fe,#f2f8fd,#f2f8fd,#f2f7fd,#f2f7fd,#f2f7fd,#f2f7fd,#f2f7fd,#f2f7fd,#f2f7fd,#eef5fc,#e7f1fa,#d8e7f5,#c1d9ed,#99c7e0,#66abd4,#4695c8,#2e7ebc,#1966ad,#0a549e,#08468b,#083e81,#083e81,#083d7f,#084a91,#1561a9,#2a7ab9,#4493c7,#63a8d3,#84bcdb,#9fcae1,#b0d2e7,#bed8ec,#c7dcef,#cbdef1,#cee0f2,#d6e5f4,#deebf7,#e7f1fa,#eef5fc,#eff6fc,#f1f7fd,#f2f7fd,#f2f8fd,#f2f8fd,#f3f8fe,#f3f8fe,#f3f8fe,#f3f8fe,#f3f8fe)"></i>
<i style="background:linear-gradient(90deg,#f5f9fe,#f5f9fe,#f5f9fe,#f5f9fe,#f4f9fe,#f4f9fe,#f4f9fe,#f4f9fe,#f4f9fe,#f4f9fe,#f3f8fe,#f3f8fe,#f2f8fd,#f2f8fd,#f2f7fd,#f2f7fd,#f2f7fd,#f2f7fd,#f2f7fd,#f2f7fd,#f2f7fd,#eef5fc,#e7f1fa,#d8e7f5,#c1d9ed,#97c6df,#66abd4,#4594c7,#2c7cba,#1865ac,#0a539e,#08458a,#083d7f,#083d7f,#083d7f,#084a91,#1460a8,#2a7ab9,#4493c7,#64a9d3,#85bcdc,#a0cbe2,#b2d2e8,#bfd8ed,#c9ddf0,#ccdff1,#cfe1f2,#d6e5f4,#dfebf7,#e7f1fa,#eef5fc,#eff6fc,#f1f7fd,#f2f7fd,#f2f8fd,#f2f8fd,#f3f8fe,#f3f8fe,#f3f8fe,#f3f8fe,#f3f8fe)"></i>
<i style="background:linear-gradient(90deg,#f5f9fe,#f5f9fe,#f5f9fe,#f5f9fe,#f4f9fe,#f4f9fe,#f4f9fe,#f4f9fe,#f4f9fe,#f4f9fe,#f3f8fe,#f3f8fe,#f2f8fd,#f2f8fd,#f2f7fd,#f2f7fd,#f2f7fd,#f2f7fd,#f2f7fd,#f2f7fd,#f2f7fd,#eef5fc,#e7f1fa,#d8e7f5,#c1d9ed,#97c6df,#65aad4,#4493c7,#2b7bba,#1764ab,#09529d,#084488,#083c7d,#083c7d,#083c7d,#084990,#1460a8,#2a7ab9,#4493c7,#64a9d3,#87bddc,#a1cbe2,#b3d3e8,#c2d9ee,#caddf0,#cddff1,#d0e1f2,#d6e6f4,#dfebf7,#e7f1fa,#eef5fc,#eff6fc,#f1f7fd,#f2f7fd,#f2f8fd,#f2f8fd,#f3f8fe,#f3f8fe,#f3f8fe,#f3f8fe,#f3f8fe)"></i>
<i style="background:linear-gradient(90deg,#f5f9fe,#f5f9fe,#f5f9fe,#f5f9fe,#f4f9fe,#f4f9fe,#f4f9fe,#f4f9fe,#f4f9fe,#f4f9fe,#f3f8fe,#f3f8fe,#f2f8fd,#f2f8fd,#f2f7fd,#f2f7fd,#f2f7fd,#f2f7fd,#f2f7fd,#f2f7fd,#f2f7fd,#eef5fc,#e7f1fa,#d8e7f5,#bfd8ed,#97c6df,#65aad4,#4292c6,#2a7ab9,#1663aa,#08519c,#084387,#083b7c,#083b7c,#083b7c,#08488e,#135fa7,#2a7ab9,#4493c7,#65aad4,#89bedc,#a4cce3,#b4d3e9,#c3daee,#cbdef1,#cde0f1,#d0e2f2,#d7e6f5,#dfebf7,#e7f1fa,#eef5fc,#eff6fc,#f1f7fd,#f2f7fd,#f2f8fd,#f2f8fd,#f3f8fe,#f3f8fe,#f3f8fe,#f3f8fe,#f3f8fe)"></i>
<i style="background:linear-gradient(90deg,#f5f9fe,#f5f9fe,#f5f9fe,#f5f9fe,#f4f9fe,#f4f9fe,#f4f9fe,#f4f9fe,#f4f9fe,#f4f9fe,#f3f8fe,#f3f8fe,#f2f8fd,#f2f8fd,#f2f7fd,#f2f7fd,#f2f7fd,#f2f7fd,#f2f7fd,#f2f7fd,#f2f7fd,#eef5fc,#e7f1fa,#d8e7f5,#bfd8ed,#97c6df,#64a9d3,#4191c6,#2979b9,#1562a9,#08509b,#084285,#083a7a,#083a7a,#083a7a,#08488e,#135fa7,#2979b9,#4493c7,#66abd4,#8cc0dd,#a5cde3,#b5d4e9,#c4daee,#ccdff1,#cfe1f2,#d1e2f3,#d8e7f5,#dfecf7,#e7f1fa,#eef5fc,#eff6fc,#f1f7fd,#f2f7fd,#f2f8fd,#f2f8fd,#f3f8fe,#f3f8fe,#f3f8fe,#f3f8fe,#f3f8fe)"></i>
<i style="background:linear-gradient(90deg,#f5f9fe,#f5f9fe,#f5f9fe,#f5f9fe,#f4f9fe,#f4f9fe,#f4f9fe,#f4f9fe,#f4f9fe,#f4f9fe,#f3f8fe,#f3f8fe,#f2f8fd,#f2f8fd,#f2f7fd,#f2f7fd,#f2f7fd,#f2f7fd,#f2f7fd,#f2f7fd,#f2f7fd,#eef5fc,#e7f1fa,#d8e7f5,#bfd8ed,#97c6df,#64a9d3,#4191c6,#2979b9,#1561a9,#084e98,#084082,#083877,#083877,#083979,#08468b,#125ea6,#2979b9,#4493c7,#66abd4,#8dc1dd,#a6cee4,#b7d4ea,#c6dbef,#cddff1,#d0e1f2,#d3e4f3,#d9e8f5,#e0ecf8,#e8f1fa,#eef5fc,#eff6fc,#f1f7fd,#f2f7fd,#f2f8fd,#f2f8fd,#f3f8fe,#f3f8fe,#f3f8fe,#f3f8fe,#f3f8fe)"></i>
<i style="background:linear-gradient(90deg,#f5f9fe,#f5f9fe,#f5f9fe,#f5f9fe,#f4f9fe,#f4f9fe,#f4f9fe,#f4f9fe,#f4f9fe,#f4f9fe,#f3f8fe,#f3f8fe,#f2f8fd,#f2f8fd,#f2f7fd,#f2f7fd,#f2f7fd,#f1f7fd,#f1f7fd,#f1f7fd,#f1f7fd,#eef5fc,#e7f1fa,#d8e7f5,#bfd8ed,#97c6df,#64a9d3,#4191c6,#2777b8,#135fa7,#084d96,#083d7f,#083674,#083674,#083674,#08458a,#125da6,#2979b9,#4493c7,#68acd5,#8fc2de,#a8cee4,#b9d6ea,#c7dbef,#cde0f1,#d2e3f3,#d6e6f4,#dceaf6,#e3eef8,#e9f2fa,#eef5fc,#eff6fc,#f0f6fd,#f2f7fd,#f2f8fd,#f2f8fd,#f3f8fe,#f3f8fe,#f3f8fe,#f3f8fe,#f3f8fe)"></i>
<i style="background:linear-gradient(90deg,#f5f9fe,#f5f9fe,#f5f9fe,#f5f9fe,#f4f9fe,#f4f9fe,#f4f9fe,#f4f9fe,#f4f9fe,#f4f9fe,#f3f8fe,#f3f8fe,#f3f8fe,#f2f8fd,#f2f7fd,#f2f7fd,#f1f7fd,#f1f7fd,#f0f6fd,#f0f6fd,#f0f6fd,#eef5fc,#e7f1fa,#d8e7f5,#bfd8ed,#97c6df,#64a9d3,#4090c5,#2676b8,#125ea6,#084b93,#083b7c,#083471,#083471,#083471,#084387,#125da6,#2777b8,#4493c7,#69add5,#91c3de,#a9cfe5,#bad6eb,#c7dcef,#cee0f2,#d4e4f4,#dae8f6,#dfecf7,#e5eff9,#eaf2fb,#eef5fc,#eff6fc,#f0f6fd,#f2f7fd,#f2f8fd,#f2f8fd,#f3f8fe,#f3f8fe,#f3f8fe,#f3f8fe,#f3f8fe)"></i>
<i style="background:linear-gradient(90deg,#f5f9fe,#f5f9fe,#f5f9fe,#f5f9fe,#f4f9fe,#f4f9fe,#f4f9fe,#f4f9fe,#f4f9fe,#f4f9fe,#f3f8fe,#f3f8fe,#f3f8fe,#f2f8fd,#f2f7fd,#f2f7fd,#f1f7fd,#f0f6fd,#f0f6fd,#f0f6fd,#f0f6fd,#edf4fc,#e7f1fa,#d8e7f5,#bfd8ed,#97c6df,#64a9d3,#4090c5,#2676b8,#125ea6,#084a91,#083a7a,#08326e,#08326e,#08326e,#084285,#115ca5,#2777b8,#4493c7,#69add5,#92c4de,#abd0e6,#bcd7eb,#c8dcf0,#d0e1f2,#d6e6f4,#dceaf6,#e3eef8,#e7f1fa,#eaf3fb,#eef5fc,#eff6fc,#f0f6fd,#f2f7fd,#f2f7fd,#f2f8fd,#f3f8fe,#f3f8fe,#f3f8fe,#f3f8fe,#f3f8fe)"></i>
<i style="background:linear-gradient(90deg,#f5f9fe,#f5f9fe,#f5f9fe,#f5f9fe,#f4f9fe,#f4f9fe,#f4f9fe,#f4f9fe,#f4f9fe,#f4f9fe,#f3f8fe,#f3f8fe,#f3f8fe,#f2f8fd,#f2f7fd,#f2f7fd,#f1f7fd,#f0f6fd,#eff6fc,#eff6fc,#eff6fc,#edf4fc,#e7f1fa,#d9e7f5,#bfd8ed,#97c6df,#65aad4,#4090c5,#2676b8,#125ea6,#084a91,#083a7a,#08326e,#08326e,#08326e,#084285,#115ca5,#2777b8,#4493c7,#6aaed6,#95c5df,#add0e6,#bed8ec,#c9ddf0,#d0e2f2,#d7e6f5,#deebf7,#e3eef8,#e7f1fa,#ebf3fb,#eef5fc,#eff6fc,#f0f6fd,#f2f7fd,#f2f7fd,#f2f8fd,#f3f8fe,#f3f8fe,#f3f8fe,#f3f8fe,#f3f8fe)"></i>
<i style="background:linear-gradient(90deg,#f5f9fe,#f5f9fe,#f5f9fe,#f5f9fe,#f4f9fe,#f4f9fe,#f4f9fe,#f4f9fe,#f4f9fe,#f4f9fe,#f3f8fe,#f3f8fe,#f3f8fe,#f2f8fd,#f2f8fd,#f2f7fd,#f1f7fd,#eff6fc,#eef5fc,#eef5fc,#eef5fc,#edf4fc,#e7f1fa,#d9e7f5,#c1d9ed,#99c7e0,#66abd4,#4191c6,#2777b8,#1460a8,#084d96,#083c7d,#083471,#083471,#083573,#08458a,#135fa7,#2b7bba,#4896c8,#6fb0d7,#9ac8e0,#afd1e7,#bfd8ed,#cadef0,#d1e2f3,#d8e7f5,#deebf7,#e3eef9,#e7f1fa,#ebf3fb,#eef5fc,#eff6fc,#f0f6fd,#f2f7fd,#f2f7fd,#f2f8fd,#f3f8fe,#f3f8fe,#f3f8fe,#f3f8fe,#f3f8fe)"></i>
<i style="background:linear-gradient(90deg,#f5f9fe,#f5f9fe,#f5f9fe,#f5f9fe,#f4f9fe,#f4f9fe,#f4f9fe,#f4f9fe,#f4f9fe,#f4f9fe,#f3f8fe,#f3f8fe,#f3f8fe,#f2f8fd,#f2f8fd,#f2f7fd,#f0f6fd,#eff6fc,#eef5fc,#eef5fc,#eef5fc,#ecf4fb,#e7f1fa,#d9e7f5,#c2d9ee,#9ac8e0,#68acd5,#4493c7,#2979b9,#1663aa,#08519c,#084082,#083776,#083776,#083979,#084990,#1562a9,#2f7fbc,#4d99ca,#75b4d8,#9fcae1,#b3d3e8,#c2d9ee,#cbdef1,#d2e3f3,#d9e7f5,#dfebf7,#e3eef9,#e7f1fa,#eaf3fb,#eef5fc,#eff6fc,#f0f6fd,#f2f7fd,#f2f7fd,#f2f8fd,#f3f8fe,#f3f8fe,#f3f8fe,#f3f8fe,#f3f8fe)"></i>
<i style="background:linear-gradient(90deg,#f5f9fe,#f5f9fe,#f5f9fe,#f5f9fe,#f4f9fe,#f4f9fe,#f4f9fe,#f4f9fe,#f4f9fe,#f4f9fe,#f3f8fe,#f3f8fe,#f3f8fe,#f2f8fd,#f2f8fd,#f2f7fd,#f0f6fd,#eef5fc,#eef5fc,#eef5fc,#eef5fc,#ecf4fb,#e7f1fa,#d9e8f5,#c2d9ee,#9cc9e1,#6aaed6,#4594c7,#2b7bba,#1865ac,#0b559f,#084488,#083a7a,#083b7c,#083e81,#084e98,#1966ad,#3383be,#539ecd,#7cb7da,#a3cce3,#b5d4e9,#c4daee,#cddff1,#d3e3f3,#d9e8f5,#dfebf7,#e3eef9,#e7f1fa,#eaf3fb,#eef5fc,#eff6fc,#f0f6fd,#f2f7fd,#f2f7fd,#f2f8fd,#f3f8fe,#f3f8fe,#f3f8fe,#f3f8fe,#f3f8fe)"></i>
<i style="background:linear-gradient(90deg,#f5f9fe,#f5f9fe,#f5f9fe,#f5f9fe,#f4f9fe,#f4f9fe,#f4f9fe,#f4f9fe,#f4f9fe,#f4f9fe,#f3f8fe,#f3f8fe,#f3f8fe,#f2f8fd,#f2f8fd,#f2f7fd,#f0f6fd,#eef5fc,#eef5fc,#eef5fc,#eef5fc,#ebf3fb,#e7f1fa,#d9e8f5,#c3daee,#9dcae1,#6caed6,#4695c8,#2c7cba,#1967ad,#0d57a1,#08478d,#083d7f,#083e81,#084387,#09529d,#1b69af,#3787c0,#58a1cf,#82bbdb,#a8cee4,#b9d6ea,#c7dbef,#cde0f1,#d4e4f4,#dae8f6,#dfecf7,#e3eef9,#e7f1fa,#eaf3fb,#eef5fc,#eff6fc,#f0f6fd,#f2f7fd,#f2f7fd,#f2f8fd,#f3f8fe,#f3f8fe,#f3f8fe,#f3f8fe,#f3f8fe)"></i>
<i style="background:linear-gradient(90deg,#f5f9fe,#f5f9fe,#f5f9fe,#f5f9fe,#f4f9fe,#f4f9fe,#f4f9fe,#f4f9fe,#f4f9fe,#f4f9fe,#f3f8fe,#f3f8fe,#f3f8fe,#f2f8fd,#f2f8fd,#f2f7fd,#f0f6fd,#eef5fc,#edf4fc,#edf4fc,#edf4fc,#ebf3fb,#e7f1fa,#d9e8f5,#c3daee,#9fcae1,#6caed6,#4896c8,#2d7dbb,#1b69af,#0e59a2,#084a91,#084184,#084387,#08478d,#0b559f,#1d6cb1,#3a8ac2,#5da5d1,#8abfdd,#add0e6,#bdd7ec,#c8dcf0,#cfe1f2,#d5e5f4,#dbe9f6,#e0ecf8,#e4eff9,#e7f1fa,#eaf3fb,#eef5fc,#eff6fc,#f0f6fd,#f2f7fd,#f2f7fd,#f2f8fd,#f3f8fe,#f3f8fe,#f3f8fe,#f3f8fe,#f3f8fe)"></i>
<i style="background:linear-gradient(90deg,#f5f9fe,#f5f9fe,#f5f9fe,#f5f9fe,#f4f9fe,#f4f9fe,#f4f9fe,#f4f9fe,#f4f9fe,#f4f9fe,#f3f8fe,#f3f8fe,#f3f8fe,#f2f8fd,#f2f8fd,#f2f7fd,#f0f6fd,#eef5fc,#edf4fc,#edf4fc,#edf4fc,#ebf3fb,#e7f1fa,#d9e8f5,#c4daee,#9fcae1,#6dafd7,#4997c9,#2e7ebc,#1c6ab0,#105ba4,#084d96,#08458a,#08478d,#084c95,#0e59a2,#2070b4,#3e8ec4,#64a9d3,#92c4de,#b2d2e8,#c1d9ed,#caddf0,#d0e2f2,#d6e6f4,#dceaf6,#e1edf8,#e5eff9,#e8f1fa,#ebf3fb,#eef5fc,#eff6fc,#f0f6fd,#f2f7fd,#f2f7fd,#f2f8fd,#f3f8fe,#f3f8fe,#f3f8fe,#f3f8fe,#f3f8fe)"></i>
<i style="background:linear-gradient(90deg,#f5f9fe,#f5f9fe,#f5f9fe,#f5f9fe,#f4f9fe,#f4f9fe,#f4f9fe,#f4f9fe,#f4f9fe,#f4f9fe,#f3f8fe,#f3f8fe,#f3f8fe,#f2f8fd,#f2f8fd,#f2f7fd,#f0f6fd,#eef5fc,#ecf4fb,#ecf4fb,#ecf4fb,#ebf3fb,#e7f1fa,#dae8f6,#c4daee,#9fcae1,#6fb0d7,#4997c9,#2f7fbc,#1c6bb0,#125da6,#08509b,#084990,#084b93,#08509b,#125da6,#2373b6,#4292c6,#6caed6,#9cc9e1,#b9d6ea,#c4daee,#cbdef1,#d2e3f3,#d8e7f5,#ddeaf7,#e2edf8,#e6f0f9,#e8f1fa,#ebf3fb,#eef5fc,#eff6fc,#f0f6fd,#f1f7fd,#f2f7fd,#f2f8fd,#f3f8fe,#f3f8fe,#f3f8fe,#f3f8fe,#f3f8fe)"></i>
<i style="background:linear-gradient(90deg,#f5f9fe,#f5f9fe,#f5f9fe,#f5f9fe,#f4f9fe,#f4f9fe,#f4f9fe,#f4f9fe,#f4f9fe,#f4f9fe,#f3f8fe,#f3f8fe,#f3f8fe,#f2f8fd,#f2f8fd,#f2f7fd,#f0f6fd,#eef5fc,#ecf4fb,#ecf4fb,#ecf4fb,#eaf3fb,#e7f1fa,#dae8f6,#c4daee,#a0cbe2,#6fb0d7,#4a98c9,#3080bd,#1d6cb1,#125ea6,#0a539e,#084d96,#08509b,#0a549e,#1561a9,#2676b8,#4896c8,#74b3d8,#a4cce3,#bfd8ed,#c8dcf0,#cddff1,#d3e4f3,#d9e8f5,#dfebf7,#e3eef9,#e7f0fa,#e9f2fa,#ebf3fb,#eef5fc,#eff6fc,#f0f6fd,#f1f7fd,#f2f7fd,#f2f8fd,#f3f8fe,#f3f8fe,#f3f8fe,#f3f8fe,#f3f8fe)"></i>
<i style="background:linear-gradient(90deg,#f5f9fe,#f5f9fe,#f5f9fe,#f5f9fe,#f4f9fe,#f4f9fe,#f4f9fe,#f4f9fe,#f4f9fe,#f4f9fe,#f3f8fe,#f3f8fe,#f3f8fe,#f2f8fd,#f2f8fd,#f2f7fd,#f0f6fd,#edf4fc,#ecf4fb,#ecf4fb,#ecf4fb,#eaf3fb,#e7f1fa,#dae8f6,#c6dbef,#a0cbe2,#71b1d7,#4b98ca,#3181bd,#1e6db2,#135fa7,#0c56a0,#09529d,#0a549e,#0e59a2,#1865ac,#2a7ab9,#4b98ca,#7db8da,#abd0e6,#c6dbef,#cadef0,#cfe1f2,#d5e5f4,#dbe9f6,#e0ecf8,#e4eff9,#e7f1fa,#eaf2fb,#ebf3fb,#eef5fc,#eef5fc,#f0f6fd,#f1f7fd,#f2f7fd,#f2f8fd,#f3f8fe,#f3f8fe,#f3f8fe,#f3f8fe,#f3f8fe)"></i>
<i style="background:linear-gradient(90deg,#f5f9fe,#f5f9fe,#f5f9fe,#f5f9fe,#f4f9fe,#f4f9fe,#f4f9fe,#f4f9fe,#f4f9fe,#f4f9fe,#f3f8fe,#f3f8fe,#f3f8fe,#f2f8fd,#f2f8fd,#f2f7fd,#f0f6fd,#edf4fc,#ebf3fb,#ebf3fb,#ebf3fb,#eaf3fb,#e7f1fa,#dae8f6,#c6dbef,#a1cbe2,#71b1d7,#4b98ca,#3181bd,#1f6eb3,#1561a9,#0e59a2,#0c56a0,#0e58a2,#125da6,#1a68ae,#2d7dbb,#519ccc,#85bcdc,#b3d3e8,#caddf0,#cde0f1,#d0e2f2,#d6e6f4,#dceaf6,#e1edf8,#e5eff9,#e8f1fa,#eaf2fb,#ecf4fb,#eef5fc,#eef5fc,#f0f6fd,#f1f7fd,#f2f7fd,#f2f8fd,#f3f8fe,#f3f8fe,#f3f8fe,#f3f8fe,#f3f8fe)"></i>
<i style="background:linear-gradient(90deg,#f5f9fe,#f5f9fe,#f5f9fe,#f5f9fe,#f4f9fe,#f4f9fe,#f4f9fe,#f4f9fe,#f4f9fe,#f4f9fe,#f3f8fe,#f3f8fe,#f3f8fe,#f2f8fd,#f2f8fd,#f2f7fd,#eff6fc,#edf4fc,#ebf3fb,#ebf3fb,#ebf3fb,#eaf3fb,#e7f1fa,#dae8f6,#c6dbef,#a1cbe2,#72b2d8,#4d99ca,#3282be,#206fb4,#1562a9,#115ca5,#0e59a2,#105ba4,#1460a8,#1d6cb1,#3080bd,#56a0ce,#8cc0dd,#b8d5ea,#cddff1,#d0e1f2,#d2e3f3,#d7e6f5,#deebf7,#e3eef8,#e7f0fa,#e9f2fa,#eaf3fb,#ecf4fb,#eef5fc,#eef5fc,#f0f6fd,#f1f7fd,#f2f7fd,#f2f8fd,#f3f8fe,#f3f8fe,#f3f8fe,#f3f8fe,#f3f8fe)"></i>
<i style="background:linear-gradient(90deg,#f5f9fe,#f5f9fe,#f5f9fe,#f5f9fe,#f4f9fe,#f4f9fe,#f4f9fe,#f4f9fe,#f4f9fe,#f4f9fe,#f3f8fe,#f3f8fe,#f3f8fe,#f2f8fd,#f2f8fd,#f2f7fd,#eff6fc,#edf4fc,#ebf3fb,#ebf3fb,#ebf3fb,#eaf3fb,#e7f1fa,#dae8f6,#c6dbef,#a1cbe2,#72b2d8,#4e9acb,#3383be,#206fb4,#1663aa,#125ea6,#105ba4,#125ea6,#1663aa,#1f6eb3,#3383be,#5aa2cf,#92c4de,#bdd7ec,#cfe1f2,#d1e2f3,#d3e4f3,#d9e7f5,#dfebf7,#e3eef9,#e7f1fa,#eaf2fb,#ebf3fb,#ecf4fb,#eef5fc,#eef5fc,#f0f6fd,#f1f7fd,#f2f7fd,#f2f8fd,#f3f8fe,#f3f8fe,#f3f8fe,#f3f8fe,#f3f8fe)"></i>
<i style="background:linear-gradient(90deg,#f5f9fe,#f5f9fe,#f5f9fe,#f5f9fe,#f4f9fe,#f4f9fe,#f4f9fe,#f4f9fe,#f4f9fe,#f4f9fe,#f3f8fe,#f3f8fe,#f3f8fe,#f2f8fd,#f2f8fd,#f2f7fd,#eff6fc,#edf4fc,#ebf3fb,#ebf3fb,#ebf3fb,#eaf3fb,#e7f1fa,#dae8f6,#c7dbef,#a3cce3,#74b3d8,#4f9bcb,#3484bf,#2171b5,#1865ac,#135fa7,#125da6,#1460a8,#1865ac,#2171b5,#3585bf,#5da5d1,#97c6df,#c1d9ed,#d1e2f3,#d3e4f3,#d5e5f4,#dae8f6,#e0ecf8,#e4eff9,#e8f1fa,#eaf3fb,#ecf4fb,#edf4fc,#eef5fc,#eef5fc,#f0f6fd,#f1f7fd,#f2f7fd,#f2f8fd,#f3f8fe,#f3f8fe,#f3f8fe,#f3f8fe,#f3f8fe)"></i>
<i style="background:linear-gradient(90deg,#f5f9fe,#f5f9fe,#f5f9fe,#f5f9fe,#f4f9fe,#f4f9fe,#f4f9fe,#f4f9fe,#f4f9fe,#f4f9fe,#f3f8fe,#f3f8fe,#f3f8fe,#f2f8fd,#f2f8fd,#f2f7fd,#eff6fc,#edf4fc,#ebf3fb,#ebf3fb,#ebf3fb,#eaf3fb,#e7f1fa,#dbe9f6,#c7dbef,#a4cce3,#75b4d8,#4f9bcb,#3585bf,#2272b6,#1966ad,#1561a9,#135fa7,#1561a9,#1967ad,#2373b6,#3888c1,#60a7d2,#9cc9e1,#c4daee,#d3e3f3,#d5e5f4,#d6e6f4,#dbe9f6,#e1edf8,#e6f0f9,#e9f2fa,#eaf3fb,#ecf4fb,#edf4fc,#eef5fc,#eef5fc,#eff6fc,#f1f7fd,#f2f7fd,#f2f8fd,#f3f8fe,#f3f8fe,#f3f8fe,#f3f8fe,#f3f8fe)"></i>
<i style="background:linear-gradient(90deg,#f5f9fe,#f5f9fe,#f5f9fe,#f5f9fe,#f4f9fe,#f4f9fe,#f4f9fe,#f4f9fe,#f4f9fe,#f4f9fe,#f3f8fe,#f3f8fe,#f3f8fe,#f2f8fd,#f2f8fd,#f2f7fd,#eff6fc,#edf4fc,#ebf3fb,#ebf3fb,#ebf3fb,#eaf3fb,#e7f1fa,#dbe9f6,#c7dbef,#a4cce3,#77b5d9,#519ccc,#3686c0,#2373b6,#1967ad,#1562a9,#1460a8,#1562a9,#1a68ae,#2575b7,#3a8ac2,#64a9d3,#9fcae1,#c7dbef,#d4e4f4,#d6e6f4,#d8e7f5,#dceaf6,#e2edf8,#e7f0fa,#eaf2fb,#ebf3fb,#edf4fc,#edf4fc,#eef5fc,#eef5fc,#eff6fc,#f1f7fd,#f2f7fd,#f2f8fd,#f3f8fe,#f3f8fe,#f3f8fe,#f3f8fe,#f3f8fe)"></i>
<i style="background:linear-gradient(90deg,#f5f9fe,#f5f9fe,#f5f9fe,#f5f9fe,#f4f9fe,#f4f9fe,#f4f9fe,#f4f9fe,#f4f9fe,#f4f9fe,#f3f8fe,#f3f8fe,#f3f8fe,#f2f8fd,#f2f8fd,#f2f7fd,#eff6fc,#edf4fc,#ebf3fb,#ebf3fb,#ebf3fb,#eaf3fb,#e7f1fa,#dbe9f6,#c7dcef,#a5cde3,#77b5d9,#529dcc,#3686c0,#2474b7,#1a68ae,#1663aa,#1561a9,#1764ab,#1c6ab0,#2676b8,#3c8cc3,#66abd4,#a3cce3,#c8dcf0,#d6e5f4,#d7e6f5,#d9e7f5,#ddeaf7,#e3eef9,#e7f1fa,#eaf3fb,#ecf4fb,#eef5fc,#eef5fc,#eef5fc,#eef5fc,#eff6fc,#f1f7fd,#f2f7fd,#f2f8fd,#f3f8fe,#f3f8fe,#f3f8fe,#f3f8fe,#f3f8fe)"></i>
<i style="background:linear-gradient(90deg,#f5f9fe,#f5f9fe,#f5f9fe,#f5f9fe,#f4f9fe,#f4f9fe,#f4f9fe,#f4f9fe,#f4f9fe,#f4f9fe,#f3f8fe,#f3f8fe,#f3f8fe,#f2f8fd,#f2f8fd,#f2f7fd,#eff6fc,#edf4fc,#ebf3fb,#ebf3fb,#ebf3fb,#eaf3fb,#e7f1fa,#dbe9f6,#c7dcef,#a5cde3,#79b5d9,#539ecd,#3787c0,#2575b7,#1b69af,#1764ab,#1562a9,#1865ac,#1c6bb0,#2979b9,#3f8fc5,#69add5,#a5cde3,#caddf0,#d7e6f5,#d9e7f5,#dae8f6,#dfebf7,#e4eff9,#e8f1fa,#ebf3fb,#edf4fc,#eef5fc,#eef5fc,#eef5fc,#eef5fc,#eff6fc,#f1f7fd,#f2f7fd,#f2f8fd,#f3f8fe,#f3f8fe,#f3f8fe,#f3f8fe,#f3f8fe)"></i>
<i style="background:linear-gradient(90deg,#f5f9fe,#f5f9fe,#f5f9fe,#f5f9fe,#f4f9fe,#f4f9fe,#f4f9fe,#f4f9fe,#f4f9fe,#f4f9fe,#f3f8fe,#f3f8fe,#f3f8fe,#f2f8fd,#f2f8fd,#f2f7fd,#eff6fc,#edf4fc,#ebf3fb,#ebf3fb,#ebf3fb,#eaf3fb,#e7f1fa,#dbe9f6,#c7dcef,#a6cee4,#7ab6d9,#549fcd,#3888c1,#2676b8,#1c6ab0,#1865ac,#1663aa,#1966ad,#1d6cb1,#2b7bba,#4191c6,#6caed6,#a8cee4,#cbdef1,#d8e7f5,#dae8f6,#dce9f6,#e0ecf8,#e5eff9,#e9f2fa,#ecf4fb,#eef5fc,#eef5fc,#eef5fc,#eef5fc,#eef5fc,#eff6fc,#f1f7fd,#f2f7fd,#f2f8fd,#f3f8fe,#f3f8fe,#f3f8fe,#f3f8fe,#f3f8fe)"></i>
<i style="background:linear-gradient(90deg,#f5f9fe,#f5f9fe,#f5f9fe,#f5f9fe,#f4f9fe,#f4f9fe,#f4f9fe,#f4f9fe,#f4f9fe,#f4f9fe,#f3f8fe,#f3f8fe,#f3f8fe,#f2f8fd,#f2f8fd,#f2f7fd,#eff6fc,#edf4fc,#ebf3fb,#ebf3fb,#ebf3fb,#eaf3fb,#e7f1fa,#dbe9f6,#c7dcef,#a6cee4,#7cb7da,#56a0ce,#3989c1,#2777b8,#1d6cb1,#1966ad,#1764ab,#1967ad,#1e6db2,#2d7dbb,#4493c7,#71b1d7,#aacfe5,#ccdff1,#d9e8f5,#dbe9f6,#ddeaf7,#e1edf8,#e6f0f9,#eaf2fb,#edf4fc,#eef5fc,#eef5fc,#eef5fc,#eef5fc,#eef5fc,#eff6fc,#f1f7fd,#f2f7fd,#f2f8fd,#f3f8fe,#f3f8fe,#f3f8fe,#f3f8fe,#f3f8fe)"></i>
<i style="background:linear-gradient(90deg,#f5f9fe,#f5f9fe,#f5f9fe,#f5f9fe,#f4f9fe,#f4f9fe,#f4f9fe,#f4f9fe,#f4f9fe,#f4f9fe,#f3f8fe,#f3f8fe,#f3f8fe,#f2f8fd,#f2f8fd,#f2f7fd,#eff6fc,#edf4fc,#ebf3fb,#ebf3fb,#ebf3fb,#eaf3fb,#e7f1fa,#dbe9f6,#c8dcf0,#a8cee4,#7db8da,#57a0ce,#3a8ac2,#2979b9,#1e6db2,#1967ad,#1865ac,#1a68ae,#206fb4,#2f7fbc,#4896c8,#74b3d8,#aed1e7,#cde0f1,#dae8f6,#dceaf6,#deebf7,#e2edf8,#e7f0fa,#eaf3fb,#edf4fc,#eef5fc,#eff6fc,#eef5fc,#eef5fc,#eef5fc,#eff6fc,#f1f7fd,#f2f7fd,#f2f8fd,#f3f8fe,#f3f8fe,#f3f8fe,#f3f8fe,#f3f8fe)"></i>
<i style="background:linear-gradient(90deg,#f5f9fe,#f5f9fe,#f5f9fe,#f5f9fe,#f4f9fe,#f4f9fe,#f4f9fe,#f4f9fe,#f4f9fe,#f4f9fe,#f3f8fe,#f3f8fe,#f3f8fe,#f2f8fd,#f2f8fd,#f2f7fd,#eff6fc,#edf4fc,#ebf3fb,#ebf3fb,#ebf3fb,#eaf3fb,#e7f1fa,#dbe9f6,#c8dcf0,#a9cfe5,#81badb,#58a1cf,#3b8bc2,#2a7ab9,#1f6eb3,#1b69af,#1966ad,#1c6ab0,#2171b5,#3181bd,#4a98c9,#79b5d9,#b0d2e7,#cfe1f2,#dce9f6,#deebf7,#dfecf7,#e3eef9,#e7f1fa,#ebf3fb,#eef5fc,#eff6fc,#eff6fc,#eef5fc,#eef5fc,#eef5fc,#eff6fc,#f1f7fd,#f2f7fd,#f2f8fd,#f3f8fe,#f3f8fe,#f3f8fe,#f3f8fe,#f3f8fe)"></i>
<i style="background:linear-gradient(90deg,#f5f9fe,#f5f9fe,#f5f9fe,#f5f9fe,#f4f9fe,#f4f9fe,#f4f9fe,#f4f9fe,#f4f9fe,#f4f9fe,#f3f8fe,#f3f8fe,#f3f8fe,#f2f8fd,#f2f8fd,#f2f7fd,#eff6fc,#edf4fc,#ebf3fb,#ebf3fb,#ebf3fb,#eaf3fb,#e7f1fa,#dbe9f6,#c9ddf0,#aacfe5,#82bbdb,#5aa2cf,#3d8dc4,#2c7cba,#2070b4,#1c6ab0,#1a68ae,#1c6bb0,#2373b6,#3383be,#4e9acb,#7cb7da,#b4d3e9,#d0e2f2,#ddeaf7,#dfebf7,#e1edf8,#e4eff9,#e8f1fa,#ebf3fb,#eef5fc,#eff6fc,#f0f6fd,#eef5fc,#eef5fc,#eef5fc,#eff6fc,#f1f7fd,#f2f7fd,#f2f8fd,#f3f8fe,#f3f8fe,#f3f8fe,#f3f8fe,#f3f8fe)"></i>
<i style="background:linear-gradient(90deg,#f5f9fe,#f5f9fe,#f5f9fe,#f5f9fe,#f4f9fe,#f4f9fe,#f4f9fe,#f4f9fe,#f4f9fe,#f4f9fe,#f3f8fe,#f3f8fe,#f3f8fe,#f2f8fd,#f2f8fd,#f2f7fd,#eff6fc,#edf4fc,#ebf3fb,#ebf3fb,#ebf3fb,#eaf3fb,#e7f1fa,#dbe9f6,#c9ddf0,#abd0e6,#85bcdc,#5ca4d0,#3e8ec4,#2d7dbb,#2171b5,#1d6cb1,#1b69af,#1e6db2,#2575b7,#3686c0,#529dcc,#81badb,#b7d4ea,#d2e3f3,#deebf7,#e0ecf8,#e2edf8,#e6f0f9,#e9f2fa,#ecf4fb,#eef5fc,#eff6fc,#f0f6fd,#eef5fc,#eef5fc,#eef5fc,#eff6fc,#f1f7fd,#f2f7fd,#f2f8fd,#f3f8fe,#f3f8fe,#f3f8fe,#f3f8fe,#f3f8fe)"></i>
<i style="background:linear-gradient(90deg,#f5f9fe,#f5f9fe,#f5f9fe,#f5f9fe,#f4f9fe,#f4f9fe,#f4f9fe,#f4f9fe,#f4f9fe,#f4f9fe,#f3f8fe,#f3f8fe,#f3f8fe,#f2f8fd,#f2f8fd,#f2f7fd,#eff6fc,#edf4fc,#ebf3fb,#ebf3fb,#ebf3fb,#eaf3fb,#e7f1fa,#dce9f6,#c9ddf0,#add0e6,#87bddc,#5fa6d1,#4090c5,#2f7fbc,#2272b6,#1e6db2,#1c6bb0,#206fb4,#2777b8,#3888c1,#549fcd,#85bcdc,#bad6eb,#d3e4f3,#dfecf7,#e2edf8,#e3eef9,#e7f0fa,#eaf2fb,#ecf4fb,#eef5fc,#f0f6fd,#f1f7fd,#eff6fc,#eef5fc,#eef5fc,#eff6fc,#f1f7fd,#f2f7fd,#f2f8fd,#f3f8fe,#f3f8fe,#f3f8fe,#f3f8fe,#f3f8fe)"></i>
<i style="background:linear-gradient(90deg,#f5f9fe,#f5f9fe,#f5f9fe,#f5f9fe,#f4f9fe,#f4f9fe,#f4f9fe,#f4f9fe,#f4f9fe,#f4f9fe,#f3f8fe,#f3f8fe,#f3f8fe,#f2f8fd,#f2f8fd,#f2f7fd,#eff6fc,#edf4fc,#ebf3fb,#ebf3fb,#ebf3fb,#eaf3fb,#e7f1fa,#dce9f6,#caddf0,#afd1e7,#8abfdd,#61a7d2,#4292c6,#3080bd,#2474b7,#206fb4,#1d6cb1,#2171b5,#2b7bba,#3b8bc2,#58a1cf,#8abfdd,#bdd7ec,#d5e5f4,#e0ecf8,#e3eef8,#e5eff9,#e7f1fa,#eaf3fb,#edf4fc,#eef5fc,#f0f6fd,#f1f7fd,#eff6fc,#eef5fc,#eef5fc,#eff6fc,#f1f7fd,#f2f7fd,#f2f8fd,#f3f8fe,#f3f8fe,#f3f8fe,#f3f8fe,#f3f8fe)"></i>
<i style="background:linear-gradient(90deg,#f5f9fe,#f5f9fe,#f5f9fe,#f5f9fe,#f4f9fe,#f4f9fe,#f4f9fe,#f4f9fe,#f4f9fe,#f4f9fe,#f3f8fe,#f3f8fe,#f3f8fe,#f2f8fd,#f2f8fd,#f2f7fd,#eff6fc,#edf4fc,#ebf3fb,#ebf3fb,#ebf3fb,#eaf3fb,#e7f1fa,#dce9f6,#cadef0,#b0d2e7,#8fc2de,#64a9d3,#4594c7,#3282be,#2676b8,#2070b4,#1f6eb3,#2373b6,#2e7ebc,#3e8ec4,#5ca4d0,#8dc1dd,#c1d9ed,#d6e6f4,#e2edf8,#e4eff9,#e6f0f9,#e9f2fa,#ebf3fb,#edf4fc,#eef5fc,#f0f6fd,#f1f7fd,#eff6fc,#eef5fc,#eef5fc,#eff6fc,#f1f7fd,#f2f7fd,#f2f8fd,#f3f8fe,#f3f8fe,#f3f8fe,#f3f8fe,#f3f8fe)"></i>
<i style="background:linear-gradient(90deg,#f5f9fe,#f5f9fe,#f5f9fe,#f5f9fe,#f4f9fe,#f4f9fe,#f4f9fe,#f4f9fe,#f4f9fe,#f4f9fe,#f3f8fe,#f3f8fe,#f3f8fe,#f2f8fd,#f2f8fd,#f2f7fd,#eff6fc,#edf4fc,#ebf3fb,#ebf3fb,#ebf3fb,#eaf3fb,#e7f1fa,#dce9f6,#cadef0,#b2d2e8,#92c4de,#68acd5,#4896c8,#3484bf,#2979b9,#2272b6,#2070b4,#2575b7,#3080bd,#4191c6,#60a7d2,#94c4df,#c4daee,#d8e7f5,#e3eef8,#e5eff9,#e7f1fa,#eaf2fb,#ecf4fb,#eef5fc,#eff6fc,#f0f6fd,#f2f7fd,#eff6fc,#eef5fc,#eef5fc,#eff6fc,#f1f7fd,#f2f7fd,#f2f8fd,#f3f8fe,#f3f8fe,#f3f8fe,#f3f8fe,#f3f8fe)"></i>
<i style="background:linear-gradient(90deg,#f5f9fe,#f5f9fe,#f5f9fe,#f5f9fe,#f4f9fe,#f4f9fe,#f4f9fe,#f4f9fe,#f4f9fe,#f4f9fe,#f3f8fe,#f3f8fe,#f3f8fe,#f2f8fd,#f2f8fd,#f2f7fd,#eff6fc,#edf4fc,#ebf3fb,#ebf3fb,#ebf3fb,#eaf3fb,#e7f1fa,#dce9f6,#cbdef1,#b4d3e9,#97c6df,#6caed6,#4b98ca,#3787c0,#2b7bba,#2474b7,#2272b6,#2777b8,#3484bf,#4594c7,#64a9d3,#99c7e0,#c7dcef,#d9e8f5,#e4eff9,#e7f0fa,#e8f1fa,#eaf3fb,#edf4fc,#eef5fc,#eff6fc,#f1f7fd,#f2f7fd,#eff6fc,#eef5fc,#eef5fc,#eff6fc,#f1f7fd,#f2f7fd,#f2f8fd,#f3f8fe,#f3f8fe,#f3f8fe,#f3f8fe,#f3f8fe)"></i>
<i style="background:linear-gradient(90deg,#f5f9fe,#f5f9fe,#f5f9fe,#f5f9fe,#f4f9fe,#f4f9fe,#f4f9fe,#f4f9fe,#f4f9fe,#f4f9fe,#f3f8fe,#f3f8fe,#f3f8fe,#f2f8fd,#f2f8fd,#f2f7fd,#eff6fc,#edf4fc,#ebf3fb,#ebf3fb,#ebf3fb,#eaf3fb,#e7f1fa,#dceaf6,#ccdff1,#b7d4ea,#9ac8e0,#71b1d7,#4f9bcb,#3989c1,#2d7dbb,#2777b8,#2575b7,#2b7bba,#3787c0,#4a98c9,#69add5,#9dcae1,#caddf0,#dbe9f6,#e5eff9,#e7f1fa,#e9f2fa,#ebf3fb,#edf4fc,#eef5fc,#eff6fc,#f1f7fd,#f2f7fd,#eff6fc,#eef5fc,#eef5fc,#eff6fc,#f1f7fd,#f2f7fd,#f2f8fd,#f3f8fe,#f3f8fe,#f3f8fe,#f3f8fe,#f3f8fe)"></i>
<i style="background:linear-gradient(90deg,#f5f9fe,#f5f9fe,#f5f9fe,#f5f9fe,#f4f9fe,#f4f9fe,#f4f9fe,#f4f9fe,#f4f9fe,#f4f9fe,#f3f8fe,#f3f8fe,#f3f8fe,#f2f8fd,#f2f8fd,#f2f7fd,#eff6fc,#edf4fc,#ebf3fb,#ebf3fb,#ebf3fb,#eaf3fb,#e7f1fa,#dceaf6,#cddff1,#b9d6ea,#9fcae1,#75b4d8,#539ecd,#3d8dc4,#3080bd,#2b7bba,#2979b9,#2f7fbc,#3b8bc2,#4f9bcb,#6fb0d7,#a3cce3,#ccdff1,#dceaf6,#e6f0f9,#e8f1fa,#eaf2fb,#ecf4fb,#eef5fc,#eef5fc,#eff6fc,#f1f7fd,#f2f7fd,#eff6fc,#eef5fc,#eef5fc,#eff6fc,#f1f7fd,#f2f7fd,#f2f8fd,#f3f8fe,#f3f8fe,#f3f8fe,#f3f8fe,#f3f8fe)"></i>
<i style="background:linear-gradient(90deg,#f5f9fe,#f5f9fe,#f5f9fe,#f5f9fe,#f4f9fe,#f4f9fe,#f4f9fe,#f4f9fe,#f4f9fe,#f4f9fe,#f3f8fe,#f3f8fe,#f3f8fe,#f2f8fd,#f2f8fd,#f2f7fd,#eff6fc,#edf4fc,#ebf3fb,#ebf3fb,#ebf3fb,#eaf3fb,#e7f1fa,#ddeaf7,#cee0f2,#bdd7ec,#a4cce3,#7cb7da,#5aa2cf,#4292c6,#3585bf,#2f7fbc,#2d7dbb,#3383be,#4090c5,#56a0ce,#77b5d9,#a9cfe5,#cee0f2,#deebf7,#e7f1fa,#e9f2fa,#eaf3fb,#edf4fc,#eef5fc,#eff6fc,#f0f6fd,#f1f7fd,#f2f7fd,#eff6fc,#eef5fc,#eef5fc,#eff6fc,#f1f7fd,#f2f7fd,#f2f8fd,#f3f8fe,#f3f8fe,#f3f8fe,#f3f8fe,#f3f8fe)"></i>
<i style="background:linear-gradient(90deg,#f5f9fe,#f5f9fe,#f5f9fe,#f5f9fe,#f4f9fe,#f4f9fe,#f4f9fe,#f4f9fe,#f4f9fe,#f4f9fe,#f3f8fe,#f3f8fe,#f3f8fe,#f2f8fd,#f2f8fd,#f2f7fd,#eff6fc,#edf4fc,#ebf3fb,#ebf3fb,#ebf3fb,#eaf3fb,#e7f1fa,#deebf7,#d0e1f2,#c1d9ed,#a9cfe5,#85bcdc,#61a7d2,#4a98c9,#3b8bc2,#3585bf,#3282be,#3989c1,#4896c8,#5da5d1,#81badb,#afd1e7,#d1e2f3,#dfecf7,#e8f1fa,#eaf3fb,#ebf3fb,#eef5fc,#eff6fc,#f0f6fd,#f0f6fd,#f1f7fd,#f2f7fd,#eff6fc,#eef5fc,#eef5fc,#eff6fc,#f1f7fd,#f2f7fd,#f2f8fd,#f3f8fe,#f3f8fe,#f3f8fe,#f3f8fe,#f3f8fe)"></i>
<i style="background:linear-gradient(90deg,#f5f9fe,#f5f9fe,#f5f9fe,#f5f9fe,#f4f9fe,#f4f9fe,#f4f9fe,#f4f9fe,#f4f9fe,#f4f9fe,#f3f8fe,#f3f8fe,#f3f8fe,#f2f8fd,#f2f8fd,#f2f7fd,#eff6fc,#edf4fc,#ebf3fb,#ebf3fb,#ebf3fb,#eaf3fb,#e8f1fa,#dfebf7,#d2e3f3,#c4daee,#aed1e7,#8dc1dd,#6aaed6,#539ecd,#4292c6,#3b8bc2,#3888c1,#3f8fc5,#4f9bcb,#65aad4,#8abfdd,#b5d4e9,#d4e4f4,#e2edf8,#e9f2fa,#ebf3fb,#edf4fc,#eef5fc,#f0f6fd,#f0f6fd,#f1f7fd,#f1f7fd,#f2f7fd,#eff6fc,#eef5fc,#eef5fc,#eff6fc,#f1f7fd,#f2f7fd,#f2f8fd,#f3f8fe,#f3f8fe,#f3f8fe,#f3f8fe,#f3f8fe)"></i>
<i style="background:linear-gradient(90deg,#f5f9fe,#f5f9fe,#f5f9fe,#f5f9fe,#f4f9fe,#f4f9fe,#f4f9fe,#f4f9fe,#f4f9fe,#f4f9fe,#f3f8fe,#f3f8fe,#f3f8fe,#f2f8fd,#f2f8fd,#f2f7fd,#eff6fc,#edf4fc,#ebf3fb,#ebf3fb,#ebf3fb,#eaf3fb,#e8f1fa,#e0ecf8,#d3e4f3,#c8dcf0,#b4d3e9,#99c7e0,#77b5d9,#5da5d1,#4d99ca,#4292c6,#3f8fc5,#4896c8,#58a1cf,#6fb0d7,#94c4df,#bdd7ec,#d7e6f5,#e3eef9,#eaf3fb,#ecf4fb,#edf4fc,#eff6fc,#f0f6fd,#f1f7fd,#f1f7fd,#f2f7fd,#f2f7fd,#eff6fc,#eef5fc,#eef5fc,#eff6fc,#f1f7fd,#f2f7fd,#f2f8fd,#f3f8fe,#f3f8fe,#f3f8fe,#f3f8fe,#f3f8fe)"></i>
<i style="background:linear-gradient(90deg,#f5f9fe,#f5f9fe,#f5f9fe,#f5f9fe,#f4f9fe,#f4f9fe,#f4f9fe,#f4f9fe,#f4f9fe,#f4f9fe,#f3f8fe,#f3f8fe,#f3f8fe,#f2f8fd,#f2f8fd,#f2f7fd,#eff6fc,#edf4fc,#ebf3fb,#ebf3fb,#ebf3fb,#eaf3fb,#e9f2fa,#e1edf8,#d6e5f4,#cbdef1,#b9d6ea,#a1cbe2,#82bbdb,#68acd5,#57a0ce,#4d99ca,#4896c8,#519ccc,#61a7d2,#7ab6d9,#9fcae1,#c3daee,#dae8f6,#e5eff9,#ebf3fb,#edf4fc,#eef5fc,#f0f6fd,#f1f7fd,#f1f7fd,#f1f7fd,#f2f7fd,#f2f7fd,#eff6fc,#eef5fc,#eef5fc,#eff6fc,#f1f7fd,#f2f7fd,#f2f8fd,#f3f8fe,#f3f8fe,#f3f8fe,#f3f8fe,#f3f8fe)"></i>
<i style="background:linear-gradient(90deg,#f5f9fe,#f5f9fe,#f5f9fe,#f5f9fe,#f4f9fe,#f4f9fe,#f4f9fe,#f4f9fe,#f4f9fe,#f4f9fe,#f3f8fe,#f3f8fe,#f3f8fe,#f2f8fd,#f2f8fd,#f2f7fd,#eff6fc,#edf4fc,#ebf3fb,#ebf3fb,#ebf3fb,#eaf3fb,#e9f2fa,#e2edf8,#d8e7f5,#cde0f1,#bfd8ed,#a9cfe5,#8fc2de,#74b3d8,#61a7d2,#57a0ce,#529dcc,#5aa2cf,#6aaed6,#85bcdc,#a8cee4,#c9ddf0,#dceaf6,#e7f0fa,#ecf4fb,#eef5fc,#eef5fc,#f0f6fd,#f1f7fd,#f2f7fd,#f2f7fd,#f2f7fd,#f2f7fd,#eff6fc,#eef5fc,#eef5fc,#eff6fc,#f1f7fd,#f2f7fd,#f2f8fd,#f3f8fe,#f3f8fe,#f3f8fe,#f3f8fe,#f3f8fe)"></i>
<i style="background:linear-gradient(90deg,#f5f9fe,#f5f9fe,#f5f9fe,#f5f9fe,#f4f9fe,#f4f9fe,#f4f9fe,#f4f9fe,#f4f9fe,#f4f9fe,#f3f8fe,#f3f8fe,#f3f8fe,#f2f8fd,#f2f8fd,#f2f7fd,#eff6fc,#edf4fc,#ebf3fb,#ebf3fb,#ebf3fb,#eaf3fb,#e9f2fa,#e3eef9,#dae8f6,#d0e2f2,#c4daee,#b0d2e7,#9ac8e0,#81badb,#6caed6,#61a7d2,#5ca4d0,#64a9d3,#75b4d8,#91c3de,#afd1e7,#cddff1,#dfecf7,#e8f1fa,#edf4fc,#eef5fc,#eff6fc,#f1f7fd,#f2f7fd,#f2f7fd,#f2f7fd,#f2f7fd,#f2f7fd,#eff6fc,#eef5fc,#eef5fc,#eff6fc,#f1f7fd,#f2f7fd,#f2f8fd,#f3f8fe,#f3f8fe,#f3f8fe,#f3f8fe,#f3f8fe)"></i>
<i style="background:linear-gradient(90deg,#f5f9fe,#f5f9fe,#f5f9fe,#f5f9fe,#f4f9fe,#f4f9fe,#f4f9fe,#f4f9fe,#f4f9fe,#f4f9fe,#f3f8fe,#f3f8fe,#f3f8fe,#f2f8fd,#f2f8fd,#f2f7fd,#eff6fc,#edf4fc,#ebf3fb,#ebf3fb,#ebf3fb,#eaf3fb,#eaf2fb,#e4eff9,#dce9f6,#d3e3f3,#c9ddf0,#b8d5ea,#a4cce3,#8dc1dd,#79b5d9,#6aaed6,#65aad4,#6dafd7,#81badb,#9cc9e1,#b7d4ea,#d0e2f2,#e2edf8,#eaf2fb,#eef5fc,#eef5fc,#eff6fc,#f1f7fd,#f2f7fd,#f2f7fd,#f2f7fd,#f2f7fd,#f2f7fd,#eff6fc,#eef5fc,#eef5fc,#eff6fc,#f1f7fd,#f2f7fd,#f2f8fd,#f3f8fe,#f3f8fe,#f3f8fe,#f3f8fe,#f3f8fe)"></i>
<i style="background:linear-gradient(90deg,#f5f9fe,#f5f9fe,#f5f9fe,#f5f9fe,#f4f9fe,#f4f9fe,#f4f9fe,#f4f9fe,#f4f9fe,#f4f9fe,#f3f8fe,#f3f8fe,#f3f8fe,#f2f8fd,#f2f8fd,#f2f7fd,#eff6fc,#edf4fc,#ebf3fb,#ebf3fb,#ebf3fb,#ebf3fb,#eaf2fb,#e5eff9,#ddeaf7,#d5e5f4,#cbdef1,#bed8ec,#add0e6,#99c7e0,#85bcdc,#77b5d9,#71b1d7,#7ab6d9,#8cc0dd,#a4cce3,#bed8ec,#d3e4f3,#e3eef9,#eaf3fb,#eef5fc,#eff6fc,#f0f6fd,#f1f7fd,#f2f7fd,#f2f7fd,#f2f7fd,#f2f7fd,#f2f7fd,#eff6fc,#eef5fc,#eef5fc,#eff6fc,#f1f7fd,#f2f7fd,#f2f8fd,#f3f8fe,#f3f8fe,#f3f8fe,#f3f8fe,#f3f8fe)"></i>
<i style="background:linear-gradient(90deg,#f5f9fe,#f5f9fe,#f5f9fe,#f5f9fe,#f4f9fe,#f4f9fe,#f4f9fe,#f4f9fe,#f4f9fe,#f4f9fe,#f3f8fe,#f3f8fe,#f3f8fe,#f2f8fd,#f2f8fd,#f2f7fd,#eff6fc,#edf4fc,#ebf3fb,#ebf3fb,#ebf3fb,#ebf3fb,#eaf2fb,#e6f0f9,#dfebf7,#d7e6f5,#cee0f2,#c4daee,#b4d3e9,#a3cce3,#91c3de,#85bcdc,#7fb9da,#87bddc,#97c6df,#add0e6,#c6dbef,#d7e6f5,#e6f0f9,#ebf3fb,#eef5fc,#eff6fc,#f0f6fd,#f1f7fd,#f2f7fd,#f2f7fd,#f1f7fd,#f2f7fd,#f2f7fd,#eff6fc,#eef5fc,#eef5fc,#eff6fc,#f1f7fd,#f2f7fd,#f2f8fd,#f3f8fe,#f3f8fe,#f3f8fe,#f3f8fe,#f3f8fe)"></i>
<i style="background:linear-gradient(90deg,#f5f9fe,#f5f9fe,#f5f9fe,#f5f9fe,#f4f9fe,#f4f9fe,#f4f9fe,#f4f9fe,#f4f9fe,#f4f9fe,#f3f8fe,#f3f8fe,#f3f8fe,#f2f8fd,#f2f8fd,#f2f7fd,#eff6fc,#edf4fc,#ebf3fb,#ebf3fb,#ebf3fb,#ebf3fb,#eaf3fb,#e7f0fa,#e0ecf8,#d9e8f5,#d1e2f3,#c9ddf0,#bcd7eb,#abd0e6,#9dcae1,#92c4de,#8dc1dd,#94c4df,#a1cbe2,#b5d4e9,#cadef0,#dae8f6,#e7f1fa,#edf4fc,#eff6fc,#f0f6fd,#f1f7fd,#f1f7fd,#f2f7fd,#f1f7fd,#f1f7fd,#f1f7fd,#f1f7fd,#eff6fc,#eef5fc,#eef5fc,#eff6fc,#f1f7fd,#f2f7fd,#f2f8fd,#f3f8fe,#f3f8fe,#f3f8fe,#f3f8fe,#f3f8fe)"></i>
<i style="background:linear-gradient(90deg,#f5f9fe,#f5f9fe,#f5f9fe,#f5f9fe,#f4f9fe,#f4f9fe,#f4f9fe,#f4f9fe,#f4f9fe,#f4f9fe,#f3f8fe,#f3f8fe,#f3f8fe,#f2f8fd,#f2f8fd,#f2f7fd,#eff6fc,#edf4fc,#ebf3fb,#ebf3fb,#ebf3fb,#ebf3fb,#eaf3fb,#e7f1fa,#e2edf8,#dbe9f6,#d4e4f4,#cddff1,#c4daee,#b4d3e9,#a8cee4,#a0cbe2,#9cc9e1,#a1cbe2,#abd0e6,#bdd7ec,#cfe1f2,#deebf7,#e9f2fa,#eef5fc,#f0f6fd,#f0f6fd,#f1f7fd,#f2f7fd,#f2f7fd,#f1f7fd,#f0f6fd,#f1f7fd,#f1f7fd,#eff6fc,#eef5fc,#eef5fc,#eff6fc,#f1f7fd,#f2f7fd,#f2f8fd,#f3f8fe,#f3f8fe,#f3f8fe,#f3f8fe,#f3f8fe)"></i>
<i style="background:linear-gradient(90deg,#f5f9fe,#f5f9fe,#f5f9fe,#f5f9fe,#f4f9fe,#f4f9fe,#f4f9fe,#f4f9fe,#f4f9fe,#f4f9fe,#f3f8fe,#f3f8fe,#f3f8fe,#f2f8fd,#f2f8fd,#f2f7fd,#eff6fc,#edf4fc,#ebf3fb,#ebf3fb,#ebf3fb,#ebf3fb,#eaf3fb,#e8f1fa,#e3eef8,#ddeaf7,#d6e6f4,#d0e2f2,#caddf0,#bed8ec,#b2d2e8,#abd0e6,#a9cfe5,#add0e6,#b4d3e9,#c6dbef,#d3e4f3,#e1edf8,#eaf3fb,#eef5fc,#f0f6fd,#f1f7fd,#f1f7fd,#f2f7fd,#f2f7fd,#f1f7fd,#f0f6fd,#f0f6fd,#f1f7fd,#eff6fc,#eef5fc,#eef5fc,#eff6fc,#f1f7fd,#f2f7fd,#f2f8fd,#f3f8fe,#f3f8fe,#f3f8fe,#f3f8fe,#f3f8fe)"></i>
<i style="background:linear-gradient(90deg,#f5f9fe,#f5f9fe,#f5f9fe,#f5f9fe,#f4f9fe,#f4f9fe,#f4f9fe,#f4f9fe,#f4f9fe,#f4f9fe,#f3f8fe,#f3f8fe,#f3f8fe,#f2f8fd,#f2f8fd,#f2f7fd,#eff6fc,#edf4fc,#ebf3fb,#ebf3fb,#ebf3fb,#ebf3fb,#eaf3fb,#e8f1fa,#e4eff9,#dfebf7,#d9e8f5,#d4e4f4,#cee0f2,#c7dbef,#bdd7ec,#b8d5ea,#b5d4e9,#b8d5ea,#bed8ec,#cbdef1,#d8e7f5,#e4eff9,#ecf4fb,#eff6fc,#f1f7fd,#f1f7fd,#f2f7fd,#f2f7fd,#f2f7fd,#f0f6fd,#eff6fc,#f0f6fd,#f0f6fd,#eff6fc,#eef5fc,#eef5fc,#eff6fc,#f1f7fd,#f2f7fd,#f2f8fd,#f3f8fe,#f3f8fe,#f3f8fe,#f3f8fe,#f3f8fe)"></i>
<i style="background:linear-gradient(90deg,#f5f9fe,#f5f9fe,#f5f9fe,#f5f9fe,#f4f9fe,#f4f9fe,#f4f9fe,#f4f9fe,#f4f9fe,#f4f9fe,#f3f8fe,#f3f8fe,#f3f8fe,#f2f8fd,#f2f8fd,#f2f7fd,#eff6fc,#edf4fc,#ebf3fb,#ebf3fb,#ebf3fb,#ebf3fb,#ebf3fb,#e9f2fa,#e6f0f9,#e1edf8,#dce9f6,#d7e6f5,#d3e3f3,#ccdff1,#c7dbef,#c4daee,#c3daee,#c4daee,#c7dcef,#d0e2f2,#dceaf6,#e7f1fa,#eef5fc,#f0f6fd,#f1f7fd,#f2f7fd,#f2f7fd,#f2f7fd,#f2f7fd,#f0f6fd,#eef5fc,#eff6fc,#f0f6fd,#eef5fc,#eef5fc,#eef5fc,#eff6fc,#f1f7fd,#f2f7fd,#f2f8fd,#f3f8fe,#f3f8fe,#f3f8fe,#f3f8fe,#f3f8fe)"></i>
<i style="background:linear-gradient(90deg,#f5f9fe,#f5f9fe,#f5f9fe,#f5f9fe,#f4f9fe,#f4f9fe,#f4f9fe,#f4f9fe,#f4f9fe,#f4f9fe,#f3f8fe,#f3f8fe,#f3f8fe,#f2f8fd,#f2f8fd,#f2f7fd,#eff6fc,#edf4fc,#ebf3fb,#ebf3fb,#ebf3fb,#ebf3fb,#ebf3fb,#eaf2fb,#e7f0fa,#e3eef8,#deebf7,#dbe9f6,#d8e7f5,#d2e3f3,#cde0f1,#cddff1,#cddff1,#cddff1,#cde0f1,#d6e5f4,#e1edf8,#eaf3fb,#eff6fc,#f1f7fd,#f2f7fd,#f2f7fd,#f2f7fd,#f2f7fd,#f2f7fd,#eff6fc,#eef5fc,#eef5fc,#eff6fc,#eef5fc,#eef5fc,#eef5fc,#eff6fc,#f1f7fd,#f2f7fd,#f2f8fd,#f3f8fe,#f3f8fe,#f3f8fe,#f3f8fe,#f3f8fe)"></i>
</div>
<svg width="1000" height="1269" viewBox="0 0 1000 1269">
<defs>
<clipPath id="c0"><rect x="121" y="33.6" width="852.7" height="332.3"/></clipPath>
<clipPath id="c1"><rect x="121" y="448" width="852.7" height="332.3"/></clipPath>
<clipPath id="c2"><rect x="121" y="862.4" width="852.7" height="332.3"/></clipPath>
</defs>
<path class="g" d="M121 59.2H973.7M121 84.7H973.7M121 110.3H973.7M121 135.8H973.7M121 161.4H973.7M121 187H973.7M121 212.5H973.7M121 238.1H973.7M121 263.7H973.7M121 289.2H973.7M121 314.8H973.7M121 340.3H973.7M261.2 33.6V365.9M403.7 33.6V365.9M546.2 33.6V365.9M688.7 33.6V365.9M831.2 33.6V365.9"/>
<g class="d" clip-path="url(#c0)">
<circle cx="463.5" cy="33.6" r="2.9"/>
<circle cx="519" cy="33.6" r="2.9"/>
<circle cx="523.5" cy="33.6" r="2.9"/>
<circle cx="549" cy="33.6" r="2.9"/>
<circle cx="552" cy="33.6" r="2.9"/>
<circle cx="555" cy="33.6" r="2.9"/>
<circle cx="558" cy="33.6" r="2.9"/>
<circle cx="561" cy="33.6" r="2.9"/>
<circle cx="564" cy="33.6" r="2.9"/>
<circle cx="567" cy="33.6" r="2.9"/>
<circle cx="570" cy="33.6" r="2.9"/>
<circle cx="594" cy="33.6" r="2.9"/>
<circle cx="603" cy="33.6" r="2.9"/>
<circle cx="613.5" cy="33.6" r="2.9"/>
<circle cx="619.5" cy="33.6" r="2.9"/>
<circle cx="636" cy="33.6" r="2.9"/>
<circle cx="642" cy="33.6" r="2.9"/>
<circle cx="646.5" cy="33.6" r="2.9"/>
<circle cx="670.5" cy="33.6" r="2.9"/>
<circle cx="673.5" cy="33.6" r="2.9"/>
<circle cx="694.5" cy="33.6" r="2.9"/>
<circle cx="700" cy="33.6" r="2.9"/>
<circle cx="705" cy="33.6" r="2.9"/>
<circle cx="710" cy="33.6" r="2.9"/>
<circle cx="714" cy="33.6" r="2.9"/>
<circle cx="729" cy="33.6" r="2.9"/>
<circle cx="464" cy="168.8" r="2.9"/>
<circle cx="518.6" cy="168.8" r="2.9"/>
<circle cx="524.2" cy="168.8" r="2.9"/>
<circle cx="550" cy="168.8" r="2.9"/>
<circle cx="553" cy="168.8" r="2.9"/>
<circle cx="555.6" cy="168.8" r="2.9"/>
<circle cx="558.2" cy="168.8" r="2.9"/>
<circle cx="561" cy="168.8" r="2.9"/>
<circle cx="564" cy="168.8" r="2.9"/>
<circle cx="567" cy="168.8" r="2.9"/>
<circle cx="569.6" cy="168.8" r="2.9"/>
<circle cx="586.6" cy="168.8" r="2.9"/>
<circle cx="592.4" cy="168.8" r="2.9"/>
<circle cx="595" cy="168.8" r="2.9"/>
<circle cx="604" cy="168.8" r="2.9"/>
<circle cx="615.6" cy="168.8" r="2.9"/>
<circle cx="621.2" cy="168.8" r="2.9"/>
<circle cx="635.6" cy="168.8" r="2.9"/>
<circle cx="641" cy="168.8" r="2.9"/>
<circle cx="649" cy="168.8" r="2.9"/>
<circle cx="652.4" cy="168.8" r="2.9"/>
<circle cx="666" cy="168.8" r="2.9"/>
<circle cx="669.6" cy="168.8" r="2.9"/>
<circle cx="675.4" cy="168.8" r="2.9"/>
<circle cx="681" cy="168.8" r="2.9"/>
<circle cx="686.6" cy="168.8" r="2.9"/>
<circle cx="695" cy="168.8" r="2.9"/>
<circle cx="703.6" cy="168.8" r="2.9"/>
<circle cx="709" cy="168.8" r="2.9"/>
<circle cx="712" cy="168.8" r="2.9"/>
<circle cx="715" cy="168.8" r="2.9"/>
<circle cx="718" cy="168.8" r="2.9"/>
<circle cx="720.6" cy="168.8" r="2.9"/>
<circle cx="729" cy="168.8" r="2.9"/>
<circle cx="751.6" cy="168.8" r="2.9"/>
<circle cx="762.6" cy="168.8" r="2.9"/>
<circle cx="765.6" cy="168.8" r="2.9"/>
<circle cx="768.6" cy="168.8" r="2.9"/>
<circle cx="774.4" cy="168.8" r="2.9"/>
<circle cx="780" cy="168.8" r="2.9"/>
<circle cx="803.5" cy="168.8" r="2.9"/>
<circle cx="806" cy="168.8" r="2.9"/>
<circle cx="826" cy="168.8" r="2.9"/>
<circle cx="840" cy="168.8" r="2.9"/>
<circle cx="928.2" cy="168.8" r="2.9"/>
<circle cx="543.6" cy="179" r="2.9"/>
<circle cx="558" cy="179" r="2.9"/>
<circle cx="606.6" cy="179" r="2.9"/>
<circle cx="617.6" cy="179" r="2.9"/>
<circle cx="643.5" cy="179" r="2.9"/>
<circle cx="654.4" cy="179" r="2.9"/>
<circle cx="675" cy="179" r="2.9"/>
<circle cx="729" cy="179" r="2.9"/>
<circle cx="751.6" cy="179" r="2.9"/>
<circle cx="777.2" cy="179" r="2.9"/>
<circle cx="797.4" cy="179" r="2.9"/>
<circle cx="549.6" cy="228.8" r="2.9"/>
<circle cx="558" cy="228.8" r="2.9"/>
<circle cx="569.6" cy="228.8" r="2.9"/>
<circle cx="588.4" cy="228.8" r="2.9"/>
<circle cx="592.4" cy="228.8" r="2.9"/>
<circle cx="603.6" cy="228.8" r="2.9"/>
<circle cx="618" cy="228.8" r="2.9"/>
<circle cx="649" cy="228.8" r="2.9"/>
<circle cx="655" cy="228.8" r="2.9"/>
<circle cx="666" cy="228.8" r="2.9"/>
<circle cx="672" cy="228.8" r="2.9"/>
<circle cx="683.6" cy="228.8" r="2.9"/>
<circle cx="464" cy="239" r="2.9"/>
<circle cx="518.6" cy="239" r="2.9"/>
<circle cx="524.2" cy="239" r="2.9"/>
<circle cx="550" cy="239" r="2.9"/>
<circle cx="553" cy="239" r="2.9"/>
<circle cx="555.6" cy="239" r="2.9"/>
<circle cx="558.2" cy="239" r="2.9"/>
<circle cx="561" cy="239" r="2.9"/>
<circle cx="564" cy="239" r="2.9"/>
<circle cx="567" cy="239" r="2.9"/>
<circle cx="569.6" cy="239" r="2.9"/>
<circle cx="586.6" cy="239" r="2.9"/>
<circle cx="592.4" cy="239" r="2.9"/>
<circle cx="595" cy="239" r="2.9"/>
<circle cx="604" cy="239" r="2.9"/>
<circle cx="615.6" cy="239" r="2.9"/>
<circle cx="621.2" cy="239" r="2.9"/>
<circle cx="635.6" cy="239" r="2.9"/>
<circle cx="641" cy="239" r="2.9"/>
<circle cx="649" cy="239" r="2.9"/>
<circle cx="652.4" cy="239" r="2.9"/>
<circle cx="666" cy="239" r="2.9"/>
<circle cx="669.6" cy="239" r="2.9"/>
<circle cx="675.4" cy="239" r="2.9"/>
<circle cx="681" cy="239" r="2.9"/>
<circle cx="686.6" cy="239" r="2.9"/>
<circle cx="695" cy="239" r="2.9"/>
<circle cx="703.6" cy="239" r="2.9"/>
<circle cx="709" cy="239" r="2.9"/>
<circle cx="712" cy="239" r="2.9"/>
<circle cx="715" cy="239" r="2.9"/>
<circle cx="718" cy="239" r="2.9"/>
<circle cx="720.6" cy="239" r="2.9"/>
<circle cx="729" cy="239" r="2.9"/>
<circle cx="751.6" cy="239" r="2.9"/>
<circle cx="762.6" cy="239" r="2.9"/>
<circle cx="765.6" cy="239" r="2.9"/>
<circle cx="768.6" cy="239" r="2.9"/>
<circle cx="774.4" cy="239" r="2.9"/>
<circle cx="780" cy="239" r="2.9"/>
<circle cx="803.5" cy="239" r="2.9"/>
<circle cx="806" cy="239" r="2.9"/>
<circle cx="826" cy="239" r="2.9"/>
<circle cx="840" cy="239" r="2.9"/>
<circle cx="928.2" cy="239" r="2.9"/>
<circle cx="543.6" cy="241.6" r="2.9"/>
<circle cx="558" cy="241.6" r="2.9"/>
<circle cx="606.6" cy="241.6" r="2.9"/>
<circle cx="617.6" cy="241.6" r="2.9"/>
<circle cx="643.5" cy="241.6" r="2.9"/>
<circle cx="654.4" cy="241.6" r="2.9"/>
<circle cx="675" cy="241.6" r="2.9"/>
<circle cx="729" cy="241.6" r="2.9"/>
<circle cx="751.6" cy="241.6" r="2.9"/>
<circle cx="777.2" cy="241.6" r="2.9"/>
<circle cx="797.4" cy="241.6" r="2.9"/>
<circle cx="543.6" cy="275" r="2.9"/>
<circle cx="549.6" cy="275" r="2.9"/>
<circle cx="553" cy="275" r="2.9"/>
<circle cx="556" cy="275" r="2.9"/>
<circle cx="559" cy="275" r="2.9"/>
<circle cx="562" cy="275" r="2.9"/>
<circle cx="567" cy="275" r="2.9"/>
<circle cx="570" cy="275" r="2.9"/>
<circle cx="575" cy="275" r="2.9"/>
<circle cx="587" cy="275" r="2.9"/>
<circle cx="590" cy="275" r="2.9"/>
<circle cx="594" cy="275" r="2.9"/>
<circle cx="604" cy="275" r="2.9"/>
<circle cx="606.6" cy="275" r="2.9"/>
<circle cx="617.6" cy="275" r="2.9"/>
<circle cx="621" cy="275" r="2.9"/>
<circle cx="643.6" cy="275" r="2.9"/>
<circle cx="649" cy="275" r="2.9"/>
<circle cx="652" cy="275" r="2.9"/>
<circle cx="655" cy="275" r="2.9"/>
<circle cx="666" cy="275" r="2.9"/>
<circle cx="672" cy="275" r="2.9"/>
<circle cx="683.6" cy="275" r="2.9"/>
<circle cx="686.6" cy="275" r="2.9"/>
<circle cx="714.4" cy="275" r="2.9"/>
<circle cx="720.6" cy="275" r="2.9"/>
<circle cx="729" cy="275" r="2.9"/>
<circle cx="751.6" cy="275" r="2.9"/>
<circle cx="762.6" cy="275" r="2.9"/>
<circle cx="765.6" cy="275" r="2.9"/>
<circle cx="768.6" cy="275" r="2.9"/>
<circle cx="774.4" cy="275" r="2.9"/>
<circle cx="780" cy="275" r="2.9"/>
<circle cx="803.6" cy="275" r="2.9"/>
<circle cx="806" cy="275" r="2.9"/>
<circle cx="826" cy="275" r="2.9"/>
<circle cx="839" cy="275" r="2.9"/>
<circle cx="928.2" cy="275" r="2.9"/>
<circle cx="464" cy="309.2" r="2.9"/>
<circle cx="518.6" cy="309.2" r="2.9"/>
<circle cx="524.2" cy="309.2" r="2.9"/>
<circle cx="549.6" cy="309.2" r="2.9"/>
<circle cx="558" cy="309.2" r="2.9"/>
<circle cx="561" cy="309.2" r="2.9"/>
<circle cx="564" cy="309.2" r="2.9"/>
<circle cx="569.6" cy="309.2" r="2.9"/>
<circle cx="604" cy="309.2" r="2.9"/>
<circle cx="615.6" cy="309.2" r="2.9"/>
<circle cx="621.2" cy="309.2" r="2.9"/>
<circle cx="635.6" cy="309.2" r="2.9"/>
<circle cx="641" cy="309.2" r="2.9"/>
<circle cx="649" cy="309.2" r="2.9"/>
<circle cx="669.6" cy="309.2" r="2.9"/>
<circle cx="675.4" cy="309.2" r="2.9"/>
<circle cx="695" cy="309.2" r="2.9"/>
<circle cx="703.6" cy="309.2" r="2.9"/>
<circle cx="709" cy="309.2" r="2.9"/>
<circle cx="712" cy="309.2" r="2.9"/>
<circle cx="718" cy="309.2" r="2.9"/>
<circle cx="543.6" cy="312" r="2.9"/>
<circle cx="558" cy="312" r="2.9"/>
<circle cx="606.6" cy="312" r="2.9"/>
<circle cx="617.6" cy="312" r="2.9"/>
<circle cx="643.5" cy="312" r="2.9"/>
<circle cx="777.2" cy="312" r="2.9"/>
<circle cx="797.2" cy="312" r="2.9"/>
<circle cx="543.6" cy="325.8" r="2.9"/>
<circle cx="553" cy="325.8" r="2.9"/>
<circle cx="556" cy="325.8" r="2.9"/>
<circle cx="559" cy="325.8" r="2.9"/>
<circle cx="562" cy="325.8" r="2.9"/>
<circle cx="567" cy="325.8" r="2.9"/>
<circle cx="570" cy="325.8" r="2.9"/>
<circle cx="575" cy="325.8" r="2.9"/>
<circle cx="587" cy="325.8" r="2.9"/>
<circle cx="592.4" cy="325.8" r="2.9"/>
<circle cx="595" cy="325.8" r="2.9"/>
<circle cx="606.6" cy="325.8" r="2.9"/>
<circle cx="617.6" cy="325.8" r="2.9"/>
<circle cx="621" cy="325.8" r="2.9"/>
<circle cx="643.6" cy="325.8" r="2.9"/>
<circle cx="654.4" cy="325.8" r="2.9"/>
<circle cx="675" cy="325.8" r="2.9"/>
<circle cx="777.2" cy="325.8" r="2.9"/>
<circle cx="797.2" cy="325.8" r="2.9"/>
<circle cx="464" cy="365.9" r="2.9"/>
<circle cx="518" cy="365.9" r="2.9"/>
<circle cx="524" cy="365.9" r="2.9"/>
<circle cx="548" cy="365.9" r="2.9"/>
<circle cx="558" cy="365.9" r="2.9"/>
<circle cx="562" cy="365.9" r="2.9"/>
<circle cx="566" cy="365.9" r="2.9"/>
<circle cx="570" cy="365.9" r="2.9"/>
<circle cx="604" cy="365.9" r="2.9"/>
<circle cx="620" cy="365.9" r="2.9"/>
<circle cx="636" cy="365.9" r="2.9"/>
<circle cx="640" cy="365.9" r="2.9"/>
<circle cx="649" cy="365.9" r="2.9"/>
<circle cx="670" cy="365.9" r="2.9"/>
<circle cx="676" cy="365.9" r="2.9"/>
<circle cx="696" cy="365.9" r="2.9"/>
<circle cx="710" cy="365.9" r="2.9"/>
<circle cx="714" cy="365.9" r="2.9"/>
<circle cx="718" cy="365.9" r="2.9"/>
<circle cx="729" cy="365.9" r="2.9"/>
</g>
<rect class="s" x="121" y="33.6" width="852.7" height="332.3"/>
<path class="s" d="M121 33.6h-7.3M121 59.2h-7.3M121 84.7h-7.3M121 110.3h-7.3M121 135.8h-7.3M121 161.4h-7.3M121 187h-7.3M121 212.5h-7.3M121 238.1h-7.3M121 263.7h-7.3M121 289.2h-7.3M121 314.8h-7.3M121 340.3h-7.3M121 365.9h-7.3M261.2 365.9v7.3M403.7 365.9v7.3M546.2 365.9v7.3M688.7 365.9v7.3M831.2 365.9v7.3M973.7 365.9v7.3"/>
<text class="t" x="108.3" y="377.5" text-anchor="end">3542</text>
<text class="t" x="108.3" y="326.4" text-anchor="end">4614</text>
<text class="t" x="108.3" y="275.3" text-anchor="end">5685</text>
<text class="t" x="108.3" y="224.1" text-anchor="end">6757</text>
<text class="t" x="108.3" y="173" text-anchor="end">7828</text>
<text class="t" x="108.3" y="121.9" text-anchor="end">8899</text>
<text class="t" x="108.3" y="70.8" text-anchor="end">9971</text>
<text class="t" x="547.4" y="21.8" text-anchor="middle">SN2006fo</text>
<text class="l" transform="translate(20 199.8) rotate(-90)" text-anchor="middle">Effective Wavelength</text>
<path class="g" d="M121 473.6H973.7M121 499.1H973.7M121 524.7H973.7M121 550.2H973.7M121 575.8H973.7M121 601.4H973.7M121 626.9H973.7M121 652.5H973.7M121 678.1H973.7M121 703.6H973.7M121 729.2H973.7M121 754.7H973.7M261.2 448V780.3M403.7 448V780.3M546.2 448V780.3M688.7 448V780.3M831.2 448V780.3"/>
<g class="d" clip-path="url(#c1)">
<circle cx="400" cy="448" r="2.9"/>
<circle cx="467" cy="448" r="2.9"/>
<circle cx="480" cy="448" r="2.9"/>
<circle cx="487" cy="448" r="2.9"/>
<circle cx="496" cy="448" r="2.9"/>
<circle cx="506" cy="448" r="2.9"/>
<circle cx="526" cy="448" r="2.9"/>
<circle cx="534" cy="448" r="2.9"/>
<circle cx="594" cy="448" r="2.9"/>
<circle cx="611" cy="448" r="2.9"/>
<circle cx="631" cy="448" r="2.9"/>
<circle cx="640" cy="448" r="2.9"/>
<circle cx="647" cy="448" r="2.9"/>
<circle cx="656" cy="448" r="2.9"/>
<circle cx="674" cy="448" r="2.9"/>
<circle cx="691" cy="448" r="2.9"/>
<circle cx="725" cy="448" r="2.9"/>
<circle cx="736" cy="448" r="2.9"/>
<circle cx="765" cy="448" r="2.9"/>
<circle cx="472.4" cy="568.6" r="2.9"/>
<circle cx="487" cy="568.6" r="2.9"/>
<circle cx="490" cy="568.6" r="2.9"/>
<circle cx="493" cy="568.6" r="2.9"/>
<circle cx="496" cy="568.6" r="2.9"/>
<circle cx="501.6" cy="568.6" r="2.9"/>
<circle cx="504" cy="568.6" r="2.9"/>
<circle cx="523" cy="568.6" r="2.9"/>
<circle cx="529" cy="568.6" r="2.9"/>
<circle cx="532" cy="568.6" r="2.9"/>
<circle cx="535" cy="568.6" r="2.9"/>
<circle cx="538" cy="568.6" r="2.9"/>
<circle cx="541" cy="568.6" r="2.9"/>
<circle cx="544" cy="568.6" r="2.9"/>
<circle cx="549.6" cy="568.6" r="2.9"/>
<circle cx="558" cy="568.6" r="2.9"/>
<circle cx="574.6" cy="568.6" r="2.9"/>
<circle cx="583.6" cy="568.6" r="2.9"/>
<circle cx="597.6" cy="568.6" r="2.9"/>
<circle cx="603.6" cy="568.6" r="2.9"/>
<circle cx="606.6" cy="568.6" r="2.9"/>
<circle cx="609.6" cy="568.6" r="2.9"/>
<circle cx="612.6" cy="568.6" r="2.9"/>
<circle cx="615" cy="568.6" r="2.9"/>
<circle cx="620.4" cy="568.6" r="2.9"/>
<circle cx="626" cy="568.6" r="2.9"/>
<circle cx="629" cy="568.6" r="2.9"/>
<circle cx="631.6" cy="568.6" r="2.9"/>
<circle cx="643.6" cy="568.6" r="2.9"/>
<circle cx="646.6" cy="568.6" r="2.9"/>
<circle cx="649.6" cy="568.6" r="2.9"/>
<circle cx="652.6" cy="568.6" r="2.9"/>
<circle cx="658" cy="568.6" r="2.9"/>
<circle cx="663.6" cy="568.6" r="2.9"/>
<circle cx="694.4" cy="568.6" r="2.9"/>
<circle cx="703" cy="568.6" r="2.9"/>
<circle cx="720" cy="568.6" r="2.9"/>
<circle cx="759.6" cy="568.6" r="2.9"/>
<circle cx="768.6" cy="568.6" r="2.9"/>
<circle cx="780" cy="568.6" r="2.9"/>
<circle cx="783" cy="568.6" r="2.9"/>
<circle cx="786" cy="568.6" r="2.9"/>
<circle cx="789" cy="568.6" r="2.9"/>
<circle cx="805" cy="568.6" r="2.9"/>
<circle cx="813.6" cy="568.6" r="2.9"/>
<circle cx="859.6" cy="568.6" r="2.9"/>
<circle cx="413" cy="583.4" r="2.9"/>
<circle cx="465" cy="583.4" r="2.9"/>
<circle cx="468" cy="583.4" r="2.9"/>
<circle cx="471" cy="583.4" r="2.9"/>
<circle cx="481" cy="583.4" r="2.9"/>
<circle cx="489" cy="583.4" r="2.9"/>
<circle cx="492" cy="583.4" r="2.9"/>
<circle cx="495" cy="583.4" r="2.9"/>
<circle cx="498" cy="583.4" r="2.9"/>
<circle cx="503.6" cy="583.4" r="2.9"/>
<circle cx="506" cy="583.4" r="2.9"/>
<circle cx="520" cy="583.4" r="2.9"/>
<circle cx="526" cy="583.4" r="2.9"/>
<circle cx="531" cy="583.4" r="2.9"/>
<circle cx="534" cy="583.4" r="2.9"/>
<circle cx="542" cy="583.4" r="2.9"/>
<circle cx="553" cy="583.4" r="2.9"/>
<circle cx="564" cy="583.4" r="2.9"/>
<circle cx="574.6" cy="583.4" r="2.9"/>
<circle cx="594" cy="583.4" r="2.9"/>
<circle cx="603" cy="583.4" r="2.9"/>
<circle cx="611" cy="583.4" r="2.9"/>
<circle cx="614" cy="583.4" r="2.9"/>
<circle cx="624.6" cy="583.4" r="2.9"/>
<circle cx="631" cy="583.4" r="2.9"/>
<circle cx="636" cy="583.4" r="2.9"/>
<circle cx="639" cy="583.4" r="2.9"/>
<circle cx="647" cy="583.4" r="2.9"/>
<circle cx="649" cy="583.4" r="2.9"/>
<circle cx="656.6" cy="583.4" r="2.9"/>
<circle cx="673.6" cy="583.4" r="2.9"/>
<circle cx="683.6" cy="583.4" r="2.9"/>
<circle cx="689" cy="583.4" r="2.9"/>
<circle cx="691.6" cy="583.4" r="2.9"/>
<circle cx="704.6" cy="583.4" r="2.9"/>
<circle cx="722" cy="583.4" r="2.9"/>
<circle cx="725" cy="583.4" r="2.9"/>
<circle cx="736.6" cy="583.4" r="2.9"/>
<circle cx="755" cy="583.4" r="2.9"/>
<circle cx="765" cy="583.4" r="2.9"/>
<circle cx="771" cy="583.4" r="2.9"/>
<circle cx="788" cy="583.4" r="2.9"/>
<circle cx="810" cy="583.4" r="2.9"/>
<circle cx="829" cy="583.4" r="2.9"/>
<circle cx="849" cy="583.4" r="2.9"/>
<circle cx="866.4" cy="583.4" r="2.9"/>
<circle cx="881.6" cy="583.4" r="2.9"/>
<circle cx="917.6" cy="583.4" r="2.9"/>
<circle cx="936" cy="583.4" r="2.9"/>
<circle cx="472.4" cy="643.4" r="2.9"/>
<circle cx="487" cy="643.4" r="2.9"/>
<circle cx="490" cy="643.4" r="2.9"/>
<circle cx="493" cy="643.4" r="2.9"/>
<circle cx="496" cy="643.4" r="2.9"/>
<circle cx="501.6" cy="643.4" r="2.9"/>
<circle cx="504" cy="643.4" r="2.9"/>
<circle cx="523" cy="643.4" r="2.9"/>
<circle cx="529" cy="643.4" r="2.9"/>
<circle cx="532" cy="643.4" r="2.9"/>
<circle cx="535" cy="643.4" r="2.9"/>
<circle cx="538" cy="643.4" r="2.9"/>
<circle cx="541" cy="643.4" r="2.9"/>
<circle cx="544" cy="643.4" r="2.9"/>
<circle cx="549.6" cy="643.4" r="2.9"/>
<circle cx="558" cy="643.4" r="2.9"/>
<circle cx="574.6" cy="643.4" r="2.9"/>
<circle cx="583.6" cy="643.4" r="2.9"/>
<circle cx="595" cy="643.4" r="2.9"/>
<circle cx="603" cy="643.4" r="2.9"/>
<circle cx="606" cy="643.4" r="2.9"/>
<circle cx="614" cy="643.4" r="2.9"/>
<circle cx="620" cy="643.4" r="2.9"/>
<circle cx="623" cy="643.4" r="2.9"/>
<circle cx="628" cy="643.4" r="2.9"/>
<circle cx="631" cy="643.4" r="2.9"/>
<circle cx="643" cy="643.4" r="2.9"/>
<circle cx="646" cy="643.4" r="2.9"/>
<circle cx="649" cy="643.4" r="2.9"/>
<circle cx="652" cy="643.4" r="2.9"/>
<circle cx="657.6" cy="643.4" r="2.9"/>
<circle cx="663.4" cy="643.4" r="2.9"/>
<circle cx="694.4" cy="643.4" r="2.9"/>
<circle cx="703" cy="643.4" r="2.9"/>
<circle cx="717" cy="643.4" r="2.9"/>
<circle cx="720" cy="643.4" r="2.9"/>
<circle cx="751" cy="643.4" r="2.9"/>
<circle cx="759.6" cy="643.4" r="2.9"/>
<circle cx="768.6" cy="643.4" r="2.9"/>
<circle cx="780" cy="643.4" r="2.9"/>
<circle cx="783" cy="643.4" r="2.9"/>
<circle cx="786" cy="643.4" r="2.9"/>
<circle cx="789" cy="643.4" r="2.9"/>
<circle cx="805" cy="643.4" r="2.9"/>
<circle cx="813.6" cy="643.4" r="2.9"/>
<circle cx="828.4" cy="643.4" r="2.9"/>
<circle cx="859.6" cy="643.4" r="2.9"/>
<circle cx="891" cy="643.4" r="2.9"/>
<circle cx="456" cy="653.6" r="2.9"/>
<circle cx="459" cy="653.6" r="2.9"/>
<circle cx="468" cy="653.6" r="2.9"/>
<circle cx="471" cy="653.6" r="2.9"/>
<circle cx="481" cy="653.6" r="2.9"/>
<circle cx="484" cy="653.6" r="2.9"/>
<circle cx="487" cy="653.6" r="2.9"/>
<circle cx="490" cy="653.6" r="2.9"/>
<circle cx="493" cy="653.6" r="2.9"/>
<circle cx="497" cy="653.6" r="2.9"/>
<circle cx="503" cy="653.6" r="2.9"/>
<circle cx="505.6" cy="653.6" r="2.9"/>
<circle cx="520" cy="653.6" r="2.9"/>
<circle cx="526" cy="653.6" r="2.9"/>
<circle cx="531" cy="653.6" r="2.9"/>
<circle cx="534" cy="653.6" r="2.9"/>
<circle cx="542" cy="653.6" r="2.9"/>
<circle cx="553" cy="653.6" r="2.9"/>
<circle cx="556" cy="653.6" r="2.9"/>
<circle cx="564" cy="653.6" r="2.9"/>
<circle cx="574.6" cy="653.6" r="2.9"/>
<circle cx="594" cy="653.6" r="2.9"/>
<circle cx="603" cy="653.6" r="2.9"/>
<circle cx="610" cy="653.6" r="2.9"/>
<circle cx="613" cy="653.6" r="2.9"/>
<circle cx="625" cy="653.6" r="2.9"/>
<circle cx="631" cy="653.6" r="2.9"/>
<circle cx="636" cy="653.6" r="2.9"/>
<circle cx="639" cy="653.6" r="2.9"/>
<circle cx="647" cy="653.6" r="2.9"/>
<circle cx="649" cy="653.6" r="2.9"/>
<circle cx="652" cy="653.6" r="2.9"/>
<circle cx="656" cy="653.6" r="2.9"/>
<circle cx="673.6" cy="653.6" r="2.9"/>
<circle cx="688" cy="653.6" r="2.9"/>
<circle cx="691" cy="653.6" r="2.9"/>
<circle cx="704.6" cy="653.6" r="2.9"/>
<circle cx="721.6" cy="653.6" r="2.9"/>
<circle cx="725" cy="653.6" r="2.9"/>
<circle cx="736.6" cy="653.6" r="2.9"/>
<circle cx="755" cy="653.6" r="2.9"/>
<circle cx="765" cy="653.6" r="2.9"/>
<circle cx="771.4" cy="653.6" r="2.9"/>
<circle cx="788" cy="653.6" r="2.9"/>
<circle cx="810" cy="653.6" r="2.9"/>
<circle cx="829.4" cy="653.6" r="2.9"/>
<circle cx="849" cy="653.6" r="2.9"/>
<circle cx="866.4" cy="653.6" r="2.9"/>
<circle cx="881.6" cy="653.6" r="2.9"/>
<circle cx="917.6" cy="653.6" r="2.9"/>
<circle cx="936" cy="653.6" r="2.9"/>
<circle cx="444.4" cy="681.6" r="2.9"/>
<circle cx="300.6" cy="689.4" r="2.9"/>
<circle cx="356" cy="689.4" r="2.9"/>
<circle cx="380.4" cy="689.4" r="2.9"/>
<circle cx="407.4" cy="689.4" r="2.9"/>
<circle cx="457.4" cy="689.4" r="2.9"/>
<circle cx="467" cy="689.4" r="2.9"/>
<circle cx="472" cy="689.4" r="2.9"/>
<circle cx="485" cy="689.4" r="2.9"/>
<circle cx="488" cy="689.4" r="2.9"/>
<circle cx="491" cy="689.4" r="2.9"/>
<circle cx="494" cy="689.4" r="2.9"/>
<circle cx="501" cy="689.4" r="2.9"/>
<circle cx="504" cy="689.4" r="2.9"/>
<circle cx="517" cy="689.4" r="2.9"/>
<circle cx="523" cy="689.4" r="2.9"/>
<circle cx="528" cy="689.4" r="2.9"/>
<circle cx="531" cy="689.4" r="2.9"/>
<circle cx="534" cy="689.4" r="2.9"/>
<circle cx="537" cy="689.4" r="2.9"/>
<circle cx="540" cy="689.4" r="2.9"/>
<circle cx="543" cy="689.4" r="2.9"/>
<circle cx="549" cy="689.4" r="2.9"/>
<circle cx="552" cy="689.4" r="2.9"/>
<circle cx="555" cy="689.4" r="2.9"/>
<circle cx="558" cy="689.4" r="2.9"/>
<circle cx="565.6" cy="689.4" r="2.9"/>
<circle cx="574" cy="689.4" r="2.9"/>
<circle cx="577" cy="689.4" r="2.9"/>
<circle cx="582" cy="689.4" r="2.9"/>
<circle cx="584" cy="689.4" r="2.9"/>
<circle cx="595" cy="689.4" r="2.9"/>
<circle cx="598" cy="689.4" r="2.9"/>
<circle cx="604" cy="689.4" r="2.9"/>
<circle cx="607" cy="689.4" r="2.9"/>
<circle cx="610" cy="689.4" r="2.9"/>
<circle cx="613" cy="689.4" r="2.9"/>
<circle cx="620" cy="689.4" r="2.9"/>
<circle cx="623" cy="689.4" r="2.9"/>
<circle cx="628" cy="689.4" r="2.9"/>
<circle cx="632" cy="689.4" r="2.9"/>
<circle cx="643" cy="689.4" r="2.9"/>
<circle cx="646" cy="689.4" r="2.9"/>
<circle cx="649" cy="689.4" r="2.9"/>
<circle cx="652" cy="689.4" r="2.9"/>
<circle cx="657.6" cy="689.4" r="2.9"/>
<circle cx="663.4" cy="689.4" r="2.9"/>
<circle cx="672.6" cy="689.4" r="2.9"/>
<circle cx="691.6" cy="689.4" r="2.9"/>
<circle cx="694.4" cy="689.4" r="2.9"/>
<circle cx="703" cy="689.4" r="2.9"/>
<circle cx="714" cy="689.4" r="2.9"/>
<circle cx="717" cy="689.4" r="2.9"/>
<circle cx="719.6" cy="689.4" r="2.9"/>
<circle cx="752.6" cy="689.4" r="2.9"/>
<circle cx="759.6" cy="689.4" r="2.9"/>
<circle cx="768.6" cy="689.4" r="2.9"/>
<circle cx="780" cy="689.4" r="2.9"/>
<circle cx="783" cy="689.4" r="2.9"/>
<circle cx="786" cy="689.4" r="2.9"/>
<circle cx="789" cy="689.4" r="2.9"/>
<circle cx="793" cy="689.4" r="2.9"/>
<circle cx="805" cy="689.4" r="2.9"/>
<circle cx="813.6" cy="689.4" r="2.9"/>
<circle cx="828.4" cy="689.4" r="2.9"/>
<circle cx="833.6" cy="689.4" r="2.9"/>
<circle cx="859.6" cy="689.4" r="2.9"/>
<circle cx="891" cy="689.4" r="2.9"/>
<circle cx="920.6" cy="689.4" r="2.9"/>
<circle cx="923.6" cy="689.4" r="2.9"/>
<circle cx="465" cy="724" r="2.9"/>
<circle cx="468" cy="724" r="2.9"/>
<circle cx="471" cy="724" r="2.9"/>
<circle cx="481" cy="724" r="2.9"/>
<circle cx="488" cy="724" r="2.9"/>
<circle cx="491" cy="724" r="2.9"/>
<circle cx="494" cy="724" r="2.9"/>
<circle cx="497" cy="724" r="2.9"/>
<circle cx="503" cy="724" r="2.9"/>
<circle cx="506" cy="724" r="2.9"/>
<circle cx="520" cy="724" r="2.9"/>
<circle cx="526" cy="724" r="2.9"/>
<circle cx="531" cy="724" r="2.9"/>
<circle cx="534" cy="724" r="2.9"/>
<circle cx="542" cy="724" r="2.9"/>
<circle cx="553" cy="724" r="2.9"/>
<circle cx="564" cy="724" r="2.9"/>
<circle cx="574.6" cy="724" r="2.9"/>
<circle cx="594" cy="724" r="2.9"/>
<circle cx="603" cy="724" r="2.9"/>
<circle cx="611" cy="724" r="2.9"/>
<circle cx="614" cy="724" r="2.9"/>
<circle cx="625" cy="724" r="2.9"/>
<circle cx="631" cy="724" r="2.9"/>
<circle cx="636" cy="724" r="2.9"/>
<circle cx="639" cy="724" r="2.9"/>
<circle cx="647" cy="724" r="2.9"/>
<circle cx="650.5" cy="724" r="2.9"/>
<circle cx="656.5" cy="724" r="2.9"/>
<circle cx="673" cy="724" r="2.9"/>
<circle cx="689" cy="724" r="2.9"/>
<circle cx="692" cy="724" r="2.9"/>
<circle cx="704.8" cy="724" r="2.9"/>
<circle cx="721.6" cy="724" r="2.9"/>
<circle cx="725.8" cy="724" r="2.9"/>
<circle cx="737" cy="724" r="2.9"/>
<circle cx="765" cy="724" r="2.9"/>
<circle cx="771" cy="724" r="2.9"/>
<circle cx="788" cy="724" r="2.9"/>
<circle cx="810.5" cy="724" r="2.9"/>
<circle cx="829" cy="724" r="2.9"/>
<circle cx="849" cy="724" r="2.9"/>
<circle cx="866.5" cy="724" r="2.9"/>
<circle cx="881.5" cy="724" r="2.9"/>
<circle cx="917.6" cy="724" r="2.9"/>
<circle cx="935.8" cy="724" r="2.9"/>
<circle cx="467" cy="740.6" r="2.9"/>
<circle cx="472" cy="740.6" r="2.9"/>
<circle cx="485" cy="740.6" r="2.9"/>
<circle cx="488" cy="740.6" r="2.9"/>
<circle cx="491" cy="740.6" r="2.9"/>
<circle cx="494" cy="740.6" r="2.9"/>
<circle cx="501" cy="740.6" r="2.9"/>
<circle cx="504" cy="740.6" r="2.9"/>
<circle cx="517" cy="740.6" r="2.9"/>
<circle cx="523" cy="740.6" r="2.9"/>
<circle cx="528" cy="740.6" r="2.9"/>
<circle cx="531" cy="740.6" r="2.9"/>
<circle cx="534" cy="740.6" r="2.9"/>
<circle cx="537" cy="740.6" r="2.9"/>
<circle cx="540" cy="740.6" r="2.9"/>
<circle cx="543" cy="740.6" r="2.9"/>
<circle cx="549" cy="740.6" r="2.9"/>
<circle cx="552" cy="740.6" r="2.9"/>
<circle cx="555" cy="740.6" r="2.9"/>
<circle cx="558" cy="740.6" r="2.9"/>
<circle cx="565.6" cy="740.6" r="2.9"/>
<circle cx="574" cy="740.6" r="2.9"/>
<circle cx="577" cy="740.6" r="2.9"/>
<circle cx="582" cy="740.6" r="2.9"/>
<circle cx="584" cy="740.6" r="2.9"/>
<circle cx="595" cy="740.6" r="2.9"/>
<circle cx="598" cy="740.6" r="2.9"/>
<circle cx="601" cy="740.6" r="2.9"/>
<circle cx="604" cy="740.6" r="2.9"/>
<circle cx="607" cy="740.6" r="2.9"/>
<circle cx="610" cy="740.6" r="2.9"/>
<circle cx="620" cy="740.6" r="2.9"/>
<circle cx="623" cy="740.6" r="2.9"/>
<circle cx="628" cy="740.6" r="2.9"/>
<circle cx="632" cy="740.6" r="2.9"/>
<circle cx="643.5" cy="740.6" r="2.9"/>
<circle cx="646.5" cy="740.6" r="2.9"/>
<circle cx="649.5" cy="740.6" r="2.9"/>
<circle cx="652.5" cy="740.6" r="2.9"/>
<circle cx="656" cy="740.6" r="2.9"/>
<circle cx="662.7" cy="740.6" r="2.9"/>
<circle cx="672.5" cy="740.6" r="2.9"/>
<circle cx="691.8" cy="740.6" r="2.9"/>
<circle cx="695.3" cy="740.6" r="2.9"/>
<circle cx="703" cy="740.6" r="2.9"/>
<circle cx="717" cy="740.6" r="2.9"/>
<circle cx="720.5" cy="740.6" r="2.9"/>
<circle cx="752" cy="740.6" r="2.9"/>
<circle cx="760" cy="740.6" r="2.9"/>
<circle cx="781.7" cy="740.6" r="2.9"/>
<circle cx="785" cy="740.6" r="2.9"/>
<circle cx="788.7" cy="740.6" r="2.9"/>
<circle cx="804.5" cy="740.6" r="2.9"/>
<circle cx="813.3" cy="740.6" r="2.9"/>
<circle cx="828.3" cy="740.6" r="2.9"/>
<circle cx="832.5" cy="740.6" r="2.9"/>
<circle cx="836.7" cy="740.6" r="2.9"/>
<circle cx="859.5" cy="740.6" r="2.9"/>
<circle cx="891" cy="740.6" r="2.9"/>
<circle cx="921" cy="740.6" r="2.9"/>
<circle cx="924" cy="740.6" r="2.9"/>
<circle cx="480" cy="780.3" r="2.9"/>
<circle cx="487" cy="780.3" r="2.9"/>
<circle cx="496" cy="780.3" r="2.9"/>
<circle cx="506" cy="780.3" r="2.9"/>
<circle cx="526" cy="780.3" r="2.9"/>
<circle cx="534" cy="780.3" r="2.9"/>
<circle cx="594" cy="780.3" r="2.9"/>
<circle cx="611" cy="780.3" r="2.9"/>
<circle cx="631" cy="780.3" r="2.9"/>
<circle cx="640" cy="780.3" r="2.9"/>
<circle cx="647" cy="780.3" r="2.9"/>
<circle cx="656" cy="780.3" r="2.9"/>
<circle cx="674" cy="780.3" r="2.9"/>
<circle cx="691" cy="780.3" r="2.9"/>
<circle cx="725" cy="780.3" r="2.9"/>
<circle cx="736" cy="780.3" r="2.9"/>
<circle cx="765" cy="780.3" r="2.9"/>
</g>
<rect class="s" x="121" y="448" width="852.7" height="332.3"/>
<path class="s" d="M121 448h-7.3M121 473.6h-7.3M121 499.1h-7.3M121 524.7h-7.3M121 550.2h-7.3M121 575.8h-7.3M121 601.4h-7.3M121 626.9h-7.3M121 652.5h-7.3M121 678.1h-7.3M121 703.6h-7.3M121 729.2h-7.3M121 754.7h-7.3M121 780.3h-7.3M261.2 780.3v7.3M403.7 780.3v7.3M546.2 780.3v7.3M688.7 780.3v7.3M831.2 780.3v7.3M973.7 780.3v7.3"/>
<text class="t" x="108.3" y="791.9" text-anchor="end">3542</text>
<text class="t" x="108.3" y="740.8" text-anchor="end">4614</text>
<text class="t" x="108.3" y="689.7" text-anchor="end">5685</text>
<text class="t" x="108.3" y="638.5" text-anchor="end">6757</text>
<text class="t" x="108.3" y="587.4" text-anchor="end">7828</text>
<text class="t" x="108.3" y="536.3" text-anchor="end">8899</text>
<text class="t" x="108.3" y="485.2" text-anchor="end">9971</text>
<text class="t" x="547.4" y="436.2" text-anchor="middle">SN2015bn</text>
<text class="l" transform="translate(20 614.1) rotate(-90)" text-anchor="middle">Effective Wavelength</text>
<path class="g" d="M121 888H973.7M121 913.5H973.7M121 939.1H973.7M121 964.6H973.7M121 990.2H973.7M121 1015.8H973.7M121 1041.3H973.7M121 1066.9H973.7M121 1092.5H973.7M121 1118H973.7M121 1143.6H973.7M121 1169.1H973.7M261.2 862.4V1194.7M403.7 862.4V1194.7M546.2 862.4V1194.7M688.7 862.4V1194.7M831.2 862.4V1194.7"/>
<g class="d" clip-path="url(#c2)">
<circle cx="452.5" cy="862.4" r="2.9"/>
<circle cx="470" cy="862.4" r="2.9"/>
<circle cx="484" cy="862.4" r="2.9"/>
<circle cx="500.5" cy="862.4" r="2.9"/>
<circle cx="504.4" cy="862.4" r="2.9"/>
<circle cx="509.5" cy="862.4" r="2.9"/>
<circle cx="515.5" cy="862.4" r="2.9"/>
<circle cx="544" cy="862.4" r="2.9"/>
<circle cx="555.4" cy="862.4" r="2.9"/>
<circle cx="566.5" cy="862.4" r="2.9"/>
<circle cx="572" cy="862.4" r="2.9"/>
<circle cx="586.6" cy="862.4" r="2.9"/>
<circle cx="595" cy="862.4" r="2.9"/>
<circle cx="600.4" cy="862.4" r="2.9"/>
<circle cx="620.8" cy="862.4" r="2.9"/>
<circle cx="632" cy="862.4" r="2.9"/>
<circle cx="641" cy="862.4" r="2.9"/>
<circle cx="649.6" cy="862.4" r="2.9"/>
<circle cx="655" cy="862.4" r="2.9"/>
<circle cx="663.4" cy="862.4" r="2.9"/>
<circle cx="452.5" cy="997.4" r="2.9"/>
<circle cx="470" cy="997.4" r="2.9"/>
<circle cx="484" cy="997.4" r="2.9"/>
<circle cx="500.5" cy="997.4" r="2.9"/>
<circle cx="504.4" cy="997.4" r="2.9"/>
<circle cx="509.5" cy="997.4" r="2.9"/>
<circle cx="515.5" cy="997.4" r="2.9"/>
<circle cx="544" cy="997.4" r="2.9"/>
<circle cx="555.4" cy="997.4" r="2.9"/>
<circle cx="566.5" cy="997.4" r="2.9"/>
<circle cx="572" cy="997.4" r="2.9"/>
<circle cx="586.6" cy="997.4" r="2.9"/>
<circle cx="595" cy="997.4" r="2.9"/>
<circle cx="600.4" cy="997.4" r="2.9"/>
<circle cx="620.8" cy="997.4" r="2.9"/>
<circle cx="632" cy="997.4" r="2.9"/>
<circle cx="641" cy="997.4" r="2.9"/>
<circle cx="649.6" cy="997.4" r="2.9"/>
<circle cx="655" cy="997.4" r="2.9"/>
<circle cx="663.4" cy="997.4" r="2.9"/>
<circle cx="520.6" cy="1008" r="2.9"/>
<circle cx="563.5" cy="1008" r="2.9"/>
<circle cx="586" cy="1008" r="2.9"/>
<circle cx="597.4" cy="1008" r="2.9"/>
<circle cx="623" cy="1008" r="2.9"/>
<circle cx="632" cy="1008" r="2.9"/>
<circle cx="671.8" cy="1008" r="2.9"/>
<circle cx="711" cy="1008" r="2.9"/>
<circle cx="452.5" cy="1067.6" r="2.9"/>
<circle cx="470" cy="1067.6" r="2.9"/>
<circle cx="484" cy="1067.6" r="2.9"/>
<circle cx="504.4" cy="1067.6" r="2.9"/>
<circle cx="509.5" cy="1067.6" r="2.9"/>
<circle cx="515.5" cy="1067.6" r="2.9"/>
<circle cx="555.4" cy="1067.6" r="2.9"/>
<circle cx="566.5" cy="1067.6" r="2.9"/>
<circle cx="572" cy="1067.6" r="2.9"/>
<circle cx="586.6" cy="1067.6" r="2.9"/>
<circle cx="595" cy="1067.6" r="2.9"/>
<circle cx="600.4" cy="1067.6" r="2.9"/>
<circle cx="620.8" cy="1067.6" r="2.9"/>
<circle cx="632" cy="1067.6" r="2.9"/>
<circle cx="641" cy="1067.6" r="2.9"/>
<circle cx="649.6" cy="1067.6" r="2.9"/>
<circle cx="655" cy="1067.6" r="2.9"/>
<circle cx="663.4" cy="1067.6" r="2.9"/>
<circle cx="520.6" cy="1070.6" r="2.9"/>
<circle cx="563.5" cy="1070.6" r="2.9"/>
<circle cx="586" cy="1070.6" r="2.9"/>
<circle cx="597.4" cy="1070.6" r="2.9"/>
<circle cx="623" cy="1070.6" r="2.9"/>
<circle cx="632" cy="1070.6" r="2.9"/>
<circle cx="671.8" cy="1070.6" r="2.9"/>
<circle cx="711" cy="1070.6" r="2.9"/>
<circle cx="517" cy="1103.6" r="2.9"/>
<circle cx="520.6" cy="1103.6" r="2.9"/>
<circle cx="563.5" cy="1103.6" r="2.9"/>
<circle cx="586" cy="1103.6" r="2.9"/>
<circle cx="597.4" cy="1103.6" r="2.9"/>
<circle cx="623" cy="1103.6" r="2.9"/>
<circle cx="632" cy="1103.6" r="2.9"/>
<circle cx="452.5" cy="1138" r="2.9"/>
<circle cx="470" cy="1138" r="2.9"/>
<circle cx="484" cy="1138" r="2.9"/>
<circle cx="504.4" cy="1138" r="2.9"/>
<circle cx="509.5" cy="1138" r="2.9"/>
<circle cx="515.5" cy="1138" r="2.9"/>
<circle cx="555.4" cy="1138" r="2.9"/>
<circle cx="566.5" cy="1138" r="2.9"/>
<circle cx="572" cy="1138" r="2.9"/>
<circle cx="586.6" cy="1138" r="2.9"/>
<circle cx="595" cy="1138" r="2.9"/>
<circle cx="600.4" cy="1138" r="2.9"/>
<circle cx="620.8" cy="1138" r="2.9"/>
<circle cx="632" cy="1138" r="2.9"/>
<circle cx="641" cy="1138" r="2.9"/>
<circle cx="649.6" cy="1138" r="2.9"/>
<circle cx="655" cy="1138" r="2.9"/>
<circle cx="663.4" cy="1138" r="2.9"/>
<circle cx="520.6" cy="1140.8" r="2.9"/>
<circle cx="563.5" cy="1140.8" r="2.9"/>
<circle cx="586" cy="1140.8" r="2.9"/>
<circle cx="597.4" cy="1140.8" r="2.9"/>
<circle cx="623" cy="1140.8" r="2.9"/>
<circle cx="632" cy="1140.8" r="2.9"/>
<circle cx="671.8" cy="1140.8" r="2.9"/>
<circle cx="711" cy="1140.8" r="2.9"/>
<circle cx="517" cy="1154.6" r="2.9"/>
<circle cx="520.6" cy="1154.6" r="2.9"/>
<circle cx="563.5" cy="1154.6" r="2.9"/>
<circle cx="586" cy="1154.6" r="2.9"/>
<circle cx="597.4" cy="1154.6" r="2.9"/>
<circle cx="623" cy="1154.6" r="2.9"/>
<circle cx="632" cy="1154.6" r="2.9"/>
<circle cx="452.5" cy="1194.7" r="2.9"/>
<circle cx="484" cy="1194.7" r="2.9"/>
<circle cx="500.5" cy="1194.7" r="2.9"/>
<circle cx="504.4" cy="1194.7" r="2.9"/>
<circle cx="509.5" cy="1194.7" r="2.9"/>
<circle cx="515.5" cy="1194.7" r="2.9"/>
<circle cx="544" cy="1194.7" r="2.9"/>
<circle cx="555.4" cy="1194.7" r="2.9"/>
<circle cx="566.5" cy="1194.7" r="2.9"/>
<circle cx="572" cy="1194.7" r="2.9"/>
<circle cx="586.6" cy="1194.7" r="2.9"/>
<circle cx="595" cy="1194.7" r="2.9"/>
<circle cx="600.4" cy="1194.7" r="2.9"/>
<circle cx="620.8" cy="1194.7" r="2.9"/>
<circle cx="632" cy="1194.7" r="2.9"/>
<circle cx="641" cy="1194.7" r="2.9"/>
<circle cx="649.6" cy="1194.7" r="2.9"/>
<circle cx="655" cy="1194.7" r="2.9"/>
<circle cx="663.4" cy="1194.7" r="2.9"/>
</g>
<rect class="s" x="121" y="862.4" width="852.7" height="332.3"/>
<path class="s" d="M121 862.4h-7.3M121 888h-7.3M121 913.5h-7.3M121 939.1h-7.3M121 964.6h-7.3M121 990.2h-7.3M121 1015.8h-7.3M121 1041.3h-7.3M121 1066.9h-7.3M121 1092.5h-7.3M121 1118h-7.3M121 1143.6h-7.3M121 1169.1h-7.3M121 1194.7h-7.3M261.2 1194.7v7.3M403.7 1194.7v7.3M546.2 1194.7v7.3M688.7 1194.7v7.3M831.2 1194.7v7.3M973.7 1194.7v7.3"/>
<text class="t" x="108.3" y="1206.3" text-anchor="end">3542</text>
<text class="t" x="108.3" y="1155.2" text-anchor="end">4614</text>
<text class="t" x="108.3" y="1104.1" text-anchor="end">5685</text>
<text class="t" x="108.3" y="1052.9" text-anchor="end">6757</text>
<text class="t" x="108.3" y="1001.8" text-anchor="end">7828</text>
<text class="t" x="108.3" y="950.7" text-anchor="end">8899</text>
<text class="t" x="108.3" y="899.6" text-anchor="end">9971</text>
<text class="t" x="547.4" y="850.6" text-anchor="middle">SN2006hx</text>
<text class="l" transform="translate(20 1028.5) rotate(-90)" text-anchor="middle">Effective Wavelength</text>
<text class="t" x="261.2" y="1230.6" text-anchor="middle">−100</text>
<text class="t" x="403.7" y="1230.6" text-anchor="middle">−50</text>
<text class="t" x="546.2" y="1230.6" text-anchor="middle">0</text>
<text class="t" x="688.7" y="1230.6" text-anchor="middle">50</text>
<text class="t" x="831.2" y="1230.6" text-anchor="middle">100</text>
<text class="t" x="973.7" y="1230.6" text-anchor="middle">150</text>
<text class="l" x="547.4" y="1262.6" text-anchor="middle">Relative Day</text>
</svg>
</body></html>
